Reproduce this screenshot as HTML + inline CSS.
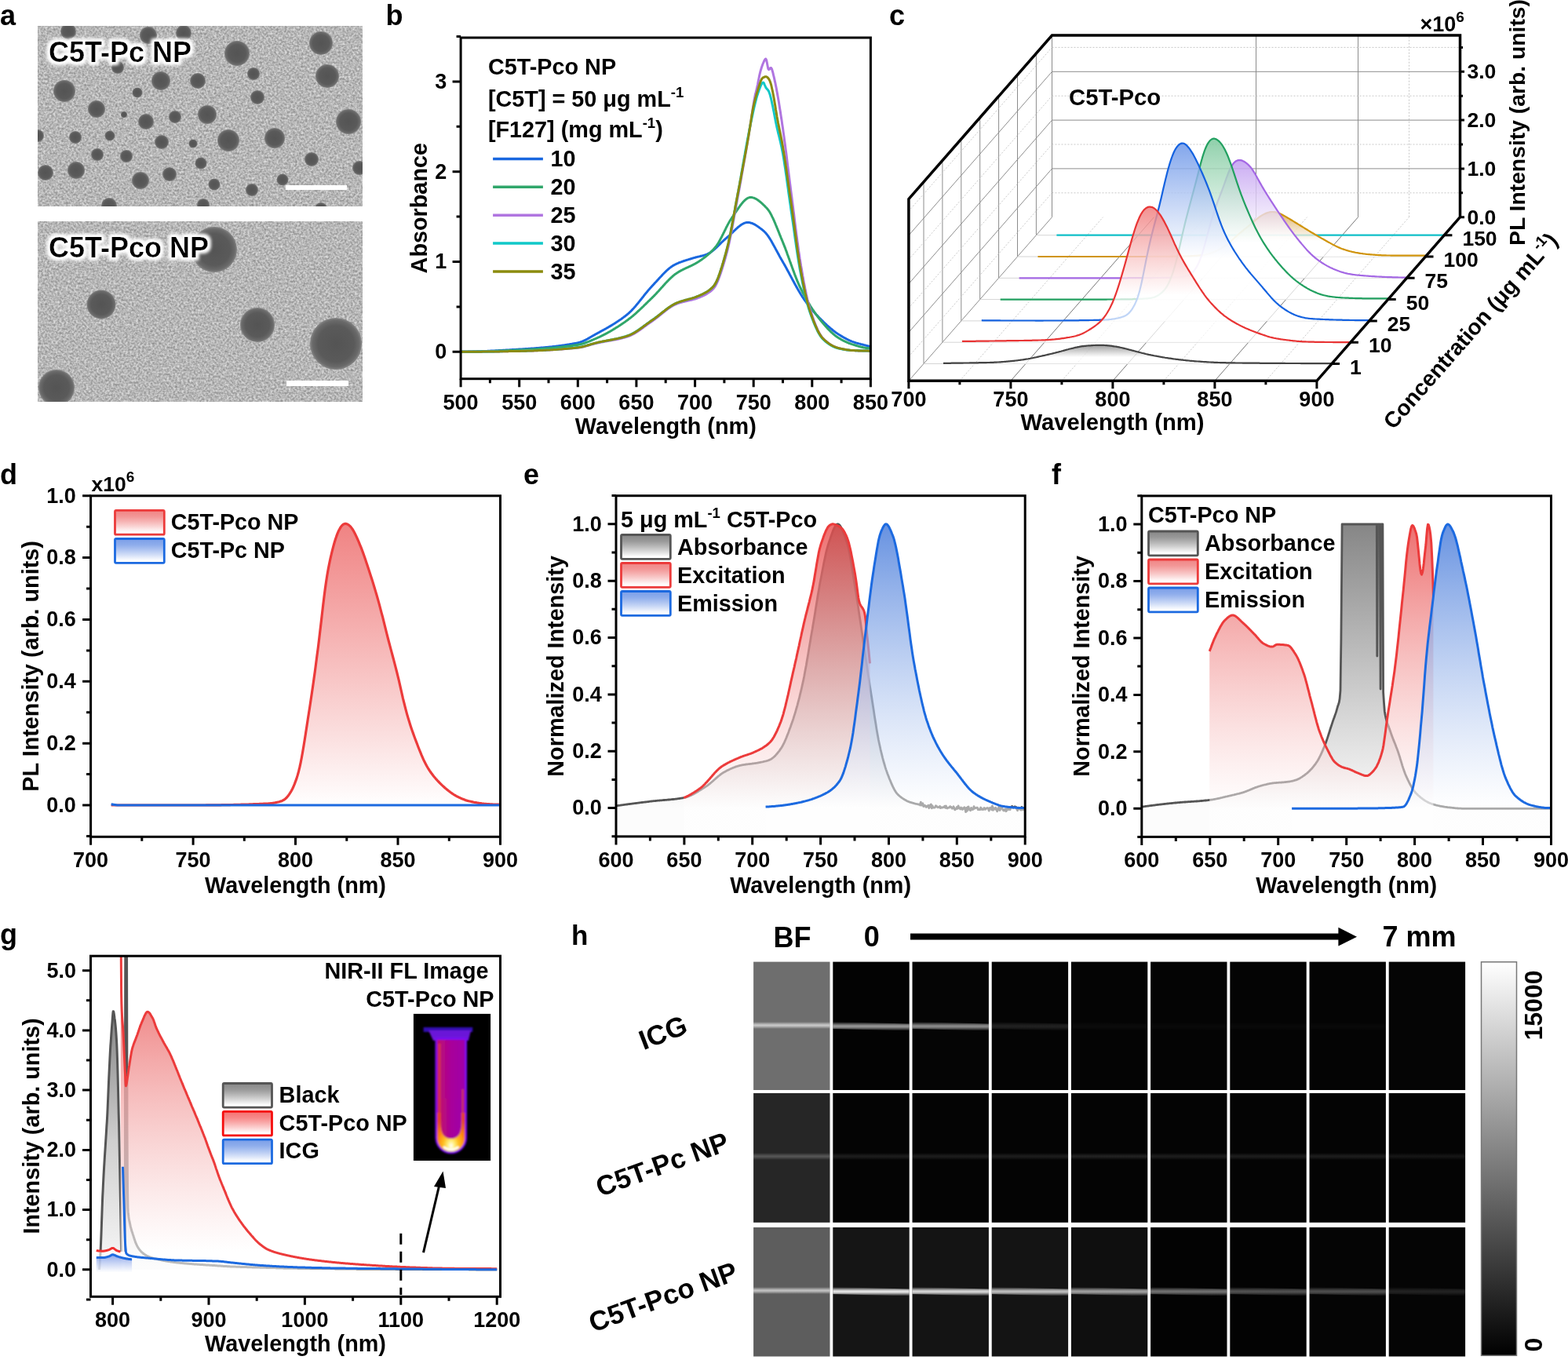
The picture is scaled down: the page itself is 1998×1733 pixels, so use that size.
<!DOCTYPE html>
<html><head><meta charset="utf-8"><title>Figure</title>
<style>
html,body{margin:0;padding:0;background:#fff;}
svg{display:block;}
text{font-family:"Liberation Sans",Arial,sans-serif;font-weight:bold;fill:#000;}
</style></head><body>
<svg width="1998" height="1733" viewBox="0 0 1998 1733">
<defs><filter id="semnoise" x="0" y="0" width="100%" height="100%" color-interpolation-filters="sRGB"><feTurbulence type="fractalNoise" baseFrequency="0.38" numOctaves="2" seed="7"/><feColorMatrix type="matrix" values="0.5 0 0 0 0.465  0.5 0 0 0 0.465  0.5 0 0 0 0.465  0 0 0 0 1"/><feGaussianBlur stdDeviation="0.6"/></filter><filter id="halo" x="-10%" y="-30%" width="120%" height="160%"><feMorphology operator="dilate" radius="2.5" in="SourceAlpha" result="d"/><feGaussianBlur in="d" stdDeviation="2.2" result="b"/><feFlood flood-color="#fff"/><feComposite in2="b" operator="in" result="w"/><feMerge><feMergeNode in="w"/><feMergeNode in="w"/><feMergeNode in="SourceGraphic"/></feMerge></filter><radialGradient id="dot"><stop offset="0" stop-color="#545454"/><stop offset="0.7" stop-color="#5a5a5a"/><stop offset="0.9" stop-color="#6a6a6a"/><stop offset="1" stop-color="#858585"/></radialGradient><clipPath id="clipA1"><rect x="48" y="33" width="414" height="230"/></clipPath><clipPath id="clipA2"><rect x="48" y="282" width="414" height="230"/></clipPath><linearGradient id="gd_red" x1="0" y1="666.4895999999999" x2="0" y2="1026.0" gradientUnits="userSpaceOnUse"><stop offset="0" stop-color="#ef7c7c" stop-opacity="0.95"/><stop offset="1" stop-color="#ffffff" stop-opacity="1"/></linearGradient><linearGradient id="lg_red_146_650" x1="0" y1="0" x2="0" y2="1"><stop offset="0" stop-color="#f08484" stop-opacity="1"/><stop offset="0.25" stop-color="#f08484" stop-opacity="0.85"/><stop offset="0.9" stop-color="#ffffff" stop-opacity="1"/><stop offset="1" stop-color="#ffffff" stop-opacity="1"/></linearGradient><linearGradient id="lg_blue_146_686" x1="0" y1="0" x2="0" y2="1"><stop offset="0" stop-color="#7a9ee8" stop-opacity="1"/><stop offset="0.25" stop-color="#7a9ee8" stop-opacity="0.85"/><stop offset="0.9" stop-color="#ffffff" stop-opacity="1"/><stop offset="1" stop-color="#ffffff" stop-opacity="1"/></linearGradient><linearGradient id="ge_gray" x1="0" y1="667.8" x2="0" y2="1029.6" gradientUnits="userSpaceOnUse"><stop offset="0" stop-color="#747474" stop-opacity="1"/><stop offset="1" stop-color="#fcfcfc" stop-opacity="1"/></linearGradient><linearGradient id="ge_red" x1="0" y1="667.8" x2="0" y2="1029.6" gradientUnits="userSpaceOnUse"><stop offset="0" stop-color="#e84a4a" stop-opacity="0.8"/><stop offset="1" stop-color="#ffffff" stop-opacity="0.5"/></linearGradient><linearGradient id="ge_blue" x1="0" y1="667.8" x2="0" y2="1029.6" gradientUnits="userSpaceOnUse"><stop offset="0" stop-color="#4076d9" stop-opacity="0.8"/><stop offset="1" stop-color="#ffffff" stop-opacity="0.5"/></linearGradient><linearGradient id="lg_gray_791_681" x1="0" y1="0" x2="0" y2="1"><stop offset="0" stop-color="#868686" stop-opacity="1"/><stop offset="0.25" stop-color="#868686" stop-opacity="0.85"/><stop offset="0.9" stop-color="#ffffff" stop-opacity="1"/><stop offset="1" stop-color="#ffffff" stop-opacity="1"/></linearGradient><linearGradient id="lg_red_791_717" x1="0" y1="0" x2="0" y2="1"><stop offset="0" stop-color="#f08484" stop-opacity="1"/><stop offset="0.25" stop-color="#f08484" stop-opacity="0.85"/><stop offset="0.9" stop-color="#ffffff" stop-opacity="1"/><stop offset="1" stop-color="#ffffff" stop-opacity="1"/></linearGradient><linearGradient id="lg_blue_791_753" x1="0" y1="0" x2="0" y2="1"><stop offset="0" stop-color="#7a9ee8" stop-opacity="1"/><stop offset="0.25" stop-color="#7a9ee8" stop-opacity="0.85"/><stop offset="0.9" stop-color="#ffffff" stop-opacity="1"/><stop offset="1" stop-color="#ffffff" stop-opacity="1"/></linearGradient><linearGradient id="gf_gray" x1="0" y1="668.0" x2="0" y2="1030.3" gradientUnits="userSpaceOnUse"><stop offset="0" stop-color="#868686" stop-opacity="1"/><stop offset="0.5" stop-color="#c2c2c2" stop-opacity="1"/><stop offset="1" stop-color="#fcfcfc" stop-opacity="1"/></linearGradient><linearGradient id="gf_red" x1="0" y1="668.0" x2="0" y2="1030.3" gradientUnits="userSpaceOnUse"><stop offset="0" stop-color="#e84a4a" stop-opacity="0.8"/><stop offset="1" stop-color="#ffffff" stop-opacity="0.5"/></linearGradient><linearGradient id="gf_blue" x1="0" y1="668.0" x2="0" y2="1030.3" gradientUnits="userSpaceOnUse"><stop offset="0" stop-color="#4076d9" stop-opacity="0.8"/><stop offset="1" stop-color="#ffffff" stop-opacity="0.5"/></linearGradient><linearGradient id="lg_gray_1463_677" x1="0" y1="0" x2="0" y2="1"><stop offset="0" stop-color="#868686" stop-opacity="1"/><stop offset="0.25" stop-color="#868686" stop-opacity="0.85"/><stop offset="0.9" stop-color="#ffffff" stop-opacity="1"/><stop offset="1" stop-color="#ffffff" stop-opacity="1"/></linearGradient><linearGradient id="lg_red_1463_713" x1="0" y1="0" x2="0" y2="1"><stop offset="0" stop-color="#f08484" stop-opacity="1"/><stop offset="0.25" stop-color="#f08484" stop-opacity="0.85"/><stop offset="0.9" stop-color="#ffffff" stop-opacity="1"/><stop offset="1" stop-color="#ffffff" stop-opacity="1"/></linearGradient><linearGradient id="lg_blue_1463_749" x1="0" y1="0" x2="0" y2="1"><stop offset="0" stop-color="#7a9ee8" stop-opacity="1"/><stop offset="0.25" stop-color="#7a9ee8" stop-opacity="0.85"/><stop offset="0.9" stop-color="#ffffff" stop-opacity="1"/><stop offset="1" stop-color="#ffffff" stop-opacity="1"/></linearGradient><clipPath id="clipG"><rect x="115.5" y="1218.2" width="522" height="434"/></clipPath><linearGradient id="gg_gray" x1="0" y1="1290.054" x2="0" y2="1617.8" gradientUnits="userSpaceOnUse"><stop offset="0" stop-color="#858585" stop-opacity="1"/><stop offset="0.5" stop-color="#cfcfcf" stop-opacity="1"/><stop offset="1" stop-color="#f8f8f8" stop-opacity="1"/></linearGradient><linearGradient id="gg_red" x1="0" y1="1290.054" x2="0" y2="1594.934" gradientUnits="userSpaceOnUse"><stop offset="0" stop-color="#ee8080" stop-opacity="0.9"/><stop offset="1" stop-color="#ffffff" stop-opacity="0.6"/></linearGradient><linearGradient id="gg_blue" x1="0" y1="1598.745" x2="0" y2="1621.6109999999999" gradientUnits="userSpaceOnUse"><stop offset="0" stop-color="#6f90e6" stop-opacity="0.8"/><stop offset="1" stop-color="#ffffff" stop-opacity="0.6"/></linearGradient><linearGradient id="lg_gray_284_1380" x1="0" y1="0" x2="0" y2="1"><stop offset="0" stop-color="#868686" stop-opacity="1"/><stop offset="0.25" stop-color="#868686" stop-opacity="0.85"/><stop offset="0.9" stop-color="#ffffff" stop-opacity="1"/><stop offset="1" stop-color="#ffffff" stop-opacity="1"/></linearGradient><linearGradient id="lg_red2_284_1416" x1="0" y1="0" x2="0" y2="1"><stop offset="0" stop-color="#f57272" stop-opacity="1"/><stop offset="0.25" stop-color="#f57272" stop-opacity="0.85"/><stop offset="0.9" stop-color="#ffffff" stop-opacity="1"/><stop offset="1" stop-color="#ffffff" stop-opacity="1"/></linearGradient><linearGradient id="lg_blue_284_1452" x1="0" y1="0" x2="0" y2="1"><stop offset="0" stop-color="#7a9ee8" stop-opacity="1"/><stop offset="0.25" stop-color="#7a9ee8" stop-opacity="0.85"/><stop offset="0.9" stop-color="#ffffff" stop-opacity="1"/><stop offset="1" stop-color="#ffffff" stop-opacity="1"/></linearGradient><filter id="tblur" x="-20%" y="-10%" width="140%" height="120%"><feGaussianBlur stdDeviation="0.9"/></filter><linearGradient id="tubein" x1="0" y1="0" x2="1" y2="0"><stop offset="0" stop-color="#c0106e"/><stop offset="0.5" stop-color="#a8009a"/><stop offset="1" stop-color="#a000a8"/></linearGradient><radialGradient id="tubebot" cx="0.5" cy="0.85" r="0.8"><stop offset="0" stop-color="#ffffff"/><stop offset="0.15" stop-color="#fff080"/><stop offset="0.35" stop-color="#ffc020"/><stop offset="0.6" stop-color="#ff8a10"/><stop offset="1" stop-color="#e04020"/></radialGradient><linearGradient id="gc_orange" x1="0" y1="270.0002949617215" x2="0" y2="326.96000000000004" gradientUnits="userSpaceOnUse"><stop offset="0" stop-color="#d8a450" stop-opacity="0.85"/><stop offset="0.65" stop-color="#ffffff" stop-opacity="0.75"/><stop offset="1" stop-color="#ffffff" stop-opacity="0.7"/></linearGradient><linearGradient id="gc_purple" x1="0" y1="203.97357174120177" x2="0" y2="354.26" gradientUnits="userSpaceOnUse"><stop offset="0" stop-color="#c09cf0" stop-opacity="0.85"/><stop offset="0.65" stop-color="#ffffff" stop-opacity="0.75"/><stop offset="1" stop-color="#ffffff" stop-opacity="0.7"/></linearGradient><linearGradient id="gc_green" x1="0" y1="176.68315269802804" x2="0" y2="381.56" gradientUnits="userSpaceOnUse"><stop offset="0" stop-color="#7cc89c" stop-opacity="0.85"/><stop offset="0.65" stop-color="#ffffff" stop-opacity="0.75"/><stop offset="1" stop-color="#ffffff" stop-opacity="0.7"/></linearGradient><linearGradient id="gc_blue" x1="0" y1="182.54271924186662" x2="0" y2="408.86" gradientUnits="userSpaceOnUse"><stop offset="0" stop-color="#6c96e8" stop-opacity="0.85"/><stop offset="0.65" stop-color="#ffffff" stop-opacity="0.75"/><stop offset="1" stop-color="#ffffff" stop-opacity="0.7"/></linearGradient><linearGradient id="gc_red" x1="0" y1="263.5877048279341" x2="0" y2="436.16" gradientUnits="userSpaceOnUse"><stop offset="0" stop-color="#f07e7e" stop-opacity="0.85"/><stop offset="0.65" stop-color="#ffffff" stop-opacity="0.75"/><stop offset="1" stop-color="#ffffff" stop-opacity="0.7"/></linearGradient><linearGradient id="gc_black" x1="0" y1="439.7997296055494" x2="0" y2="463.46000000000004" gradientUnits="userSpaceOnUse"><stop offset="0" stop-color="#8a8a8a" stop-opacity="0.85"/><stop offset="0.65" stop-color="#ffffff" stop-opacity="0.75"/><stop offset="1" stop-color="#ffffff" stop-opacity="0.7"/></linearGradient><linearGradient id="hline" x1="0" y1="0" x2="0" y2="1"><stop offset="0" stop-color="#fff" stop-opacity="0"/><stop offset="0.35" stop-color="#fff" stop-opacity="0.8"/><stop offset="0.5" stop-color="#fff" stop-opacity="1"/><stop offset="0.65" stop-color="#fff" stop-opacity="0.8"/><stop offset="1" stop-color="#fff" stop-opacity="0"/></linearGradient><linearGradient id="cbar" x1="0" y1="0" x2="0" y2="1"><stop offset="0" stop-color="#fff"/><stop offset="1" stop-color="#000"/></linearGradient></defs>
<rect width="1998" height="1733" fill="#fff"/>
<text x="0.0" y="31.5" font-size="36" text-anchor="start" >a</text>
<rect x="48" y="33" width="414" height="230" fill="#b6b6b6" filter="url(#semnoise)"/>
<rect x="48" y="282" width="414" height="230" fill="#b6b6b6" filter="url(#semnoise)"/>
<g clip-path="url(#clipA1)"><circle cx="87" cy="40" r="10" fill="url(#dot)"/><circle cx="189" cy="45" r="11" fill="url(#dot)"/><circle cx="234" cy="42" r="10" fill="url(#dot)"/><circle cx="302" cy="68" r="16" fill="url(#dot)"/><circle cx="409" cy="55" r="15" fill="url(#dot)"/><circle cx="150" cy="86" r="8" fill="url(#dot)"/><circle cx="323" cy="94" r="8" fill="url(#dot)"/><circle cx="417" cy="97" r="15" fill="url(#dot)"/><circle cx="82" cy="116" r="14" fill="url(#dot)"/><circle cx="205" cy="103" r="12" fill="url(#dot)"/><circle cx="252" cy="103" r="10" fill="url(#dot)"/><circle cx="175" cy="118" r="6.5" fill="url(#dot)"/><circle cx="328" cy="124" r="9" fill="url(#dot)"/><circle cx="123" cy="139" r="11" fill="url(#dot)"/><circle cx="158" cy="146" r="4" fill="url(#dot)"/><circle cx="186" cy="155" r="10" fill="url(#dot)"/><circle cx="223" cy="149" r="8" fill="url(#dot)"/><circle cx="264" cy="146" r="12" fill="url(#dot)"/><circle cx="444" cy="155" r="16" fill="url(#dot)"/><circle cx="48" cy="173" r="8" fill="url(#dot)"/><circle cx="96" cy="175" r="8" fill="url(#dot)"/><circle cx="140" cy="173" r="6.5" fill="url(#dot)"/><circle cx="206" cy="181" r="9" fill="url(#dot)"/><circle cx="246" cy="183" r="5.5" fill="url(#dot)"/><circle cx="291" cy="179" r="14" fill="url(#dot)"/><circle cx="350" cy="176" r="13" fill="url(#dot)"/><circle cx="397" cy="203" r="9" fill="url(#dot)"/><circle cx="124" cy="197" r="8" fill="url(#dot)"/><circle cx="161" cy="199" r="8" fill="url(#dot)"/><circle cx="256" cy="208" r="7.5" fill="url(#dot)"/><circle cx="458" cy="214" r="9" fill="url(#dot)"/><circle cx="58" cy="220" r="10" fill="url(#dot)"/><circle cx="97" cy="217" r="11" fill="url(#dot)"/><circle cx="216" cy="222" r="9" fill="url(#dot)"/><circle cx="179" cy="230" r="11" fill="url(#dot)"/><circle cx="273" cy="235" r="7.5" fill="url(#dot)"/><circle cx="321" cy="242" r="8" fill="url(#dot)"/><circle cx="360" cy="229" r="7.5" fill="url(#dot)"/><circle cx="139" cy="262" r="10" fill="url(#dot)"/><circle cx="259" cy="261" r="8" fill="url(#dot)"/><circle cx="409" cy="266" r="8" fill="url(#dot)"/></g>
<g clip-path="url(#clipA2)"><circle cx="273" cy="318" r="29" fill="url(#dot)"/><circle cx="129" cy="388" r="18.5" fill="url(#dot)"/><circle cx="328" cy="414" r="22" fill="url(#dot)"/><circle cx="428" cy="438" r="33" fill="url(#dot)"/><circle cx="72" cy="494" r="23" fill="url(#dot)"/></g>
<rect x="364" y="236" width="78" height="6" fill="#fff"/>
<rect x="365" y="485" width="79" height="7" fill="#fff"/>
<text x="62.0" y="79.0" font-size="36" text-anchor="start" filter="url(#halo)">C5T-Pc NP</text>
<text x="62.0" y="328.0" font-size="36" text-anchor="start" filter="url(#halo)">C5T-Pco NP</text>
<text x="491.5" y="31.8" font-size="36" text-anchor="start" >b</text>
<path d="M587.1,448.3 L587.8,448.3 L588.6,448.3 L589.3,448.3 L590.1,448.3 L590.8,448.3 L591.6,448.2 L592.3,448.2 L593.1,448.2 L593.8,448.2 L594.6,448.2 L595.3,448.2 L596.1,448.2 L596.8,448.1 L597.5,448.1 L598.3,448.1 L599.0,448.1 L599.8,448.1 L600.5,448.1 L601.3,448.0 L602.0,448.0 L602.8,448.0 L603.5,448.0 L604.3,448.0 L605.0,447.9 L605.8,447.9 L606.5,447.9 L607.2,447.9 L608.0,447.8 L608.7,447.8 L609.5,447.8 L610.2,447.8 L611.0,447.7 L611.7,447.7 L612.5,447.7 L613.2,447.7 L614.0,447.6 L614.7,447.6 L615.5,447.6 L616.2,447.5 L616.9,447.5 L617.7,447.5 L618.4,447.5 L619.2,447.4 L619.9,447.4 L620.7,447.4 L621.4,447.3 L622.2,447.3 L622.9,447.3 L623.7,447.2 L624.4,447.2 L625.2,447.1 L625.9,447.1 L626.6,447.1 L627.4,447.0 L628.1,447.0 L628.9,447.0 L629.6,446.9 L630.4,446.9 L631.1,446.9 L631.9,446.8 L632.6,446.8 L633.4,446.7 L634.1,446.7 L634.9,446.7 L635.6,446.6 L636.3,446.6 L637.1,446.5 L637.8,446.5 L638.6,446.5 L639.3,446.4 L640.1,446.4 L640.8,446.3 L641.6,446.3 L642.3,446.2 L643.1,446.2 L643.8,446.2 L644.6,446.1 L645.3,446.1 L646.0,446.0 L646.8,446.0 L647.5,445.9 L648.3,445.9 L649.0,445.9 L649.8,445.8 L650.5,445.8 L651.3,445.7 L652.0,445.7 L652.8,445.6 L653.5,445.6 L654.3,445.5 L655.0,445.5 L655.7,445.5 L656.5,445.4 L657.2,445.4 L658.0,445.3 L658.7,445.3 L659.5,445.2 L660.2,445.2 L661.0,445.1 L661.7,445.1 L662.5,445.0 L663.2,445.0 L664.0,444.9 L664.7,444.9 L665.4,444.9 L666.2,444.8 L666.9,444.8 L667.7,444.7 L668.4,444.7 L669.2,444.6 L669.9,444.6 L670.7,444.5 L671.4,444.5 L672.2,444.4 L672.9,444.4 L673.7,444.3 L674.4,444.3 L675.1,444.2 L675.9,444.2 L676.6,444.1 L677.4,444.1 L678.1,444.0 L678.9,444.0 L679.6,443.9 L680.4,443.9 L681.1,443.8 L681.9,443.7 L682.6,443.7 L683.4,443.6 L684.1,443.6 L684.8,443.5 L685.6,443.5 L686.3,443.4 L687.1,443.3 L687.8,443.3 L688.6,443.2 L689.3,443.1 L690.1,443.1 L690.8,443.0 L691.6,443.0 L692.3,442.9 L693.1,442.8 L693.8,442.8 L694.5,442.7 L695.3,442.6 L696.0,442.6 L696.8,442.5 L697.5,442.4 L698.3,442.3 L699.0,442.3 L699.8,442.2 L700.5,442.1 L701.3,442.0 L702.0,442.0 L702.8,441.9 L703.5,441.8 L704.2,441.7 L705.0,441.6 L705.7,441.5 L706.5,441.5 L707.2,441.4 L708.0,441.3 L708.7,441.2 L709.5,441.1 L710.2,441.0 L711.0,440.9 L711.7,440.8 L712.5,440.7 L713.2,440.6 L713.9,440.5 L714.7,440.4 L715.4,440.3 L716.2,440.2 L716.9,440.1 L717.7,440.0 L718.4,439.9 L719.2,439.8 L719.9,439.7 L720.7,439.6 L721.4,439.5 L722.2,439.3 L722.9,439.2 L723.6,439.1 L724.4,439.0 L725.1,438.9 L725.9,438.7 L726.6,438.6 L727.4,438.5 L728.1,438.4 L728.9,438.2 L729.6,438.1 L730.4,438.0 L731.1,437.8 L731.9,437.7 L732.6,437.5 L733.3,437.4 L734.1,437.3 L734.8,437.1 L735.6,436.9 L736.3,436.8 L737.1,436.6 L737.8,436.4 L738.6,436.2 L739.3,436.0 L740.1,435.7 L740.8,435.5 L741.6,435.2 L742.3,434.9 L743.0,434.6 L743.8,434.2 L744.5,433.9 L745.3,433.5 L746.0,433.2 L746.8,432.8 L747.5,432.4 L748.3,432.0 L749.0,431.6 L749.8,431.2 L750.5,430.7 L751.3,430.3 L752.0,429.9 L752.7,429.4 L753.5,429.0 L754.2,428.6 L755.0,428.1 L755.7,427.7 L756.5,427.3 L757.2,426.9 L758.0,426.4 L758.7,426.0 L759.5,425.6 L760.2,425.2 L761.0,424.8 L761.7,424.4 L762.4,424.0 L763.2,423.6 L763.9,423.2 L764.7,422.8 L765.4,422.3 L766.2,421.9 L766.9,421.5 L767.7,421.1 L768.4,420.7 L769.2,420.3 L769.9,419.9 L770.7,419.5 L771.4,419.1 L772.1,418.7 L772.9,418.2 L773.6,417.8 L774.4,417.4 L775.1,417.0 L775.9,416.5 L776.6,416.1 L777.4,415.7 L778.1,415.2 L778.9,414.8 L779.6,414.3 L780.4,413.9 L781.1,413.4 L781.8,413.0 L782.6,412.5 L783.3,412.0 L784.1,411.6 L784.8,411.1 L785.6,410.6 L786.3,410.1 L787.1,409.6 L787.8,409.1 L788.6,408.6 L789.3,408.1 L790.1,407.6 L790.8,407.1 L791.5,406.6 L792.3,406.0 L793.0,405.5 L793.8,404.9 L794.5,404.4 L795.3,403.8 L796.0,403.3 L796.8,402.7 L797.5,402.1 L798.3,401.5 L799.0,400.9 L799.8,400.3 L800.5,399.7 L801.2,399.0 L802.0,398.3 L802.7,397.6 L803.5,396.9 L804.2,396.2 L805.0,395.4 L805.7,394.6 L806.5,393.8 L807.2,393.0 L808.0,392.2 L808.7,391.3 L809.5,390.5 L810.2,389.6 L810.9,388.7 L811.7,387.8 L812.4,386.9 L813.2,386.0 L813.9,385.1 L814.7,384.1 L815.4,383.2 L816.2,382.3 L816.9,381.3 L817.7,380.4 L818.4,379.4 L819.2,378.5 L819.9,377.6 L820.6,376.6 L821.4,375.7 L822.1,374.7 L822.9,373.8 L823.6,372.9 L824.4,372.0 L825.1,371.1 L825.9,370.2 L826.6,369.3 L827.4,368.5 L828.1,367.6 L828.9,366.8 L829.6,366.0 L830.3,365.2 L831.1,364.3 L831.8,363.6 L832.6,362.8 L833.3,361.9 L834.1,361.1 L834.8,360.3 L835.6,359.5 L836.3,358.7 L837.1,357.9 L837.8,357.1 L838.6,356.2 L839.3,355.4 L840.0,354.6 L840.8,353.8 L841.5,353.0 L842.3,352.2 L843.0,351.4 L843.8,350.6 L844.5,349.8 L845.3,349.0 L846.0,348.3 L846.8,347.5 L847.5,346.8 L848.2,346.1 L849.0,345.3 L849.7,344.6 L850.5,344.0 L851.2,343.3 L852.0,342.7 L852.7,342.0 L853.5,341.4 L854.2,340.9 L855.0,340.3 L855.7,339.8 L856.5,339.3 L857.2,338.8 L857.9,338.3 L858.7,337.9 L859.4,337.5 L860.2,337.1 L860.9,336.7 L861.7,336.4 L862.4,336.0 L863.2,335.7 L863.9,335.4 L864.7,335.0 L865.4,334.7 L866.2,334.4 L866.9,334.2 L867.6,333.9 L868.4,333.6 L869.1,333.3 L869.9,333.1 L870.6,332.8 L871.4,332.5 L872.1,332.3 L872.9,332.1 L873.6,331.8 L874.4,331.6 L875.1,331.3 L875.9,331.1 L876.6,330.9 L877.3,330.7 L878.1,330.4 L878.8,330.2 L879.6,330.0 L880.3,329.7 L881.1,329.5 L881.8,329.3 L882.6,329.1 L883.3,328.8 L884.1,328.6 L884.8,328.4 L885.6,328.2 L886.3,328.0 L887.0,327.8 L887.8,327.6 L888.5,327.4 L889.3,327.2 L890.0,327.1 L890.8,326.9 L891.5,326.7 L892.3,326.5 L893.0,326.3 L893.8,326.2 L894.5,326.0 L895.3,325.8 L896.0,325.6 L896.7,325.4 L897.5,325.1 L898.2,324.9 L899.0,324.6 L899.7,324.4 L900.5,324.1 L901.2,323.8 L902.0,323.5 L902.7,323.1 L903.5,322.7 L904.2,322.3 L905.0,321.9 L905.7,321.4 L906.4,320.9 L907.2,320.3 L907.9,319.7 L908.7,319.1 L909.4,318.5 L910.2,317.9 L910.9,317.2 L911.7,316.5 L912.4,315.8 L913.2,315.1 L913.9,314.4 L914.7,313.7 L915.4,312.9 L916.1,312.2 L916.9,311.5 L917.6,310.7 L918.4,310.0 L919.1,309.3 L919.9,308.5 L920.6,307.8 L921.4,307.1 L922.1,306.4 L922.9,305.8 L923.6,305.1 L924.4,304.4 L925.1,303.8 L925.8,303.2 L926.6,302.5 L927.3,301.9 L928.1,301.2 L928.8,300.6 L929.6,299.9 L930.3,299.2 L931.1,298.5 L931.8,297.7 L932.6,297.0 L933.3,296.3 L934.1,295.6 L934.8,294.8 L935.5,294.1 L936.3,293.4 L937.0,292.7 L937.8,292.0 L938.5,291.3 L939.3,290.6 L940.0,289.9 L940.8,289.3 L941.5,288.7 L942.3,288.1 L943.0,287.5 L943.8,287.0 L944.5,286.4 L945.2,286.0 L946.0,285.5 L946.7,285.1 L947.5,284.8 L948.2,284.4 L949.0,284.1 L949.7,283.9 L950.5,283.7 L951.2,283.6 L952.0,283.5 L952.7,283.5 L953.5,283.5 L954.2,283.5 L954.9,283.6 L955.7,283.8 L956.4,284.0 L957.2,284.2 L957.9,284.4 L958.7,284.7 L959.4,285.0 L960.2,285.4 L960.9,285.7 L961.7,286.1 L962.4,286.5 L963.2,287.0 L963.9,287.4 L964.6,287.9 L965.4,288.4 L966.1,288.9 L966.9,289.5 L967.6,290.0 L968.4,290.6 L969.1,291.1 L969.9,291.7 L970.6,292.3 L971.4,292.9 L972.1,293.5 L972.9,294.1 L973.6,294.8 L974.3,295.5 L975.1,296.3 L975.8,297.1 L976.6,298.0 L977.3,298.9 L978.1,299.9 L978.8,300.9 L979.6,302.0 L980.3,303.1 L981.1,304.3 L981.8,305.5 L982.6,306.8 L983.3,308.0 L984.0,309.3 L984.8,310.7 L985.5,312.0 L986.3,313.4 L987.0,314.7 L987.8,316.1 L988.5,317.5 L989.3,318.9 L990.0,320.3 L990.8,321.7 L991.5,323.1 L992.3,324.4 L993.0,325.8 L993.7,327.2 L994.5,328.5 L995.2,329.8 L996.0,331.1 L996.7,332.4 L997.5,333.7 L998.2,335.0 L999.0,336.3 L999.7,337.6 L1000.5,338.9 L1001.2,340.3 L1002.0,341.6 L1002.7,343.0 L1003.4,344.4 L1004.2,345.7 L1004.9,347.1 L1005.7,348.5 L1006.4,349.9 L1007.2,351.3 L1007.9,352.7 L1008.7,354.1 L1009.4,355.5 L1010.2,356.9 L1010.9,358.3 L1011.7,359.6 L1012.4,361.0 L1013.1,362.4 L1013.9,363.7 L1014.6,365.1 L1015.4,366.4 L1016.1,367.7 L1016.9,369.0 L1017.6,370.3 L1018.4,371.6 L1019.1,372.9 L1019.9,374.1 L1020.6,375.3 L1021.4,376.5 L1022.1,377.7 L1022.8,378.8 L1023.6,379.9 L1024.3,381.0 L1025.1,382.1 L1025.8,383.1 L1026.6,384.2 L1027.3,385.2 L1028.1,386.2 L1028.8,387.2 L1029.6,388.2 L1030.3,389.2 L1031.1,390.1 L1031.8,391.1 L1032.5,392.0 L1033.3,392.9 L1034.0,393.8 L1034.8,394.7 L1035.5,395.6 L1036.3,396.5 L1037.0,397.4 L1037.8,398.2 L1038.5,399.1 L1039.3,399.9 L1040.0,400.7 L1040.8,401.5 L1041.5,402.3 L1042.2,403.1 L1043.0,403.9 L1043.7,404.7 L1044.5,405.4 L1045.2,406.2 L1046.0,406.9 L1046.7,407.7 L1047.5,408.4 L1048.2,409.1 L1049.0,409.9 L1049.7,410.6 L1050.5,411.3 L1051.2,412.0 L1051.9,412.7 L1052.7,413.4 L1053.4,414.1 L1054.2,414.8 L1054.9,415.5 L1055.7,416.1 L1056.4,416.8 L1057.2,417.4 L1057.9,418.1 L1058.7,418.7 L1059.4,419.3 L1060.2,419.9 L1060.9,420.5 L1061.6,421.1 L1062.4,421.7 L1063.1,422.3 L1063.9,422.8 L1064.6,423.4 L1065.4,423.9 L1066.1,424.4 L1066.9,424.9 L1067.6,425.4 L1068.4,425.9 L1069.1,426.4 L1069.9,426.9 L1070.6,427.3 L1071.3,427.8 L1072.1,428.2 L1072.8,428.7 L1073.6,429.1 L1074.3,429.6 L1075.1,430.0 L1075.8,430.4 L1076.6,430.8 L1077.3,431.2 L1078.1,431.6 L1078.8,432.0 L1079.6,432.4 L1080.3,432.8 L1081.0,433.1 L1081.8,433.5 L1082.5,433.8 L1083.3,434.1 L1084.0,434.5 L1084.8,434.8 L1085.5,435.1 L1086.3,435.4 L1087.0,435.6 L1087.8,435.9 L1088.5,436.2 L1089.3,436.4 L1090.0,436.6 L1090.7,436.9 L1091.5,437.1 L1092.2,437.3 L1093.0,437.5 L1093.7,437.7 L1094.5,437.9 L1095.2,438.1 L1096.0,438.3 L1096.7,438.5 L1097.5,438.7 L1098.2,438.9 L1099.0,439.0 L1099.7,439.2 L1100.4,439.4 L1101.2,439.6 L1101.9,439.8 L1102.7,440.0 L1103.4,440.2 L1104.2,440.4 L1104.9,440.6 L1105.7,440.8 L1106.4,441.0 L1107.2,441.3 L1107.9,441.5 L1108.7,441.7 L1109.4,442.0" fill="none" stroke="#1967df" stroke-width="3" stroke-linejoin="round" stroke-linecap="butt" />
<path d="M587.1,448.3 L587.8,448.3 L588.6,448.3 L589.3,448.3 L590.1,448.3 L590.8,448.3 L591.6,448.3 L592.3,448.3 L593.1,448.3 L593.8,448.3 L594.6,448.3 L595.3,448.2 L596.1,448.2 L596.8,448.2 L597.5,448.2 L598.3,448.2 L599.0,448.2 L599.8,448.2 L600.5,448.2 L601.3,448.2 L602.0,448.2 L602.8,448.1 L603.5,448.1 L604.3,448.1 L605.0,448.1 L605.8,448.1 L606.5,448.1 L607.2,448.1 L608.0,448.0 L608.7,448.0 L609.5,448.0 L610.2,448.0 L611.0,448.0 L611.7,447.9 L612.5,447.9 L613.2,447.9 L614.0,447.9 L614.7,447.9 L615.5,447.8 L616.2,447.8 L616.9,447.8 L617.7,447.8 L618.4,447.8 L619.2,447.7 L619.9,447.7 L620.7,447.7 L621.4,447.7 L622.2,447.6 L622.9,447.6 L623.7,447.6 L624.4,447.6 L625.2,447.5 L625.9,447.5 L626.6,447.5 L627.4,447.5 L628.1,447.4 L628.9,447.4 L629.6,447.4 L630.4,447.3 L631.1,447.3 L631.9,447.3 L632.6,447.3 L633.4,447.2 L634.1,447.2 L634.9,447.2 L635.6,447.1 L636.3,447.1 L637.1,447.1 L637.8,447.1 L638.6,447.0 L639.3,447.0 L640.1,447.0 L640.8,446.9 L641.6,446.9 L642.3,446.9 L643.1,446.8 L643.8,446.8 L644.6,446.8 L645.3,446.7 L646.0,446.7 L646.8,446.7 L647.5,446.6 L648.3,446.6 L649.0,446.6 L649.8,446.5 L650.5,446.5 L651.3,446.5 L652.0,446.4 L652.8,446.4 L653.5,446.4 L654.3,446.3 L655.0,446.3 L655.7,446.3 L656.5,446.2 L657.2,446.2 L658.0,446.2 L658.7,446.1 L659.5,446.1 L660.2,446.1 L661.0,446.0 L661.7,446.0 L662.5,446.0 L663.2,445.9 L664.0,445.9 L664.7,445.9 L665.4,445.8 L666.2,445.8 L666.9,445.8 L667.7,445.7 L668.4,445.7 L669.2,445.6 L669.9,445.6 L670.7,445.6 L671.4,445.5 L672.2,445.5 L672.9,445.5 L673.7,445.4 L674.4,445.4 L675.1,445.3 L675.9,445.3 L676.6,445.3 L677.4,445.2 L678.1,445.2 L678.9,445.1 L679.6,445.1 L680.4,445.0 L681.1,445.0 L681.9,444.9 L682.6,444.9 L683.4,444.9 L684.1,444.8 L684.8,444.8 L685.6,444.7 L686.3,444.7 L687.1,444.6 L687.8,444.6 L688.6,444.5 L689.3,444.5 L690.1,444.4 L690.8,444.4 L691.6,444.3 L692.3,444.2 L693.1,444.2 L693.8,444.1 L694.5,444.1 L695.3,444.0 L696.0,444.0 L696.8,443.9 L697.5,443.8 L698.3,443.8 L699.0,443.7 L699.8,443.7 L700.5,443.6 L701.3,443.5 L702.0,443.5 L702.8,443.4 L703.5,443.3 L704.2,443.3 L705.0,443.2 L705.7,443.1 L706.5,443.1 L707.2,443.0 L708.0,442.9 L708.7,442.8 L709.5,442.8 L710.2,442.7 L711.0,442.6 L711.7,442.5 L712.5,442.5 L713.2,442.4 L713.9,442.3 L714.7,442.2 L715.4,442.1 L716.2,442.1 L716.9,442.0 L717.7,441.9 L718.4,441.8 L719.2,441.7 L719.9,441.6 L720.7,441.5 L721.4,441.4 L722.2,441.3 L722.9,441.3 L723.6,441.2 L724.4,441.1 L725.1,441.0 L725.9,440.9 L726.6,440.8 L727.4,440.7 L728.1,440.6 L728.9,440.5 L729.6,440.4 L730.4,440.2 L731.1,440.1 L731.9,440.0 L732.6,439.9 L733.3,439.8 L734.1,439.7 L734.8,439.6 L735.6,439.5 L736.3,439.3 L737.1,439.2 L737.8,439.0 L738.6,438.9 L739.3,438.7 L740.1,438.6 L740.8,438.4 L741.6,438.2 L742.3,438.0 L743.0,437.7 L743.8,437.5 L744.5,437.3 L745.3,437.0 L746.0,436.8 L746.8,436.5 L747.5,436.2 L748.3,435.9 L749.0,435.7 L749.8,435.4 L750.5,435.1 L751.3,434.8 L752.0,434.5 L752.7,434.1 L753.5,433.8 L754.2,433.5 L755.0,433.2 L755.7,432.9 L756.5,432.6 L757.2,432.2 L758.0,431.9 L758.7,431.6 L759.5,431.3 L760.2,430.9 L761.0,430.6 L761.7,430.3 L762.4,429.9 L763.2,429.6 L763.9,429.3 L764.7,428.9 L765.4,428.6 L766.2,428.2 L766.9,427.8 L767.7,427.5 L768.4,427.1 L769.2,426.7 L769.9,426.3 L770.7,426.0 L771.4,425.6 L772.1,425.2 L772.9,424.8 L773.6,424.4 L774.4,424.0 L775.1,423.5 L775.9,423.1 L776.6,422.7 L777.4,422.3 L778.1,421.9 L778.9,421.4 L779.6,421.0 L780.4,420.5 L781.1,420.1 L781.8,419.6 L782.6,419.2 L783.3,418.7 L784.1,418.3 L784.8,417.8 L785.6,417.3 L786.3,416.9 L787.1,416.4 L787.8,415.9 L788.6,415.4 L789.3,414.9 L790.1,414.4 L790.8,414.0 L791.5,413.5 L792.3,413.0 L793.0,412.4 L793.8,411.9 L794.5,411.4 L795.3,410.9 L796.0,410.4 L796.8,409.9 L797.5,409.3 L798.3,408.8 L799.0,408.3 L799.8,407.7 L800.5,407.2 L801.2,406.6 L802.0,406.1 L802.7,405.5 L803.5,404.9 L804.2,404.3 L805.0,403.7 L805.7,403.1 L806.5,402.5 L807.2,401.9 L808.0,401.2 L808.7,400.6 L809.5,399.9 L810.2,399.3 L810.9,398.6 L811.7,397.9 L812.4,397.2 L813.2,396.5 L813.9,395.9 L814.7,395.2 L815.4,394.5 L816.2,393.7 L816.9,393.0 L817.7,392.3 L818.4,391.6 L819.2,390.9 L819.9,390.2 L820.6,389.4 L821.4,388.7 L822.1,388.0 L822.9,387.3 L823.6,386.5 L824.4,385.8 L825.1,385.1 L825.9,384.3 L826.6,383.6 L827.4,382.9 L828.1,382.2 L828.9,381.4 L829.6,380.7 L830.3,380.0 L831.1,379.3 L831.8,378.5 L832.6,377.8 L833.3,377.0 L834.1,376.3 L834.8,375.5 L835.6,374.7 L836.3,373.9 L837.1,373.1 L837.8,372.3 L838.6,371.5 L839.3,370.7 L840.0,369.9 L840.8,369.0 L841.5,368.2 L842.3,367.4 L843.0,366.5 L843.8,365.7 L844.5,364.9 L845.3,364.1 L846.0,363.2 L846.8,362.4 L847.5,361.6 L848.2,360.8 L849.0,360.0 L849.7,359.2 L850.5,358.4 L851.2,357.7 L852.0,356.9 L852.7,356.1 L853.5,355.4 L854.2,354.7 L855.0,354.0 L855.7,353.3 L856.5,352.6 L857.2,352.0 L857.9,351.3 L858.7,350.7 L859.4,350.1 L860.2,349.6 L860.9,349.0 L861.7,348.5 L862.4,348.0 L863.2,347.5 L863.9,347.0 L864.7,346.5 L865.4,346.1 L866.2,345.7 L866.9,345.2 L867.6,344.8 L868.4,344.4 L869.1,344.1 L869.9,343.7 L870.6,343.3 L871.4,342.9 L872.1,342.6 L872.9,342.2 L873.6,341.9 L874.4,341.5 L875.1,341.2 L875.9,340.9 L876.6,340.5 L877.3,340.2 L878.1,339.8 L878.8,339.5 L879.6,339.1 L880.3,338.8 L881.1,338.4 L881.8,338.1 L882.6,337.7 L883.3,337.3 L884.1,336.9 L884.8,336.5 L885.6,336.1 L886.3,335.7 L887.0,335.3 L887.8,334.9 L888.5,334.4 L889.3,333.9 L890.0,333.5 L890.8,333.0 L891.5,332.5 L892.3,332.0 L893.0,331.5 L893.8,331.0 L894.5,330.4 L895.3,329.9 L896.0,329.4 L896.7,328.8 L897.5,328.2 L898.2,327.7 L899.0,327.1 L899.7,326.5 L900.5,325.9 L901.2,325.3 L902.0,324.6 L902.7,324.0 L903.5,323.3 L904.2,322.7 L905.0,322.0 L905.7,321.3 L906.4,320.5 L907.2,319.8 L907.9,319.0 L908.7,318.3 L909.4,317.5 L910.2,316.6 L910.9,315.8 L911.7,314.8 L912.4,313.9 L913.2,312.9 L913.9,311.8 L914.7,310.6 L915.4,309.4 L916.1,308.2 L916.9,306.9 L917.6,305.5 L918.4,304.1 L919.1,302.7 L919.9,301.2 L920.6,299.7 L921.4,298.2 L922.1,296.7 L922.9,295.2 L923.6,293.7 L924.4,292.2 L925.1,290.7 L925.8,289.2 L926.6,287.7 L927.3,286.3 L928.1,284.9 L928.8,283.6 L929.6,282.3 L930.3,281.0 L931.1,279.8 L931.8,278.7 L932.6,277.5 L933.3,276.4 L934.1,275.4 L934.8,274.3 L935.5,273.2 L936.3,272.1 L937.0,271.0 L937.8,269.9 L938.5,268.8 L939.3,267.7 L940.0,266.6 L940.8,265.5 L941.5,264.4 L942.3,263.4 L943.0,262.3 L943.8,261.3 L944.5,260.3 L945.2,259.4 L946.0,258.5 L946.7,257.6 L947.5,256.8 L948.2,256.0 L949.0,255.3 L949.7,254.6 L950.5,254.0 L951.2,253.4 L952.0,252.9 L952.7,252.5 L953.5,252.1 L954.2,251.9 L954.9,251.7 L955.7,251.5 L956.4,251.5 L957.2,251.5 L957.9,251.6 L958.7,251.7 L959.4,251.9 L960.2,252.1 L960.9,252.3 L961.7,252.7 L962.4,253.0 L963.2,253.4 L963.9,253.8 L964.6,254.2 L965.4,254.7 L966.1,255.2 L966.9,255.8 L967.6,256.4 L968.4,256.9 L969.1,257.6 L969.9,258.2 L970.6,258.9 L971.4,259.6 L972.1,260.3 L972.9,261.0 L973.6,261.7 L974.3,262.4 L975.1,263.2 L975.8,264.0 L976.6,264.8 L977.3,265.6 L978.1,266.5 L978.8,267.4 L979.6,268.4 L980.3,269.5 L981.1,270.7 L981.8,272.0 L982.6,273.4 L983.3,274.8 L984.0,276.3 L984.8,277.9 L985.5,279.5 L986.3,281.2 L987.0,282.9 L987.8,284.7 L988.5,286.5 L989.3,288.3 L990.0,290.1 L990.8,292.0 L991.5,293.9 L992.3,295.7 L993.0,297.6 L993.7,299.4 L994.5,301.2 L995.2,303.1 L996.0,304.9 L996.7,306.7 L997.5,308.5 L998.2,310.4 L999.0,312.3 L999.7,314.2 L1000.5,316.1 L1001.2,318.1 L1002.0,320.1 L1002.7,322.1 L1003.4,324.2 L1004.2,326.2 L1004.9,328.3 L1005.7,330.4 L1006.4,332.5 L1007.2,334.6 L1007.9,336.6 L1008.7,338.7 L1009.4,340.8 L1010.2,342.9 L1010.9,344.9 L1011.7,346.9 L1012.4,348.9 L1013.1,350.9 L1013.9,352.8 L1014.6,354.7 L1015.4,356.6 L1016.1,358.4 L1016.9,360.2 L1017.6,361.9 L1018.4,363.6 L1019.1,365.2 L1019.9,366.7 L1020.6,368.3 L1021.4,369.8 L1022.1,371.2 L1022.8,372.7 L1023.6,374.1 L1024.3,375.5 L1025.1,376.9 L1025.8,378.3 L1026.6,379.6 L1027.3,380.9 L1028.1,382.3 L1028.8,383.6 L1029.6,384.8 L1030.3,386.1 L1031.1,387.3 L1031.8,388.6 L1032.5,389.8 L1033.3,391.0 L1034.0,392.1 L1034.8,393.3 L1035.5,394.4 L1036.3,395.5 L1037.0,396.7 L1037.8,397.7 L1038.5,398.8 L1039.3,399.9 L1040.0,400.9 L1040.8,401.9 L1041.5,402.9 L1042.2,403.9 L1043.0,404.8 L1043.7,405.8 L1044.5,406.7 L1045.2,407.7 L1046.0,408.6 L1046.7,409.5 L1047.5,410.4 L1048.2,411.3 L1049.0,412.2 L1049.7,413.1 L1050.5,413.9 L1051.2,414.8 L1051.9,415.7 L1052.7,416.5 L1053.4,417.3 L1054.2,418.1 L1054.9,419.0 L1055.7,419.7 L1056.4,420.5 L1057.2,421.3 L1057.9,422.0 L1058.7,422.7 L1059.4,423.5 L1060.2,424.1 L1060.9,424.8 L1061.6,425.5 L1062.4,426.1 L1063.1,426.7 L1063.9,427.3 L1064.6,427.9 L1065.4,428.4 L1066.1,429.0 L1066.9,429.5 L1067.6,430.0 L1068.4,430.5 L1069.1,430.9 L1069.9,431.4 L1070.6,431.8 L1071.3,432.2 L1072.1,432.7 L1072.8,433.1 L1073.6,433.5 L1074.3,433.9 L1075.1,434.3 L1075.8,434.6 L1076.6,435.0 L1077.3,435.3 L1078.1,435.7 L1078.8,436.0 L1079.6,436.4 L1080.3,436.7 L1081.0,437.0 L1081.8,437.3 L1082.5,437.6 L1083.3,437.8 L1084.0,438.1 L1084.8,438.4 L1085.5,438.6 L1086.3,438.9 L1087.0,439.1 L1087.8,439.3 L1088.5,439.6 L1089.3,439.8 L1090.0,440.0 L1090.7,440.3 L1091.5,440.5 L1092.2,440.7 L1093.0,440.9 L1093.7,441.2 L1094.5,441.4 L1095.2,441.6 L1096.0,441.8 L1096.7,442.0 L1097.5,442.2 L1098.2,442.4 L1099.0,442.5 L1099.7,442.7 L1100.4,442.9 L1101.2,443.0 L1101.9,443.1 L1102.7,443.3 L1103.4,443.4 L1104.2,443.5 L1104.9,443.5 L1105.7,443.6 L1106.4,443.6 L1107.2,443.7 L1107.9,443.7 L1108.7,443.7 L1109.4,443.7" fill="none" stroke="#30a66a" stroke-width="3" stroke-linejoin="round" stroke-linecap="butt" />
<path d="M587.1,448.3 L587.8,448.3 L588.6,448.3 L589.3,448.3 L590.1,448.3 L590.8,448.3 L591.6,448.3 L592.3,448.3 L593.1,448.3 L593.8,448.3 L594.6,448.3 L595.3,448.3 L596.1,448.3 L596.8,448.3 L597.5,448.3 L598.3,448.3 L599.0,448.3 L599.8,448.3 L600.5,448.3 L601.3,448.3 L602.0,448.3 L602.8,448.2 L603.5,448.2 L604.3,448.2 L605.0,448.2 L605.8,448.2 L606.5,448.2 L607.2,448.2 L608.0,448.2 L608.7,448.2 L609.5,448.2 L610.2,448.2 L611.0,448.2 L611.7,448.2 L612.5,448.2 L613.2,448.2 L614.0,448.2 L614.7,448.1 L615.5,448.1 L616.2,448.1 L616.9,448.1 L617.7,448.1 L618.4,448.1 L619.2,448.1 L619.9,448.1 L620.7,448.1 L621.4,448.1 L622.2,448.1 L622.9,448.0 L623.7,448.0 L624.4,448.0 L625.2,448.0 L625.9,448.0 L626.6,448.0 L627.4,448.0 L628.1,448.0 L628.9,448.0 L629.6,448.0 L630.4,447.9 L631.1,447.9 L631.9,447.9 L632.6,447.9 L633.4,447.9 L634.1,447.9 L634.9,447.9 L635.6,447.9 L636.3,447.9 L637.1,447.8 L637.8,447.8 L638.6,447.8 L639.3,447.8 L640.1,447.8 L640.8,447.8 L641.6,447.8 L642.3,447.8 L643.1,447.7 L643.8,447.7 L644.6,447.7 L645.3,447.7 L646.0,447.7 L646.8,447.7 L647.5,447.7 L648.3,447.6 L649.0,447.6 L649.8,447.6 L650.5,447.6 L651.3,447.6 L652.0,447.6 L652.8,447.6 L653.5,447.5 L654.3,447.5 L655.0,447.5 L655.7,447.5 L656.5,447.5 L657.2,447.5 L658.0,447.5 L658.7,447.4 L659.5,447.4 L660.2,447.4 L661.0,447.4 L661.7,447.4 L662.5,447.4 L663.2,447.4 L664.0,447.3 L664.7,447.3 L665.4,447.3 L666.2,447.3 L666.9,447.3 L667.7,447.2 L668.4,447.2 L669.2,447.2 L669.9,447.2 L670.7,447.2 L671.4,447.1 L672.2,447.1 L672.9,447.1 L673.7,447.1 L674.4,447.1 L675.1,447.0 L675.9,447.0 L676.6,447.0 L677.4,447.0 L678.1,446.9 L678.9,446.9 L679.6,446.9 L680.4,446.9 L681.1,446.8 L681.9,446.8 L682.6,446.8 L683.4,446.8 L684.1,446.7 L684.8,446.7 L685.6,446.7 L686.3,446.6 L687.1,446.6 L687.8,446.6 L688.6,446.5 L689.3,446.5 L690.1,446.5 L690.8,446.4 L691.6,446.4 L692.3,446.4 L693.1,446.3 L693.8,446.3 L694.5,446.3 L695.3,446.2 L696.0,446.2 L696.8,446.2 L697.5,446.1 L698.3,446.1 L699.0,446.0 L699.8,446.0 L700.5,446.0 L701.3,445.9 L702.0,445.9 L702.8,445.8 L703.5,445.8 L704.2,445.7 L705.0,445.7 L705.7,445.6 L706.5,445.6 L707.2,445.5 L708.0,445.5 L708.7,445.5 L709.5,445.4 L710.2,445.4 L711.0,445.3 L711.7,445.2 L712.5,445.2 L713.2,445.1 L713.9,445.1 L714.7,445.0 L715.4,445.0 L716.2,444.9 L716.9,444.9 L717.7,444.8 L718.4,444.8 L719.2,444.7 L719.9,444.6 L720.7,444.6 L721.4,444.5 L722.2,444.5 L722.9,444.4 L723.6,444.3 L724.4,444.3 L725.1,444.2 L725.9,444.1 L726.6,444.1 L727.4,444.0 L728.1,443.9 L728.9,443.9 L729.6,443.8 L730.4,443.7 L731.1,443.7 L731.9,443.6 L732.6,443.5 L733.3,443.4 L734.1,443.4 L734.8,443.3 L735.6,443.2 L736.3,443.1 L737.1,443.0 L737.8,442.9 L738.6,442.8 L739.3,442.7 L740.1,442.6 L740.8,442.4 L741.6,442.3 L742.3,442.1 L743.0,442.0 L743.8,441.8 L744.5,441.6 L745.3,441.4 L746.0,441.2 L746.8,441.0 L747.5,440.8 L748.3,440.6 L749.0,440.4 L749.8,440.2 L750.5,439.9 L751.3,439.7 L752.0,439.5 L752.7,439.3 L753.5,439.1 L754.2,438.9 L755.0,438.7 L755.7,438.5 L756.5,438.3 L757.2,438.1 L758.0,437.9 L758.7,437.7 L759.5,437.5 L760.2,437.3 L761.0,437.2 L761.7,437.0 L762.4,436.8 L763.2,436.7 L763.9,436.5 L764.7,436.4 L765.4,436.2 L766.2,436.1 L766.9,435.9 L767.7,435.8 L768.4,435.7 L769.2,435.5 L769.9,435.4 L770.7,435.2 L771.4,435.1 L772.1,435.0 L772.9,434.8 L773.6,434.7 L774.4,434.6 L775.1,434.4 L775.9,434.3 L776.6,434.2 L777.4,434.0 L778.1,433.9 L778.9,433.8 L779.6,433.6 L780.4,433.5 L781.1,433.4 L781.8,433.2 L782.6,433.1 L783.3,432.9 L784.1,432.8 L784.8,432.7 L785.6,432.5 L786.3,432.4 L787.1,432.2 L787.8,432.0 L788.6,431.9 L789.3,431.7 L790.1,431.5 L790.8,431.4 L791.5,431.2 L792.3,431.0 L793.0,430.8 L793.8,430.6 L794.5,430.4 L795.3,430.2 L796.0,430.0 L796.8,429.8 L797.5,429.6 L798.3,429.3 L799.0,429.1 L799.8,428.9 L800.5,428.6 L801.2,428.4 L802.0,428.1 L802.7,427.8 L803.5,427.4 L804.2,427.1 L805.0,426.7 L805.7,426.4 L806.5,426.0 L807.2,425.6 L808.0,425.2 L808.7,424.7 L809.5,424.3 L810.2,423.8 L810.9,423.4 L811.7,422.9 L812.4,422.4 L813.2,421.9 L813.9,421.4 L814.7,420.9 L815.4,420.4 L816.2,419.9 L816.9,419.3 L817.7,418.8 L818.4,418.3 L819.2,417.7 L819.9,417.2 L820.6,416.6 L821.4,416.1 L822.1,415.5 L822.9,415.0 L823.6,414.4 L824.4,413.9 L825.1,413.4 L825.9,412.8 L826.6,412.3 L827.4,411.7 L828.1,411.2 L828.9,410.7 L829.6,410.2 L830.3,409.7 L831.1,409.2 L831.8,408.7 L832.6,408.1 L833.3,407.6 L834.1,407.1 L834.8,406.5 L835.6,405.9 L836.3,405.4 L837.1,404.8 L837.8,404.2 L838.6,403.6 L839.3,403.0 L840.0,402.4 L840.8,401.8 L841.5,401.2 L842.3,400.6 L843.0,400.0 L843.8,399.4 L844.5,398.8 L845.3,398.2 L846.0,397.6 L846.8,397.0 L847.5,396.4 L848.2,395.8 L849.0,395.2 L849.7,394.7 L850.5,394.1 L851.2,393.6 L852.0,393.0 L852.7,392.5 L853.5,392.0 L854.2,391.5 L855.0,391.0 L855.7,390.6 L856.5,390.1 L857.2,389.7 L857.9,389.2 L858.7,388.9 L859.4,388.5 L860.2,388.1 L860.9,387.8 L861.7,387.5 L862.4,387.2 L863.2,386.9 L863.9,386.6 L864.7,386.4 L865.4,386.1 L866.2,385.9 L866.9,385.7 L867.6,385.4 L868.4,385.2 L869.1,385.0 L869.9,384.8 L870.6,384.6 L871.4,384.5 L872.1,384.3 L872.9,384.1 L873.6,383.9 L874.4,383.8 L875.1,383.6 L875.9,383.4 L876.6,383.2 L877.3,383.1 L878.1,382.9 L878.8,382.7 L879.6,382.6 L880.3,382.4 L881.1,382.2 L881.8,382.0 L882.6,381.8 L883.3,381.6 L884.1,381.4 L884.8,381.2 L885.6,381.0 L886.3,380.7 L887.0,380.5 L887.8,380.2 L888.5,380.0 L889.3,379.7 L890.0,379.4 L890.8,379.1 L891.5,378.8 L892.3,378.5 L893.0,378.2 L893.8,377.9 L894.5,377.6 L895.3,377.2 L896.0,376.9 L896.7,376.5 L897.5,376.2 L898.2,375.8 L899.0,375.4 L899.7,375.0 L900.5,374.5 L901.2,374.1 L902.0,373.6 L902.7,373.1 L903.5,372.6 L904.2,372.1 L905.0,371.5 L905.7,370.9 L906.4,370.3 L907.2,369.6 L907.9,368.9 L908.7,368.2 L909.4,367.4 L910.2,366.4 L910.9,365.4 L911.7,364.2 L912.4,362.8 L913.2,361.3 L913.9,359.7 L914.7,358.0 L915.4,356.2 L916.1,354.3 L916.9,352.3 L917.6,350.1 L918.4,348.0 L919.1,345.7 L919.9,343.4 L920.6,341.0 L921.4,338.6 L922.1,336.1 L922.9,333.6 L923.6,331.0 L924.4,328.4 L925.1,325.8 L925.8,323.2 L926.6,320.3 L927.3,317.4 L928.1,314.2 L928.8,310.9 L929.6,307.4 L930.3,303.8 L931.1,300.1 L931.8,296.3 L932.6,292.4 L933.3,288.4 L934.1,284.3 L934.8,280.2 L935.5,276.1 L936.3,272.0 L937.0,267.8 L937.8,263.7 L938.5,259.6 L939.3,255.6 L940.0,251.5 L940.8,247.5 L941.5,243.5 L942.3,239.4 L943.0,235.3 L943.8,231.2 L944.5,227.0 L945.2,222.8 L946.0,218.6 L946.7,214.4 L947.5,210.1 L948.2,205.9 L949.0,201.6 L949.7,197.2 L950.5,192.9 L951.2,188.5 L952.0,184.1 L952.7,179.7 L953.5,175.3 L954.2,170.9 L954.9,166.4 L955.7,161.9 L956.4,157.2 L957.2,152.4 L957.9,147.4 L958.7,142.4 L959.4,137.4 L960.2,132.5 L960.9,128.0 L961.7,124.0 L962.4,120.4 L963.2,117.4 L963.9,114.5 L964.6,111.5 L965.4,108.0 L966.1,104.1 L966.9,100.2 L967.6,96.5 L968.4,93.2 L969.1,90.4 L969.9,87.8 L970.6,85.4 L971.4,83.2 L972.1,81.3 L972.9,79.5 L973.6,77.9 L974.3,76.5 L975.1,75.3 L975.8,75.0 L976.6,76.4 L977.3,79.8 L978.1,84.1 L978.8,87.5 L979.6,88.6 L980.3,88.2 L981.1,87.2 L981.8,86.4 L982.6,86.5 L983.3,87.6 L984.0,89.6 L984.8,92.3 L985.5,95.4 L986.3,98.6 L987.0,101.9 L987.8,105.3 L988.5,108.9 L989.3,112.8 L990.0,116.8 L990.8,120.9 L991.5,125.1 L992.3,129.5 L993.0,134.0 L993.7,138.6 L994.5,143.3 L995.2,148.2 L996.0,153.1 L996.7,158.2 L997.5,163.3 L998.2,168.6 L999.0,174.1 L999.7,179.6 L1000.5,185.3 L1001.2,191.0 L1002.0,196.8 L1002.7,202.7 L1003.4,208.7 L1004.2,214.6 L1004.9,220.5 L1005.7,226.4 L1006.4,232.3 L1007.2,238.2 L1007.9,244.0 L1008.7,249.7 L1009.4,255.5 L1010.2,261.4 L1010.9,267.3 L1011.7,273.2 L1012.4,279.2 L1013.1,285.2 L1013.9,291.1 L1014.6,296.9 L1015.4,302.7 L1016.1,308.3 L1016.9,313.8 L1017.6,319.2 L1018.4,324.3 L1019.1,329.2 L1019.9,333.9 L1020.6,338.4 L1021.4,342.7 L1022.1,347.1 L1022.8,351.3 L1023.6,355.4 L1024.3,359.5 L1025.1,363.5 L1025.8,367.3 L1026.6,371.0 L1027.3,374.6 L1028.1,378.1 L1028.8,381.3 L1029.6,384.4 L1030.3,387.3 L1031.1,390.1 L1031.8,392.6 L1032.5,395.0 L1033.3,397.3 L1034.0,399.6 L1034.8,401.8 L1035.5,404.0 L1036.3,406.1 L1037.0,408.2 L1037.8,410.2 L1038.5,412.2 L1039.3,414.0 L1040.0,415.9 L1040.8,417.6 L1041.5,419.3 L1042.2,420.9 L1043.0,422.4 L1043.7,423.8 L1044.5,425.2 L1045.2,426.4 L1046.0,427.6 L1046.7,428.7 L1047.5,429.7 L1048.2,430.5 L1049.0,431.3 L1049.7,432.1 L1050.5,432.8 L1051.2,433.5 L1051.9,434.2 L1052.7,434.8 L1053.4,435.5 L1054.2,436.1 L1054.9,436.7 L1055.7,437.2 L1056.4,437.8 L1057.2,438.3 L1057.9,438.8 L1058.7,439.3 L1059.4,439.7 L1060.2,440.2 L1060.9,440.6 L1061.6,441.0 L1062.4,441.3 L1063.1,441.7 L1063.9,442.0 L1064.6,442.3 L1065.4,442.6 L1066.1,442.8 L1066.9,443.1 L1067.6,443.3 L1068.4,443.5 L1069.1,443.7 L1069.9,443.9 L1070.6,444.1 L1071.3,444.2 L1072.1,444.4 L1072.8,444.6 L1073.6,444.7 L1074.3,444.9 L1075.1,445.0 L1075.8,445.2 L1076.6,445.3 L1077.3,445.5 L1078.1,445.6 L1078.8,445.7 L1079.6,445.8 L1080.3,445.9 L1081.0,446.0 L1081.8,446.1 L1082.5,446.2 L1083.3,446.3 L1084.0,446.4 L1084.8,446.4 L1085.5,446.5 L1086.3,446.5 L1087.0,446.6 L1087.8,446.6 L1088.5,446.6 L1089.3,446.7 L1090.0,446.7 L1090.7,446.7 L1091.5,446.8 L1092.2,446.8 L1093.0,446.8 L1093.7,446.9 L1094.5,446.9 L1095.2,446.9 L1096.0,446.9 L1096.7,447.0 L1097.5,447.0 L1098.2,447.0 L1099.0,447.0 L1099.7,447.1 L1100.4,447.1 L1101.2,447.1 L1101.9,447.1 L1102.7,447.1 L1103.4,447.1 L1104.2,447.1 L1104.9,447.1 L1105.7,447.1 L1106.4,447.1 L1107.2,447.2 L1107.9,447.2 L1108.7,447.2 L1109.4,447.2" fill="none" stroke="#b075e0" stroke-width="3" stroke-linejoin="round" stroke-linecap="butt" />
<path d="M587.1,448.3 L587.8,448.3 L588.6,448.3 L589.3,448.3 L590.1,448.3 L590.8,448.3 L591.6,448.3 L592.3,448.3 L593.1,448.3 L593.8,448.3 L594.6,448.3 L595.3,448.3 L596.1,448.3 L596.8,448.3 L597.5,448.3 L598.3,448.3 L599.0,448.3 L599.8,448.3 L600.5,448.3 L601.3,448.2 L602.0,448.2 L602.8,448.2 L603.5,448.2 L604.3,448.2 L605.0,448.2 L605.8,448.2 L606.5,448.2 L607.2,448.2 L608.0,448.2 L608.7,448.2 L609.5,448.2 L610.2,448.2 L611.0,448.2 L611.7,448.1 L612.5,448.1 L613.2,448.1 L614.0,448.1 L614.7,448.1 L615.5,448.1 L616.2,448.1 L616.9,448.1 L617.7,448.1 L618.4,448.1 L619.2,448.0 L619.9,448.0 L620.7,448.0 L621.4,448.0 L622.2,448.0 L622.9,448.0 L623.7,448.0 L624.4,448.0 L625.2,447.9 L625.9,447.9 L626.6,447.9 L627.4,447.9 L628.1,447.9 L628.9,447.9 L629.6,447.9 L630.4,447.8 L631.1,447.8 L631.9,447.8 L632.6,447.8 L633.4,447.8 L634.1,447.8 L634.9,447.8 L635.6,447.7 L636.3,447.7 L637.1,447.7 L637.8,447.7 L638.6,447.7 L639.3,447.7 L640.1,447.7 L640.8,447.6 L641.6,447.6 L642.3,447.6 L643.1,447.6 L643.8,447.6 L644.6,447.6 L645.3,447.5 L646.0,447.5 L646.8,447.5 L647.5,447.5 L648.3,447.5 L649.0,447.5 L649.8,447.4 L650.5,447.4 L651.3,447.4 L652.0,447.4 L652.8,447.4 L653.5,447.4 L654.3,447.3 L655.0,447.3 L655.7,447.3 L656.5,447.3 L657.2,447.3 L658.0,447.2 L658.7,447.2 L659.5,447.2 L660.2,447.2 L661.0,447.2 L661.7,447.2 L662.5,447.1 L663.2,447.1 L664.0,447.1 L664.7,447.1 L665.4,447.1 L666.2,447.0 L666.9,447.0 L667.7,447.0 L668.4,447.0 L669.2,446.9 L669.9,446.9 L670.7,446.9 L671.4,446.9 L672.2,446.9 L672.9,446.8 L673.7,446.8 L674.4,446.8 L675.1,446.8 L675.9,446.7 L676.6,446.7 L677.4,446.7 L678.1,446.6 L678.9,446.6 L679.6,446.6 L680.4,446.6 L681.1,446.5 L681.9,446.5 L682.6,446.5 L683.4,446.4 L684.1,446.4 L684.8,446.4 L685.6,446.3 L686.3,446.3 L687.1,446.3 L687.8,446.2 L688.6,446.2 L689.3,446.2 L690.1,446.1 L690.8,446.1 L691.6,446.1 L692.3,446.0 L693.1,446.0 L693.8,445.9 L694.5,445.9 L695.3,445.9 L696.0,445.8 L696.8,445.8 L697.5,445.7 L698.3,445.7 L699.0,445.6 L699.8,445.6 L700.5,445.6 L701.3,445.5 L702.0,445.5 L702.8,445.4 L703.5,445.4 L704.2,445.3 L705.0,445.3 L705.7,445.2 L706.5,445.2 L707.2,445.1 L708.0,445.1 L708.7,445.0 L709.5,445.0 L710.2,444.9 L711.0,444.9 L711.7,444.8 L712.5,444.8 L713.2,444.7 L713.9,444.6 L714.7,444.6 L715.4,444.5 L716.2,444.5 L716.9,444.4 L717.7,444.3 L718.4,444.3 L719.2,444.2 L719.9,444.2 L720.7,444.1 L721.4,444.0 L722.2,444.0 L722.9,443.9 L723.6,443.8 L724.4,443.8 L725.1,443.7 L725.9,443.6 L726.6,443.5 L727.4,443.5 L728.1,443.4 L728.9,443.3 L729.6,443.3 L730.4,443.2 L731.1,443.1 L731.9,443.0 L732.6,443.0 L733.3,442.9 L734.1,442.8 L734.8,442.7 L735.6,442.6 L736.3,442.6 L737.1,442.5 L737.8,442.4 L738.6,442.3 L739.3,442.1 L740.1,442.0 L740.8,441.9 L741.6,441.7 L742.3,441.5 L743.0,441.4 L743.8,441.2 L744.5,441.0 L745.3,440.8 L746.0,440.6 L746.8,440.4 L747.5,440.2 L748.3,440.0 L749.0,439.8 L749.8,439.6 L750.5,439.4 L751.3,439.2 L752.0,439.0 L752.7,438.7 L753.5,438.5 L754.2,438.3 L755.0,438.1 L755.7,437.9 L756.5,437.7 L757.2,437.5 L758.0,437.3 L758.7,437.1 L759.5,436.9 L760.2,436.8 L761.0,436.6 L761.7,436.4 L762.4,436.2 L763.2,436.1 L763.9,435.9 L764.7,435.8 L765.4,435.6 L766.2,435.4 L766.9,435.3 L767.7,435.1 L768.4,435.0 L769.2,434.9 L769.9,434.7 L770.7,434.6 L771.4,434.4 L772.1,434.3 L772.9,434.1 L773.6,434.0 L774.4,433.8 L775.1,433.7 L775.9,433.6 L776.6,433.4 L777.4,433.3 L778.1,433.1 L778.9,433.0 L779.6,432.8 L780.4,432.7 L781.1,432.5 L781.8,432.4 L782.6,432.2 L783.3,432.1 L784.1,431.9 L784.8,431.8 L785.6,431.6 L786.3,431.4 L787.1,431.3 L787.8,431.1 L788.6,430.9 L789.3,430.7 L790.1,430.6 L790.8,430.4 L791.5,430.2 L792.3,430.0 L793.0,429.8 L793.8,429.6 L794.5,429.4 L795.3,429.1 L796.0,428.9 L796.8,428.7 L797.5,428.5 L798.3,428.2 L799.0,428.0 L799.8,427.7 L800.5,427.5 L801.2,427.2 L802.0,426.9 L802.7,426.6 L803.5,426.2 L804.2,425.9 L805.0,425.5 L805.7,425.1 L806.5,424.7 L807.2,424.3 L808.0,423.9 L808.7,423.5 L809.5,423.0 L810.2,422.6 L810.9,422.1 L811.7,421.6 L812.4,421.1 L813.2,420.6 L813.9,420.1 L814.7,419.6 L815.4,419.1 L816.2,418.5 L816.9,418.0 L817.7,417.5 L818.4,416.9 L819.2,416.4 L819.9,415.8 L820.6,415.3 L821.4,414.7 L822.1,414.2 L822.9,413.6 L823.6,413.1 L824.4,412.5 L825.1,412.0 L825.9,411.4 L826.6,410.9 L827.4,410.4 L828.1,409.8 L828.9,409.3 L829.6,408.8 L830.3,408.3 L831.1,407.8 L831.8,407.3 L832.6,406.8 L833.3,406.2 L834.1,405.7 L834.8,405.1 L835.6,404.6 L836.3,404.0 L837.1,403.5 L837.8,402.9 L838.6,402.3 L839.3,401.7 L840.0,401.2 L840.8,400.6 L841.5,400.0 L842.3,399.4 L843.0,398.8 L843.8,398.2 L844.5,397.6 L845.3,397.0 L846.0,396.5 L846.8,395.9 L847.5,395.3 L848.2,394.7 L849.0,394.2 L849.7,393.6 L850.5,393.1 L851.2,392.5 L852.0,392.0 L852.7,391.5 L853.5,391.0 L854.2,390.5 L855.0,390.0 L855.7,389.5 L856.5,389.1 L857.2,388.6 L857.9,388.2 L858.7,387.8 L859.4,387.4 L860.2,387.0 L860.9,386.7 L861.7,386.3 L862.4,386.0 L863.2,385.7 L863.9,385.4 L864.7,385.1 L865.4,384.8 L866.2,384.6 L866.9,384.3 L867.6,384.1 L868.4,383.8 L869.1,383.6 L869.9,383.4 L870.6,383.1 L871.4,382.9 L872.1,382.7 L872.9,382.5 L873.6,382.3 L874.4,382.1 L875.1,381.9 L875.9,381.7 L876.6,381.5 L877.3,381.3 L878.1,381.1 L878.8,380.9 L879.6,380.7 L880.3,380.5 L881.1,380.3 L881.8,380.1 L882.6,379.8 L883.3,379.6 L884.1,379.4 L884.8,379.1 L885.6,378.9 L886.3,378.6 L887.0,378.3 L887.8,378.0 L888.5,377.7 L889.3,377.4 L890.0,377.1 L890.8,376.8 L891.5,376.5 L892.3,376.1 L893.0,375.8 L893.8,375.5 L894.5,375.1 L895.3,374.8 L896.0,374.4 L896.7,374.0 L897.5,373.6 L898.2,373.2 L899.0,372.8 L899.7,372.4 L900.5,371.9 L901.2,371.5 L902.0,371.0 L902.7,370.5 L903.5,369.9 L904.2,369.4 L905.0,368.8 L905.7,368.1 L906.4,367.5 L907.2,366.8 L907.9,366.1 L908.7,365.3 L909.4,364.5 L910.2,363.5 L910.9,362.4 L911.7,361.1 L912.4,359.7 L913.2,358.2 L913.9,356.5 L914.7,354.8 L915.4,352.9 L916.1,350.9 L916.9,348.8 L917.6,346.6 L918.4,344.3 L919.1,342.0 L919.9,339.6 L920.6,337.2 L921.4,334.7 L922.1,332.1 L922.9,329.5 L923.6,326.9 L924.4,324.3 L925.1,321.6 L925.8,318.9 L926.6,316.0 L927.3,313.0 L928.1,309.8 L928.8,306.4 L929.6,302.9 L930.3,299.3 L931.1,295.6 L931.8,291.7 L932.6,287.8 L933.3,283.8 L934.1,279.7 L934.8,275.7 L935.5,271.6 L936.3,267.5 L937.0,263.4 L937.8,259.3 L938.5,255.3 L939.3,251.3 L940.0,247.3 L940.8,243.3 L941.5,239.3 L942.3,235.2 L943.0,231.0 L943.8,226.8 L944.5,222.6 L945.2,218.4 L946.0,214.1 L946.7,209.8 L947.5,205.6 L948.2,201.3 L949.0,197.1 L949.7,192.9 L950.5,188.8 L951.2,184.7 L952.0,180.6 L952.7,176.6 L953.5,172.8 L954.2,169.0 L954.9,165.2 L955.7,161.6 L956.4,158.0 L957.2,154.5 L957.9,151.0 L958.7,147.4 L959.4,143.9 L960.2,140.5 L960.9,137.2 L961.7,133.9 L962.4,130.8 L963.2,127.9 L963.9,125.1 L964.6,122.6 L965.4,120.2 L966.1,118.0 L966.9,115.9 L967.6,113.8 L968.4,111.7 L969.1,109.8 L969.9,108.1 L970.6,106.7 L971.4,105.7 L972.1,105.1 L972.9,105.3 L973.6,106.4 L974.3,108.1 L975.1,109.9 L975.8,111.5 L976.6,112.6 L977.3,113.4 L978.1,114.2 L978.8,115.2 L979.6,116.4 L980.3,118.2 L981.1,120.4 L981.8,123.2 L982.6,126.2 L983.3,129.4 L984.0,132.7 L984.8,136.2 L985.5,139.9 L986.3,143.8 L987.0,147.7 L987.8,151.7 L988.5,155.6 L989.3,159.3 L990.0,162.7 L990.8,165.9 L991.5,169.0 L992.3,172.0 L993.0,175.0 L993.7,178.0 L994.5,181.2 L995.2,184.5 L996.0,188.0 L996.7,191.8 L997.5,195.8 L998.2,200.1 L999.0,204.7 L999.7,209.5 L1000.5,214.4 L1001.2,219.5 L1002.0,224.7 L1002.7,230.0 L1003.4,235.4 L1004.2,240.8 L1004.9,246.2 L1005.7,251.6 L1006.4,256.9 L1007.2,262.1 L1007.9,267.3 L1008.7,272.4 L1009.4,277.5 L1010.2,282.7 L1010.9,287.9 L1011.7,293.2 L1012.4,298.5 L1013.1,303.8 L1013.9,309.0 L1014.6,314.2 L1015.4,319.3 L1016.1,324.3 L1016.9,329.2 L1017.6,333.8 L1018.4,338.3 L1019.1,342.6 L1019.9,346.7 L1020.6,350.6 L1021.4,354.4 L1022.1,358.1 L1022.8,361.8 L1023.6,365.3 L1024.3,368.8 L1025.1,372.2 L1025.8,375.5 L1026.6,378.6 L1027.3,381.7 L1028.1,384.6 L1028.8,387.5 L1029.6,390.1 L1030.3,392.7 L1031.1,395.0 L1031.8,397.3 L1032.5,399.4 L1033.3,401.5 L1034.0,403.5 L1034.8,405.5 L1035.5,407.5 L1036.3,409.4 L1037.0,411.3 L1037.8,413.1 L1038.5,414.8 L1039.3,416.6 L1040.0,418.2 L1040.8,419.8 L1041.5,421.3 L1042.2,422.8 L1043.0,424.2 L1043.7,425.5 L1044.5,426.8 L1045.2,427.9 L1046.0,429.0 L1046.7,430.0 L1047.5,430.9 L1048.2,431.7 L1049.0,432.5 L1049.7,433.2 L1050.5,433.9 L1051.2,434.5 L1051.9,435.2 L1052.7,435.8 L1053.4,436.4 L1054.2,437.0 L1054.9,437.5 L1055.7,438.0 L1056.4,438.6 L1057.2,439.1 L1057.9,439.5 L1058.7,440.0 L1059.4,440.4 L1060.2,440.8 L1060.9,441.2 L1061.6,441.6 L1062.4,441.9 L1063.1,442.3 L1063.9,442.6 L1064.6,442.8 L1065.4,443.1 L1066.1,443.3 L1066.9,443.5 L1067.6,443.7 L1068.4,443.9 L1069.1,444.1 L1069.9,444.3 L1070.6,444.4 L1071.3,444.6 L1072.1,444.7 L1072.8,444.9 L1073.6,445.0 L1074.3,445.2 L1075.1,445.3 L1075.8,445.4 L1076.6,445.5 L1077.3,445.7 L1078.1,445.8 L1078.8,445.9 L1079.6,446.0 L1080.3,446.1 L1081.0,446.1 L1081.8,446.2 L1082.5,446.3 L1083.3,446.4 L1084.0,446.4 L1084.8,446.5 L1085.5,446.5 L1086.3,446.5 L1087.0,446.6 L1087.8,446.6 L1088.5,446.6 L1089.3,446.6 L1090.0,446.7 L1090.7,446.7 L1091.5,446.7 L1092.2,446.7 L1093.0,446.7 L1093.7,446.8 L1094.5,446.8 L1095.2,446.8 L1096.0,446.8 L1096.7,446.8 L1097.5,446.8 L1098.2,446.8 L1099.0,446.9 L1099.7,446.9 L1100.4,446.9 L1101.2,446.9 L1101.9,446.9 L1102.7,446.9 L1103.4,446.9 L1104.2,446.9 L1104.9,446.9 L1105.7,446.9 L1106.4,446.9 L1107.2,446.9 L1107.9,446.9 L1108.7,446.9 L1109.4,446.9" fill="none" stroke="#10c8c8" stroke-width="3" stroke-linejoin="round" stroke-linecap="butt" />
<path d="M587.1,448.3 L587.8,448.3 L588.6,448.3 L589.3,448.3 L590.1,448.3 L590.8,448.3 L591.6,448.3 L592.3,448.3 L593.1,448.3 L593.8,448.3 L594.6,448.3 L595.3,448.3 L596.1,448.3 L596.8,448.3 L597.5,448.3 L598.3,448.3 L599.0,448.3 L599.8,448.3 L600.5,448.3 L601.3,448.3 L602.0,448.3 L602.8,448.2 L603.5,448.2 L604.3,448.2 L605.0,448.2 L605.8,448.2 L606.5,448.2 L607.2,448.2 L608.0,448.2 L608.7,448.2 L609.5,448.2 L610.2,448.2 L611.0,448.2 L611.7,448.2 L612.5,448.2 L613.2,448.2 L614.0,448.2 L614.7,448.1 L615.5,448.1 L616.2,448.1 L616.9,448.1 L617.7,448.1 L618.4,448.1 L619.2,448.1 L619.9,448.1 L620.7,448.1 L621.4,448.1 L622.2,448.1 L622.9,448.1 L623.7,448.0 L624.4,448.0 L625.2,448.0 L625.9,448.0 L626.6,448.0 L627.4,448.0 L628.1,448.0 L628.9,448.0 L629.6,448.0 L630.4,447.9 L631.1,447.9 L631.9,447.9 L632.6,447.9 L633.4,447.9 L634.1,447.9 L634.9,447.9 L635.6,447.9 L636.3,447.9 L637.1,447.8 L637.8,447.8 L638.6,447.8 L639.3,447.8 L640.1,447.8 L640.8,447.8 L641.6,447.8 L642.3,447.8 L643.1,447.7 L643.8,447.7 L644.6,447.7 L645.3,447.7 L646.0,447.7 L646.8,447.7 L647.5,447.7 L648.3,447.6 L649.0,447.6 L649.8,447.6 L650.5,447.6 L651.3,447.6 L652.0,447.6 L652.8,447.6 L653.5,447.5 L654.3,447.5 L655.0,447.5 L655.7,447.5 L656.5,447.5 L657.2,447.5 L658.0,447.5 L658.7,447.4 L659.5,447.4 L660.2,447.4 L661.0,447.4 L661.7,447.4 L662.5,447.4 L663.2,447.3 L664.0,447.3 L664.7,447.3 L665.4,447.3 L666.2,447.3 L666.9,447.3 L667.7,447.2 L668.4,447.2 L669.2,447.2 L669.9,447.2 L670.7,447.2 L671.4,447.1 L672.2,447.1 L672.9,447.1 L673.7,447.1 L674.4,447.1 L675.1,447.0 L675.9,447.0 L676.6,447.0 L677.4,447.0 L678.1,446.9 L678.9,446.9 L679.6,446.9 L680.4,446.8 L681.1,446.8 L681.9,446.8 L682.6,446.8 L683.4,446.7 L684.1,446.7 L684.8,446.7 L685.6,446.6 L686.3,446.6 L687.1,446.6 L687.8,446.5 L688.6,446.5 L689.3,446.5 L690.1,446.4 L690.8,446.4 L691.6,446.4 L692.3,446.3 L693.1,446.3 L693.8,446.3 L694.5,446.2 L695.3,446.2 L696.0,446.1 L696.8,446.1 L697.5,446.1 L698.3,446.0 L699.0,446.0 L699.8,445.9 L700.5,445.9 L701.3,445.8 L702.0,445.8 L702.8,445.7 L703.5,445.7 L704.2,445.7 L705.0,445.6 L705.7,445.6 L706.5,445.5 L707.2,445.5 L708.0,445.4 L708.7,445.4 L709.5,445.3 L710.2,445.2 L711.0,445.2 L711.7,445.1 L712.5,445.1 L713.2,445.0 L713.9,445.0 L714.7,444.9 L715.4,444.9 L716.2,444.8 L716.9,444.7 L717.7,444.7 L718.4,444.6 L719.2,444.6 L719.9,444.5 L720.7,444.4 L721.4,444.4 L722.2,444.3 L722.9,444.2 L723.6,444.2 L724.4,444.1 L725.1,444.0 L725.9,444.0 L726.6,443.9 L727.4,443.8 L728.1,443.7 L728.9,443.7 L729.6,443.6 L730.4,443.5 L731.1,443.5 L731.9,443.4 L732.6,443.3 L733.3,443.2 L734.1,443.1 L734.8,443.1 L735.6,443.0 L736.3,442.9 L737.1,442.8 L737.8,442.7 L738.6,442.6 L739.3,442.5 L740.1,442.3 L740.8,442.2 L741.6,442.0 L742.3,441.8 L743.0,441.7 L743.8,441.5 L744.5,441.3 L745.3,441.1 L746.0,440.9 L746.8,440.6 L747.5,440.4 L748.3,440.2 L749.0,440.0 L749.8,439.8 L750.5,439.5 L751.3,439.3 L752.0,439.1 L752.7,438.8 L753.5,438.6 L754.2,438.4 L755.0,438.2 L755.7,437.9 L756.5,437.7 L757.2,437.5 L758.0,437.3 L758.7,437.1 L759.5,436.9 L760.2,436.8 L761.0,436.6 L761.7,436.4 L762.4,436.2 L763.2,436.1 L763.9,435.9 L764.7,435.7 L765.4,435.6 L766.2,435.4 L766.9,435.3 L767.7,435.1 L768.4,435.0 L769.2,434.8 L769.9,434.7 L770.7,434.6 L771.4,434.4 L772.1,434.3 L772.9,434.1 L773.6,434.0 L774.4,433.9 L775.1,433.7 L775.9,433.6 L776.6,433.5 L777.4,433.3 L778.1,433.2 L778.9,433.0 L779.6,432.9 L780.4,432.8 L781.1,432.6 L781.8,432.5 L782.6,432.3 L783.3,432.2 L784.1,432.0 L784.8,431.9 L785.6,431.7 L786.3,431.6 L787.1,431.4 L787.8,431.2 L788.6,431.1 L789.3,430.9 L790.1,430.7 L790.8,430.5 L791.5,430.3 L792.3,430.2 L793.0,430.0 L793.8,429.8 L794.5,429.6 L795.3,429.3 L796.0,429.1 L796.8,428.9 L797.5,428.7 L798.3,428.4 L799.0,428.2 L799.8,428.0 L800.5,427.7 L801.2,427.4 L802.0,427.1 L802.7,426.8 L803.5,426.5 L804.2,426.1 L805.0,425.8 L805.7,425.4 L806.5,425.0 L807.2,424.6 L808.0,424.2 L808.7,423.7 L809.5,423.3 L810.2,422.8 L810.9,422.4 L811.7,421.9 L812.4,421.4 L813.2,420.9 L813.9,420.4 L814.7,419.9 L815.4,419.3 L816.2,418.8 L816.9,418.3 L817.7,417.7 L818.4,417.2 L819.2,416.6 L819.9,416.1 L820.6,415.5 L821.4,415.0 L822.1,414.4 L822.9,413.9 L823.6,413.3 L824.4,412.8 L825.1,412.2 L825.9,411.7 L826.6,411.2 L827.4,410.6 L828.1,410.1 L828.9,409.6 L829.6,409.0 L830.3,408.5 L831.1,408.0 L831.8,407.5 L832.6,407.0 L833.3,406.4 L834.1,405.9 L834.8,405.4 L835.6,404.8 L836.3,404.2 L837.1,403.7 L837.8,403.1 L838.6,402.5 L839.3,401.9 L840.0,401.3 L840.8,400.7 L841.5,400.1 L842.3,399.5 L843.0,398.9 L843.8,398.3 L844.5,397.7 L845.3,397.2 L846.0,396.6 L846.8,396.0 L847.5,395.4 L848.2,394.8 L849.0,394.3 L849.7,393.7 L850.5,393.1 L851.2,392.6 L852.0,392.1 L852.7,391.5 L853.5,391.0 L854.2,390.5 L855.0,390.0 L855.7,389.6 L856.5,389.1 L857.2,388.6 L857.9,388.2 L858.7,387.8 L859.4,387.4 L860.2,387.0 L860.9,386.7 L861.7,386.3 L862.4,386.0 L863.2,385.7 L863.9,385.4 L864.7,385.1 L865.4,384.8 L866.2,384.6 L866.9,384.3 L867.6,384.1 L868.4,383.8 L869.1,383.6 L869.9,383.4 L870.6,383.1 L871.4,382.9 L872.1,382.7 L872.9,382.5 L873.6,382.3 L874.4,382.1 L875.1,381.9 L875.9,381.7 L876.6,381.5 L877.3,381.3 L878.1,381.1 L878.8,380.9 L879.6,380.7 L880.3,380.5 L881.1,380.3 L881.8,380.1 L882.6,379.8 L883.3,379.6 L884.1,379.4 L884.8,379.1 L885.6,378.9 L886.3,378.6 L887.0,378.3 L887.8,378.0 L888.5,377.7 L889.3,377.4 L890.0,377.1 L890.8,376.8 L891.5,376.5 L892.3,376.1 L893.0,375.8 L893.8,375.5 L894.5,375.1 L895.3,374.8 L896.0,374.4 L896.7,374.0 L897.5,373.6 L898.2,373.2 L899.0,372.8 L899.7,372.4 L900.5,371.9 L901.2,371.5 L902.0,371.0 L902.7,370.5 L903.5,369.9 L904.2,369.4 L905.0,368.8 L905.7,368.1 L906.4,367.5 L907.2,366.8 L907.9,366.1 L908.7,365.3 L909.4,364.5 L910.2,363.5 L910.9,362.4 L911.7,361.1 L912.4,359.7 L913.2,358.2 L913.9,356.5 L914.7,354.8 L915.4,352.9 L916.1,350.9 L916.9,348.8 L917.6,346.6 L918.4,344.3 L919.1,342.0 L919.9,339.6 L920.6,337.2 L921.4,334.7 L922.1,332.1 L922.9,329.5 L923.6,326.9 L924.4,324.3 L925.1,321.6 L925.8,318.9 L926.6,316.0 L927.3,313.0 L928.1,309.8 L928.8,306.4 L929.6,302.9 L930.3,299.3 L931.1,295.6 L931.8,291.7 L932.6,287.8 L933.3,283.8 L934.1,279.7 L934.8,275.7 L935.5,271.6 L936.3,267.5 L937.0,263.4 L937.8,259.3 L938.5,255.3 L939.3,251.3 L940.0,247.4 L940.8,243.5 L941.5,239.6 L942.3,235.7 L943.0,231.8 L943.8,227.9 L944.5,224.0 L945.2,220.1 L946.0,216.2 L946.7,212.2 L947.5,208.2 L948.2,204.2 L949.0,200.2 L949.7,196.1 L950.5,192.0 L951.2,187.9 L952.0,183.7 L952.7,179.4 L953.5,175.1 L954.2,170.8 L954.9,166.4 L955.7,161.8 L956.4,157.0 L957.2,152.1 L957.9,147.2 L958.7,142.7 L959.4,138.7 L960.2,135.1 L960.9,131.9 L961.7,128.8 L962.4,125.9 L963.2,123.2 L963.9,120.6 L964.6,118.1 L965.4,115.7 L966.1,113.2 L966.9,110.8 L967.6,108.4 L968.4,106.1 L969.1,103.9 L969.9,102.1 L970.6,100.7 L971.4,99.7 L972.1,99.1 L972.9,98.6 L973.6,98.3 L974.3,98.0 L975.1,97.8 L975.8,97.7 L976.6,97.8 L977.3,98.1 L978.1,98.7 L978.8,99.5 L979.6,100.6 L980.3,101.8 L981.1,103.4 L981.8,105.4 L982.6,108.0 L983.3,111.0 L984.0,114.3 L984.8,117.9 L985.5,121.7 L986.3,125.8 L987.0,130.2 L987.8,134.8 L988.5,139.5 L989.3,144.1 L990.0,148.5 L990.8,152.7 L991.5,156.6 L992.3,160.3 L993.0,163.9 L993.7,167.4 L994.5,171.0 L995.2,174.7 L996.0,178.6 L996.7,182.6 L997.5,187.0 L998.2,191.4 L999.0,196.1 L999.7,200.9 L1000.5,205.8 L1001.2,210.8 L1002.0,215.9 L1002.7,221.0 L1003.4,226.2 L1004.2,231.5 L1004.9,236.8 L1005.7,242.0 L1006.4,247.3 L1007.2,252.5 L1007.9,257.7 L1008.7,263.0 L1009.4,268.3 L1010.2,273.7 L1010.9,279.2 L1011.7,284.7 L1012.4,290.4 L1013.1,296.0 L1013.9,301.6 L1014.6,307.2 L1015.4,312.6 L1016.1,318.0 L1016.9,323.2 L1017.6,328.3 L1018.4,333.1 L1019.1,337.7 L1019.9,342.0 L1020.6,346.2 L1021.4,350.2 L1022.1,354.1 L1022.8,358.0 L1023.6,361.7 L1024.3,365.4 L1025.1,369.0 L1025.8,372.5 L1026.6,375.8 L1027.3,379.1 L1028.1,382.2 L1028.8,385.1 L1029.6,387.9 L1030.3,390.6 L1031.1,393.1 L1031.8,395.4 L1032.5,397.6 L1033.3,399.8 L1034.0,401.9 L1034.8,404.0 L1035.5,406.0 L1036.3,408.0 L1037.0,409.9 L1037.8,411.8 L1038.5,413.6 L1039.3,415.3 L1040.0,417.0 L1040.8,418.7 L1041.5,420.3 L1042.2,421.8 L1043.0,423.2 L1043.7,424.5 L1044.5,425.8 L1045.2,427.0 L1046.0,428.1 L1046.7,429.1 L1047.5,430.1 L1048.2,430.9 L1049.0,431.7 L1049.7,432.4 L1050.5,433.1 L1051.2,433.8 L1051.9,434.4 L1052.7,435.1 L1053.4,435.7 L1054.2,436.3 L1054.9,436.8 L1055.7,437.4 L1056.4,437.9 L1057.2,438.4 L1057.9,438.9 L1058.7,439.4 L1059.4,439.8 L1060.2,440.2 L1060.9,440.6 L1061.6,441.0 L1062.4,441.4 L1063.1,441.7 L1063.9,442.0 L1064.6,442.3 L1065.4,442.6 L1066.1,442.8 L1066.9,443.1 L1067.6,443.3 L1068.4,443.5 L1069.1,443.7 L1069.9,443.9 L1070.6,444.0 L1071.3,444.2 L1072.1,444.4 L1072.8,444.6 L1073.6,444.7 L1074.3,444.9 L1075.1,445.0 L1075.8,445.2 L1076.6,445.3 L1077.3,445.5 L1078.1,445.6 L1078.8,445.7 L1079.6,445.8 L1080.3,445.9 L1081.0,446.0 L1081.8,446.1 L1082.5,446.2 L1083.3,446.3 L1084.0,446.4 L1084.8,446.4 L1085.5,446.5 L1086.3,446.5 L1087.0,446.6 L1087.8,446.6 L1088.5,446.6 L1089.3,446.7 L1090.0,446.7 L1090.7,446.7 L1091.5,446.8 L1092.2,446.8 L1093.0,446.8 L1093.7,446.9 L1094.5,446.9 L1095.2,446.9 L1096.0,446.9 L1096.7,447.0 L1097.5,447.0 L1098.2,447.0 L1099.0,447.0 L1099.7,447.1 L1100.4,447.1 L1101.2,447.1 L1101.9,447.1 L1102.7,447.1 L1103.4,447.1 L1104.2,447.1 L1104.9,447.1 L1105.7,447.1 L1106.4,447.1 L1107.2,447.2 L1107.9,447.2 L1108.7,447.2 L1109.4,447.2" fill="none" stroke="#8b8b0e" stroke-width="3" stroke-linejoin="round" stroke-linecap="butt" />
<rect x="587.1" y="48.0" width="522.3" height="434.7" fill="none" stroke="#000" stroke-width="3"/>
<path d="M587.1,482.7V493.2 M661.7,482.7V493.2 M736.3,482.7V493.2 M810.9,482.7V493.2 M885.6,482.7V493.2 M960.2,482.7V493.2 M1034.8,482.7V493.2 M1109.4,482.7V493.2 M624.4,482.7V488.2 M699.0,482.7V488.2 M773.6,482.7V488.2 M848.2,482.7V488.2 M922.9,482.7V488.2 M997.5,482.7V488.2 M1072.1,482.7V488.2" stroke="#000" stroke-width="3" fill="none"/>
<text x="587.1" y="521.9" font-size="27" text-anchor="middle" >500</text>
<text x="661.7" y="521.9" font-size="27" text-anchor="middle" >550</text>
<text x="736.3" y="521.9" font-size="27" text-anchor="middle" >600</text>
<text x="810.9" y="521.9" font-size="27" text-anchor="middle" >650</text>
<text x="885.6" y="521.9" font-size="27" text-anchor="middle" >700</text>
<text x="960.2" y="521.9" font-size="27" text-anchor="middle" >750</text>
<text x="1034.8" y="521.9" font-size="27" text-anchor="middle" >800</text>
<text x="1109.4" y="521.9" font-size="27" text-anchor="middle" >850</text>
<path d="M587.1,448.3H576.6 M587.1,333.5H576.6 M587.1,218.7H576.6 M587.1,103.9H576.6 M587.1,390.9H581.6 M587.1,276.1H581.6 M587.1,161.3H581.6 M587.1,46.5H581.6" stroke="#000" stroke-width="3" fill="none"/>
<text x="569.3" y="457.1" font-size="27" text-anchor="end" >0</text>
<text x="569.3" y="342.3" font-size="27" text-anchor="end" >1</text>
<text x="569.3" y="227.5" font-size="27" text-anchor="end" >2</text>
<text x="569.3" y="112.7" font-size="27" text-anchor="end" >3</text>
<text x="848.3" y="553.2" font-size="28.8" text-anchor="middle" >Wavelength (nm)</text>
<text transform="translate(544.4,265.2) rotate(-90)" font-size="28.8" text-anchor="middle">Absorbance</text>
<text x="621.9" y="95.0" font-size="28.8" text-anchor="start" >C5T-Pco NP</text>
<text x="621.9" y="136.3" font-size="28.8" text-anchor="start" >[C5T] = 50 &#956;g mL<tspan dy="-12" font-size="18.5">-1</tspan></text>
<text x="621.9" y="174.6" font-size="28.8" text-anchor="start" >[F127] (mg mL<tspan dy="-12" font-size="18.5">-1</tspan><tspan dy="12">)</tspan></text>
<path d="M628.1,202.4H691.9" stroke="#1967df" stroke-width="3.5"/>
<text x="701.6" y="211.8" font-size="28.8" text-anchor="start" >10</text>
<path d="M628.1,238.2H691.9" stroke="#30a66a" stroke-width="3.5"/>
<text x="701.6" y="247.6" font-size="28.8" text-anchor="start" >20</text>
<path d="M628.1,274.2H691.9" stroke="#b075e0" stroke-width="3.5"/>
<text x="701.6" y="283.6" font-size="28.8" text-anchor="start" >25</text>
<path d="M628.1,310H691.9" stroke="#10c8c8" stroke-width="3.5"/>
<text x="701.6" y="319.6" font-size="28.8" text-anchor="start" >30</text>
<path d="M628.1,345.9H691.9" stroke="#8b8b0e" stroke-width="3.5"/>
<text x="701.6" y="355.6" font-size="28.8" text-anchor="start" >35</text>
<text x="0.0" y="617.0" font-size="36" text-anchor="start" >d</text>
<path d="M141.7,1026.0 L143.0,1026.0 L144.3,1026.0 L145.6,1026.0 L146.9,1026.0 L148.2,1026.0 L149.5,1026.0 L150.8,1026.0 L152.1,1026.0 L153.4,1026.0 L154.7,1026.0 L156.0,1026.0 L157.4,1026.0 L158.7,1026.0 L160.0,1026.0 L161.3,1026.0 L162.6,1026.0 L163.9,1026.0 L165.2,1026.0 L166.5,1026.0 L167.8,1026.0 L169.1,1026.0 L170.4,1026.0 L171.7,1026.0 L173.0,1026.0 L174.3,1026.0 L175.6,1026.0 L176.9,1026.0 L178.2,1026.0 L179.5,1026.0 L180.8,1026.0 L182.1,1026.0 L183.4,1026.0 L184.8,1026.0 L186.1,1026.0 L187.4,1026.0 L188.7,1026.0 L190.0,1026.0 L191.3,1026.0 L192.6,1026.0 L193.9,1026.0 L195.2,1026.0 L196.5,1026.0 L197.8,1026.0 L199.1,1026.0 L200.4,1026.0 L201.7,1026.0 L203.0,1026.0 L204.3,1026.0 L205.6,1026.0 L206.9,1026.0 L208.2,1026.0 L209.5,1026.0 L210.8,1026.0 L212.2,1026.0 L213.5,1026.0 L214.8,1026.0 L216.1,1026.0 L217.4,1026.0 L218.7,1026.0 L220.0,1026.0 L221.3,1026.0 L222.6,1026.0 L223.9,1026.0 L225.2,1026.0 L226.5,1026.0 L227.8,1026.0 L229.1,1026.0 L230.4,1026.0 L231.7,1026.0 L233.0,1026.0 L234.3,1026.0 L235.6,1026.0 L236.9,1026.0 L238.2,1026.0 L239.6,1026.0 L240.9,1026.0 L242.2,1026.0 L243.5,1026.0 L244.8,1026.0 L246.1,1026.0 L247.4,1026.0 L248.7,1026.0 L250.0,1026.0 L251.3,1026.0 L252.6,1026.0 L253.9,1026.0 L255.2,1026.0 L256.5,1026.0 L257.8,1026.0 L259.1,1026.0 L260.4,1026.0 L261.7,1026.0 L263.0,1025.9 L264.3,1025.9 L265.6,1025.9 L267.0,1025.9 L268.3,1025.9 L269.6,1025.9 L270.9,1025.9 L272.2,1025.9 L273.5,1025.9 L274.8,1025.8 L276.1,1025.8 L277.4,1025.8 L278.7,1025.8 L280.0,1025.8 L281.3,1025.8 L282.6,1025.7 L283.9,1025.7 L285.2,1025.7 L286.5,1025.7 L287.8,1025.7 L289.1,1025.6 L290.4,1025.6 L291.7,1025.6 L293.0,1025.6 L294.4,1025.5 L295.7,1025.5 L297.0,1025.5 L298.3,1025.4 L299.6,1025.4 L300.9,1025.4 L302.2,1025.4 L303.5,1025.3 L304.8,1025.3 L306.1,1025.3 L307.4,1025.2 L308.7,1025.2 L310.0,1025.1 L311.3,1025.1 L312.6,1025.1 L313.9,1025.0 L315.2,1025.0 L316.5,1025.0 L317.8,1024.9 L319.1,1024.9 L320.4,1024.8 L321.8,1024.8 L323.1,1024.7 L324.4,1024.7 L325.7,1024.6 L327.0,1024.6 L328.3,1024.5 L329.6,1024.5 L330.9,1024.4 L332.2,1024.4 L333.5,1024.3 L334.8,1024.3 L336.1,1024.2 L337.4,1024.2 L338.7,1024.1 L340.0,1024.0 L341.3,1024.0 L342.6,1023.9 L343.9,1023.8 L345.2,1023.6 L346.5,1023.5 L347.8,1023.3 L349.2,1023.1 L350.5,1022.9 L351.8,1022.6 L353.1,1022.3 L354.4,1022.0 L355.7,1021.7 L357.0,1021.3 L358.3,1020.9 L359.6,1020.4 L360.9,1019.7 L362.2,1019.0 L363.5,1018.0 L364.8,1016.8 L366.1,1015.4 L367.4,1013.7 L368.7,1011.9 L370.0,1009.9 L371.3,1007.7 L372.6,1005.2 L373.9,1002.5 L375.2,999.4 L376.5,995.9 L377.9,992.1 L379.2,987.9 L380.5,983.2 L381.8,977.9 L383.1,971.9 L384.4,965.3 L385.7,958.0 L387.0,950.3 L388.3,942.2 L389.6,933.9 L390.9,925.5 L392.2,917.1 L393.5,908.8 L394.8,900.4 L396.1,891.8 L397.4,883.1 L398.7,874.2 L400.0,865.1 L401.3,855.7 L402.6,845.9 L403.9,835.8 L405.3,825.4 L406.6,814.8 L407.9,803.8 L409.2,792.7 L410.5,781.4 L411.8,770.3 L413.1,759.5 L414.4,749.5 L415.7,740.4 L417.0,732.2 L418.3,724.9 L419.6,718.3 L420.9,712.2 L422.2,706.5 L423.5,701.1 L424.8,696.1 L426.1,691.5 L427.4,687.2 L428.7,683.4 L430.0,679.9 L431.3,676.8 L432.7,674.2 L434.0,671.9 L435.3,670.1 L436.6,668.8 L437.9,667.9 L439.2,667.4 L440.5,667.4 L441.8,667.6 L443.1,668.2 L444.4,669.0 L445.7,670.1 L447.0,671.4 L448.3,673.1 L449.6,675.0 L450.9,677.3 L452.2,679.7 L453.5,682.4 L454.8,685.2 L456.1,688.2 L457.4,691.2 L458.7,694.3 L460.1,697.6 L461.4,701.1 L462.7,704.6 L464.0,708.3 L465.3,712.1 L466.6,715.9 L467.9,719.8 L469.2,723.7 L470.5,727.7 L471.8,731.7 L473.1,735.7 L474.4,739.8 L475.7,744.0 L477.0,748.2 L478.3,752.6 L479.6,757.0 L480.9,761.5 L482.2,766.1 L483.5,770.9 L484.8,775.8 L486.1,780.8 L487.5,785.9 L488.8,791.1 L490.1,796.4 L491.4,801.6 L492.7,806.8 L494.0,812.0 L495.3,817.0 L496.6,821.9 L497.9,826.8 L499.2,831.7 L500.5,836.5 L501.8,841.4 L503.1,846.3 L504.4,851.4 L505.7,856.5 L507.0,861.8 L508.3,867.2 L509.6,872.9 L510.9,878.6 L512.2,884.4 L513.5,890.1 L514.9,895.6 L516.2,900.9 L517.5,905.9 L518.8,910.6 L520.1,915.1 L521.4,919.3 L522.7,923.4 L524.0,927.4 L525.3,931.2 L526.6,934.9 L527.9,938.5 L529.2,942.0 L530.5,945.4 L531.8,948.8 L533.1,952.2 L534.4,955.5 L535.7,958.7 L537.0,961.9 L538.3,964.9 L539.6,967.8 L540.9,970.6 L542.3,973.2 L543.6,975.7 L544.9,978.0 L546.2,980.1 L547.5,982.1 L548.8,984.0 L550.1,985.8 L551.4,987.5 L552.7,989.2 L554.0,990.8 L555.3,992.3 L556.6,993.7 L557.9,995.2 L559.2,996.5 L560.5,997.8 L561.8,999.1 L563.1,1000.4 L564.4,1001.6 L565.7,1002.8 L567.0,1004.0 L568.3,1005.1 L569.7,1006.2 L571.0,1007.3 L572.3,1008.3 L573.6,1009.3 L574.9,1010.2 L576.2,1011.1 L577.5,1012.0 L578.8,1012.8 L580.1,1013.5 L581.4,1014.3 L582.7,1015.0 L584.0,1015.6 L585.3,1016.3 L586.6,1016.9 L587.9,1017.5 L589.2,1018.1 L590.5,1018.6 L591.8,1019.1 L593.1,1019.6 L594.4,1020.0 L595.7,1020.4 L597.1,1020.7 L598.4,1021.0 L599.7,1021.3 L601.0,1021.6 L602.3,1021.9 L603.6,1022.2 L604.9,1022.5 L606.2,1022.7 L607.5,1022.9 L608.8,1023.2 L610.1,1023.4 L611.4,1023.6 L612.7,1023.7 L614.0,1023.9 L615.3,1024.0 L616.6,1024.2 L617.9,1024.3 L619.2,1024.4 L620.5,1024.5 L621.8,1024.6 L623.1,1024.7 L624.5,1024.8 L625.8,1024.8 L627.1,1024.9 L628.4,1025.0 L629.7,1025.0 L631.0,1025.1 L632.3,1025.1 L633.6,1025.1 L634.9,1025.2 L636.2,1025.2 L637.5,1025.2 L637.5,1026.0 L141.7,1026.0 Z" fill="url(#gd_red)" stroke="none" />
<path d="M141.7,1026.0 L143.0,1026.0 L144.3,1026.0 L145.6,1026.0 L146.9,1026.0 L148.2,1026.0 L149.5,1026.0 L150.8,1026.0 L152.1,1026.0 L153.4,1026.0 L154.7,1026.0 L156.0,1026.0 L157.4,1026.0 L158.7,1026.0 L160.0,1026.0 L161.3,1026.0 L162.6,1026.0 L163.9,1026.0 L165.2,1026.0 L166.5,1026.0 L167.8,1026.0 L169.1,1026.0 L170.4,1026.0 L171.7,1026.0 L173.0,1026.0 L174.3,1026.0 L175.6,1026.0 L176.9,1026.0 L178.2,1026.0 L179.5,1026.0 L180.8,1026.0 L182.1,1026.0 L183.4,1026.0 L184.8,1026.0 L186.1,1026.0 L187.4,1026.0 L188.7,1026.0 L190.0,1026.0 L191.3,1026.0 L192.6,1026.0 L193.9,1026.0 L195.2,1026.0 L196.5,1026.0 L197.8,1026.0 L199.1,1026.0 L200.4,1026.0 L201.7,1026.0 L203.0,1026.0 L204.3,1026.0 L205.6,1026.0 L206.9,1026.0 L208.2,1026.0 L209.5,1026.0 L210.8,1026.0 L212.2,1026.0 L213.5,1026.0 L214.8,1026.0 L216.1,1026.0 L217.4,1026.0 L218.7,1026.0 L220.0,1026.0 L221.3,1026.0 L222.6,1026.0 L223.9,1026.0 L225.2,1026.0 L226.5,1026.0 L227.8,1026.0 L229.1,1026.0 L230.4,1026.0 L231.7,1026.0 L233.0,1026.0 L234.3,1026.0 L235.6,1026.0 L236.9,1026.0 L238.2,1026.0 L239.6,1026.0 L240.9,1026.0 L242.2,1026.0 L243.5,1026.0 L244.8,1026.0 L246.1,1026.0 L247.4,1026.0 L248.7,1026.0 L250.0,1026.0 L251.3,1026.0 L252.6,1026.0 L253.9,1026.0 L255.2,1026.0 L256.5,1026.0 L257.8,1026.0 L259.1,1026.0 L260.4,1026.0 L261.7,1026.0 L263.0,1025.9 L264.3,1025.9 L265.6,1025.9 L267.0,1025.9 L268.3,1025.9 L269.6,1025.9 L270.9,1025.9 L272.2,1025.9 L273.5,1025.9 L274.8,1025.8 L276.1,1025.8 L277.4,1025.8 L278.7,1025.8 L280.0,1025.8 L281.3,1025.8 L282.6,1025.7 L283.9,1025.7 L285.2,1025.7 L286.5,1025.7 L287.8,1025.7 L289.1,1025.6 L290.4,1025.6 L291.7,1025.6 L293.0,1025.6 L294.4,1025.5 L295.7,1025.5 L297.0,1025.5 L298.3,1025.4 L299.6,1025.4 L300.9,1025.4 L302.2,1025.4 L303.5,1025.3 L304.8,1025.3 L306.1,1025.3 L307.4,1025.2 L308.7,1025.2 L310.0,1025.1 L311.3,1025.1 L312.6,1025.1 L313.9,1025.0 L315.2,1025.0 L316.5,1025.0 L317.8,1024.9 L319.1,1024.9 L320.4,1024.8 L321.8,1024.8 L323.1,1024.7 L324.4,1024.7 L325.7,1024.6 L327.0,1024.6 L328.3,1024.5 L329.6,1024.5 L330.9,1024.4 L332.2,1024.4 L333.5,1024.3 L334.8,1024.3 L336.1,1024.2 L337.4,1024.2 L338.7,1024.1 L340.0,1024.0 L341.3,1024.0 L342.6,1023.9 L343.9,1023.8 L345.2,1023.6 L346.5,1023.5 L347.8,1023.3 L349.2,1023.1 L350.5,1022.9 L351.8,1022.6 L353.1,1022.3 L354.4,1022.0 L355.7,1021.7 L357.0,1021.3 L358.3,1020.9 L359.6,1020.4 L360.9,1019.7 L362.2,1019.0 L363.5,1018.0 L364.8,1016.8 L366.1,1015.4 L367.4,1013.7 L368.7,1011.9 L370.0,1009.9 L371.3,1007.7 L372.6,1005.2 L373.9,1002.5 L375.2,999.4 L376.5,995.9 L377.9,992.1 L379.2,987.9 L380.5,983.2 L381.8,977.9 L383.1,971.9 L384.4,965.3 L385.7,958.0 L387.0,950.3 L388.3,942.2 L389.6,933.9 L390.9,925.5 L392.2,917.1 L393.5,908.8 L394.8,900.4 L396.1,891.8 L397.4,883.1 L398.7,874.2 L400.0,865.1 L401.3,855.7 L402.6,845.9 L403.9,835.8 L405.3,825.4 L406.6,814.8 L407.9,803.8 L409.2,792.7 L410.5,781.4 L411.8,770.3 L413.1,759.5 L414.4,749.5 L415.7,740.4 L417.0,732.2 L418.3,724.9 L419.6,718.3 L420.9,712.2 L422.2,706.5 L423.5,701.1 L424.8,696.1 L426.1,691.5 L427.4,687.2 L428.7,683.4 L430.0,679.9 L431.3,676.8 L432.7,674.2 L434.0,671.9 L435.3,670.1 L436.6,668.8 L437.9,667.9 L439.2,667.4 L440.5,667.4 L441.8,667.6 L443.1,668.2 L444.4,669.0 L445.7,670.1 L447.0,671.4 L448.3,673.1 L449.6,675.0 L450.9,677.3 L452.2,679.7 L453.5,682.4 L454.8,685.2 L456.1,688.2 L457.4,691.2 L458.7,694.3 L460.1,697.6 L461.4,701.1 L462.7,704.6 L464.0,708.3 L465.3,712.1 L466.6,715.9 L467.9,719.8 L469.2,723.7 L470.5,727.7 L471.8,731.7 L473.1,735.7 L474.4,739.8 L475.7,744.0 L477.0,748.2 L478.3,752.6 L479.6,757.0 L480.9,761.5 L482.2,766.1 L483.5,770.9 L484.8,775.8 L486.1,780.8 L487.5,785.9 L488.8,791.1 L490.1,796.4 L491.4,801.6 L492.7,806.8 L494.0,812.0 L495.3,817.0 L496.6,821.9 L497.9,826.8 L499.2,831.7 L500.5,836.5 L501.8,841.4 L503.1,846.3 L504.4,851.4 L505.7,856.5 L507.0,861.8 L508.3,867.2 L509.6,872.9 L510.9,878.6 L512.2,884.4 L513.5,890.1 L514.9,895.6 L516.2,900.9 L517.5,905.9 L518.8,910.6 L520.1,915.1 L521.4,919.3 L522.7,923.4 L524.0,927.4 L525.3,931.2 L526.6,934.9 L527.9,938.5 L529.2,942.0 L530.5,945.4 L531.8,948.8 L533.1,952.2 L534.4,955.5 L535.7,958.7 L537.0,961.9 L538.3,964.9 L539.6,967.8 L540.9,970.6 L542.3,973.2 L543.6,975.7 L544.9,978.0 L546.2,980.1 L547.5,982.1 L548.8,984.0 L550.1,985.8 L551.4,987.5 L552.7,989.2 L554.0,990.8 L555.3,992.3 L556.6,993.7 L557.9,995.2 L559.2,996.5 L560.5,997.8 L561.8,999.1 L563.1,1000.4 L564.4,1001.6 L565.7,1002.8 L567.0,1004.0 L568.3,1005.1 L569.7,1006.2 L571.0,1007.3 L572.3,1008.3 L573.6,1009.3 L574.9,1010.2 L576.2,1011.1 L577.5,1012.0 L578.8,1012.8 L580.1,1013.5 L581.4,1014.3 L582.7,1015.0 L584.0,1015.6 L585.3,1016.3 L586.6,1016.9 L587.9,1017.5 L589.2,1018.1 L590.5,1018.6 L591.8,1019.1 L593.1,1019.6 L594.4,1020.0 L595.7,1020.4 L597.1,1020.7 L598.4,1021.0 L599.7,1021.3 L601.0,1021.6 L602.3,1021.9 L603.6,1022.2 L604.9,1022.5 L606.2,1022.7 L607.5,1022.9 L608.8,1023.2 L610.1,1023.4 L611.4,1023.6 L612.7,1023.7 L614.0,1023.9 L615.3,1024.0 L616.6,1024.2 L617.9,1024.3 L619.2,1024.4 L620.5,1024.5 L621.8,1024.6 L623.1,1024.7 L624.5,1024.8 L625.8,1024.8 L627.1,1024.9 L628.4,1025.0 L629.7,1025.0 L631.0,1025.1 L632.3,1025.1 L633.6,1025.1 L634.9,1025.2 L636.2,1025.2 L637.5,1025.2" fill="none" stroke="#ec3b3b" stroke-width="3.2" stroke-linejoin="round" stroke-linecap="butt" />
<path d="M141.7,1024.8 L149.5,1026.0 L637.5,1026.0" fill="none" stroke="#1c6ae0" stroke-width="3.2" stroke-linejoin="round" stroke-linecap="butt" />
<rect x="115.6" y="631.8" width="521.9" height="434.5" fill="none" stroke="#000" stroke-width="3"/>
<path d="M115.6,1066.3V1076.8 M246.1,1066.3V1076.8 M376.5,1066.3V1076.8 M507.0,1066.3V1076.8 M637.5,1066.3V1076.8 M180.8,1066.3V1071.8 M311.3,1066.3V1071.8 M441.8,1066.3V1071.8 M572.3,1066.3V1071.8" stroke="#000" stroke-width="3" fill="none"/>
<text x="115.6" y="1105.3" font-size="27" text-anchor="middle" >700</text>
<text x="246.1" y="1105.3" font-size="27" text-anchor="middle" >750</text>
<text x="376.5" y="1105.3" font-size="27" text-anchor="middle" >800</text>
<text x="507.0" y="1105.3" font-size="27" text-anchor="middle" >850</text>
<text x="637.5" y="1105.3" font-size="27" text-anchor="middle" >900</text>
<path d="M115.6,1026.0H105.1 M115.6,947.2H105.1 M115.6,868.3H105.1 M115.6,789.5H105.1 M115.6,710.6H105.1 M115.6,631.8H105.1 M115.6,986.6H110.1 M115.6,907.7H110.1 M115.6,828.9H110.1 M115.6,750.1H110.1 M115.6,671.2H110.1 M115.6,1065.4H110.1" stroke="#000" stroke-width="3" fill="none"/>
<text x="96.8" y="1034.8" font-size="27" text-anchor="end" >0.0</text>
<text x="96.8" y="956.0" font-size="27" text-anchor="end" >0.2</text>
<text x="96.8" y="877.1" font-size="27" text-anchor="end" >0.4</text>
<text x="96.8" y="798.3" font-size="27" text-anchor="end" >0.6</text>
<text x="96.8" y="719.4" font-size="27" text-anchor="end" >0.8</text>
<text x="96.8" y="640.6" font-size="27" text-anchor="end" >1.0</text>
<text x="376.5" y="1138.1" font-size="28.8" text-anchor="middle" >Wavelength (nm)</text>
<text transform="translate(49.2,848.9) rotate(-90)" font-size="28.8" text-anchor="middle">PL Intensity (arb. units)</text>
<text x="116.6" y="625.5" font-size="26.5" text-anchor="start" >x10<tspan dy="-12" font-size="19">6</tspan></text>
<rect x="146.5" y="650.4" width="62.8" height="30.8" rx="1.5" fill="url(#lg_red_146_650)" stroke="#ec3b3b" stroke-width="2.8"/>
<text x="217.8" y="675.3" font-size="28.7" text-anchor="start" >C5T-Pco NP</text>
<rect x="146.5" y="686.5" width="62.8" height="30.8" rx="1.5" fill="url(#lg_blue_146_686)" stroke="#1c6ae0" stroke-width="2.8"/>
<text x="217.8" y="711.0" font-size="28.7" text-anchor="start" >C5T-Pc NP</text>
<text x="667.0" y="616.6" font-size="36" text-anchor="start" >e</text>
<path d="M785.0,1026.9 L785.9,1026.8 L786.7,1026.6 L787.6,1026.5 L788.5,1026.4 L789.3,1026.3 L790.2,1026.2 L791.1,1026.0 L791.9,1025.9 L792.8,1025.8 L793.7,1025.7 L794.6,1025.6 L795.4,1025.4 L796.3,1025.3 L797.2,1025.2 L798.0,1025.1 L798.9,1025.0 L799.8,1024.9 L800.6,1024.7 L801.5,1024.6 L802.4,1024.5 L803.2,1024.4 L804.1,1024.3 L805.0,1024.2 L805.8,1024.1 L806.7,1023.9 L807.6,1023.8 L808.5,1023.7 L809.3,1023.6 L810.2,1023.5 L811.1,1023.4 L811.9,1023.3 L812.8,1023.2 L813.7,1023.1 L814.5,1022.9 L815.4,1022.8 L816.3,1022.7 L817.1,1022.6 L818.0,1022.5 L818.9,1022.4 L819.7,1022.3 L820.6,1022.2 L821.5,1022.1 L822.4,1022.0 L823.2,1021.9 L824.1,1021.8 L825.0,1021.7 L825.8,1021.6 L826.7,1021.5 L827.6,1021.3 L828.4,1021.2 L829.3,1021.1 L830.2,1021.0 L831.0,1020.9 L831.9,1020.8 L832.8,1020.7 L833.6,1020.6 L834.5,1020.6 L835.4,1020.5 L836.3,1020.4 L837.1,1020.3 L838.0,1020.2 L838.9,1020.1 L839.7,1020.1 L840.6,1020.0 L841.5,1019.9 L842.3,1019.8 L843.2,1019.8 L844.1,1019.7 L844.9,1019.6 L845.8,1019.5 L846.7,1019.5 L847.5,1019.4 L848.4,1019.3 L849.3,1019.3 L850.1,1019.2 L851.0,1019.1 L851.9,1019.0 L852.8,1019.0 L853.6,1018.9 L854.5,1018.8 L855.4,1018.7 L856.2,1018.6 L857.1,1018.5 L858.0,1018.5 L858.8,1018.4 L859.7,1018.3 L860.6,1018.2 L861.4,1018.1 L862.3,1018.0 L863.2,1017.8 L864.0,1017.7 L864.9,1017.6 L865.8,1017.5 L866.7,1017.4 L867.5,1017.2 L868.4,1017.1 L869.3,1016.9 L870.1,1016.8 L871.0,1016.6 L871.9,1016.5 L872.7,1016.3 L873.6,1016.1 L874.5,1015.8 L875.3,1015.5 L876.2,1015.3 L877.1,1014.9 L877.9,1014.6 L878.8,1014.2 L879.7,1013.9 L880.6,1013.5 L881.4,1013.0 L882.3,1012.6 L883.2,1012.2 L884.0,1011.7 L884.9,1011.2 L885.8,1010.7 L886.6,1010.2 L887.5,1009.7 L888.4,1009.2 L889.2,1008.7 L890.1,1008.2 L891.0,1007.6 L891.8,1007.1 L892.7,1006.5 L893.6,1006.0 L894.5,1005.4 L895.3,1004.9 L896.2,1004.3 L897.1,1003.8 L897.9,1003.2 L898.8,1002.7 L899.7,1002.1 L900.5,1001.6 L901.4,1001.0 L902.3,1000.3 L903.1,999.6 L904.0,999.0 L904.9,998.3 L905.7,997.5 L906.6,996.8 L907.5,996.0 L908.4,995.3 L909.2,994.5 L910.1,993.7 L911.0,993.0 L911.8,992.2 L912.7,991.4 L913.6,990.7 L914.4,989.9 L915.3,989.2 L916.2,988.5 L917.0,987.8 L917.9,987.1 L918.8,986.4 L919.6,985.8 L920.5,985.2 L921.4,984.7 L922.2,984.1 L923.1,983.7 L924.0,983.2 L924.9,982.7 L925.7,982.3 L926.6,981.8 L927.5,981.4 L928.3,981.0 L929.2,980.6 L930.1,980.1 L930.9,979.7 L931.8,979.3 L932.7,979.0 L933.5,978.6 L934.4,978.2 L935.3,977.9 L936.1,977.6 L937.0,977.2 L937.9,976.9 L938.8,976.6 L939.6,976.4 L940.5,976.1 L941.4,975.8 L942.2,975.6 L943.1,975.4 L944.0,975.2 L944.8,975.0 L945.7,974.9 L946.6,974.7 L947.4,974.6 L948.3,974.4 L949.2,974.3 L950.0,974.1 L950.9,974.0 L951.8,973.9 L952.7,973.8 L953.5,973.7 L954.4,973.6 L955.3,973.5 L956.1,973.4 L957.0,973.3 L957.9,973.2 L958.7,973.0 L959.6,972.9 L960.5,972.8 L961.3,972.7 L962.2,972.6 L963.1,972.5 L963.9,972.3 L964.8,972.2 L965.7,972.0 L966.6,971.9 L967.4,971.7 L968.3,971.5 L969.2,971.4 L970.0,971.2 L970.9,971.0 L971.8,970.8 L972.6,970.6 L973.5,970.4 L974.4,970.2 L975.2,970.0 L976.1,969.8 L977.0,969.5 L977.8,969.3 L978.7,969.0 L979.6,968.6 L980.5,968.3 L981.3,967.9 L982.2,967.5 L983.1,967.0 L983.9,966.4 L984.8,965.7 L985.7,965.0 L986.5,964.2 L987.4,963.4 L988.3,962.5 L989.1,961.5 L990.0,960.5 L990.9,959.5 L991.7,958.4 L992.6,957.3 L993.5,956.1 L994.3,954.9 L995.2,953.7 L996.1,952.3 L997.0,950.8 L997.8,949.2 L998.7,947.5 L999.6,945.6 L1000.4,943.7 L1001.3,941.7 L1002.2,939.6 L1003.0,937.4 L1003.9,935.2 L1004.8,932.9 L1005.6,930.6 L1006.5,928.2 L1007.4,925.9 L1008.2,923.5 L1009.1,921.0 L1010.0,918.5 L1010.9,915.9 L1011.7,913.1 L1012.6,910.4 L1013.5,907.5 L1014.3,904.5 L1015.2,901.5 L1016.1,898.3 L1016.9,895.1 L1017.8,891.8 L1018.7,888.4 L1019.5,884.9 L1020.4,881.3 L1021.3,877.7 L1022.1,873.9 L1023.0,869.9 L1023.9,865.7 L1024.8,861.3 L1025.6,856.7 L1026.5,852.0 L1027.4,847.2 L1028.2,842.2 L1029.1,837.2 L1030.0,832.1 L1030.8,826.9 L1031.7,821.7 L1032.6,816.6 L1033.4,811.4 L1034.3,806.3 L1035.2,801.3 L1036.0,796.2 L1036.9,791.0 L1037.8,785.7 L1038.7,780.3 L1039.5,774.9 L1040.4,769.5 L1041.3,764.1 L1042.1,758.8 L1043.0,753.7 L1043.9,748.7 L1044.7,743.8 L1045.6,739.3 L1046.5,734.7 L1047.3,730.2 L1048.2,725.6 L1049.1,721.1 L1049.9,716.7 L1050.8,712.5 L1051.7,708.4 L1052.5,704.5 L1053.4,700.9 L1054.3,697.6 L1055.2,694.5 L1056.0,691.9 L1056.9,689.3 L1057.8,686.7 L1058.6,684.2 L1059.5,681.7 L1060.4,679.2 L1061.2,676.9 L1062.1,674.8 L1063.0,672.9 L1063.8,671.2 L1064.7,669.9 L1065.6,668.8 L1066.4,668.1 L1067.3,667.8 L1068.2,667.9 L1069.1,668.4 L1069.9,669.2 L1070.8,670.4 L1071.7,671.8 L1072.5,673.5 L1073.4,675.4 L1074.3,677.4 L1075.1,679.7 L1076.0,682.1 L1076.9,684.6 L1077.7,687.2 L1078.6,689.8 L1079.5,692.4 L1080.3,695.4 L1081.2,698.9 L1082.1,702.9 L1083.0,707.4 L1083.8,712.3 L1084.7,717.4 L1085.6,722.8 L1086.4,728.3 L1087.3,733.9 L1088.2,739.4 L1089.0,744.9 L1089.9,750.3 L1090.8,755.6 L1091.6,761.1 L1092.5,766.7 L1093.4,772.4 L1094.2,778.2 L1095.1,784.1 L1096.0,790.0 L1096.9,796.0 L1097.7,801.9 L1098.6,807.8 L1099.5,813.7 L1100.3,819.5 L1101.2,825.3 L1102.1,831.1 L1102.9,837.0 L1103.8,842.9 L1104.7,848.8 L1105.5,854.6 L1106.4,860.5 L1107.3,866.3 L1108.1,872.1 L1109.0,877.7 L1109.9,883.4 L1110.8,888.9 L1111.6,894.5 L1112.5,900.2 L1113.4,905.9 L1114.2,911.6 L1115.1,917.3 L1116.0,922.8 L1116.8,928.1 L1117.7,933.3 L1118.6,938.2 L1119.4,942.8 L1120.3,947.0 L1121.2,951.0 L1122.0,954.8 L1122.9,958.5 L1123.8,962.1 L1124.6,965.5 L1125.5,968.8 L1126.4,972.0 L1127.3,975.0 L1128.1,977.9 L1129.0,980.6 L1129.9,983.1 L1130.7,985.5 L1131.6,987.7 L1132.5,990.0 L1133.3,992.2 L1134.2,994.3 L1135.1,996.4 L1135.9,998.4 L1136.8,1000.4 L1137.7,1002.3 L1138.5,1004.0 L1139.4,1005.7 L1140.3,1007.2 L1141.2,1008.7 L1142.0,1009.9 L1142.9,1011.1 L1143.8,1012.1 L1144.6,1012.9 L1145.5,1013.7 L1146.4,1014.5 L1147.2,1015.2 L1148.1,1015.9 L1149.0,1016.5 L1149.8,1017.1 L1150.7,1017.7 L1151.6,1018.3 L1152.4,1018.8 L1153.3,1019.3 L1154.2,1019.8 L1155.1,1020.3 L1155.9,1020.7 L1156.8,1021.1 L1157.7,1021.4 L1158.5,1021.8 L1159.4,1022.1 L1160.3,1022.4 L1161.1,1022.7 L1162.0,1022.9 L1162.9,1023.2 L1163.7,1023.4 L1164.6,1023.7 L1165.5,1023.9 L1166.3,1024.1 L1167.2,1024.3 L1168.1,1024.5 L1169.0,1024.7 L1169.8,1024.9 L1170.7,1025.1 L1171.6,1024.7 L1172.4,1025.9 L1173.3,1022.1 L1174.2,1026.2 L1175.0,1025.8 L1175.9,1023.8 L1176.8,1027.6 L1177.6,1027.3 L1178.5,1026.3 L1179.4,1027.2 L1180.2,1028.5 L1181.1,1027.2 L1182.0,1027.6 L1182.8,1026.3 L1183.7,1029.7 L1184.6,1028.4 L1185.5,1025.8 L1186.3,1024.9 L1187.2,1029.8 L1188.1,1026.8 L1188.9,1029.2 L1189.8,1029.1 L1190.7,1029.2 L1191.5,1028.7 L1192.4,1026.7 L1193.3,1027.2 L1194.1,1028.2 L1195.0,1028.9 L1195.9,1028.4 L1196.7,1028.7 L1197.6,1027.4 L1198.5,1029.6 L1199.4,1028.7 L1200.2,1029.0 L1201.1,1029.0 L1202.0,1028.6 L1202.8,1028.7 L1203.7,1027.2 L1204.6,1029.3 L1205.4,1027.0 L1206.3,1029.7 L1207.2,1030.0 L1208.0,1029.3 L1208.9,1029.0 L1209.8,1029.1 L1210.6,1027.7 L1211.5,1028.0 L1212.4,1029.0 L1213.3,1030.3 L1214.1,1030.0 L1215.0,1027.8 L1215.9,1029.6 L1216.7,1031.9 L1217.6,1031.0 L1218.5,1030.9 L1219.3,1028.5 L1220.2,1030.3 L1221.1,1026.9 L1221.9,1029.3 L1222.8,1030.1 L1223.7,1031.0 L1224.5,1029.0 L1225.4,1030.7 L1226.3,1031.6 L1227.2,1029.6 L1228.0,1030.5 L1228.9,1028.8 L1229.8,1030.6 L1230.6,1034.7 L1231.5,1029.4 L1232.4,1033.3 L1233.2,1028.4 L1234.1,1028.0 L1235.0,1031.3 L1235.8,1032.3 L1236.7,1032.7 L1237.6,1029.4 L1238.4,1031.0 L1239.3,1031.6 L1240.2,1031.0 L1241.0,1027.7 L1241.9,1030.2 L1242.8,1029.6 L1243.7,1029.6 L1244.5,1029.2 L1245.4,1029.1 L1246.3,1031.7 L1247.1,1031.0 L1248.0,1031.8 L1248.9,1031.7 L1249.7,1029.0 L1250.6,1031.4 L1251.5,1030.8 L1252.3,1031.7 L1253.2,1031.5 L1254.1,1029.5 L1254.9,1031.3 L1255.8,1031.3 L1256.7,1029.9 L1257.6,1029.9 L1258.4,1029.5 L1259.3,1030.4 L1260.2,1033.1 L1261.0,1029.7 L1261.9,1029.9 L1262.8,1029.1 L1263.6,1031.8 L1264.5,1026.9 L1265.4,1032.3 L1266.2,1029.5 L1267.1,1030.5 L1268.0,1031.2 L1268.8,1029.3 L1269.7,1030.9 L1270.6,1033.9 L1271.5,1032.2 L1272.3,1029.8 L1273.2,1027.3 L1274.1,1032.6 L1274.9,1030.5 L1275.8,1028.4 L1276.7,1029.6 L1277.5,1031.0 L1278.4,1032.5 L1279.3,1033.0 L1280.1,1031.5 L1281.0,1031.0 L1281.9,1033.7 L1282.7,1032.9 L1283.6,1030.0 L1284.5,1031.0 L1285.4,1031.5 L1286.2,1031.0 L1287.1,1031.6 L1288.0,1029.0 L1288.8,1028.0 L1289.7,1027.4 L1290.6,1029.3 L1291.4,1029.3 L1292.3,1028.2 L1293.2,1027.8 L1294.0,1028.2 L1294.9,1028.6 L1295.8,1031.3 L1296.6,1032.7 L1297.5,1029.1 L1298.4,1030.5 L1299.3,1030.4 L1300.1,1031.6 L1301.0,1032.2 L1301.9,1028.3 L1302.7,1029.7 L1303.6,1031.9 L1304.5,1029.8 L1305.3,1029.9 L1306.2,1029.6 L1306.2,1066.0 L785.0,1066.0 Z" fill="url(#ge_gray)" stroke="none" />
<path d="M785.0,1026.9 L785.9,1026.8 L786.7,1026.6 L787.6,1026.5 L788.5,1026.4 L789.3,1026.3 L790.2,1026.2 L791.1,1026.0 L791.9,1025.9 L792.8,1025.8 L793.7,1025.7 L794.6,1025.6 L795.4,1025.4 L796.3,1025.3 L797.2,1025.2 L798.0,1025.1 L798.9,1025.0 L799.8,1024.9 L800.6,1024.7 L801.5,1024.6 L802.4,1024.5 L803.2,1024.4 L804.1,1024.3 L805.0,1024.2 L805.8,1024.1 L806.7,1023.9 L807.6,1023.8 L808.5,1023.7 L809.3,1023.6 L810.2,1023.5 L811.1,1023.4 L811.9,1023.3 L812.8,1023.2 L813.7,1023.1 L814.5,1022.9 L815.4,1022.8 L816.3,1022.7 L817.1,1022.6 L818.0,1022.5 L818.9,1022.4 L819.7,1022.3 L820.6,1022.2 L821.5,1022.1 L822.4,1022.0 L823.2,1021.9 L824.1,1021.8 L825.0,1021.7 L825.8,1021.6 L826.7,1021.5 L827.6,1021.3 L828.4,1021.2 L829.3,1021.1 L830.2,1021.0 L831.0,1020.9 L831.9,1020.8 L832.8,1020.7 L833.6,1020.6 L834.5,1020.6 L835.4,1020.5 L836.3,1020.4 L837.1,1020.3 L838.0,1020.2 L838.9,1020.1 L839.7,1020.1 L840.6,1020.0 L841.5,1019.9 L842.3,1019.8 L843.2,1019.8 L844.1,1019.7 L844.9,1019.6 L845.8,1019.5 L846.7,1019.5 L847.5,1019.4 L848.4,1019.3 L849.3,1019.3 L850.1,1019.2 L851.0,1019.1 L851.9,1019.0 L852.8,1019.0 L853.6,1018.9 L854.5,1018.8 L855.4,1018.7 L856.2,1018.6 L857.1,1018.5 L858.0,1018.5 L858.8,1018.4 L859.7,1018.3 L860.6,1018.2 L861.4,1018.1 L862.3,1018.0 L863.2,1017.8 L864.0,1017.7 L864.9,1017.6 L865.8,1017.5 L866.7,1017.4 L867.5,1017.2 L868.4,1017.1 L869.3,1016.9 L870.1,1016.8 L871.0,1016.6 L871.9,1016.5 L872.7,1016.3 L873.6,1016.1 L874.5,1015.8 L875.3,1015.5 L876.2,1015.3 L877.1,1014.9 L877.9,1014.6 L878.8,1014.2 L879.7,1013.9 L880.6,1013.5 L881.4,1013.0 L882.3,1012.6 L883.2,1012.2 L884.0,1011.7 L884.9,1011.2 L885.8,1010.7 L886.6,1010.2 L887.5,1009.7 L888.4,1009.2 L889.2,1008.7 L890.1,1008.2 L891.0,1007.6 L891.8,1007.1 L892.7,1006.5 L893.6,1006.0 L894.5,1005.4 L895.3,1004.9 L896.2,1004.3 L897.1,1003.8 L897.9,1003.2 L898.8,1002.7 L899.7,1002.1 L900.5,1001.6 L901.4,1001.0 L902.3,1000.3 L903.1,999.6 L904.0,999.0 L904.9,998.3 L905.7,997.5 L906.6,996.8 L907.5,996.0 L908.4,995.3 L909.2,994.5 L910.1,993.7 L911.0,993.0 L911.8,992.2 L912.7,991.4 L913.6,990.7 L914.4,989.9 L915.3,989.2 L916.2,988.5 L917.0,987.8 L917.9,987.1 L918.8,986.4 L919.6,985.8 L920.5,985.2 L921.4,984.7 L922.2,984.1 L923.1,983.7 L924.0,983.2 L924.9,982.7 L925.7,982.3 L926.6,981.8 L927.5,981.4 L928.3,981.0 L929.2,980.6 L930.1,980.1 L930.9,979.7 L931.8,979.3 L932.7,979.0 L933.5,978.6 L934.4,978.2 L935.3,977.9 L936.1,977.6 L937.0,977.2 L937.9,976.9 L938.8,976.6 L939.6,976.4 L940.5,976.1 L941.4,975.8 L942.2,975.6 L943.1,975.4 L944.0,975.2 L944.8,975.0 L945.7,974.9 L946.6,974.7 L947.4,974.6 L948.3,974.4 L949.2,974.3 L950.0,974.1 L950.9,974.0 L951.8,973.9 L952.7,973.8 L953.5,973.7 L954.4,973.6 L955.3,973.5 L956.1,973.4 L957.0,973.3 L957.9,973.2 L958.7,973.0 L959.6,972.9 L960.5,972.8 L961.3,972.7 L962.2,972.6 L963.1,972.5 L963.9,972.3 L964.8,972.2 L965.7,972.0 L966.6,971.9 L967.4,971.7 L968.3,971.5 L969.2,971.4 L970.0,971.2 L970.9,971.0 L971.8,970.8 L972.6,970.6 L973.5,970.4 L974.4,970.2 L975.2,970.0 L976.1,969.8 L977.0,969.5 L977.8,969.3 L978.7,969.0 L979.6,968.6 L980.5,968.3 L981.3,967.9 L982.2,967.5 L983.1,967.0 L983.9,966.4 L984.8,965.7 L985.7,965.0 L986.5,964.2 L987.4,963.4 L988.3,962.5 L989.1,961.5 L990.0,960.5 L990.9,959.5 L991.7,958.4 L992.6,957.3 L993.5,956.1 L994.3,954.9 L995.2,953.7 L996.1,952.3 L997.0,950.8 L997.8,949.2 L998.7,947.5 L999.6,945.6 L1000.4,943.7 L1001.3,941.7 L1002.2,939.6 L1003.0,937.4 L1003.9,935.2 L1004.8,932.9 L1005.6,930.6 L1006.5,928.2 L1007.4,925.9 L1008.2,923.5 L1009.1,921.0 L1010.0,918.5 L1010.9,915.9 L1011.7,913.1 L1012.6,910.4 L1013.5,907.5 L1014.3,904.5 L1015.2,901.5 L1016.1,898.3 L1016.9,895.1 L1017.8,891.8 L1018.7,888.4 L1019.5,884.9 L1020.4,881.3 L1021.3,877.7 L1022.1,873.9 L1023.0,869.9 L1023.9,865.7 L1024.8,861.3 L1025.6,856.7 L1026.5,852.0 L1027.4,847.2 L1028.2,842.2 L1029.1,837.2 L1030.0,832.1 L1030.8,826.9 L1031.7,821.7 L1032.6,816.6 L1033.4,811.4 L1034.3,806.3 L1035.2,801.3 L1036.0,796.2 L1036.9,791.0 L1037.8,785.7 L1038.7,780.3 L1039.5,774.9 L1040.4,769.5 L1041.3,764.1 L1042.1,758.8 L1043.0,753.7 L1043.9,748.7 L1044.7,743.8 L1045.6,739.3 L1046.5,734.7 L1047.3,730.2 L1048.2,725.6 L1049.1,721.1 L1049.9,716.7 L1050.8,712.5 L1051.7,708.4 L1052.5,704.5 L1053.4,700.9 L1054.3,697.6 L1055.2,694.5 L1056.0,691.9 L1056.9,689.3 L1057.8,686.7 L1058.6,684.2 L1059.5,681.7 L1060.4,679.2 L1061.2,676.9 L1062.1,674.8 L1063.0,672.9 L1063.8,671.2 L1064.7,669.9 L1065.6,668.8 L1066.4,668.1 L1067.3,667.8 L1068.2,667.9 L1069.1,668.4 L1069.9,669.2 L1070.8,670.4 L1071.7,671.8 L1072.5,673.5 L1073.4,675.4 L1074.3,677.4 L1075.1,679.7 L1076.0,682.1 L1076.9,684.6 L1077.7,687.2 L1078.6,689.8 L1079.5,692.4 L1080.3,695.4 L1081.2,698.9 L1082.1,702.9 L1083.0,707.4 L1083.8,712.3 L1084.7,717.4 L1085.6,722.8 L1086.4,728.3 L1087.3,733.9 L1088.2,739.4 L1089.0,744.9 L1089.9,750.3 L1090.8,755.6 L1091.6,761.1 L1092.5,766.7 L1093.4,772.4 L1094.2,778.2 L1095.1,784.1 L1096.0,790.0 L1096.9,796.0 L1097.7,801.9 L1098.6,807.8 L1099.5,813.7 L1100.3,819.5 L1101.2,825.3 L1102.1,831.1 L1102.9,837.0 L1103.8,842.9 L1104.7,848.8 L1105.5,854.6 L1106.4,860.5 L1107.3,866.3 L1108.1,872.1 L1109.0,877.7 L1109.9,883.4 L1110.8,888.9 L1111.6,894.5 L1112.5,900.2 L1113.4,905.9 L1114.2,911.6 L1115.1,917.3 L1116.0,922.8 L1116.8,928.1 L1117.7,933.3 L1118.6,938.2 L1119.4,942.8 L1120.3,947.0 L1121.2,951.0 L1122.0,954.8 L1122.9,958.5 L1123.8,962.1 L1124.6,965.5 L1125.5,968.8 L1126.4,972.0 L1127.3,975.0 L1128.1,977.9 L1129.0,980.6 L1129.9,983.1 L1130.7,985.5 L1131.6,987.7 L1132.5,990.0 L1133.3,992.2 L1134.2,994.3 L1135.1,996.4 L1135.9,998.4 L1136.8,1000.4 L1137.7,1002.3 L1138.5,1004.0 L1139.4,1005.7 L1140.3,1007.2 L1141.2,1008.7 L1142.0,1009.9 L1142.9,1011.1 L1143.8,1012.1 L1144.6,1012.9 L1145.5,1013.7 L1146.4,1014.5 L1147.2,1015.2 L1148.1,1015.9 L1149.0,1016.5 L1149.8,1017.1 L1150.7,1017.7 L1151.6,1018.3 L1152.4,1018.8 L1153.3,1019.3 L1154.2,1019.8 L1155.1,1020.3 L1155.9,1020.7 L1156.8,1021.1 L1157.7,1021.4 L1158.5,1021.8 L1159.4,1022.1 L1160.3,1022.4 L1161.1,1022.7 L1162.0,1022.9 L1162.9,1023.2 L1163.7,1023.4 L1164.6,1023.7 L1165.5,1023.9 L1166.3,1024.1 L1167.2,1024.3 L1168.1,1024.5 L1169.0,1024.7 L1169.8,1024.9 L1170.7,1025.1 L1171.6,1024.7 L1172.4,1025.9 L1173.3,1022.1 L1174.2,1026.2 L1175.0,1025.8 L1175.9,1023.8 L1176.8,1027.6 L1177.6,1027.3 L1178.5,1026.3 L1179.4,1027.2 L1180.2,1028.5 L1181.1,1027.2 L1182.0,1027.6 L1182.8,1026.3 L1183.7,1029.7 L1184.6,1028.4 L1185.5,1025.8 L1186.3,1024.9 L1187.2,1029.8 L1188.1,1026.8 L1188.9,1029.2 L1189.8,1029.1 L1190.7,1029.2 L1191.5,1028.7 L1192.4,1026.7 L1193.3,1027.2 L1194.1,1028.2 L1195.0,1028.9 L1195.9,1028.4 L1196.7,1028.7 L1197.6,1027.4 L1198.5,1029.6 L1199.4,1028.7 L1200.2,1029.0 L1201.1,1029.0 L1202.0,1028.6 L1202.8,1028.7 L1203.7,1027.2 L1204.6,1029.3 L1205.4,1027.0 L1206.3,1029.7 L1207.2,1030.0 L1208.0,1029.3 L1208.9,1029.0 L1209.8,1029.1 L1210.6,1027.7 L1211.5,1028.0 L1212.4,1029.0 L1213.3,1030.3 L1214.1,1030.0 L1215.0,1027.8 L1215.9,1029.6 L1216.7,1031.9 L1217.6,1031.0 L1218.5,1030.9 L1219.3,1028.5 L1220.2,1030.3 L1221.1,1026.9 L1221.9,1029.3 L1222.8,1030.1 L1223.7,1031.0 L1224.5,1029.0 L1225.4,1030.7 L1226.3,1031.6 L1227.2,1029.6 L1228.0,1030.5 L1228.9,1028.8 L1229.8,1030.6 L1230.6,1034.7 L1231.5,1029.4 L1232.4,1033.3 L1233.2,1028.4 L1234.1,1028.0 L1235.0,1031.3 L1235.8,1032.3 L1236.7,1032.7 L1237.6,1029.4 L1238.4,1031.0 L1239.3,1031.6 L1240.2,1031.0 L1241.0,1027.7 L1241.9,1030.2 L1242.8,1029.6 L1243.7,1029.6 L1244.5,1029.2 L1245.4,1029.1 L1246.3,1031.7 L1247.1,1031.0 L1248.0,1031.8 L1248.9,1031.7 L1249.7,1029.0 L1250.6,1031.4 L1251.5,1030.8 L1252.3,1031.7 L1253.2,1031.5 L1254.1,1029.5 L1254.9,1031.3 L1255.8,1031.3 L1256.7,1029.9 L1257.6,1029.9 L1258.4,1029.5 L1259.3,1030.4 L1260.2,1033.1 L1261.0,1029.7 L1261.9,1029.9 L1262.8,1029.1 L1263.6,1031.8 L1264.5,1026.9 L1265.4,1032.3 L1266.2,1029.5 L1267.1,1030.5 L1268.0,1031.2 L1268.8,1029.3 L1269.7,1030.9 L1270.6,1033.9 L1271.5,1032.2 L1272.3,1029.8 L1273.2,1027.3 L1274.1,1032.6 L1274.9,1030.5 L1275.8,1028.4 L1276.7,1029.6 L1277.5,1031.0 L1278.4,1032.5 L1279.3,1033.0 L1280.1,1031.5 L1281.0,1031.0 L1281.9,1033.7 L1282.7,1032.9 L1283.6,1030.0 L1284.5,1031.0 L1285.4,1031.5 L1286.2,1031.0 L1287.1,1031.6 L1288.0,1029.0 L1288.8,1028.0 L1289.7,1027.4 L1290.6,1029.3 L1291.4,1029.3 L1292.3,1028.2 L1293.2,1027.8 L1294.0,1028.2 L1294.9,1028.6 L1295.8,1031.3 L1296.6,1032.7 L1297.5,1029.1 L1298.4,1030.5 L1299.3,1030.4 L1300.1,1031.6 L1301.0,1032.2 L1301.9,1028.3 L1302.7,1029.7 L1303.6,1031.9 L1304.5,1029.8 L1305.3,1029.9 L1306.2,1029.6" fill="none" stroke="#555" stroke-width="2.8" stroke-linejoin="round" stroke-linecap="butt" />
<path d="M871.3,1016.6 L872.2,1016.2 L873.1,1015.8 L874.0,1015.5 L874.8,1015.1 L875.7,1014.6 L876.6,1014.2 L877.4,1013.8 L878.3,1013.3 L879.2,1012.8 L880.0,1012.4 L880.9,1011.9 L881.8,1011.3 L882.6,1010.8 L883.5,1010.3 L884.4,1009.7 L885.2,1009.2 L886.1,1008.6 L887.0,1008.1 L887.9,1007.5 L888.7,1006.9 L889.6,1006.3 L890.5,1005.7 L891.3,1005.0 L892.2,1004.4 L893.1,1003.7 L893.9,1003.1 L894.8,1002.3 L895.7,1001.5 L896.5,1000.7 L897.4,999.9 L898.3,999.0 L899.1,998.1 L900.0,997.1 L900.9,996.2 L901.7,995.2 L902.6,994.2 L903.5,993.2 L904.4,992.2 L905.2,991.2 L906.1,990.2 L907.0,989.2 L907.8,988.2 L908.7,987.2 L909.6,986.2 L910.4,985.2 L911.3,984.3 L912.2,983.4 L913.0,982.5 L913.9,981.6 L914.8,980.8 L915.6,979.9 L916.5,979.2 L917.4,978.4 L918.3,977.8 L919.1,977.1 L920.0,976.5 L920.9,976.0 L921.7,975.4 L922.6,974.9 L923.5,974.4 L924.3,973.9 L925.2,973.4 L926.1,972.9 L926.9,972.4 L927.8,971.9 L928.7,971.5 L929.5,971.1 L930.4,970.6 L931.3,970.2 L932.2,969.8 L933.0,969.4 L933.9,969.0 L934.8,968.6 L935.6,968.2 L936.5,967.8 L937.4,967.4 L938.2,967.0 L939.1,966.7 L940.0,966.3 L940.8,965.9 L941.7,965.6 L942.6,965.2 L943.4,964.8 L944.3,964.5 L945.2,964.1 L946.1,963.8 L946.9,963.5 L947.8,963.2 L948.7,962.9 L949.5,962.6 L950.4,962.3 L951.3,962.1 L952.1,961.8 L953.0,961.5 L953.9,961.2 L954.7,960.9 L955.6,960.6 L956.5,960.3 L957.3,960.0 L958.2,959.6 L959.1,959.3 L959.9,958.9 L960.8,958.5 L961.7,958.1 L962.6,957.7 L963.4,957.3 L964.3,956.9 L965.2,956.5 L966.0,956.1 L966.9,955.7 L967.8,955.3 L968.6,954.8 L969.5,954.3 L970.4,953.9 L971.2,953.4 L972.1,952.8 L973.0,952.3 L973.8,951.7 L974.7,951.1 L975.6,950.5 L976.5,949.9 L977.3,949.2 L978.2,948.5 L979.1,947.8 L979.9,947.0 L980.8,946.2 L981.7,945.3 L982.5,944.3 L983.4,943.2 L984.3,942.0 L985.1,940.6 L986.0,939.2 L986.9,937.6 L987.7,936.0 L988.6,934.3 L989.5,932.5 L990.4,930.6 L991.2,928.6 L992.1,926.6 L993.0,924.6 L993.8,922.4 L994.7,920.3 L995.6,917.9 L996.4,915.3 L997.3,912.5 L998.2,909.6 L999.0,906.4 L999.9,903.1 L1000.8,899.7 L1001.6,896.1 L1002.5,892.5 L1003.4,888.7 L1004.3,884.9 L1005.1,881.0 L1006.0,877.1 L1006.9,873.2 L1007.7,869.2 L1008.6,865.3 L1009.5,861.4 L1010.3,857.6 L1011.2,853.8 L1012.1,850.1 L1012.9,846.3 L1013.8,842.4 L1014.7,838.5 L1015.5,834.6 L1016.4,830.6 L1017.3,826.6 L1018.2,822.6 L1019.0,818.5 L1019.9,814.5 L1020.8,810.5 L1021.6,806.5 L1022.5,802.6 L1023.4,798.7 L1024.2,794.9 L1025.1,791.2 L1026.0,787.5 L1026.8,784.0 L1027.7,780.6 L1028.6,777.2 L1029.4,773.8 L1030.3,770.5 L1031.2,767.1 L1032.0,763.7 L1032.9,760.1 L1033.8,756.5 L1034.7,752.7 L1035.5,748.6 L1036.4,744.2 L1037.3,739.4 L1038.1,734.3 L1039.0,729.1 L1039.9,723.8 L1040.7,718.5 L1041.6,713.4 L1042.5,708.6 L1043.3,704.1 L1044.2,700.2 L1045.1,696.8 L1045.9,694.0 L1046.8,691.3 L1047.7,688.7 L1048.6,686.2 L1049.4,683.7 L1050.3,681.4 L1051.2,679.2 L1052.0,677.2 L1052.9,675.3 L1053.8,673.7 L1054.6,672.2 L1055.5,671.0 L1056.4,670.1 L1057.2,669.4 L1058.1,668.9 L1059.0,668.4 L1059.8,668.0 L1060.7,667.8 L1061.6,667.8 L1062.5,667.9 L1063.3,668.2 L1064.2,668.5 L1065.1,668.8 L1065.9,669.2 L1066.8,669.5 L1067.7,669.9 L1068.5,670.4 L1069.4,670.9 L1070.3,671.4 L1071.1,672.1 L1072.0,672.8 L1072.9,673.6 L1073.7,674.5 L1074.6,675.7 L1075.5,677.1 L1076.4,678.7 L1077.2,680.4 L1078.1,682.2 L1079.0,684.3 L1079.8,686.4 L1080.7,689.0 L1081.6,691.9 L1082.4,695.3 L1083.3,698.9 L1084.2,702.9 L1085.0,707.1 L1085.9,711.5 L1086.8,716.0 L1087.6,720.7 L1088.5,725.5 L1089.4,730.4 L1090.2,735.4 L1091.1,741.5 L1092.0,748.3 L1092.9,755.2 L1093.7,761.3 L1094.6,766.0 L1095.5,768.8 L1096.3,770.8 L1097.2,772.3 L1098.1,773.5 L1098.9,774.7 L1099.8,776.1 L1100.7,777.9 L1101.5,780.4 L1102.4,785.0 L1103.3,792.9 L1104.1,802.4 L1105.0,811.4 L1105.9,819.7 L1106.8,828.2 L1107.6,836.7 L1108.5,845.4 L1108.5,1066.0 L871.3,1066.0 Z" fill="url(#ge_red)" stroke="none" />
<path d="M871.3,1016.6 L872.2,1016.2 L873.1,1015.8 L874.0,1015.5 L874.8,1015.1 L875.7,1014.6 L876.6,1014.2 L877.4,1013.8 L878.3,1013.3 L879.2,1012.8 L880.0,1012.4 L880.9,1011.9 L881.8,1011.3 L882.6,1010.8 L883.5,1010.3 L884.4,1009.7 L885.2,1009.2 L886.1,1008.6 L887.0,1008.1 L887.9,1007.5 L888.7,1006.9 L889.6,1006.3 L890.5,1005.7 L891.3,1005.0 L892.2,1004.4 L893.1,1003.7 L893.9,1003.1 L894.8,1002.3 L895.7,1001.5 L896.5,1000.7 L897.4,999.9 L898.3,999.0 L899.1,998.1 L900.0,997.1 L900.9,996.2 L901.7,995.2 L902.6,994.2 L903.5,993.2 L904.4,992.2 L905.2,991.2 L906.1,990.2 L907.0,989.2 L907.8,988.2 L908.7,987.2 L909.6,986.2 L910.4,985.2 L911.3,984.3 L912.2,983.4 L913.0,982.5 L913.9,981.6 L914.8,980.8 L915.6,979.9 L916.5,979.2 L917.4,978.4 L918.3,977.8 L919.1,977.1 L920.0,976.5 L920.9,976.0 L921.7,975.4 L922.6,974.9 L923.5,974.4 L924.3,973.9 L925.2,973.4 L926.1,972.9 L926.9,972.4 L927.8,971.9 L928.7,971.5 L929.5,971.1 L930.4,970.6 L931.3,970.2 L932.2,969.8 L933.0,969.4 L933.9,969.0 L934.8,968.6 L935.6,968.2 L936.5,967.8 L937.4,967.4 L938.2,967.0 L939.1,966.7 L940.0,966.3 L940.8,965.9 L941.7,965.6 L942.6,965.2 L943.4,964.8 L944.3,964.5 L945.2,964.1 L946.1,963.8 L946.9,963.5 L947.8,963.2 L948.7,962.9 L949.5,962.6 L950.4,962.3 L951.3,962.1 L952.1,961.8 L953.0,961.5 L953.9,961.2 L954.7,960.9 L955.6,960.6 L956.5,960.3 L957.3,960.0 L958.2,959.6 L959.1,959.3 L959.9,958.9 L960.8,958.5 L961.7,958.1 L962.6,957.7 L963.4,957.3 L964.3,956.9 L965.2,956.5 L966.0,956.1 L966.9,955.7 L967.8,955.3 L968.6,954.8 L969.5,954.3 L970.4,953.9 L971.2,953.4 L972.1,952.8 L973.0,952.3 L973.8,951.7 L974.7,951.1 L975.6,950.5 L976.5,949.9 L977.3,949.2 L978.2,948.5 L979.1,947.8 L979.9,947.0 L980.8,946.2 L981.7,945.3 L982.5,944.3 L983.4,943.2 L984.3,942.0 L985.1,940.6 L986.0,939.2 L986.9,937.6 L987.7,936.0 L988.6,934.3 L989.5,932.5 L990.4,930.6 L991.2,928.6 L992.1,926.6 L993.0,924.6 L993.8,922.4 L994.7,920.3 L995.6,917.9 L996.4,915.3 L997.3,912.5 L998.2,909.6 L999.0,906.4 L999.9,903.1 L1000.8,899.7 L1001.6,896.1 L1002.5,892.5 L1003.4,888.7 L1004.3,884.9 L1005.1,881.0 L1006.0,877.1 L1006.9,873.2 L1007.7,869.2 L1008.6,865.3 L1009.5,861.4 L1010.3,857.6 L1011.2,853.8 L1012.1,850.1 L1012.9,846.3 L1013.8,842.4 L1014.7,838.5 L1015.5,834.6 L1016.4,830.6 L1017.3,826.6 L1018.2,822.6 L1019.0,818.5 L1019.9,814.5 L1020.8,810.5 L1021.6,806.5 L1022.5,802.6 L1023.4,798.7 L1024.2,794.9 L1025.1,791.2 L1026.0,787.5 L1026.8,784.0 L1027.7,780.6 L1028.6,777.2 L1029.4,773.8 L1030.3,770.5 L1031.2,767.1 L1032.0,763.7 L1032.9,760.1 L1033.8,756.5 L1034.7,752.7 L1035.5,748.6 L1036.4,744.2 L1037.3,739.4 L1038.1,734.3 L1039.0,729.1 L1039.9,723.8 L1040.7,718.5 L1041.6,713.4 L1042.5,708.6 L1043.3,704.1 L1044.2,700.2 L1045.1,696.8 L1045.9,694.0 L1046.8,691.3 L1047.7,688.7 L1048.6,686.2 L1049.4,683.7 L1050.3,681.4 L1051.2,679.2 L1052.0,677.2 L1052.9,675.3 L1053.8,673.7 L1054.6,672.2 L1055.5,671.0 L1056.4,670.1 L1057.2,669.4 L1058.1,668.9 L1059.0,668.4 L1059.8,668.0 L1060.7,667.8 L1061.6,667.8 L1062.5,667.9 L1063.3,668.2 L1064.2,668.5 L1065.1,668.8 L1065.9,669.2 L1066.8,669.5 L1067.7,669.9 L1068.5,670.4 L1069.4,670.9 L1070.3,671.4 L1071.1,672.1 L1072.0,672.8 L1072.9,673.6 L1073.7,674.5 L1074.6,675.7 L1075.5,677.1 L1076.4,678.7 L1077.2,680.4 L1078.1,682.2 L1079.0,684.3 L1079.8,686.4 L1080.7,689.0 L1081.6,691.9 L1082.4,695.3 L1083.3,698.9 L1084.2,702.9 L1085.0,707.1 L1085.9,711.5 L1086.8,716.0 L1087.6,720.7 L1088.5,725.5 L1089.4,730.4 L1090.2,735.4 L1091.1,741.5 L1092.0,748.3 L1092.9,755.2 L1093.7,761.3 L1094.6,766.0 L1095.5,768.8 L1096.3,770.8 L1097.2,772.3 L1098.1,773.5 L1098.9,774.7 L1099.8,776.1 L1100.7,777.9 L1101.5,780.4 L1102.4,785.0 L1103.3,792.9 L1104.1,802.4 L1105.0,811.4 L1105.9,819.7 L1106.8,828.2 L1107.6,836.7 L1108.5,845.4" fill="none" stroke="#ec3b3b" stroke-width="3" stroke-linejoin="round" stroke-linecap="butt" />
<path d="M975.6,1028.2 L976.5,1028.1 L977.3,1028.1 L978.2,1028.0 L979.1,1028.0 L979.9,1027.9 L980.8,1027.8 L981.7,1027.8 L982.5,1027.7 L983.4,1027.6 L984.3,1027.6 L985.2,1027.5 L986.0,1027.4 L986.9,1027.4 L987.8,1027.3 L988.6,1027.2 L989.5,1027.1 L990.4,1027.0 L991.2,1026.9 L992.1,1026.8 L993.0,1026.8 L993.9,1026.7 L994.7,1026.6 L995.6,1026.5 L996.5,1026.4 L997.3,1026.3 L998.2,1026.2 L999.1,1026.0 L999.9,1025.9 L1000.8,1025.8 L1001.7,1025.7 L1002.6,1025.6 L1003.4,1025.4 L1004.3,1025.3 L1005.2,1025.2 L1006.0,1025.0 L1006.9,1024.9 L1007.8,1024.7 L1008.6,1024.6 L1009.5,1024.5 L1010.4,1024.3 L1011.3,1024.1 L1012.1,1024.0 L1013.0,1023.8 L1013.9,1023.6 L1014.7,1023.5 L1015.6,1023.3 L1016.5,1023.1 L1017.3,1022.9 L1018.2,1022.7 L1019.1,1022.6 L1020.0,1022.4 L1020.8,1022.2 L1021.7,1022.0 L1022.6,1021.8 L1023.4,1021.5 L1024.3,1021.3 L1025.2,1021.1 L1026.0,1020.9 L1026.9,1020.6 L1027.8,1020.4 L1028.7,1020.2 L1029.5,1019.9 L1030.4,1019.7 L1031.3,1019.4 L1032.1,1019.1 L1033.0,1018.9 L1033.9,1018.6 L1034.7,1018.3 L1035.6,1018.0 L1036.5,1017.7 L1037.4,1017.4 L1038.2,1017.1 L1039.1,1016.7 L1040.0,1016.4 L1040.8,1016.1 L1041.7,1015.7 L1042.6,1015.4 L1043.4,1015.0 L1044.3,1014.6 L1045.2,1014.3 L1046.1,1013.9 L1046.9,1013.5 L1047.8,1013.1 L1048.7,1012.7 L1049.5,1012.2 L1050.4,1011.8 L1051.3,1011.4 L1052.1,1010.9 L1053.0,1010.4 L1053.9,1010.0 L1054.8,1009.5 L1055.6,1008.9 L1056.5,1008.4 L1057.4,1007.8 L1058.2,1007.2 L1059.1,1006.6 L1060.0,1005.9 L1060.8,1005.2 L1061.7,1004.4 L1062.6,1003.6 L1063.5,1002.8 L1064.3,1001.9 L1065.2,1001.0 L1066.1,1000.0 L1066.9,999.0 L1067.8,997.9 L1068.7,996.8 L1069.5,995.6 L1070.4,994.3 L1071.3,992.8 L1072.2,991.0 L1073.0,989.1 L1073.9,986.9 L1074.8,984.6 L1075.6,982.1 L1076.5,979.4 L1077.4,976.6 L1078.2,973.6 L1079.1,970.5 L1080.0,967.3 L1080.9,963.9 L1081.7,960.5 L1082.6,956.9 L1083.5,953.2 L1084.3,949.0 L1085.2,944.3 L1086.1,939.2 L1087.0,933.7 L1087.8,927.8 L1088.7,921.7 L1089.6,915.4 L1090.4,908.9 L1091.3,902.3 L1092.2,895.8 L1093.0,889.2 L1093.9,882.6 L1094.8,875.8 L1095.7,868.7 L1096.5,861.3 L1097.4,853.8 L1098.3,846.1 L1099.1,838.4 L1100.0,830.7 L1100.9,823.1 L1101.7,815.6 L1102.6,808.2 L1103.5,801.1 L1104.4,794.0 L1105.2,786.9 L1106.1,779.8 L1107.0,772.7 L1107.8,765.6 L1108.7,758.6 L1109.6,751.8 L1110.4,745.2 L1111.3,738.8 L1112.2,732.7 L1113.1,726.9 L1113.9,721.4 L1114.8,716.0 L1115.7,710.6 L1116.5,705.2 L1117.4,699.9 L1118.3,695.0 L1119.1,690.4 L1120.0,686.3 L1120.9,682.8 L1121.8,679.9 L1122.6,677.7 L1123.5,675.6 L1124.4,673.7 L1125.2,671.9 L1126.1,670.3 L1127.0,669.1 L1127.8,668.2 L1128.7,667.8 L1129.6,667.9 L1130.5,668.4 L1131.3,669.3 L1132.2,670.6 L1133.1,672.1 L1133.9,673.8 L1134.8,675.7 L1135.7,677.8 L1136.5,679.9 L1137.4,682.0 L1138.3,684.4 L1139.2,687.1 L1140.0,690.3 L1140.9,693.9 L1141.8,697.8 L1142.6,701.9 L1143.5,706.4 L1144.4,711.1 L1145.2,715.9 L1146.1,720.9 L1147.0,726.0 L1147.9,731.2 L1148.7,736.4 L1149.6,741.7 L1150.5,746.8 L1151.3,751.9 L1152.2,757.3 L1153.1,763.0 L1153.9,769.0 L1154.8,775.2 L1155.7,781.7 L1156.6,788.2 L1157.4,794.8 L1158.3,801.4 L1159.2,807.9 L1160.0,814.4 L1160.9,820.7 L1161.8,826.8 L1162.6,832.6 L1163.5,838.1 L1164.4,843.2 L1165.3,848.0 L1166.1,852.7 L1167.0,857.3 L1167.9,861.9 L1168.7,866.3 L1169.6,870.8 L1170.5,875.1 L1171.3,879.3 L1172.2,883.4 L1173.1,887.5 L1174.0,891.4 L1174.8,895.2 L1175.7,898.9 L1176.6,902.4 L1177.4,905.8 L1178.3,909.1 L1179.2,912.2 L1180.0,915.2 L1180.9,918.0 L1181.8,920.6 L1182.7,923.1 L1183.5,925.6 L1184.4,927.9 L1185.3,930.2 L1186.1,932.4 L1187.0,934.5 L1187.9,936.6 L1188.7,938.6 L1189.6,940.5 L1190.5,942.4 L1191.4,944.2 L1192.2,945.9 L1193.1,947.7 L1194.0,949.3 L1194.8,951.0 L1195.7,952.5 L1196.6,954.1 L1197.4,955.6 L1198.3,957.1 L1199.2,958.5 L1200.1,960.0 L1200.9,961.3 L1201.8,962.7 L1202.7,964.0 L1203.5,965.2 L1204.4,966.5 L1205.3,967.7 L1206.1,968.9 L1207.0,970.0 L1207.9,971.2 L1208.8,972.3 L1209.6,973.4 L1210.5,974.5 L1211.4,975.6 L1212.2,976.6 L1213.1,977.7 L1214.0,978.7 L1214.8,979.8 L1215.7,980.9 L1216.6,981.9 L1217.5,983.0 L1218.3,984.1 L1219.2,985.1 L1220.1,986.2 L1220.9,987.4 L1221.8,988.5 L1222.7,989.6 L1223.5,990.8 L1224.4,991.9 L1225.3,993.1 L1226.2,994.2 L1227.0,995.4 L1227.9,996.5 L1228.8,997.6 L1229.6,998.8 L1230.5,999.8 L1231.4,1000.9 L1232.2,1001.9 L1233.1,1003.0 L1234.0,1003.9 L1234.9,1004.9 L1235.7,1005.8 L1236.6,1006.7 L1237.5,1007.5 L1238.3,1008.3 L1239.2,1009.0 L1240.1,1009.7 L1240.9,1010.3 L1241.8,1010.9 L1242.7,1011.6 L1243.6,1012.2 L1244.4,1012.7 L1245.3,1013.3 L1246.2,1013.9 L1247.0,1014.4 L1247.9,1014.9 L1248.8,1015.4 L1249.6,1015.9 L1250.5,1016.4 L1251.4,1016.9 L1252.3,1017.3 L1253.1,1017.8 L1254.0,1018.2 L1254.9,1018.6 L1255.7,1019.0 L1256.6,1019.4 L1257.5,1019.8 L1258.3,1020.2 L1259.2,1020.6 L1260.1,1021.0 L1261.0,1021.3 L1261.8,1021.7 L1262.7,1022.1 L1263.6,1022.4 L1264.4,1022.8 L1265.3,1023.2 L1266.2,1023.5 L1267.0,1023.9 L1267.9,1024.2 L1268.8,1024.6 L1269.7,1024.9 L1270.5,1025.2 L1271.4,1025.5 L1272.3,1025.8 L1273.1,1026.1 L1274.0,1026.4 L1274.9,1026.6 L1275.7,1026.9 L1276.6,1027.1 L1277.5,1027.3 L1278.4,1027.5 L1279.2,1027.6 L1280.1,1027.7 L1281.0,1027.9 L1281.8,1028.0 L1282.7,1028.1 L1283.6,1028.2 L1284.4,1028.3 L1285.3,1028.4 L1286.2,1028.5 L1287.1,1028.6 L1287.9,1028.7 L1288.8,1028.7 L1289.7,1028.8 L1290.5,1028.9 L1291.4,1029.0 L1292.3,1029.1 L1293.1,1029.1 L1294.0,1029.2 L1294.9,1029.3 L1295.8,1029.3 L1296.6,1029.4 L1297.5,1029.4 L1298.4,1029.5 L1299.2,1029.5 L1300.1,1029.5 L1301.0,1029.6 L1301.8,1029.6 L1302.7,1029.6 L1303.6,1029.6 L1304.5,1029.6 L1305.3,1029.6 L1306.2,1029.6 L1306.2,1066.0 L975.6,1066.0 Z" fill="url(#ge_blue)" stroke="none" />
<path d="M975.6,1028.2 L976.5,1028.1 L977.3,1028.1 L978.2,1028.0 L979.1,1028.0 L979.9,1027.9 L980.8,1027.8 L981.7,1027.8 L982.5,1027.7 L983.4,1027.6 L984.3,1027.6 L985.2,1027.5 L986.0,1027.4 L986.9,1027.4 L987.8,1027.3 L988.6,1027.2 L989.5,1027.1 L990.4,1027.0 L991.2,1026.9 L992.1,1026.8 L993.0,1026.8 L993.9,1026.7 L994.7,1026.6 L995.6,1026.5 L996.5,1026.4 L997.3,1026.3 L998.2,1026.2 L999.1,1026.0 L999.9,1025.9 L1000.8,1025.8 L1001.7,1025.7 L1002.6,1025.6 L1003.4,1025.4 L1004.3,1025.3 L1005.2,1025.2 L1006.0,1025.0 L1006.9,1024.9 L1007.8,1024.7 L1008.6,1024.6 L1009.5,1024.5 L1010.4,1024.3 L1011.3,1024.1 L1012.1,1024.0 L1013.0,1023.8 L1013.9,1023.6 L1014.7,1023.5 L1015.6,1023.3 L1016.5,1023.1 L1017.3,1022.9 L1018.2,1022.7 L1019.1,1022.6 L1020.0,1022.4 L1020.8,1022.2 L1021.7,1022.0 L1022.6,1021.8 L1023.4,1021.5 L1024.3,1021.3 L1025.2,1021.1 L1026.0,1020.9 L1026.9,1020.6 L1027.8,1020.4 L1028.7,1020.2 L1029.5,1019.9 L1030.4,1019.7 L1031.3,1019.4 L1032.1,1019.1 L1033.0,1018.9 L1033.9,1018.6 L1034.7,1018.3 L1035.6,1018.0 L1036.5,1017.7 L1037.4,1017.4 L1038.2,1017.1 L1039.1,1016.7 L1040.0,1016.4 L1040.8,1016.1 L1041.7,1015.7 L1042.6,1015.4 L1043.4,1015.0 L1044.3,1014.6 L1045.2,1014.3 L1046.1,1013.9 L1046.9,1013.5 L1047.8,1013.1 L1048.7,1012.7 L1049.5,1012.2 L1050.4,1011.8 L1051.3,1011.4 L1052.1,1010.9 L1053.0,1010.4 L1053.9,1010.0 L1054.8,1009.5 L1055.6,1008.9 L1056.5,1008.4 L1057.4,1007.8 L1058.2,1007.2 L1059.1,1006.6 L1060.0,1005.9 L1060.8,1005.2 L1061.7,1004.4 L1062.6,1003.6 L1063.5,1002.8 L1064.3,1001.9 L1065.2,1001.0 L1066.1,1000.0 L1066.9,999.0 L1067.8,997.9 L1068.7,996.8 L1069.5,995.6 L1070.4,994.3 L1071.3,992.8 L1072.2,991.0 L1073.0,989.1 L1073.9,986.9 L1074.8,984.6 L1075.6,982.1 L1076.5,979.4 L1077.4,976.6 L1078.2,973.6 L1079.1,970.5 L1080.0,967.3 L1080.9,963.9 L1081.7,960.5 L1082.6,956.9 L1083.5,953.2 L1084.3,949.0 L1085.2,944.3 L1086.1,939.2 L1087.0,933.7 L1087.8,927.8 L1088.7,921.7 L1089.6,915.4 L1090.4,908.9 L1091.3,902.3 L1092.2,895.8 L1093.0,889.2 L1093.9,882.6 L1094.8,875.8 L1095.7,868.7 L1096.5,861.3 L1097.4,853.8 L1098.3,846.1 L1099.1,838.4 L1100.0,830.7 L1100.9,823.1 L1101.7,815.6 L1102.6,808.2 L1103.5,801.1 L1104.4,794.0 L1105.2,786.9 L1106.1,779.8 L1107.0,772.7 L1107.8,765.6 L1108.7,758.6 L1109.6,751.8 L1110.4,745.2 L1111.3,738.8 L1112.2,732.7 L1113.1,726.9 L1113.9,721.4 L1114.8,716.0 L1115.7,710.6 L1116.5,705.2 L1117.4,699.9 L1118.3,695.0 L1119.1,690.4 L1120.0,686.3 L1120.9,682.8 L1121.8,679.9 L1122.6,677.7 L1123.5,675.6 L1124.4,673.7 L1125.2,671.9 L1126.1,670.3 L1127.0,669.1 L1127.8,668.2 L1128.7,667.8 L1129.6,667.9 L1130.5,668.4 L1131.3,669.3 L1132.2,670.6 L1133.1,672.1 L1133.9,673.8 L1134.8,675.7 L1135.7,677.8 L1136.5,679.9 L1137.4,682.0 L1138.3,684.4 L1139.2,687.1 L1140.0,690.3 L1140.9,693.9 L1141.8,697.8 L1142.6,701.9 L1143.5,706.4 L1144.4,711.1 L1145.2,715.9 L1146.1,720.9 L1147.0,726.0 L1147.9,731.2 L1148.7,736.4 L1149.6,741.7 L1150.5,746.8 L1151.3,751.9 L1152.2,757.3 L1153.1,763.0 L1153.9,769.0 L1154.8,775.2 L1155.7,781.7 L1156.6,788.2 L1157.4,794.8 L1158.3,801.4 L1159.2,807.9 L1160.0,814.4 L1160.9,820.7 L1161.8,826.8 L1162.6,832.6 L1163.5,838.1 L1164.4,843.2 L1165.3,848.0 L1166.1,852.7 L1167.0,857.3 L1167.9,861.9 L1168.7,866.3 L1169.6,870.8 L1170.5,875.1 L1171.3,879.3 L1172.2,883.4 L1173.1,887.5 L1174.0,891.4 L1174.8,895.2 L1175.7,898.9 L1176.6,902.4 L1177.4,905.8 L1178.3,909.1 L1179.2,912.2 L1180.0,915.2 L1180.9,918.0 L1181.8,920.6 L1182.7,923.1 L1183.5,925.6 L1184.4,927.9 L1185.3,930.2 L1186.1,932.4 L1187.0,934.5 L1187.9,936.6 L1188.7,938.6 L1189.6,940.5 L1190.5,942.4 L1191.4,944.2 L1192.2,945.9 L1193.1,947.7 L1194.0,949.3 L1194.8,951.0 L1195.7,952.5 L1196.6,954.1 L1197.4,955.6 L1198.3,957.1 L1199.2,958.5 L1200.1,960.0 L1200.9,961.3 L1201.8,962.7 L1202.7,964.0 L1203.5,965.2 L1204.4,966.5 L1205.3,967.7 L1206.1,968.9 L1207.0,970.0 L1207.9,971.2 L1208.8,972.3 L1209.6,973.4 L1210.5,974.5 L1211.4,975.6 L1212.2,976.6 L1213.1,977.7 L1214.0,978.7 L1214.8,979.8 L1215.7,980.9 L1216.6,981.9 L1217.5,983.0 L1218.3,984.1 L1219.2,985.1 L1220.1,986.2 L1220.9,987.4 L1221.8,988.5 L1222.7,989.6 L1223.5,990.8 L1224.4,991.9 L1225.3,993.1 L1226.2,994.2 L1227.0,995.4 L1227.9,996.5 L1228.8,997.6 L1229.6,998.8 L1230.5,999.8 L1231.4,1000.9 L1232.2,1001.9 L1233.1,1003.0 L1234.0,1003.9 L1234.9,1004.9 L1235.7,1005.8 L1236.6,1006.7 L1237.5,1007.5 L1238.3,1008.3 L1239.2,1009.0 L1240.1,1009.7 L1240.9,1010.3 L1241.8,1010.9 L1242.7,1011.6 L1243.6,1012.2 L1244.4,1012.7 L1245.3,1013.3 L1246.2,1013.9 L1247.0,1014.4 L1247.9,1014.9 L1248.8,1015.4 L1249.6,1015.9 L1250.5,1016.4 L1251.4,1016.9 L1252.3,1017.3 L1253.1,1017.8 L1254.0,1018.2 L1254.9,1018.6 L1255.7,1019.0 L1256.6,1019.4 L1257.5,1019.8 L1258.3,1020.2 L1259.2,1020.6 L1260.1,1021.0 L1261.0,1021.3 L1261.8,1021.7 L1262.7,1022.1 L1263.6,1022.4 L1264.4,1022.8 L1265.3,1023.2 L1266.2,1023.5 L1267.0,1023.9 L1267.9,1024.2 L1268.8,1024.6 L1269.7,1024.9 L1270.5,1025.2 L1271.4,1025.5 L1272.3,1025.8 L1273.1,1026.1 L1274.0,1026.4 L1274.9,1026.6 L1275.7,1026.9 L1276.6,1027.1 L1277.5,1027.3 L1278.4,1027.5 L1279.2,1027.6 L1280.1,1027.7 L1281.0,1027.9 L1281.8,1028.0 L1282.7,1028.1 L1283.6,1028.2 L1284.4,1028.3 L1285.3,1028.4 L1286.2,1028.5 L1287.1,1028.6 L1287.9,1028.7 L1288.8,1028.7 L1289.7,1028.8 L1290.5,1028.9 L1291.4,1029.0 L1292.3,1029.1 L1293.1,1029.1 L1294.0,1029.2 L1294.9,1029.3 L1295.8,1029.3 L1296.6,1029.4 L1297.5,1029.4 L1298.4,1029.5 L1299.2,1029.5 L1300.1,1029.5 L1301.0,1029.6 L1301.8,1029.6 L1302.7,1029.6 L1303.6,1029.6 L1304.5,1029.6 L1305.3,1029.6 L1306.2,1029.6" fill="none" stroke="#1c6ae0" stroke-width="3" stroke-linejoin="round" stroke-linecap="butt" />
<rect x="785.0" y="631.7" width="521.2" height="434.2" fill="none" stroke="#000" stroke-width="3"/>
<path d="M785.0,1065.9V1076.4 M871.9,1065.9V1076.4 M958.7,1065.9V1076.4 M1045.6,1065.9V1076.4 M1132.5,1065.9V1076.4 M1219.3,1065.9V1076.4 M1306.2,1065.9V1076.4 M828.4,1065.9V1071.4 M915.3,1065.9V1071.4 M1002.2,1065.9V1071.4 M1089.0,1065.9V1071.4 M1175.9,1065.9V1071.4 M1262.8,1065.9V1071.4" stroke="#000" stroke-width="3" fill="none"/>
<text x="785.0" y="1104.9" font-size="27" text-anchor="middle" >600</text>
<text x="871.9" y="1104.9" font-size="27" text-anchor="middle" >650</text>
<text x="958.7" y="1104.9" font-size="27" text-anchor="middle" >700</text>
<text x="1045.6" y="1104.9" font-size="27" text-anchor="middle" >750</text>
<text x="1132.5" y="1104.9" font-size="27" text-anchor="middle" >800</text>
<text x="1219.3" y="1104.9" font-size="27" text-anchor="middle" >850</text>
<text x="1306.2" y="1104.9" font-size="27" text-anchor="middle" >900</text>
<path d="M785.0,1029.6H774.5 M785.0,957.2H774.5 M785.0,884.9H774.5 M785.0,812.5H774.5 M785.0,740.2H774.5 M785.0,667.8H774.5 M785.0,1065.8H779.5 M785.0,993.4H779.5 M785.0,921.1H779.5 M785.0,848.7H779.5 M785.0,776.3H779.5 M785.0,704.0H779.5 M785.0,631.6H779.5" stroke="#000" stroke-width="3" fill="none"/>
<text x="766.7" y="1038.4" font-size="27" text-anchor="end" >0.0</text>
<text x="766.7" y="966.0" font-size="27" text-anchor="end" >0.2</text>
<text x="766.7" y="893.7" font-size="27" text-anchor="end" >0.4</text>
<text x="766.7" y="821.3" font-size="27" text-anchor="end" >0.6</text>
<text x="766.7" y="749.0" font-size="27" text-anchor="end" >0.8</text>
<text x="766.7" y="676.6" font-size="27" text-anchor="end" >1.0</text>
<text x="1045.6" y="1138.1" font-size="28.8" text-anchor="middle" >Wavelength (nm)</text>
<text transform="translate(717.5,848.9) rotate(-90)" font-size="28.8" text-anchor="middle">Normalized Intensity</text>
<text x="791.0" y="671.5" font-size="28.8" text-anchor="start" >5 &#956;g mL<tspan dy="-12" font-size="18.5">-1</tspan><tspan dy="12"> C5T-Pco</tspan></text>
<rect x="791.5" y="681.5" width="62.8" height="30.8" rx="1.5" fill="url(#lg_gray_791_681)" stroke="#555555" stroke-width="2.8"/>
<text x="863.0" y="706.5" font-size="28.8" text-anchor="start" >Absorbance</text>
<rect x="791.5" y="717.5" width="62.8" height="30.8" rx="1.5" fill="url(#lg_red_791_717)" stroke="#ec3b3b" stroke-width="2.8"/>
<text x="863.0" y="742.5" font-size="28.8" text-anchor="start" >Excitation</text>
<rect x="791.5" y="753.5" width="62.8" height="30.8" rx="1.5" fill="url(#lg_blue_791_753)" stroke="#1c6ae0" stroke-width="2.8"/>
<text x="863.0" y="778.5" font-size="28.8" text-anchor="start" >Emission</text>
<text x="1340.0" y="617.0" font-size="36" text-anchor="start" >f</text>
<path d="M1454.8,1028.1 L1455.7,1028.0 L1456.5,1027.9 L1457.4,1027.8 L1458.3,1027.7 L1459.2,1027.5 L1460.0,1027.4 L1460.9,1027.3 L1461.8,1027.2 L1462.6,1027.1 L1463.5,1027.0 L1464.4,1026.8 L1465.2,1026.7 L1466.1,1026.6 L1467.0,1026.5 L1467.9,1026.4 L1468.7,1026.3 L1469.6,1026.2 L1470.5,1026.1 L1471.3,1026.0 L1472.2,1025.8 L1473.1,1025.7 L1473.9,1025.6 L1474.8,1025.5 L1475.7,1025.4 L1476.6,1025.3 L1477.4,1025.2 L1478.3,1025.1 L1479.2,1025.0 L1480.0,1024.9 L1480.9,1024.8 L1481.8,1024.7 L1482.6,1024.6 L1483.5,1024.5 L1484.4,1024.4 L1485.3,1024.3 L1486.1,1024.2 L1487.0,1024.1 L1487.9,1024.0 L1488.7,1023.9 L1489.6,1023.8 L1490.5,1023.7 L1491.3,1023.6 L1492.2,1023.6 L1493.1,1023.5 L1494.0,1023.4 L1494.8,1023.3 L1495.7,1023.2 L1496.6,1023.1 L1497.4,1023.0 L1498.3,1023.0 L1499.2,1022.9 L1500.0,1022.8 L1500.9,1022.7 L1501.8,1022.6 L1502.7,1022.6 L1503.5,1022.5 L1504.4,1022.4 L1505.3,1022.4 L1506.1,1022.3 L1507.0,1022.2 L1507.9,1022.2 L1508.7,1022.1 L1509.6,1022.0 L1510.5,1022.0 L1511.4,1021.9 L1512.2,1021.9 L1513.1,1021.8 L1514.0,1021.7 L1514.8,1021.7 L1515.7,1021.6 L1516.6,1021.6 L1517.4,1021.5 L1518.3,1021.4 L1519.2,1021.4 L1520.1,1021.3 L1520.9,1021.3 L1521.8,1021.2 L1522.7,1021.1 L1523.5,1021.1 L1524.4,1021.0 L1525.3,1021.0 L1526.1,1020.9 L1527.0,1020.8 L1527.9,1020.8 L1528.8,1020.7 L1529.6,1020.6 L1530.5,1020.5 L1531.4,1020.5 L1532.2,1020.4 L1533.1,1020.3 L1534.0,1020.2 L1534.8,1020.1 L1535.7,1020.0 L1536.6,1020.0 L1537.5,1019.9 L1538.3,1019.8 L1539.2,1019.7 L1540.1,1019.6 L1540.9,1019.5 L1541.8,1019.4 L1542.7,1019.2 L1543.5,1019.1 L1544.4,1019.0 L1545.3,1018.8 L1546.2,1018.7 L1547.0,1018.5 L1547.9,1018.4 L1548.8,1018.2 L1549.6,1018.0 L1550.5,1017.8 L1551.4,1017.6 L1552.3,1017.5 L1553.1,1017.3 L1554.0,1017.1 L1554.9,1016.9 L1555.7,1016.7 L1556.6,1016.5 L1557.5,1016.3 L1558.3,1016.0 L1559.2,1015.8 L1560.1,1015.6 L1561.0,1015.4 L1561.8,1015.2 L1562.7,1015.0 L1563.6,1014.8 L1564.4,1014.6 L1565.3,1014.4 L1566.2,1014.2 L1567.0,1014.0 L1567.9,1013.8 L1568.8,1013.6 L1569.7,1013.4 L1570.5,1013.2 L1571.4,1013.0 L1572.3,1012.8 L1573.1,1012.6 L1574.0,1012.4 L1574.9,1012.2 L1575.7,1012.0 L1576.6,1011.7 L1577.5,1011.5 L1578.4,1011.3 L1579.2,1011.1 L1580.1,1010.8 L1581.0,1010.6 L1581.8,1010.3 L1582.7,1010.1 L1583.6,1009.8 L1584.4,1009.6 L1585.3,1009.3 L1586.2,1009.0 L1587.1,1008.7 L1587.9,1008.4 L1588.8,1008.0 L1589.7,1007.7 L1590.5,1007.3 L1591.4,1007.0 L1592.3,1006.6 L1593.1,1006.3 L1594.0,1005.9 L1594.9,1005.5 L1595.8,1005.2 L1596.6,1004.8 L1597.5,1004.4 L1598.4,1004.1 L1599.2,1003.7 L1600.1,1003.4 L1601.0,1003.1 L1601.8,1002.8 L1602.7,1002.5 L1603.6,1002.2 L1604.5,1002.0 L1605.3,1001.7 L1606.2,1001.5 L1607.1,1001.2 L1607.9,1001.0 L1608.8,1000.7 L1609.7,1000.5 L1610.5,1000.2 L1611.4,1000.0 L1612.3,999.8 L1613.2,999.6 L1614.0,999.4 L1614.9,999.1 L1615.8,999.0 L1616.6,998.8 L1617.5,998.6 L1618.4,998.4 L1619.2,998.3 L1620.1,998.2 L1621.0,998.0 L1621.9,997.9 L1622.7,997.8 L1623.6,997.7 L1624.5,997.6 L1625.3,997.6 L1626.2,997.5 L1627.1,997.4 L1627.9,997.4 L1628.8,997.3 L1629.7,997.2 L1630.6,997.2 L1631.4,997.1 L1632.3,997.1 L1633.2,997.0 L1634.0,996.9 L1634.9,996.9 L1635.8,996.8 L1636.6,996.7 L1637.5,996.6 L1638.4,996.5 L1639.3,996.4 L1640.1,996.3 L1641.0,996.2 L1641.9,996.1 L1642.7,996.0 L1643.6,995.8 L1644.5,995.7 L1645.4,995.5 L1646.2,995.3 L1647.1,995.1 L1648.0,994.9 L1648.8,994.7 L1649.7,994.4 L1650.6,994.2 L1651.4,993.9 L1652.3,993.6 L1653.2,993.2 L1654.1,992.9 L1654.9,992.4 L1655.8,992.0 L1656.7,991.5 L1657.5,990.9 L1658.4,990.4 L1659.3,989.8 L1660.1,989.2 L1661.0,988.6 L1661.9,988.0 L1662.8,987.3 L1663.6,986.7 L1664.5,986.0 L1665.4,985.3 L1666.2,984.6 L1667.1,983.8 L1668.0,983.0 L1668.8,982.1 L1669.7,981.2 L1670.6,980.3 L1671.5,979.4 L1672.3,978.4 L1673.2,977.3 L1674.1,976.2 L1674.9,975.1 L1675.8,974.0 L1676.7,972.8 L1677.5,971.5 L1678.4,970.2 L1679.3,968.8 L1680.2,967.3 L1681.0,965.7 L1681.9,963.9 L1682.8,962.2 L1683.6,960.3 L1684.5,958.4 L1685.4,956.4 L1686.2,954.3 L1687.1,952.3 L1688.0,950.1 L1688.9,947.9 L1689.7,945.5 L1690.6,943.0 L1691.5,940.4 L1692.3,937.8 L1693.2,935.0 L1694.1,932.3 L1694.9,929.5 L1695.8,926.8 L1696.7,924.1 L1697.6,921.4 L1698.4,918.9 L1699.3,916.4 L1700.2,914.0 L1701.0,911.6 L1701.9,909.1 L1702.8,906.4 L1703.6,903.5 L1704.5,900.3 L1705.4,897.7 L1706.3,894.9 L1707.1,890.3 L1708.0,879.8 L1708.9,814.0 L1710.1,668.0 L1754.3,668.0 L1754.8,836.1 L1755.5,668.0 L1758.4,668.0 L1759.1,878.1 L1759.8,668.0 L1761.9,668.0 L1762.6,881.8 L1763.5,895.6 L1764.3,906.2 L1765.2,911.5 L1766.1,915.6 L1767.0,918.9 L1767.8,921.7 L1768.7,924.1 L1769.6,926.3 L1770.4,928.6 L1771.3,931.0 L1772.2,933.6 L1773.0,936.1 L1773.9,938.4 L1774.8,940.7 L1775.6,942.9 L1776.5,945.1 L1777.4,947.3 L1778.3,949.5 L1779.1,951.7 L1780.0,954.0 L1780.9,956.4 L1781.7,958.8 L1782.6,961.5 L1783.5,964.2 L1784.3,967.0 L1785.2,969.9 L1786.1,972.8 L1786.9,975.6 L1787.8,978.4 L1788.7,981.0 L1789.6,983.5 L1790.4,985.8 L1791.3,987.9 L1792.2,989.8 L1793.0,991.7 L1793.9,993.6 L1794.8,995.4 L1795.6,997.1 L1796.5,998.8 L1797.4,1000.5 L1798.3,1002.1 L1799.1,1003.6 L1800.0,1005.0 L1800.9,1006.3 L1801.7,1007.6 L1802.6,1008.7 L1803.5,1009.8 L1804.3,1010.7 L1805.2,1011.6 L1806.1,1012.4 L1806.9,1013.3 L1807.8,1014.0 L1808.7,1014.8 L1809.6,1015.6 L1810.4,1016.3 L1811.3,1017.0 L1812.2,1017.6 L1813.0,1018.3 L1813.9,1018.9 L1814.8,1019.5 L1815.6,1020.1 L1816.5,1020.6 L1817.4,1021.1 L1818.3,1021.6 L1819.1,1022.1 L1820.0,1022.5 L1820.9,1023.0 L1821.7,1023.3 L1822.6,1023.7 L1823.5,1024.0 L1824.3,1024.3 L1825.2,1024.6 L1826.1,1024.9 L1826.9,1025.1 L1827.8,1025.4 L1828.7,1025.6 L1829.6,1025.9 L1830.4,1026.1 L1831.3,1026.3 L1832.2,1026.5 L1833.0,1026.7 L1833.9,1026.9 L1834.8,1027.1 L1835.6,1027.3 L1836.5,1027.4 L1837.4,1027.6 L1838.2,1027.7 L1839.1,1027.9 L1840.0,1028.0 L1840.9,1028.2 L1841.7,1028.3 L1842.6,1028.4 L1843.5,1028.5 L1844.3,1028.6 L1845.2,1028.8 L1846.1,1028.9 L1846.9,1028.9 L1847.8,1029.0 L1848.7,1029.1 L1849.6,1029.2 L1850.4,1029.3 L1851.3,1029.4 L1852.2,1029.5 L1853.0,1029.6 L1853.9,1029.7 L1854.8,1029.8 L1855.6,1029.9 L1856.5,1029.9 L1857.4,1030.0 L1858.2,1030.1 L1859.1,1030.1 L1860.0,1030.2 L1860.9,1030.2 L1861.7,1030.2 L1862.6,1030.3 L1863.5,1030.3 L1864.3,1030.3 L1865.2,1030.3 L1866.1,1030.3 L1866.9,1030.3 L1867.8,1030.3 L1868.7,1030.3 L1869.6,1030.3 L1870.4,1030.3 L1871.3,1030.3 L1872.2,1030.3 L1873.0,1030.3 L1873.9,1030.3 L1874.8,1030.3 L1875.6,1030.3 L1876.5,1030.3 L1877.4,1030.3 L1878.2,1030.3 L1879.1,1030.3 L1880.0,1030.3 L1880.9,1030.3 L1881.7,1030.3 L1882.6,1030.3 L1883.5,1030.3 L1884.3,1030.3 L1885.2,1030.3 L1886.1,1030.3 L1886.9,1030.3 L1887.8,1030.3 L1888.7,1030.3 L1889.5,1030.3 L1890.4,1030.3 L1891.3,1030.3 L1892.2,1030.3 L1893.0,1030.3 L1893.9,1030.3 L1894.8,1030.3 L1895.6,1030.3 L1896.5,1030.3 L1897.4,1030.3 L1898.2,1030.3 L1899.1,1030.3 L1900.0,1030.3 L1900.9,1030.3 L1901.7,1030.3 L1902.6,1030.3 L1903.5,1030.3 L1904.3,1030.3 L1905.2,1030.3 L1906.1,1030.3 L1906.9,1030.3 L1907.8,1030.3 L1908.7,1030.3 L1909.5,1030.3 L1910.4,1030.3 L1911.3,1030.3 L1912.2,1030.3 L1913.0,1030.3 L1913.9,1030.3 L1914.8,1030.3 L1915.6,1030.3 L1916.5,1030.3 L1917.4,1030.3 L1918.2,1030.3 L1919.1,1030.3 L1920.0,1030.3 L1920.9,1030.3 L1921.7,1030.3 L1922.6,1030.3 L1923.5,1030.3 L1924.3,1030.3 L1925.2,1030.3 L1926.1,1030.3 L1926.9,1030.3 L1927.8,1030.3 L1928.7,1030.3 L1929.5,1030.3 L1930.4,1030.3 L1931.3,1030.3 L1932.2,1030.3 L1933.0,1030.3 L1933.9,1030.3 L1934.8,1030.3 L1935.6,1030.3 L1936.5,1030.3 L1937.4,1030.3 L1938.2,1030.3 L1939.1,1030.3 L1940.0,1030.3 L1940.9,1030.3 L1941.7,1030.3 L1942.6,1030.3 L1943.5,1030.3 L1944.3,1030.3 L1945.2,1030.3 L1946.1,1030.3 L1946.9,1030.3 L1947.8,1030.3 L1948.7,1030.3 L1949.5,1030.3 L1950.4,1030.3 L1951.3,1030.3 L1952.2,1030.3 L1953.0,1030.3 L1953.9,1030.3 L1954.8,1030.3 L1955.6,1030.3 L1956.5,1030.3 L1957.4,1030.3 L1958.2,1030.3 L1959.1,1030.3 L1960.0,1030.3 L1960.8,1030.3 L1961.7,1030.3 L1962.6,1030.3 L1963.5,1030.3 L1964.3,1030.3 L1965.2,1030.3 L1966.1,1030.3 L1966.9,1030.3 L1967.8,1030.3 L1968.7,1030.3 L1969.5,1030.3 L1970.4,1030.3 L1971.3,1030.3 L1972.2,1030.3 L1973.0,1030.3 L1973.9,1030.3 L1974.8,1030.3 L1975.6,1030.3 L1976.5,1030.3 L1976.5,1066.4 L1454.8,1066.4 Z" fill="url(#gf_gray)" stroke="none" />
<path d="M1454.8,1028.1 L1455.7,1028.0 L1456.5,1027.9 L1457.4,1027.8 L1458.3,1027.7 L1459.2,1027.5 L1460.0,1027.4 L1460.9,1027.3 L1461.8,1027.2 L1462.6,1027.1 L1463.5,1027.0 L1464.4,1026.8 L1465.2,1026.7 L1466.1,1026.6 L1467.0,1026.5 L1467.9,1026.4 L1468.7,1026.3 L1469.6,1026.2 L1470.5,1026.1 L1471.3,1026.0 L1472.2,1025.8 L1473.1,1025.7 L1473.9,1025.6 L1474.8,1025.5 L1475.7,1025.4 L1476.6,1025.3 L1477.4,1025.2 L1478.3,1025.1 L1479.2,1025.0 L1480.0,1024.9 L1480.9,1024.8 L1481.8,1024.7 L1482.6,1024.6 L1483.5,1024.5 L1484.4,1024.4 L1485.3,1024.3 L1486.1,1024.2 L1487.0,1024.1 L1487.9,1024.0 L1488.7,1023.9 L1489.6,1023.8 L1490.5,1023.7 L1491.3,1023.6 L1492.2,1023.6 L1493.1,1023.5 L1494.0,1023.4 L1494.8,1023.3 L1495.7,1023.2 L1496.6,1023.1 L1497.4,1023.0 L1498.3,1023.0 L1499.2,1022.9 L1500.0,1022.8 L1500.9,1022.7 L1501.8,1022.6 L1502.7,1022.6 L1503.5,1022.5 L1504.4,1022.4 L1505.3,1022.4 L1506.1,1022.3 L1507.0,1022.2 L1507.9,1022.2 L1508.7,1022.1 L1509.6,1022.0 L1510.5,1022.0 L1511.4,1021.9 L1512.2,1021.9 L1513.1,1021.8 L1514.0,1021.7 L1514.8,1021.7 L1515.7,1021.6 L1516.6,1021.6 L1517.4,1021.5 L1518.3,1021.4 L1519.2,1021.4 L1520.1,1021.3 L1520.9,1021.3 L1521.8,1021.2 L1522.7,1021.1 L1523.5,1021.1 L1524.4,1021.0 L1525.3,1021.0 L1526.1,1020.9 L1527.0,1020.8 L1527.9,1020.8 L1528.8,1020.7 L1529.6,1020.6 L1530.5,1020.5 L1531.4,1020.5 L1532.2,1020.4 L1533.1,1020.3 L1534.0,1020.2 L1534.8,1020.1 L1535.7,1020.0 L1536.6,1020.0 L1537.5,1019.9 L1538.3,1019.8 L1539.2,1019.7 L1540.1,1019.6 L1540.9,1019.5 L1541.8,1019.4 L1542.7,1019.2 L1543.5,1019.1 L1544.4,1019.0 L1545.3,1018.8 L1546.2,1018.7 L1547.0,1018.5 L1547.9,1018.4 L1548.8,1018.2 L1549.6,1018.0 L1550.5,1017.8 L1551.4,1017.6 L1552.3,1017.5 L1553.1,1017.3 L1554.0,1017.1 L1554.9,1016.9 L1555.7,1016.7 L1556.6,1016.5 L1557.5,1016.3 L1558.3,1016.0 L1559.2,1015.8 L1560.1,1015.6 L1561.0,1015.4 L1561.8,1015.2 L1562.7,1015.0 L1563.6,1014.8 L1564.4,1014.6 L1565.3,1014.4 L1566.2,1014.2 L1567.0,1014.0 L1567.9,1013.8 L1568.8,1013.6 L1569.7,1013.4 L1570.5,1013.2 L1571.4,1013.0 L1572.3,1012.8 L1573.1,1012.6 L1574.0,1012.4 L1574.9,1012.2 L1575.7,1012.0 L1576.6,1011.7 L1577.5,1011.5 L1578.4,1011.3 L1579.2,1011.1 L1580.1,1010.8 L1581.0,1010.6 L1581.8,1010.3 L1582.7,1010.1 L1583.6,1009.8 L1584.4,1009.6 L1585.3,1009.3 L1586.2,1009.0 L1587.1,1008.7 L1587.9,1008.4 L1588.8,1008.0 L1589.7,1007.7 L1590.5,1007.3 L1591.4,1007.0 L1592.3,1006.6 L1593.1,1006.3 L1594.0,1005.9 L1594.9,1005.5 L1595.8,1005.2 L1596.6,1004.8 L1597.5,1004.4 L1598.4,1004.1 L1599.2,1003.7 L1600.1,1003.4 L1601.0,1003.1 L1601.8,1002.8 L1602.7,1002.5 L1603.6,1002.2 L1604.5,1002.0 L1605.3,1001.7 L1606.2,1001.5 L1607.1,1001.2 L1607.9,1001.0 L1608.8,1000.7 L1609.7,1000.5 L1610.5,1000.2 L1611.4,1000.0 L1612.3,999.8 L1613.2,999.6 L1614.0,999.4 L1614.9,999.1 L1615.8,999.0 L1616.6,998.8 L1617.5,998.6 L1618.4,998.4 L1619.2,998.3 L1620.1,998.2 L1621.0,998.0 L1621.9,997.9 L1622.7,997.8 L1623.6,997.7 L1624.5,997.6 L1625.3,997.6 L1626.2,997.5 L1627.1,997.4 L1627.9,997.4 L1628.8,997.3 L1629.7,997.2 L1630.6,997.2 L1631.4,997.1 L1632.3,997.1 L1633.2,997.0 L1634.0,996.9 L1634.9,996.9 L1635.8,996.8 L1636.6,996.7 L1637.5,996.6 L1638.4,996.5 L1639.3,996.4 L1640.1,996.3 L1641.0,996.2 L1641.9,996.1 L1642.7,996.0 L1643.6,995.8 L1644.5,995.7 L1645.4,995.5 L1646.2,995.3 L1647.1,995.1 L1648.0,994.9 L1648.8,994.7 L1649.7,994.4 L1650.6,994.2 L1651.4,993.9 L1652.3,993.6 L1653.2,993.2 L1654.1,992.9 L1654.9,992.4 L1655.8,992.0 L1656.7,991.5 L1657.5,990.9 L1658.4,990.4 L1659.3,989.8 L1660.1,989.2 L1661.0,988.6 L1661.9,988.0 L1662.8,987.3 L1663.6,986.7 L1664.5,986.0 L1665.4,985.3 L1666.2,984.6 L1667.1,983.8 L1668.0,983.0 L1668.8,982.1 L1669.7,981.2 L1670.6,980.3 L1671.5,979.4 L1672.3,978.4 L1673.2,977.3 L1674.1,976.2 L1674.9,975.1 L1675.8,974.0 L1676.7,972.8 L1677.5,971.5 L1678.4,970.2 L1679.3,968.8 L1680.2,967.3 L1681.0,965.7 L1681.9,963.9 L1682.8,962.2 L1683.6,960.3 L1684.5,958.4 L1685.4,956.4 L1686.2,954.3 L1687.1,952.3 L1688.0,950.1 L1688.9,947.9 L1689.7,945.5 L1690.6,943.0 L1691.5,940.4 L1692.3,937.8 L1693.2,935.0 L1694.1,932.3 L1694.9,929.5 L1695.8,926.8 L1696.7,924.1 L1697.6,921.4 L1698.4,918.9 L1699.3,916.4 L1700.2,914.0 L1701.0,911.6 L1701.9,909.1 L1702.8,906.4 L1703.6,903.5 L1704.5,900.3 L1705.4,897.7 L1706.3,894.9 L1707.1,890.3 L1708.0,879.8 L1708.9,814.0 L1710.1,668.0 L1754.3,668.0 L1754.8,836.1 L1755.5,668.0 L1758.4,668.0 L1759.1,878.1 L1759.8,668.0 L1761.9,668.0 L1762.6,881.8 L1763.5,895.6 L1764.3,906.2 L1765.2,911.5 L1766.1,915.6 L1767.0,918.9 L1767.8,921.7 L1768.7,924.1 L1769.6,926.3 L1770.4,928.6 L1771.3,931.0 L1772.2,933.6 L1773.0,936.1 L1773.9,938.4 L1774.8,940.7 L1775.6,942.9 L1776.5,945.1 L1777.4,947.3 L1778.3,949.5 L1779.1,951.7 L1780.0,954.0 L1780.9,956.4 L1781.7,958.8 L1782.6,961.5 L1783.5,964.2 L1784.3,967.0 L1785.2,969.9 L1786.1,972.8 L1786.9,975.6 L1787.8,978.4 L1788.7,981.0 L1789.6,983.5 L1790.4,985.8 L1791.3,987.9 L1792.2,989.8 L1793.0,991.7 L1793.9,993.6 L1794.8,995.4 L1795.6,997.1 L1796.5,998.8 L1797.4,1000.5 L1798.3,1002.1 L1799.1,1003.6 L1800.0,1005.0 L1800.9,1006.3 L1801.7,1007.6 L1802.6,1008.7 L1803.5,1009.8 L1804.3,1010.7 L1805.2,1011.6 L1806.1,1012.4 L1806.9,1013.3 L1807.8,1014.0 L1808.7,1014.8 L1809.6,1015.6 L1810.4,1016.3 L1811.3,1017.0 L1812.2,1017.6 L1813.0,1018.3 L1813.9,1018.9 L1814.8,1019.5 L1815.6,1020.1 L1816.5,1020.6 L1817.4,1021.1 L1818.3,1021.6 L1819.1,1022.1 L1820.0,1022.5 L1820.9,1023.0 L1821.7,1023.3 L1822.6,1023.7 L1823.5,1024.0 L1824.3,1024.3 L1825.2,1024.6 L1826.1,1024.9 L1826.9,1025.1 L1827.8,1025.4 L1828.7,1025.6 L1829.6,1025.9 L1830.4,1026.1 L1831.3,1026.3 L1832.2,1026.5 L1833.0,1026.7 L1833.9,1026.9 L1834.8,1027.1 L1835.6,1027.3 L1836.5,1027.4 L1837.4,1027.6 L1838.2,1027.7 L1839.1,1027.9 L1840.0,1028.0 L1840.9,1028.2 L1841.7,1028.3 L1842.6,1028.4 L1843.5,1028.5 L1844.3,1028.6 L1845.2,1028.8 L1846.1,1028.9 L1846.9,1028.9 L1847.8,1029.0 L1848.7,1029.1 L1849.6,1029.2 L1850.4,1029.3 L1851.3,1029.4 L1852.2,1029.5 L1853.0,1029.6 L1853.9,1029.7 L1854.8,1029.8 L1855.6,1029.9 L1856.5,1029.9 L1857.4,1030.0 L1858.2,1030.1 L1859.1,1030.1 L1860.0,1030.2 L1860.9,1030.2 L1861.7,1030.2 L1862.6,1030.3 L1863.5,1030.3 L1864.3,1030.3 L1865.2,1030.3 L1866.1,1030.3 L1866.9,1030.3 L1867.8,1030.3 L1868.7,1030.3 L1869.6,1030.3 L1870.4,1030.3 L1871.3,1030.3 L1872.2,1030.3 L1873.0,1030.3 L1873.9,1030.3 L1874.8,1030.3 L1875.6,1030.3 L1876.5,1030.3 L1877.4,1030.3 L1878.2,1030.3 L1879.1,1030.3 L1880.0,1030.3 L1880.9,1030.3 L1881.7,1030.3 L1882.6,1030.3 L1883.5,1030.3 L1884.3,1030.3 L1885.2,1030.3 L1886.1,1030.3 L1886.9,1030.3 L1887.8,1030.3 L1888.7,1030.3 L1889.5,1030.3 L1890.4,1030.3 L1891.3,1030.3 L1892.2,1030.3 L1893.0,1030.3 L1893.9,1030.3 L1894.8,1030.3 L1895.6,1030.3 L1896.5,1030.3 L1897.4,1030.3 L1898.2,1030.3 L1899.1,1030.3 L1900.0,1030.3 L1900.9,1030.3 L1901.7,1030.3 L1902.6,1030.3 L1903.5,1030.3 L1904.3,1030.3 L1905.2,1030.3 L1906.1,1030.3 L1906.9,1030.3 L1907.8,1030.3 L1908.7,1030.3 L1909.5,1030.3 L1910.4,1030.3 L1911.3,1030.3 L1912.2,1030.3 L1913.0,1030.3 L1913.9,1030.3 L1914.8,1030.3 L1915.6,1030.3 L1916.5,1030.3 L1917.4,1030.3 L1918.2,1030.3 L1919.1,1030.3 L1920.0,1030.3 L1920.9,1030.3 L1921.7,1030.3 L1922.6,1030.3 L1923.5,1030.3 L1924.3,1030.3 L1925.2,1030.3 L1926.1,1030.3 L1926.9,1030.3 L1927.8,1030.3 L1928.7,1030.3 L1929.5,1030.3 L1930.4,1030.3 L1931.3,1030.3 L1932.2,1030.3 L1933.0,1030.3 L1933.9,1030.3 L1934.8,1030.3 L1935.6,1030.3 L1936.5,1030.3 L1937.4,1030.3 L1938.2,1030.3 L1939.1,1030.3 L1940.0,1030.3 L1940.9,1030.3 L1941.7,1030.3 L1942.6,1030.3 L1943.5,1030.3 L1944.3,1030.3 L1945.2,1030.3 L1946.1,1030.3 L1946.9,1030.3 L1947.8,1030.3 L1948.7,1030.3 L1949.5,1030.3 L1950.4,1030.3 L1951.3,1030.3 L1952.2,1030.3 L1953.0,1030.3 L1953.9,1030.3 L1954.8,1030.3 L1955.6,1030.3 L1956.5,1030.3 L1957.4,1030.3 L1958.2,1030.3 L1959.1,1030.3 L1960.0,1030.3 L1960.8,1030.3 L1961.7,1030.3 L1962.6,1030.3 L1963.5,1030.3 L1964.3,1030.3 L1965.2,1030.3 L1966.1,1030.3 L1966.9,1030.3 L1967.8,1030.3 L1968.7,1030.3 L1969.5,1030.3 L1970.4,1030.3 L1971.3,1030.3 L1972.2,1030.3 L1973.0,1030.3 L1973.9,1030.3 L1974.8,1030.3 L1975.6,1030.3 L1976.5,1030.3" fill="none" stroke="#555" stroke-width="2.8" stroke-linejoin="round" stroke-linecap="butt" />
<path d="M1541.2,829.9 L1542.1,827.5 L1543.0,825.2 L1543.8,822.9 L1544.7,820.6 L1545.6,818.4 L1546.4,816.3 L1547.3,814.2 L1548.2,812.3 L1549.1,810.3 L1549.9,808.5 L1550.8,806.8 L1551.7,805.1 L1552.5,803.4 L1553.4,801.7 L1554.3,800.0 L1555.1,798.4 L1556.0,796.9 L1556.9,795.4 L1557.7,794.1 L1558.6,792.9 L1559.5,791.8 L1560.4,790.8 L1561.2,790.0 L1562.1,789.1 L1563.0,788.3 L1563.8,787.5 L1564.7,786.8 L1565.6,786.1 L1566.4,785.5 L1567.3,784.9 L1568.2,784.5 L1569.1,784.2 L1569.9,784.0 L1570.8,783.9 L1571.7,784.0 L1572.5,784.3 L1573.4,784.7 L1574.3,785.1 L1575.1,785.7 L1576.0,786.4 L1576.9,787.1 L1577.7,787.9 L1578.6,788.7 L1579.5,789.6 L1580.4,790.4 L1581.2,791.3 L1582.1,792.2 L1583.0,793.0 L1583.8,793.8 L1584.7,794.5 L1585.6,795.3 L1586.4,796.1 L1587.3,796.9 L1588.2,797.8 L1589.1,798.6 L1589.9,799.5 L1590.8,800.4 L1591.7,801.3 L1592.5,802.2 L1593.4,803.0 L1594.3,803.9 L1595.1,804.8 L1596.0,805.7 L1596.9,806.6 L1597.7,807.5 L1598.6,808.4 L1599.5,809.3 L1600.4,810.3 L1601.2,811.3 L1602.1,812.3 L1603.0,813.3 L1603.8,814.3 L1604.7,815.3 L1605.6,816.2 L1606.4,817.1 L1607.3,818.0 L1608.2,818.7 L1609.0,819.4 L1609.9,820.0 L1610.8,820.5 L1611.7,821.0 L1612.5,821.4 L1613.4,821.9 L1614.3,822.3 L1615.1,822.7 L1616.0,823.1 L1616.9,823.4 L1617.7,823.7 L1618.6,823.9 L1619.5,824.0 L1620.4,824.1 L1621.2,824.1 L1622.1,823.9 L1623.0,823.5 L1623.8,822.9 L1624.7,822.4 L1625.6,821.8 L1626.4,821.4 L1627.3,821.3 L1628.2,821.3 L1629.0,821.3 L1629.9,821.3 L1630.8,821.3 L1631.7,821.4 L1632.5,821.4 L1633.4,821.5 L1634.3,821.5 L1635.1,821.6 L1636.0,821.7 L1636.9,821.8 L1637.7,821.9 L1638.6,822.0 L1639.5,822.1 L1640.4,822.3 L1641.2,822.4 L1642.1,822.8 L1643.0,823.3 L1643.8,824.0 L1644.7,824.9 L1645.6,826.0 L1646.4,827.1 L1647.3,828.3 L1648.2,829.6 L1649.0,831.0 L1649.9,832.3 L1650.8,833.7 L1651.7,835.1 L1652.5,836.6 L1653.4,838.3 L1654.3,840.1 L1655.1,842.0 L1656.0,844.0 L1656.9,846.2 L1657.7,848.4 L1658.6,850.7 L1659.5,853.1 L1660.3,855.5 L1661.2,858.0 L1662.1,860.6 L1663.0,863.5 L1663.8,866.6 L1664.7,869.8 L1665.6,873.1 L1666.4,876.5 L1667.3,879.9 L1668.2,883.4 L1669.0,886.8 L1669.9,890.2 L1670.8,893.4 L1671.7,896.7 L1672.5,900.0 L1673.4,903.4 L1674.3,906.8 L1675.1,910.2 L1676.0,913.6 L1676.9,916.9 L1677.7,920.1 L1678.6,923.3 L1679.5,926.2 L1680.3,929.0 L1681.2,931.5 L1682.1,933.9 L1683.0,936.3 L1683.8,938.5 L1684.7,940.6 L1685.6,942.7 L1686.4,944.7 L1687.3,946.7 L1688.2,948.5 L1689.0,950.4 L1689.9,952.1 L1690.8,953.9 L1691.7,955.6 L1692.5,957.3 L1693.4,959.0 L1694.3,960.8 L1695.1,962.4 L1696.0,964.0 L1696.9,965.6 L1697.7,967.0 L1698.6,968.3 L1699.5,969.5 L1700.3,970.5 L1701.2,971.4 L1702.1,972.2 L1703.0,972.9 L1703.8,973.6 L1704.7,974.3 L1705.6,974.9 L1706.4,975.4 L1707.3,976.0 L1708.2,976.4 L1709.0,976.9 L1709.9,977.3 L1710.8,977.6 L1711.7,978.0 L1712.5,978.2 L1713.4,978.5 L1714.3,978.7 L1715.1,978.9 L1716.0,979.1 L1716.9,979.3 L1717.7,979.6 L1718.6,979.9 L1719.5,980.2 L1720.3,980.6 L1721.2,980.9 L1722.1,981.3 L1723.0,981.7 L1723.8,982.1 L1724.7,982.5 L1725.6,982.9 L1726.4,983.4 L1727.3,983.8 L1728.2,984.2 L1729.0,984.5 L1729.9,984.9 L1730.8,985.2 L1731.6,985.6 L1732.5,985.9 L1733.4,986.3 L1734.3,986.7 L1735.1,987.0 L1736.0,987.4 L1736.9,987.7 L1737.7,988.0 L1738.6,988.3 L1739.5,988.5 L1740.3,988.6 L1741.2,988.6 L1742.1,988.6 L1743.0,988.3 L1743.8,987.9 L1744.7,987.4 L1745.6,986.8 L1746.4,986.0 L1747.3,985.2 L1748.2,984.3 L1749.0,983.4 L1749.9,982.4 L1750.8,981.4 L1751.6,980.4 L1752.5,979.2 L1753.4,977.9 L1754.3,976.4 L1755.1,974.7 L1756.0,972.8 L1756.9,970.8 L1757.7,968.6 L1758.6,966.2 L1759.5,963.6 L1760.3,960.8 L1761.2,957.8 L1762.1,954.1 L1763.0,949.3 L1763.8,943.6 L1764.7,937.4 L1765.6,930.8 L1766.4,924.2 L1767.3,917.9 L1768.2,912.1 L1769.0,906.4 L1769.9,900.9 L1770.8,895.4 L1771.6,890.0 L1772.5,884.5 L1773.4,878.9 L1774.3,873.3 L1775.1,867.4 L1776.0,861.4 L1776.9,855.2 L1777.7,848.7 L1778.6,841.8 L1779.5,834.5 L1780.3,826.9 L1781.2,819.0 L1782.1,810.9 L1782.9,802.6 L1783.8,794.2 L1784.7,785.7 L1785.6,777.2 L1786.4,768.7 L1787.3,760.4 L1788.2,752.2 L1789.0,743.7 L1789.9,734.6 L1790.8,725.5 L1791.6,716.5 L1792.5,708.0 L1793.4,700.3 L1794.3,693.8 L1795.1,688.4 L1796.0,683.2 L1796.9,678.2 L1797.7,674.0 L1798.6,670.9 L1799.5,669.5 L1800.3,669.7 L1801.2,670.8 L1802.1,672.6 L1802.9,674.9 L1803.8,677.5 L1804.7,680.3 L1805.6,684.8 L1806.4,691.9 L1807.3,700.6 L1808.2,709.9 L1809.0,718.7 L1809.9,726.0 L1810.8,730.8 L1811.6,732.1 L1812.5,729.6 L1813.4,724.4 L1814.3,717.4 L1815.1,709.4 L1816.0,701.4 L1816.9,693.8 L1817.7,683.6 L1818.6,673.6 L1819.5,668.2 L1820.3,668.8 L1821.2,671.7 L1822.1,676.4 L1822.9,682.3 L1823.8,691.9 L1824.7,709.6 L1825.6,733.2 L1826.4,760.4 L1826.4,1066.4 L1541.2,1066.4 Z" fill="url(#gf_red)" stroke="none" />
<path d="M1541.2,829.9 L1542.1,827.5 L1543.0,825.2 L1543.8,822.9 L1544.7,820.6 L1545.6,818.4 L1546.4,816.3 L1547.3,814.2 L1548.2,812.3 L1549.1,810.3 L1549.9,808.5 L1550.8,806.8 L1551.7,805.1 L1552.5,803.4 L1553.4,801.7 L1554.3,800.0 L1555.1,798.4 L1556.0,796.9 L1556.9,795.4 L1557.7,794.1 L1558.6,792.9 L1559.5,791.8 L1560.4,790.8 L1561.2,790.0 L1562.1,789.1 L1563.0,788.3 L1563.8,787.5 L1564.7,786.8 L1565.6,786.1 L1566.4,785.5 L1567.3,784.9 L1568.2,784.5 L1569.1,784.2 L1569.9,784.0 L1570.8,783.9 L1571.7,784.0 L1572.5,784.3 L1573.4,784.7 L1574.3,785.1 L1575.1,785.7 L1576.0,786.4 L1576.9,787.1 L1577.7,787.9 L1578.6,788.7 L1579.5,789.6 L1580.4,790.4 L1581.2,791.3 L1582.1,792.2 L1583.0,793.0 L1583.8,793.8 L1584.7,794.5 L1585.6,795.3 L1586.4,796.1 L1587.3,796.9 L1588.2,797.8 L1589.1,798.6 L1589.9,799.5 L1590.8,800.4 L1591.7,801.3 L1592.5,802.2 L1593.4,803.0 L1594.3,803.9 L1595.1,804.8 L1596.0,805.7 L1596.9,806.6 L1597.7,807.5 L1598.6,808.4 L1599.5,809.3 L1600.4,810.3 L1601.2,811.3 L1602.1,812.3 L1603.0,813.3 L1603.8,814.3 L1604.7,815.3 L1605.6,816.2 L1606.4,817.1 L1607.3,818.0 L1608.2,818.7 L1609.0,819.4 L1609.9,820.0 L1610.8,820.5 L1611.7,821.0 L1612.5,821.4 L1613.4,821.9 L1614.3,822.3 L1615.1,822.7 L1616.0,823.1 L1616.9,823.4 L1617.7,823.7 L1618.6,823.9 L1619.5,824.0 L1620.4,824.1 L1621.2,824.1 L1622.1,823.9 L1623.0,823.5 L1623.8,822.9 L1624.7,822.4 L1625.6,821.8 L1626.4,821.4 L1627.3,821.3 L1628.2,821.3 L1629.0,821.3 L1629.9,821.3 L1630.8,821.3 L1631.7,821.4 L1632.5,821.4 L1633.4,821.5 L1634.3,821.5 L1635.1,821.6 L1636.0,821.7 L1636.9,821.8 L1637.7,821.9 L1638.6,822.0 L1639.5,822.1 L1640.4,822.3 L1641.2,822.4 L1642.1,822.8 L1643.0,823.3 L1643.8,824.0 L1644.7,824.9 L1645.6,826.0 L1646.4,827.1 L1647.3,828.3 L1648.2,829.6 L1649.0,831.0 L1649.9,832.3 L1650.8,833.7 L1651.7,835.1 L1652.5,836.6 L1653.4,838.3 L1654.3,840.1 L1655.1,842.0 L1656.0,844.0 L1656.9,846.2 L1657.7,848.4 L1658.6,850.7 L1659.5,853.1 L1660.3,855.5 L1661.2,858.0 L1662.1,860.6 L1663.0,863.5 L1663.8,866.6 L1664.7,869.8 L1665.6,873.1 L1666.4,876.5 L1667.3,879.9 L1668.2,883.4 L1669.0,886.8 L1669.9,890.2 L1670.8,893.4 L1671.7,896.7 L1672.5,900.0 L1673.4,903.4 L1674.3,906.8 L1675.1,910.2 L1676.0,913.6 L1676.9,916.9 L1677.7,920.1 L1678.6,923.3 L1679.5,926.2 L1680.3,929.0 L1681.2,931.5 L1682.1,933.9 L1683.0,936.3 L1683.8,938.5 L1684.7,940.6 L1685.6,942.7 L1686.4,944.7 L1687.3,946.7 L1688.2,948.5 L1689.0,950.4 L1689.9,952.1 L1690.8,953.9 L1691.7,955.6 L1692.5,957.3 L1693.4,959.0 L1694.3,960.8 L1695.1,962.4 L1696.0,964.0 L1696.9,965.6 L1697.7,967.0 L1698.6,968.3 L1699.5,969.5 L1700.3,970.5 L1701.2,971.4 L1702.1,972.2 L1703.0,972.9 L1703.8,973.6 L1704.7,974.3 L1705.6,974.9 L1706.4,975.4 L1707.3,976.0 L1708.2,976.4 L1709.0,976.9 L1709.9,977.3 L1710.8,977.6 L1711.7,978.0 L1712.5,978.2 L1713.4,978.5 L1714.3,978.7 L1715.1,978.9 L1716.0,979.1 L1716.9,979.3 L1717.7,979.6 L1718.6,979.9 L1719.5,980.2 L1720.3,980.6 L1721.2,980.9 L1722.1,981.3 L1723.0,981.7 L1723.8,982.1 L1724.7,982.5 L1725.6,982.9 L1726.4,983.4 L1727.3,983.8 L1728.2,984.2 L1729.0,984.5 L1729.9,984.9 L1730.8,985.2 L1731.6,985.6 L1732.5,985.9 L1733.4,986.3 L1734.3,986.7 L1735.1,987.0 L1736.0,987.4 L1736.9,987.7 L1737.7,988.0 L1738.6,988.3 L1739.5,988.5 L1740.3,988.6 L1741.2,988.6 L1742.1,988.6 L1743.0,988.3 L1743.8,987.9 L1744.7,987.4 L1745.6,986.8 L1746.4,986.0 L1747.3,985.2 L1748.2,984.3 L1749.0,983.4 L1749.9,982.4 L1750.8,981.4 L1751.6,980.4 L1752.5,979.2 L1753.4,977.9 L1754.3,976.4 L1755.1,974.7 L1756.0,972.8 L1756.9,970.8 L1757.7,968.6 L1758.6,966.2 L1759.5,963.6 L1760.3,960.8 L1761.2,957.8 L1762.1,954.1 L1763.0,949.3 L1763.8,943.6 L1764.7,937.4 L1765.6,930.8 L1766.4,924.2 L1767.3,917.9 L1768.2,912.1 L1769.0,906.4 L1769.9,900.9 L1770.8,895.4 L1771.6,890.0 L1772.5,884.5 L1773.4,878.9 L1774.3,873.3 L1775.1,867.4 L1776.0,861.4 L1776.9,855.2 L1777.7,848.7 L1778.6,841.8 L1779.5,834.5 L1780.3,826.9 L1781.2,819.0 L1782.1,810.9 L1782.9,802.6 L1783.8,794.2 L1784.7,785.7 L1785.6,777.2 L1786.4,768.7 L1787.3,760.4 L1788.2,752.2 L1789.0,743.7 L1789.9,734.6 L1790.8,725.5 L1791.6,716.5 L1792.5,708.0 L1793.4,700.3 L1794.3,693.8 L1795.1,688.4 L1796.0,683.2 L1796.9,678.2 L1797.7,674.0 L1798.6,670.9 L1799.5,669.5 L1800.3,669.7 L1801.2,670.8 L1802.1,672.6 L1802.9,674.9 L1803.8,677.5 L1804.7,680.3 L1805.6,684.8 L1806.4,691.9 L1807.3,700.6 L1808.2,709.9 L1809.0,718.7 L1809.9,726.0 L1810.8,730.8 L1811.6,732.1 L1812.5,729.6 L1813.4,724.4 L1814.3,717.4 L1815.1,709.4 L1816.0,701.4 L1816.9,693.8 L1817.7,683.6 L1818.6,673.6 L1819.5,668.2 L1820.3,668.8 L1821.2,671.7 L1822.1,676.4 L1822.9,682.3 L1823.8,691.9 L1824.7,709.6 L1825.6,733.2 L1826.4,760.4" fill="none" stroke="#ec3b3b" stroke-width="3" stroke-linejoin="round" stroke-linecap="butt" />
<path d="M1646.1,1030.3 L1647.0,1030.3 L1647.8,1030.3 L1648.7,1030.3 L1649.6,1030.3 L1650.4,1030.3 L1651.3,1030.3 L1652.2,1030.3 L1653.0,1030.3 L1653.9,1030.3 L1654.8,1030.3 L1655.7,1030.3 L1656.5,1030.3 L1657.4,1030.3 L1658.3,1030.3 L1659.1,1030.3 L1660.0,1030.3 L1660.9,1030.3 L1661.7,1030.3 L1662.6,1030.3 L1663.5,1030.3 L1664.3,1030.3 L1665.2,1030.3 L1666.1,1030.3 L1667.0,1030.3 L1667.8,1030.3 L1668.7,1030.3 L1669.6,1030.3 L1670.4,1030.3 L1671.3,1030.3 L1672.2,1030.3 L1673.0,1030.3 L1673.9,1030.3 L1674.8,1030.3 L1675.7,1030.3 L1676.5,1030.3 L1677.4,1030.3 L1678.3,1030.3 L1679.1,1030.3 L1680.0,1030.3 L1680.9,1030.3 L1681.7,1030.3 L1682.6,1030.3 L1683.5,1030.3 L1684.3,1030.3 L1685.2,1030.3 L1686.1,1030.3 L1687.0,1030.3 L1687.8,1030.3 L1688.7,1030.3 L1689.6,1030.3 L1690.4,1030.3 L1691.3,1030.3 L1692.2,1030.3 L1693.0,1030.3 L1693.9,1030.3 L1694.8,1030.3 L1695.7,1030.3 L1696.5,1030.3 L1697.4,1030.3 L1698.3,1030.3 L1699.1,1030.3 L1700.0,1030.3 L1700.9,1030.3 L1701.7,1030.3 L1702.6,1030.3 L1703.5,1030.3 L1704.3,1030.3 L1705.2,1030.3 L1706.1,1030.3 L1707.0,1030.3 L1707.8,1030.3 L1708.7,1030.3 L1709.6,1030.3 L1710.4,1030.3 L1711.3,1030.3 L1712.2,1030.3 L1713.0,1030.3 L1713.9,1030.3 L1714.8,1030.3 L1715.7,1030.3 L1716.5,1030.2 L1717.4,1030.2 L1718.3,1030.2 L1719.1,1030.2 L1720.0,1030.2 L1720.9,1030.2 L1721.7,1030.2 L1722.6,1030.2 L1723.5,1030.2 L1724.3,1030.2 L1725.2,1030.2 L1726.1,1030.2 L1727.0,1030.2 L1727.8,1030.2 L1728.7,1030.2 L1729.6,1030.2 L1730.4,1030.1 L1731.3,1030.1 L1732.2,1030.1 L1733.0,1030.1 L1733.9,1030.1 L1734.8,1030.1 L1735.6,1030.1 L1736.5,1030.1 L1737.4,1030.1 L1738.3,1030.1 L1739.1,1030.1 L1740.0,1030.1 L1740.9,1030.0 L1741.7,1030.0 L1742.6,1030.0 L1743.5,1030.0 L1744.3,1030.0 L1745.2,1030.0 L1746.1,1030.0 L1747.0,1030.0 L1747.8,1030.0 L1748.7,1030.0 L1749.6,1029.9 L1750.4,1029.9 L1751.3,1029.9 L1752.2,1029.9 L1753.0,1029.9 L1753.9,1029.9 L1754.8,1029.9 L1755.6,1029.9 L1756.5,1029.8 L1757.4,1029.8 L1758.3,1029.8 L1759.1,1029.8 L1760.0,1029.8 L1760.9,1029.8 L1761.7,1029.7 L1762.6,1029.7 L1763.5,1029.7 L1764.3,1029.7 L1765.2,1029.6 L1766.1,1029.6 L1767.0,1029.6 L1767.8,1029.6 L1768.7,1029.5 L1769.6,1029.5 L1770.4,1029.5 L1771.3,1029.4 L1772.2,1029.4 L1773.0,1029.4 L1773.9,1029.3 L1774.8,1029.3 L1775.6,1029.3 L1776.5,1029.2 L1777.4,1029.2 L1778.3,1029.1 L1779.1,1029.1 L1780.0,1029.0 L1780.9,1029.0 L1781.7,1028.9 L1782.6,1028.8 L1783.5,1028.8 L1784.3,1028.7 L1785.2,1028.6 L1786.1,1028.4 L1786.9,1028.3 L1787.8,1028.2 L1788.7,1027.9 L1789.6,1027.3 L1790.4,1026.5 L1791.3,1025.4 L1792.2,1024.1 L1793.0,1022.6 L1793.9,1020.9 L1794.8,1019.1 L1795.6,1017.1 L1796.5,1015.0 L1797.4,1012.9 L1798.3,1010.6 L1799.1,1008.1 L1800.0,1005.0 L1800.9,1001.4 L1801.7,997.4 L1802.6,993.1 L1803.5,988.3 L1804.3,983.2 L1805.2,977.6 L1806.1,970.8 L1806.9,963.1 L1807.8,954.5 L1808.7,945.3 L1809.6,935.8 L1810.4,926.0 L1811.3,916.3 L1812.2,906.3 L1813.0,895.4 L1813.9,883.8 L1814.8,872.0 L1815.6,860.3 L1816.5,849.0 L1817.4,838.6 L1818.3,829.3 L1819.1,820.8 L1820.0,812.9 L1820.9,805.4 L1821.7,798.3 L1822.6,791.2 L1823.5,784.3 L1824.3,777.3 L1825.2,770.2 L1826.1,763.0 L1826.9,755.7 L1827.8,748.5 L1828.7,741.5 L1829.6,734.6 L1830.4,728.0 L1831.3,721.7 L1832.2,715.6 L1833.0,709.3 L1833.9,703.1 L1834.8,697.0 L1835.6,691.5 L1836.5,686.6 L1837.4,682.7 L1838.2,679.8 L1839.1,677.4 L1840.0,675.2 L1840.9,673.1 L1841.7,671.3 L1842.6,669.8 L1843.5,668.7 L1844.3,668.1 L1845.2,668.0 L1846.1,668.5 L1846.9,669.3 L1847.8,670.4 L1848.7,671.8 L1849.6,673.4 L1850.4,675.0 L1851.3,676.7 L1852.2,678.5 L1853.0,680.7 L1853.9,683.2 L1854.8,686.0 L1855.6,689.0 L1856.5,692.3 L1857.4,695.8 L1858.2,699.5 L1859.1,703.3 L1860.0,707.3 L1860.9,711.2 L1861.7,715.3 L1862.6,719.3 L1863.5,723.3 L1864.3,727.3 L1865.2,731.1 L1866.1,735.1 L1866.9,739.1 L1867.8,743.2 L1868.7,747.4 L1869.6,751.7 L1870.4,756.1 L1871.3,760.5 L1872.2,765.0 L1873.0,769.5 L1873.9,774.1 L1874.8,778.7 L1875.6,783.3 L1876.5,788.0 L1877.4,792.7 L1878.2,797.3 L1879.1,802.1 L1880.0,807.0 L1880.9,811.9 L1881.7,817.0 L1882.6,822.1 L1883.5,827.2 L1884.3,832.4 L1885.2,837.6 L1886.1,842.7 L1886.9,847.9 L1887.8,853.0 L1888.7,858.0 L1889.5,863.0 L1890.4,867.9 L1891.3,872.6 L1892.2,877.3 L1893.0,881.9 L1893.9,886.6 L1894.8,891.2 L1895.6,895.7 L1896.5,900.3 L1897.4,904.8 L1898.2,909.2 L1899.1,913.6 L1900.0,917.9 L1900.9,922.1 L1901.7,926.3 L1902.6,930.3 L1903.5,934.3 L1904.3,938.2 L1905.2,941.9 L1906.1,945.6 L1906.9,949.4 L1907.8,953.1 L1908.7,956.8 L1909.5,960.5 L1910.4,964.0 L1911.3,967.6 L1912.2,971.0 L1913.0,974.3 L1913.9,977.5 L1914.8,980.5 L1915.6,983.3 L1916.5,986.0 L1917.4,988.5 L1918.2,990.7 L1919.1,992.8 L1920.0,994.9 L1920.9,996.9 L1921.7,998.8 L1922.6,1000.6 L1923.5,1002.4 L1924.3,1004.1 L1925.2,1005.8 L1926.1,1007.3 L1926.9,1008.7 L1927.8,1010.1 L1928.7,1011.3 L1929.5,1012.5 L1930.4,1013.5 L1931.3,1014.4 L1932.2,1015.2 L1933.0,1015.9 L1933.9,1016.7 L1934.8,1017.4 L1935.6,1018.1 L1936.5,1018.7 L1937.4,1019.4 L1938.2,1020.0 L1939.1,1020.6 L1940.0,1021.1 L1940.9,1021.7 L1941.7,1022.2 L1942.6,1022.7 L1943.5,1023.1 L1944.3,1023.6 L1945.2,1024.0 L1946.1,1024.4 L1946.9,1024.7 L1947.8,1025.1 L1948.7,1025.4 L1949.5,1025.7 L1950.4,1025.9 L1951.3,1026.2 L1952.2,1026.4 L1953.0,1026.6 L1953.9,1026.8 L1954.8,1027.0 L1955.6,1027.2 L1956.5,1027.4 L1957.4,1027.6 L1958.2,1027.8 L1959.1,1027.9 L1960.0,1028.1 L1960.8,1028.3 L1961.7,1028.4 L1962.6,1028.6 L1963.5,1028.7 L1964.3,1028.9 L1965.2,1029.0 L1966.1,1029.1 L1966.9,1029.2 L1967.8,1029.3 L1968.7,1029.4 L1969.5,1029.4 L1970.4,1029.5 L1971.3,1029.5 L1972.2,1029.6 L1973.0,1029.6 L1973.9,1029.6 L1974.8,1029.6 L1975.6,1029.6 L1976.5,1029.6 L1976.5,1066.4 L1646.1,1066.4 Z" fill="url(#gf_blue)" stroke="none" />
<path d="M1646.1,1030.3 L1647.0,1030.3 L1647.8,1030.3 L1648.7,1030.3 L1649.6,1030.3 L1650.4,1030.3 L1651.3,1030.3 L1652.2,1030.3 L1653.0,1030.3 L1653.9,1030.3 L1654.8,1030.3 L1655.7,1030.3 L1656.5,1030.3 L1657.4,1030.3 L1658.3,1030.3 L1659.1,1030.3 L1660.0,1030.3 L1660.9,1030.3 L1661.7,1030.3 L1662.6,1030.3 L1663.5,1030.3 L1664.3,1030.3 L1665.2,1030.3 L1666.1,1030.3 L1667.0,1030.3 L1667.8,1030.3 L1668.7,1030.3 L1669.6,1030.3 L1670.4,1030.3 L1671.3,1030.3 L1672.2,1030.3 L1673.0,1030.3 L1673.9,1030.3 L1674.8,1030.3 L1675.7,1030.3 L1676.5,1030.3 L1677.4,1030.3 L1678.3,1030.3 L1679.1,1030.3 L1680.0,1030.3 L1680.9,1030.3 L1681.7,1030.3 L1682.6,1030.3 L1683.5,1030.3 L1684.3,1030.3 L1685.2,1030.3 L1686.1,1030.3 L1687.0,1030.3 L1687.8,1030.3 L1688.7,1030.3 L1689.6,1030.3 L1690.4,1030.3 L1691.3,1030.3 L1692.2,1030.3 L1693.0,1030.3 L1693.9,1030.3 L1694.8,1030.3 L1695.7,1030.3 L1696.5,1030.3 L1697.4,1030.3 L1698.3,1030.3 L1699.1,1030.3 L1700.0,1030.3 L1700.9,1030.3 L1701.7,1030.3 L1702.6,1030.3 L1703.5,1030.3 L1704.3,1030.3 L1705.2,1030.3 L1706.1,1030.3 L1707.0,1030.3 L1707.8,1030.3 L1708.7,1030.3 L1709.6,1030.3 L1710.4,1030.3 L1711.3,1030.3 L1712.2,1030.3 L1713.0,1030.3 L1713.9,1030.3 L1714.8,1030.3 L1715.7,1030.3 L1716.5,1030.2 L1717.4,1030.2 L1718.3,1030.2 L1719.1,1030.2 L1720.0,1030.2 L1720.9,1030.2 L1721.7,1030.2 L1722.6,1030.2 L1723.5,1030.2 L1724.3,1030.2 L1725.2,1030.2 L1726.1,1030.2 L1727.0,1030.2 L1727.8,1030.2 L1728.7,1030.2 L1729.6,1030.2 L1730.4,1030.1 L1731.3,1030.1 L1732.2,1030.1 L1733.0,1030.1 L1733.9,1030.1 L1734.8,1030.1 L1735.6,1030.1 L1736.5,1030.1 L1737.4,1030.1 L1738.3,1030.1 L1739.1,1030.1 L1740.0,1030.1 L1740.9,1030.0 L1741.7,1030.0 L1742.6,1030.0 L1743.5,1030.0 L1744.3,1030.0 L1745.2,1030.0 L1746.1,1030.0 L1747.0,1030.0 L1747.8,1030.0 L1748.7,1030.0 L1749.6,1029.9 L1750.4,1029.9 L1751.3,1029.9 L1752.2,1029.9 L1753.0,1029.9 L1753.9,1029.9 L1754.8,1029.9 L1755.6,1029.9 L1756.5,1029.8 L1757.4,1029.8 L1758.3,1029.8 L1759.1,1029.8 L1760.0,1029.8 L1760.9,1029.8 L1761.7,1029.7 L1762.6,1029.7 L1763.5,1029.7 L1764.3,1029.7 L1765.2,1029.6 L1766.1,1029.6 L1767.0,1029.6 L1767.8,1029.6 L1768.7,1029.5 L1769.6,1029.5 L1770.4,1029.5 L1771.3,1029.4 L1772.2,1029.4 L1773.0,1029.4 L1773.9,1029.3 L1774.8,1029.3 L1775.6,1029.3 L1776.5,1029.2 L1777.4,1029.2 L1778.3,1029.1 L1779.1,1029.1 L1780.0,1029.0 L1780.9,1029.0 L1781.7,1028.9 L1782.6,1028.8 L1783.5,1028.8 L1784.3,1028.7 L1785.2,1028.6 L1786.1,1028.4 L1786.9,1028.3 L1787.8,1028.2 L1788.7,1027.9 L1789.6,1027.3 L1790.4,1026.5 L1791.3,1025.4 L1792.2,1024.1 L1793.0,1022.6 L1793.9,1020.9 L1794.8,1019.1 L1795.6,1017.1 L1796.5,1015.0 L1797.4,1012.9 L1798.3,1010.6 L1799.1,1008.1 L1800.0,1005.0 L1800.9,1001.4 L1801.7,997.4 L1802.6,993.1 L1803.5,988.3 L1804.3,983.2 L1805.2,977.6 L1806.1,970.8 L1806.9,963.1 L1807.8,954.5 L1808.7,945.3 L1809.6,935.8 L1810.4,926.0 L1811.3,916.3 L1812.2,906.3 L1813.0,895.4 L1813.9,883.8 L1814.8,872.0 L1815.6,860.3 L1816.5,849.0 L1817.4,838.6 L1818.3,829.3 L1819.1,820.8 L1820.0,812.9 L1820.9,805.4 L1821.7,798.3 L1822.6,791.2 L1823.5,784.3 L1824.3,777.3 L1825.2,770.2 L1826.1,763.0 L1826.9,755.7 L1827.8,748.5 L1828.7,741.5 L1829.6,734.6 L1830.4,728.0 L1831.3,721.7 L1832.2,715.6 L1833.0,709.3 L1833.9,703.1 L1834.8,697.0 L1835.6,691.5 L1836.5,686.6 L1837.4,682.7 L1838.2,679.8 L1839.1,677.4 L1840.0,675.2 L1840.9,673.1 L1841.7,671.3 L1842.6,669.8 L1843.5,668.7 L1844.3,668.1 L1845.2,668.0 L1846.1,668.5 L1846.9,669.3 L1847.8,670.4 L1848.7,671.8 L1849.6,673.4 L1850.4,675.0 L1851.3,676.7 L1852.2,678.5 L1853.0,680.7 L1853.9,683.2 L1854.8,686.0 L1855.6,689.0 L1856.5,692.3 L1857.4,695.8 L1858.2,699.5 L1859.1,703.3 L1860.0,707.3 L1860.9,711.2 L1861.7,715.3 L1862.6,719.3 L1863.5,723.3 L1864.3,727.3 L1865.2,731.1 L1866.1,735.1 L1866.9,739.1 L1867.8,743.2 L1868.7,747.4 L1869.6,751.7 L1870.4,756.1 L1871.3,760.5 L1872.2,765.0 L1873.0,769.5 L1873.9,774.1 L1874.8,778.7 L1875.6,783.3 L1876.5,788.0 L1877.4,792.7 L1878.2,797.3 L1879.1,802.1 L1880.0,807.0 L1880.9,811.9 L1881.7,817.0 L1882.6,822.1 L1883.5,827.2 L1884.3,832.4 L1885.2,837.6 L1886.1,842.7 L1886.9,847.9 L1887.8,853.0 L1888.7,858.0 L1889.5,863.0 L1890.4,867.9 L1891.3,872.6 L1892.2,877.3 L1893.0,881.9 L1893.9,886.6 L1894.8,891.2 L1895.6,895.7 L1896.5,900.3 L1897.4,904.8 L1898.2,909.2 L1899.1,913.6 L1900.0,917.9 L1900.9,922.1 L1901.7,926.3 L1902.6,930.3 L1903.5,934.3 L1904.3,938.2 L1905.2,941.9 L1906.1,945.6 L1906.9,949.4 L1907.8,953.1 L1908.7,956.8 L1909.5,960.5 L1910.4,964.0 L1911.3,967.6 L1912.2,971.0 L1913.0,974.3 L1913.9,977.5 L1914.8,980.5 L1915.6,983.3 L1916.5,986.0 L1917.4,988.5 L1918.2,990.7 L1919.1,992.8 L1920.0,994.9 L1920.9,996.9 L1921.7,998.8 L1922.6,1000.6 L1923.5,1002.4 L1924.3,1004.1 L1925.2,1005.8 L1926.1,1007.3 L1926.9,1008.7 L1927.8,1010.1 L1928.7,1011.3 L1929.5,1012.5 L1930.4,1013.5 L1931.3,1014.4 L1932.2,1015.2 L1933.0,1015.9 L1933.9,1016.7 L1934.8,1017.4 L1935.6,1018.1 L1936.5,1018.7 L1937.4,1019.4 L1938.2,1020.0 L1939.1,1020.6 L1940.0,1021.1 L1940.9,1021.7 L1941.7,1022.2 L1942.6,1022.7 L1943.5,1023.1 L1944.3,1023.6 L1945.2,1024.0 L1946.1,1024.4 L1946.9,1024.7 L1947.8,1025.1 L1948.7,1025.4 L1949.5,1025.7 L1950.4,1025.9 L1951.3,1026.2 L1952.2,1026.4 L1953.0,1026.6 L1953.9,1026.8 L1954.8,1027.0 L1955.6,1027.2 L1956.5,1027.4 L1957.4,1027.6 L1958.2,1027.8 L1959.1,1027.9 L1960.0,1028.1 L1960.8,1028.3 L1961.7,1028.4 L1962.6,1028.6 L1963.5,1028.7 L1964.3,1028.9 L1965.2,1029.0 L1966.1,1029.1 L1966.9,1029.2 L1967.8,1029.3 L1968.7,1029.4 L1969.5,1029.4 L1970.4,1029.5 L1971.3,1029.5 L1972.2,1029.6 L1973.0,1029.6 L1973.9,1029.6 L1974.8,1029.6 L1975.6,1029.6 L1976.5,1029.6" fill="none" stroke="#1c6ae0" stroke-width="3" stroke-linejoin="round" stroke-linecap="butt" />
<rect x="1454.8" y="631.9" width="521.7" height="434.5" fill="none" stroke="#000" stroke-width="3"/>
<path d="M1454.8,1066.4V1076.9 M1541.8,1066.4V1076.9 M1628.7,1066.4V1076.9 M1715.7,1066.4V1076.9 M1802.6,1066.4V1076.9 M1889.5,1066.4V1076.9 M1976.5,1066.4V1076.9 M1498.3,1066.4V1071.9 M1585.2,1066.4V1071.9 M1672.2,1066.4V1071.9 M1759.1,1066.4V1071.9 M1846.1,1066.4V1071.9 M1933.0,1066.4V1071.9" stroke="#000" stroke-width="3" fill="none"/>
<text x="1454.8" y="1105.4" font-size="27" text-anchor="middle" >600</text>
<text x="1541.8" y="1105.4" font-size="27" text-anchor="middle" >650</text>
<text x="1628.7" y="1105.4" font-size="27" text-anchor="middle" >700</text>
<text x="1715.7" y="1105.4" font-size="27" text-anchor="middle" >750</text>
<text x="1802.6" y="1105.4" font-size="27" text-anchor="middle" >800</text>
<text x="1889.5" y="1105.4" font-size="27" text-anchor="middle" >850</text>
<text x="1976.5" y="1105.4" font-size="27" text-anchor="middle" >900</text>
<path d="M1454.8,1030.3H1444.3 M1454.8,957.8H1444.3 M1454.8,885.4H1444.3 M1454.8,812.9H1444.3 M1454.8,740.5H1444.3 M1454.8,668.0H1444.3 M1454.8,1066.5H1449.3 M1454.8,994.1H1449.3 M1454.8,921.6H1449.3 M1454.8,849.1H1449.3 M1454.8,776.7H1449.3 M1454.8,704.2H1449.3 M1454.8,631.8H1449.3" stroke="#000" stroke-width="3" fill="none"/>
<text x="1436.6" y="1039.1" font-size="27" text-anchor="end" >0.0</text>
<text x="1436.6" y="966.6" font-size="27" text-anchor="end" >0.2</text>
<text x="1436.6" y="894.2" font-size="27" text-anchor="end" >0.4</text>
<text x="1436.6" y="821.7" font-size="27" text-anchor="end" >0.6</text>
<text x="1436.6" y="749.3" font-size="27" text-anchor="end" >0.8</text>
<text x="1436.6" y="676.8" font-size="27" text-anchor="end" >1.0</text>
<text x="1715.7" y="1138.1" font-size="28.8" text-anchor="middle" >Wavelength (nm)</text>
<text transform="translate(1388,848.9) rotate(-90)" font-size="28.8" text-anchor="middle">Normalized Intensity</text>
<text x="1463.0" y="666.0" font-size="28.8" text-anchor="start" >C5T-Pco NP</text>
<rect x="1463.5" y="677.0" width="62.8" height="30.8" rx="1.5" fill="url(#lg_gray_1463_677)" stroke="#555555" stroke-width="2.8"/>
<text x="1535.0" y="702.0" font-size="28.8" text-anchor="start" >Absorbance</text>
<rect x="1463.5" y="713.0" width="62.8" height="30.8" rx="1.5" fill="url(#lg_red_1463_713)" stroke="#ec3b3b" stroke-width="2.8"/>
<text x="1535.0" y="738.0" font-size="28.8" text-anchor="start" >Excitation</text>
<rect x="1463.5" y="749.0" width="62.8" height="30.8" rx="1.5" fill="url(#lg_blue_1463_749)" stroke="#1c6ae0" stroke-width="2.8"/>
<text x="1535.0" y="774.0" font-size="28.8" text-anchor="start" >Emission</text>
<text x="0.0" y="1203.0" font-size="36" text-anchor="start" >g</text>
<g clip-path="url(#clipG)">
<path d="M126.5,1617.8 L126.8,1614.3 L127.1,1610.4 L127.4,1606.1 L127.7,1601.3 L128.0,1596.1 L128.3,1590.1 L128.6,1583.1 L128.9,1575.4 L129.2,1567.2 L129.5,1558.6 L129.8,1549.9 L130.1,1541.2 L130.4,1532.7 L130.7,1524.6 L131.1,1517.1 L131.4,1510.3 L131.7,1504.2 L132.0,1498.4 L132.3,1492.9 L132.6,1487.6 L132.9,1482.6 L133.2,1477.7 L133.5,1472.9 L133.8,1468.2 L134.1,1463.6 L134.4,1458.9 L134.7,1454.2 L135.0,1449.5 L135.3,1444.6 L135.6,1439.6 L135.9,1434.4 L136.3,1428.9 L136.6,1423.2 L136.9,1417.2 L137.2,1410.5 L137.5,1403.5 L137.8,1396.2 L138.1,1388.8 L138.4,1381.6 L138.7,1374.6 L139.0,1368.1 L139.3,1361.8 L139.6,1355.6 L139.9,1349.5 L140.2,1343.6 L140.5,1338.0 L140.8,1332.7 L141.2,1327.7 L141.5,1323.0 L141.8,1318.4 L142.1,1314.0 L142.4,1309.9 L142.7,1306.0 L143.0,1302.3 L143.3,1298.1 L143.6,1294.0 L143.9,1290.6 L144.2,1288.7 L144.5,1288.7 L144.8,1289.4 L145.1,1290.8 L145.4,1292.7 L145.7,1294.9 L146.0,1297.4 L146.4,1300.0 L146.7,1302.7 L147.0,1305.4 L147.3,1308.5 L147.6,1312.0 L147.9,1315.9 L148.2,1320.3 L148.5,1325.3 L148.8,1330.9 L149.1,1338.0 L149.4,1346.7 L149.7,1356.5 L150.0,1366.9 L150.3,1378.3 L150.6,1390.9 L150.9,1404.5 L151.2,1418.8 L151.6,1433.6 L151.9,1448.7 L152.2,1463.9 L152.5,1479.1 L152.8,1495.1 L153.1,1511.6 L153.4,1528.3 L153.7,1544.9 L154.0,1561.5 L154.3,1578.1 L154.6,1594.9 L154.6,1617.8 L126.5,1617.8 Z" fill="url(#gg_gray)" stroke="none" />
<path d="M159.3,1594.9 L159.6,1308.2 L159.9,1160.5 L160.2,1160.5 L160.5,1160.5 L160.8,1160.5 L161.1,1160.5 L161.4,1160.5 L161.7,1283.1 L162.0,1438.9 L162.3,1487.0 L162.6,1520.3 L162.9,1538.6 L163.2,1544.2 L163.6,1547.7 L163.9,1550.4 L164.2,1552.5 L164.5,1554.2 L164.8,1555.6 L165.1,1556.9 L165.4,1558.4 L165.7,1559.8 L166.0,1561.2 L166.3,1562.6 L166.6,1563.8 L166.9,1565.0 L167.2,1566.1 L167.5,1567.2 L167.8,1568.3 L168.1,1569.3 L168.5,1570.3 L168.8,1571.2 L169.1,1572.1 L169.4,1573.1 L169.7,1574.0 L170.0,1574.9 L170.3,1575.9 L170.6,1576.8 L170.9,1577.8 L171.2,1578.7 L171.5,1579.6 L171.8,1580.5 L172.1,1581.4 L172.4,1582.3 L172.7,1583.1 L173.0,1583.9 L173.4,1584.7 L173.7,1585.4 L174.0,1586.1 L174.3,1586.7 L174.6,1587.3 L174.9,1587.9 L175.2,1588.4 L175.5,1588.9 L175.8,1589.4 L176.1,1589.9 L176.4,1590.4 L176.7,1590.9 L177.0,1591.3 L177.3,1591.8 L177.6,1592.2 L177.9,1592.6 L178.2,1593.0 L178.6,1593.4 L178.9,1593.8 L179.2,1594.1 L179.5,1594.5 L179.8,1594.8 L180.1,1595.1 L180.4,1595.4 L180.7,1595.7 L181.0,1596.0 L181.3,1596.3 L181.6,1596.5 L181.9,1596.8 L182.2,1597.0 L182.5,1597.2 L182.8,1597.5 L183.1,1597.7 L183.5,1597.9 L183.8,1598.2 L184.1,1598.4 L184.4,1598.6 L184.7,1598.8 L185.0,1599.0 L185.3,1599.2 L185.6,1599.4 L185.9,1599.5 L186.2,1599.7 L186.5,1599.9 L186.8,1600.1 L187.1,1600.2 L187.4,1600.4 L187.7,1600.6 L188.0,1600.7 L188.4,1600.8 L188.7,1601.0 L189.0,1601.1 L189.3,1601.3 L189.6,1601.4 L189.9,1601.5 L190.2,1601.6 L190.5,1601.7 L190.8,1601.8 L191.1,1601.9 L191.4,1602.0 L191.7,1602.1 L192.0,1602.2 L192.3,1602.3 L192.6,1602.4 L192.9,1602.5 L193.3,1602.6 L193.6,1602.7 L193.9,1602.8 L194.2,1602.9 L194.5,1603.0 L194.8,1603.1 L195.1,1603.2 L195.4,1603.2 L195.7,1603.3 L196.0,1603.4 L196.3,1603.5 L196.6,1603.6 L196.9,1603.7 L197.2,1603.8 L197.5,1603.9 L197.8,1603.9 L198.1,1604.0 L198.5,1604.1 L198.8,1604.2 L199.1,1604.3 L199.4,1604.3 L199.7,1604.4 L200.0,1604.5 L200.3,1604.6 L200.6,1604.6 L200.9,1604.7 L201.2,1604.8 L201.5,1604.9 L201.8,1604.9 L202.1,1605.0 L202.4,1605.1 L202.7,1605.2 L203.0,1605.2 L203.4,1605.3 L203.7,1605.4 L204.0,1605.4 L204.3,1605.5 L204.6,1605.6 L204.9,1605.6 L205.2,1605.7 L205.5,1605.8 L205.8,1605.8 L206.1,1605.9 L206.4,1606.0 L206.7,1606.0 L207.0,1606.1 L207.3,1606.1 L207.6,1606.2 L207.9,1606.3 L208.3,1606.3 L208.6,1606.4 L208.9,1606.4 L209.2,1606.5 L209.5,1606.6 L209.8,1606.6 L210.1,1606.7 L210.4,1606.7 L210.7,1606.8 L211.0,1606.8 L211.3,1606.9 L211.6,1606.9 L211.9,1607.0 L212.2,1607.0 L212.5,1607.1 L212.8,1607.2 L213.2,1607.2 L213.5,1607.3 L213.8,1607.3 L214.1,1607.4 L214.4,1607.4 L214.7,1607.4 L215.0,1607.5 L215.3,1607.5 L215.6,1607.6 L215.9,1607.6 L216.2,1607.7 L216.5,1607.7 L216.8,1607.8 L217.1,1607.8 L217.4,1607.9 L217.7,1607.9 L218.0,1608.0 L218.4,1608.0 L218.7,1608.0 L219.0,1608.1 L219.3,1608.1 L219.6,1608.2 L219.9,1608.2 L220.2,1608.2 L220.5,1608.3 L220.8,1608.3 L221.1,1608.4 L221.4,1608.4 L221.7,1608.4 L222.0,1608.5 L222.3,1608.5 L222.6,1608.6 L222.9,1608.6 L223.3,1608.6 L223.6,1608.7 L223.9,1608.7 L224.2,1608.7 L224.5,1608.8 L224.8,1608.8 L225.1,1608.9 L225.4,1608.9 L225.7,1608.9 L226.0,1609.0 L226.3,1609.0 L226.6,1609.0 L226.9,1609.1 L227.2,1609.1 L227.5,1609.1 L227.8,1609.2 L228.2,1609.2 L228.5,1609.2 L228.8,1609.3 L229.1,1609.3 L229.4,1609.3 L229.7,1609.4 L230.0,1609.4 L230.3,1609.4 L230.6,1609.4 L230.9,1609.5 L231.2,1609.5 L231.5,1609.5 L231.8,1609.6 L232.1,1609.6 L232.4,1609.6 L232.7,1609.7 L233.1,1609.7 L233.4,1609.7 L233.7,1609.7 L234.0,1609.8 L234.3,1609.8 L234.6,1609.8 L234.9,1609.9 L235.2,1609.9 L235.5,1609.9 L235.8,1609.9 L236.1,1610.0 L236.4,1610.0 L236.7,1610.0 L237.0,1610.1 L237.3,1610.1 L237.6,1610.1 L237.9,1610.1 L238.3,1610.2 L238.6,1610.2 L238.9,1610.2 L239.2,1610.2 L239.5,1610.3 L239.8,1610.3 L240.1,1610.3 L240.4,1610.3 L240.7,1610.4 L241.0,1610.4 L241.3,1610.4 L241.6,1610.4 L241.9,1610.5 L242.2,1610.5 L242.5,1610.5 L242.8,1610.5 L243.2,1610.6 L243.5,1610.6 L243.8,1610.6 L244.1,1610.6 L244.4,1610.6 L244.7,1610.7 L245.0,1610.7 L245.3,1610.7 L245.6,1610.7 L245.9,1610.8 L246.2,1610.8 L246.5,1610.8 L246.8,1610.8 L247.1,1610.9 L247.4,1610.9 L247.7,1610.9 L248.1,1610.9 L248.4,1610.9 L248.7,1611.0 L249.0,1611.0 L249.3,1611.0 L249.6,1611.0 L249.9,1611.0 L250.2,1611.1 L250.5,1611.1 L250.8,1611.1 L251.1,1611.1 L251.4,1611.2 L251.7,1611.2 L252.0,1611.2 L252.3,1611.2 L252.6,1611.2 L253.0,1611.3 L253.3,1611.3 L253.6,1611.3 L253.9,1611.3 L254.2,1611.3 L254.5,1611.4 L254.8,1611.4 L255.1,1611.4 L255.4,1611.4 L255.7,1611.4 L256.0,1611.5 L256.3,1611.5 L256.6,1611.5 L256.9,1611.5 L257.2,1611.5 L257.5,1611.6 L257.9,1611.6 L258.2,1611.6 L258.5,1611.6 L258.8,1611.6 L259.1,1611.7 L259.4,1611.7 L259.7,1611.7 L260.0,1611.7 L260.3,1611.7 L260.6,1611.8 L260.9,1611.8 L261.2,1611.8 L261.5,1611.8 L261.8,1611.8 L262.1,1611.9 L262.4,1611.9 L262.7,1611.9 L263.1,1611.9 L263.4,1611.9 L263.7,1611.9 L264.0,1612.0 L264.3,1612.0 L264.6,1612.0 L264.9,1612.0 L265.2,1612.0 L265.5,1612.1 L265.8,1612.1 L266.1,1612.1 L266.4,1612.1 L266.7,1612.1 L267.0,1612.2 L267.3,1612.2 L267.6,1612.2 L268.0,1612.2 L268.3,1612.2 L268.6,1612.3 L268.9,1612.3 L269.2,1612.3 L269.5,1612.3 L269.8,1612.3 L270.1,1612.4 L270.4,1612.4 L270.7,1612.4 L271.0,1612.4 L271.3,1612.5 L271.6,1612.5 L271.9,1612.5 L272.2,1612.5 L272.5,1612.5 L272.9,1612.6 L273.2,1612.6 L273.5,1612.6 L273.8,1612.6 L274.1,1612.6 L274.4,1612.7 L274.7,1612.7 L275.0,1612.7 L275.3,1612.7 L275.6,1612.7 L275.9,1612.8 L276.2,1612.8 L276.5,1612.8 L276.8,1612.8 L277.1,1612.9 L277.4,1612.9 L277.8,1612.9 L278.1,1612.9 L278.4,1612.9 L278.7,1613.0 L279.0,1613.0 L279.3,1613.0 L279.6,1613.0 L279.9,1613.0 L280.2,1613.1 L280.5,1613.1 L280.8,1613.1 L281.1,1613.1 L281.4,1613.2 L281.7,1613.2 L282.0,1613.2 L282.3,1613.2 L282.6,1613.2 L283.0,1613.3 L283.3,1613.3 L283.6,1613.3 L283.9,1613.3 L284.2,1613.3 L284.5,1613.4 L284.8,1613.4 L285.1,1613.4 L285.4,1613.4 L285.7,1613.4 L286.0,1613.5 L286.3,1613.5 L286.6,1613.5 L286.9,1613.5 L287.2,1613.5 L287.5,1613.6 L287.9,1613.6 L288.2,1613.6 L288.5,1613.6 L288.8,1613.6 L289.1,1613.6 L289.4,1613.7 L289.7,1613.7 L290.0,1613.7 L290.3,1613.7 L290.6,1613.7 L290.9,1613.7 L291.2,1613.8 L291.5,1613.8 L291.8,1613.8 L292.1,1613.8 L292.4,1613.8 L292.8,1613.8 L293.1,1613.9 L293.4,1613.9 L293.7,1613.9 L294.0,1613.9 L294.3,1613.9 L294.6,1613.9 L294.9,1613.9 L295.2,1613.9 L295.5,1614.0 L295.8,1614.0 L296.1,1614.0 L296.4,1614.0 L296.7,1614.0 L297.0,1614.0 L297.3,1614.0 L297.7,1614.0 L298.0,1614.1 L298.3,1614.1 L298.6,1614.1 L298.9,1614.1 L299.2,1614.1 L299.5,1614.1 L299.8,1614.1 L300.1,1614.1 L300.4,1614.1 L300.7,1614.2 L301.0,1614.2 L301.3,1614.2 L301.6,1614.2 L301.9,1614.2 L302.2,1614.2 L302.5,1614.2 L302.9,1614.2 L303.2,1614.2 L303.5,1614.3 L303.8,1614.3 L304.1,1614.3 L304.4,1614.3 L304.7,1614.3 L305.0,1614.3 L305.3,1614.3 L305.6,1614.3 L305.9,1614.3 L306.2,1614.4 L306.5,1614.4 L306.8,1614.4 L307.1,1614.4 L307.4,1614.4 L307.8,1614.4 L308.1,1614.4 L308.4,1614.4 L308.7,1614.4 L309.0,1614.5 L309.3,1614.5 L309.6,1614.5 L309.9,1614.5 L310.2,1614.5 L310.5,1614.5 L310.8,1614.5 L311.1,1614.5 L311.4,1614.5 L311.7,1614.5 L312.0,1614.6 L312.3,1614.6 L312.7,1614.6 L313.0,1614.6 L313.3,1614.6 L313.6,1614.6 L313.9,1614.6 L314.2,1614.6 L314.5,1614.6 L314.8,1614.7 L315.1,1614.7 L315.4,1614.7 L315.7,1614.7 L316.0,1614.7 L316.3,1614.7 L316.6,1614.7 L316.9,1614.7 L317.2,1614.7 L317.6,1614.7 L317.9,1614.8 L318.2,1614.8 L318.5,1614.8 L318.8,1614.8 L319.1,1614.8 L319.4,1614.8 L319.7,1614.8 L320.0,1614.8 L320.3,1614.8 L320.6,1614.8 L320.9,1614.8 L321.2,1614.9 L321.5,1614.9 L321.8,1614.9 L322.1,1614.9 L322.4,1614.9 L322.8,1614.9 L323.1,1614.9 L323.4,1614.9 L323.7,1614.9 L324.0,1614.9 L324.3,1614.9 L324.6,1615.0 L324.9,1615.0 L325.2,1615.0 L325.5,1615.0 L325.8,1615.0 L326.1,1615.0 L326.4,1615.0 L326.7,1615.0 L327.0,1615.0 L327.3,1615.0 L327.7,1615.0 L328.0,1615.1 L328.3,1615.1 L328.6,1615.1 L328.9,1615.1 L329.2,1615.1 L329.5,1615.1 L329.8,1615.1 L330.1,1615.1 L330.4,1615.1 L330.7,1615.1 L331.0,1615.1 L331.3,1615.2 L331.6,1615.2 L331.9,1615.2 L332.2,1615.2 L332.6,1615.2 L332.9,1615.2 L333.2,1615.2 L333.5,1615.2 L333.8,1615.2 L334.1,1615.2 L334.4,1615.2 L334.7,1615.2 L335.0,1615.3 L335.3,1615.3 L335.6,1615.3 L335.9,1615.3 L336.2,1615.3 L336.5,1615.3 L336.8,1615.3 L337.1,1615.3 L337.5,1615.3 L337.8,1615.3 L338.1,1615.3 L338.4,1615.3 L338.7,1615.3 L339.0,1615.4 L339.3,1615.4 L339.6,1615.4 L339.9,1615.4 L340.2,1615.4 L340.5,1615.4 L340.8,1615.4 L341.1,1615.4 L341.4,1615.4 L341.7,1615.4 L342.0,1615.4 L342.3,1615.4 L342.7,1615.4 L343.0,1615.5 L343.3,1615.5 L343.6,1615.5 L343.9,1615.5 L344.2,1615.5 L344.5,1615.5 L344.8,1615.5 L345.1,1615.5 L345.4,1615.5 L345.7,1615.5 L346.0,1615.5 L346.3,1615.5 L346.6,1615.5 L346.9,1615.6 L347.2,1615.6 L347.6,1615.6 L347.9,1615.6 L348.2,1615.6 L348.5,1615.6 L348.8,1615.6 L349.1,1615.6 L349.4,1615.6 L349.7,1615.6 L350.0,1615.6 L350.3,1615.6 L350.6,1615.6 L350.9,1615.6 L351.2,1615.6 L351.5,1615.7 L351.8,1615.7 L352.1,1615.7 L352.5,1615.7 L352.8,1615.7 L353.1,1615.7 L353.4,1615.7 L353.7,1615.7 L354.0,1615.7 L354.3,1615.7 L354.6,1615.7 L354.9,1615.7 L355.2,1615.7 L355.5,1615.7 L355.8,1615.7 L356.1,1615.8 L356.4,1615.8 L356.7,1615.8 L357.0,1615.8 L357.4,1615.8 L357.7,1615.8 L358.0,1615.8 L358.3,1615.8 L358.6,1615.8 L358.9,1615.8 L359.2,1615.8 L359.5,1615.8 L359.8,1615.8 L360.1,1615.8 L360.4,1615.8 L360.7,1615.8 L361.0,1615.9 L361.3,1615.9 L361.6,1615.9 L361.9,1615.9 L362.3,1615.9 L362.6,1615.9 L362.9,1615.9 L363.2,1615.9 L363.5,1615.9 L363.8,1615.9 L364.1,1615.9 L364.4,1615.9 L364.7,1615.9 L365.0,1615.9 L365.3,1615.9 L365.6,1615.9 L365.9,1615.9 L366.2,1615.9 L366.5,1616.0 L366.8,1616.0 L367.1,1616.0 L367.5,1616.0 L367.8,1616.0 L368.1,1616.0 L368.4,1616.0 L368.7,1616.0 L369.0,1616.0 L369.3,1616.0 L369.6,1616.0 L369.9,1616.0 L370.2,1616.0 L370.5,1616.0 L370.8,1616.0 L371.1,1616.0 L371.4,1616.0 L371.7,1616.0 L372.0,1616.0 L372.4,1616.1 L372.7,1616.1 L373.0,1616.1 L373.3,1616.1 L373.6,1616.1 L373.9,1616.1 L374.2,1616.1 L374.5,1616.1 L374.8,1616.1 L375.1,1616.1 L375.4,1616.1 L375.7,1616.1 L376.0,1616.1 L376.3,1616.1 L376.6,1616.1 L376.9,1616.1 L377.3,1616.1 L377.6,1616.1 L377.9,1616.1 L378.2,1616.1 L378.5,1616.1 L378.8,1616.1 L379.1,1616.2 L379.4,1616.2 L379.7,1616.2 L380.0,1616.2 L380.3,1616.2 L380.6,1616.2 L380.9,1616.2 L381.2,1616.2 L381.5,1616.2 L381.8,1616.2 L382.2,1616.2 L382.5,1616.2 L382.8,1616.2 L383.1,1616.2 L383.4,1616.2 L383.7,1616.2 L384.0,1616.2 L384.3,1616.2 L384.6,1616.2 L384.9,1616.2 L385.2,1616.2 L385.5,1616.2 L385.8,1616.2 L386.1,1616.2 L386.4,1616.3 L386.7,1616.3 L387.0,1616.3 L387.4,1616.3 L387.7,1616.3 L388.0,1616.3 L388.3,1616.3 L388.6,1616.3 L388.9,1616.3 L389.2,1616.3 L389.5,1616.3 L389.8,1616.3 L390.1,1616.3 L390.4,1616.3 L390.7,1616.3 L391.0,1616.3 L391.3,1616.3 L391.6,1616.3 L391.9,1616.3 L392.3,1616.3 L392.6,1616.3 L392.9,1616.3 L393.2,1616.3 L393.5,1616.3 L393.8,1616.3 L394.1,1616.3 L394.4,1616.3 L394.7,1616.3 L395.0,1616.4 L395.3,1616.4 L395.6,1616.4 L395.9,1616.4 L396.2,1616.4 L396.5,1616.4 L396.8,1616.4 L397.2,1616.4 L397.5,1616.4 L397.8,1616.4 L398.1,1616.4 L398.4,1616.4 L398.7,1616.4 L399.0,1616.4 L399.3,1616.4 L399.6,1616.4 L399.9,1616.4 L400.2,1616.4 L400.5,1616.4 L400.8,1616.4 L401.1,1616.4 L401.4,1616.4 L401.7,1616.4 L402.1,1616.4 L402.4,1616.4 L402.7,1616.4 L403.0,1616.4 L403.3,1616.4 L403.6,1616.4 L403.9,1616.4 L404.2,1616.4 L404.5,1616.5 L404.8,1616.5 L405.1,1616.5 L405.4,1616.5 L405.7,1616.5 L406.0,1616.5 L406.3,1616.5 L406.6,1616.5 L406.9,1616.5 L407.3,1616.5 L407.6,1616.5 L407.9,1616.5 L408.2,1616.5 L408.5,1616.5 L408.8,1616.5 L409.1,1616.5 L409.4,1616.5 L409.7,1616.5 L410.0,1616.5 L410.3,1616.5 L410.6,1616.5 L410.9,1616.5 L411.2,1616.5 L411.5,1616.5 L411.8,1616.5 L412.2,1616.5 L412.5,1616.5 L412.8,1616.5 L413.1,1616.5 L413.4,1616.5 L413.7,1616.5 L414.0,1616.5 L414.3,1616.5 L414.6,1616.5 L414.9,1616.6 L415.2,1616.6 L415.5,1616.6 L415.8,1616.6 L416.1,1616.6 L416.4,1616.6 L416.7,1616.6 L417.1,1616.6 L417.4,1616.6 L417.7,1616.6 L418.0,1616.6 L418.3,1616.6 L418.6,1616.6 L418.9,1616.6 L419.2,1616.6 L419.5,1616.6 L419.8,1616.6 L420.1,1616.6 L420.4,1616.6 L420.7,1616.6 L421.0,1616.6 L421.3,1616.6 L421.6,1616.6 L422.0,1616.6 L422.3,1616.6 L422.6,1616.6 L422.9,1616.6 L423.2,1616.6 L423.5,1616.6 L423.8,1616.6 L424.1,1616.6 L424.4,1616.6 L424.7,1616.6 L425.0,1616.6 L425.3,1616.6 L425.6,1616.6 L425.9,1616.6 L426.2,1616.6 L426.5,1616.7 L426.8,1616.7 L427.2,1616.7 L427.5,1616.7 L427.8,1616.7 L428.1,1616.7 L428.4,1616.7 L428.7,1616.7 L429.0,1616.7 L429.3,1616.7 L429.6,1616.7 L429.9,1616.7 L430.2,1616.7 L430.5,1616.7 L430.8,1616.7 L431.1,1616.7 L431.4,1616.7 L431.7,1616.7 L432.1,1616.7 L432.4,1616.7 L432.7,1616.7 L433.0,1616.7 L433.3,1616.7 L433.6,1616.7 L433.9,1616.7 L434.2,1616.7 L434.5,1616.7 L434.8,1616.7 L435.1,1616.7 L435.4,1616.7 L435.7,1616.7 L436.0,1616.7 L436.3,1616.7 L436.6,1616.7 L437.0,1616.7 L437.3,1616.7 L437.6,1616.7 L437.9,1616.7 L438.2,1616.7 L438.5,1616.7 L438.8,1616.7 L439.1,1616.7 L439.4,1616.8 L439.7,1616.8 L440.0,1616.8 L440.3,1616.8 L440.6,1616.8 L440.9,1616.8 L441.2,1616.8 L441.5,1616.8 L441.9,1616.8 L442.2,1616.8 L442.5,1616.8 L442.8,1616.8 L443.1,1616.8 L443.4,1616.8 L443.7,1616.8 L444.0,1616.8 L444.3,1616.8 L444.6,1616.8 L444.9,1616.8 L445.2,1616.8 L445.5,1616.8 L445.8,1616.8 L446.1,1616.8 L446.4,1616.8 L446.7,1616.8 L447.1,1616.8 L447.4,1616.8 L447.7,1616.8 L448.0,1616.8 L448.3,1616.8 L448.6,1616.8 L448.9,1616.8 L449.2,1616.8 L449.5,1616.8 L449.8,1616.8 L450.1,1616.8 L450.4,1616.8 L450.7,1616.8 L451.0,1616.8 L451.3,1616.8 L451.6,1616.8 L452.0,1616.8 L452.3,1616.8 L452.6,1616.8 L452.9,1616.8 L453.2,1616.8 L453.5,1616.8 L453.8,1616.8 L454.1,1616.9 L454.4,1616.9 L454.7,1616.9 L455.0,1616.9 L455.3,1616.9 L455.6,1616.9 L455.9,1616.9 L456.2,1616.9 L456.5,1616.9 L456.9,1616.9 L457.2,1616.9 L457.5,1616.9 L457.8,1616.9 L458.1,1616.9 L458.4,1616.9 L458.7,1616.9 L459.0,1616.9 L459.3,1616.9 L459.6,1616.9 L459.9,1616.9 L460.2,1616.9 L460.5,1616.9 L460.8,1616.9 L461.1,1616.9 L461.4,1616.9 L461.8,1616.9 L462.1,1616.9 L462.4,1616.9 L462.7,1616.9 L463.0,1616.9 L463.3,1616.9 L463.6,1616.9 L463.9,1616.9 L464.2,1616.9 L464.5,1616.9 L464.8,1616.9 L465.1,1616.9 L465.4,1616.9 L465.7,1616.9 L466.0,1616.9 L466.3,1616.9 L466.6,1616.9 L467.0,1616.9 L467.3,1616.9 L467.6,1616.9 L467.9,1616.9 L468.2,1616.9 L468.5,1616.9 L468.8,1616.9 L469.1,1616.9 L469.4,1616.9 L469.7,1616.9 L470.0,1617.0 L470.3,1617.0 L470.6,1617.0 L470.9,1617.0 L471.2,1617.0 L471.5,1617.0 L471.9,1617.0 L472.2,1617.0 L472.5,1617.0 L472.8,1617.0 L473.1,1617.0 L473.4,1617.0 L473.7,1617.0 L474.0,1617.0 L474.3,1617.0 L474.6,1617.0 L474.9,1617.0 L475.2,1617.0 L475.5,1617.0 L475.8,1617.0 L476.1,1617.0 L476.4,1617.0 L476.8,1617.0 L477.1,1617.0 L477.4,1617.0 L477.7,1617.0 L478.0,1617.0 L478.3,1617.0 L478.6,1617.0 L478.9,1617.0 L479.2,1617.0 L479.5,1617.0 L479.8,1617.0 L480.1,1617.0 L480.4,1617.0 L480.7,1617.0 L481.0,1617.0 L481.3,1617.0 L481.7,1617.0 L482.0,1617.0 L482.3,1617.0 L482.6,1617.0 L482.9,1617.0 L483.2,1617.0 L483.5,1617.0 L483.8,1617.0 L484.1,1617.0 L484.4,1617.0 L484.7,1617.0 L485.0,1617.0 L485.3,1617.0 L485.6,1617.0 L485.9,1617.0 L486.2,1617.0 L486.6,1617.0 L486.9,1617.1 L487.2,1617.1 L487.5,1617.1 L487.8,1617.1 L488.1,1617.1 L488.4,1617.1 L488.7,1617.1 L489.0,1617.1 L489.3,1617.1 L489.6,1617.1 L489.9,1617.1 L490.2,1617.1 L490.5,1617.1 L490.8,1617.1 L491.1,1617.1 L491.4,1617.1 L491.8,1617.1 L492.1,1617.1 L492.4,1617.1 L492.7,1617.1 L493.0,1617.1 L493.3,1617.1 L493.6,1617.1 L493.9,1617.1 L494.2,1617.1 L494.5,1617.1 L494.8,1617.1 L495.1,1617.1 L495.4,1617.1 L495.7,1617.1 L496.0,1617.1 L496.3,1617.1 L496.7,1617.1 L497.0,1617.1 L497.3,1617.1 L497.6,1617.1 L497.9,1617.1 L498.2,1617.1 L498.5,1617.1 L498.8,1617.1 L499.1,1617.1 L499.4,1617.1 L499.7,1617.1 L500.0,1617.1 L500.3,1617.1 L500.6,1617.1 L500.9,1617.1 L501.2,1617.1 L501.6,1617.1 L501.9,1617.1 L502.2,1617.1 L502.5,1617.1 L502.8,1617.1 L503.1,1617.1 L503.4,1617.1 L503.7,1617.1 L504.0,1617.2 L504.3,1617.2 L504.6,1617.2 L504.9,1617.2 L505.2,1617.2 L505.5,1617.2 L505.8,1617.2 L506.1,1617.2 L506.5,1617.2 L506.8,1617.2 L507.1,1617.2 L507.4,1617.2 L507.7,1617.2 L508.0,1617.2 L508.3,1617.2 L508.6,1617.2 L508.9,1617.2 L509.2,1617.2 L509.5,1617.2 L509.8,1617.2 L510.1,1617.2 L510.4,1617.2 L510.7,1617.2 L511.0,1617.2 L511.3,1617.2 L511.7,1617.2 L512.0,1617.2 L512.3,1617.2 L512.6,1617.2 L512.9,1617.2 L513.2,1617.2 L513.5,1617.2 L513.8,1617.2 L514.1,1617.2 L514.4,1617.2 L514.7,1617.2 L515.0,1617.2 L515.3,1617.2 L515.6,1617.2 L515.9,1617.2 L516.2,1617.2 L516.6,1617.2 L516.9,1617.2 L517.2,1617.2 L517.5,1617.2 L517.8,1617.2 L518.1,1617.2 L518.4,1617.2 L518.7,1617.2 L519.0,1617.2 L519.3,1617.2 L519.6,1617.2 L519.9,1617.2 L520.2,1617.2 L520.5,1617.2 L520.8,1617.2 L521.1,1617.3 L521.5,1617.3 L521.8,1617.3 L522.1,1617.3 L522.4,1617.3 L522.7,1617.3 L523.0,1617.3 L523.3,1617.3 L523.6,1617.3 L523.9,1617.3 L524.2,1617.3 L524.5,1617.3 L524.8,1617.3 L525.1,1617.3 L525.4,1617.3 L525.7,1617.3 L526.0,1617.3 L526.4,1617.3 L526.7,1617.3 L527.0,1617.3 L527.3,1617.3 L527.6,1617.3 L527.9,1617.3 L528.2,1617.3 L528.5,1617.3 L528.8,1617.3 L529.1,1617.3 L529.4,1617.3 L529.7,1617.3 L530.0,1617.3 L530.3,1617.3 L530.6,1617.3 L530.9,1617.3 L531.2,1617.3 L531.6,1617.3 L531.9,1617.3 L532.2,1617.3 L532.5,1617.3 L532.8,1617.3 L533.1,1617.3 L533.4,1617.3 L533.7,1617.3 L534.0,1617.3 L534.3,1617.3 L534.6,1617.3 L534.9,1617.3 L535.2,1617.3 L535.5,1617.3 L535.8,1617.3 L536.1,1617.3 L536.5,1617.3 L536.8,1617.3 L537.1,1617.3 L537.4,1617.3 L537.7,1617.3 L538.0,1617.3 L538.3,1617.3 L538.6,1617.4 L538.9,1617.4 L539.2,1617.4 L539.5,1617.4 L539.8,1617.4 L540.1,1617.4 L540.4,1617.4 L540.7,1617.4 L541.0,1617.4 L541.4,1617.4 L541.7,1617.4 L542.0,1617.4 L542.3,1617.4 L542.6,1617.4 L542.9,1617.4 L543.2,1617.4 L543.5,1617.4 L543.8,1617.4 L544.1,1617.4 L544.4,1617.4 L544.7,1617.4 L545.0,1617.4 L545.3,1617.4 L545.6,1617.4 L545.9,1617.4 L546.3,1617.4 L546.6,1617.4 L546.9,1617.4 L547.2,1617.4 L547.5,1617.4 L547.8,1617.4 L548.1,1617.4 L548.4,1617.4 L548.7,1617.4 L549.0,1617.4 L549.3,1617.4 L549.6,1617.4 L549.9,1617.4 L550.2,1617.4 L550.5,1617.4 L550.8,1617.4 L551.1,1617.4 L551.5,1617.4 L551.8,1617.4 L552.1,1617.4 L552.4,1617.4 L552.7,1617.4 L553.0,1617.4 L553.3,1617.4 L553.6,1617.4 L553.9,1617.4 L554.2,1617.4 L554.5,1617.4 L554.8,1617.4 L555.1,1617.4 L555.4,1617.4 L555.7,1617.4 L556.0,1617.4 L556.4,1617.4 L556.7,1617.4 L557.0,1617.5 L557.3,1617.5 L557.6,1617.5 L557.9,1617.5 L558.2,1617.5 L558.5,1617.5 L558.8,1617.5 L559.1,1617.5 L559.4,1617.5 L559.7,1617.5 L560.0,1617.5 L560.3,1617.5 L560.6,1617.5 L560.9,1617.5 L561.3,1617.5 L561.6,1617.5 L561.9,1617.5 L562.2,1617.5 L562.5,1617.5 L562.8,1617.5 L563.1,1617.5 L563.4,1617.5 L563.7,1617.5 L564.0,1617.5 L564.3,1617.5 L564.6,1617.5 L564.9,1617.5 L565.2,1617.5 L565.5,1617.5 L565.8,1617.5 L566.2,1617.5 L566.5,1617.5 L566.8,1617.5 L567.1,1617.5 L567.4,1617.5 L567.7,1617.5 L568.0,1617.5 L568.3,1617.5 L568.6,1617.5 L568.9,1617.5 L569.2,1617.5 L569.5,1617.5 L569.8,1617.5 L570.1,1617.5 L570.4,1617.5 L570.7,1617.5 L571.0,1617.5 L571.4,1617.5 L571.7,1617.5 L572.0,1617.5 L572.3,1617.5 L572.6,1617.5 L572.9,1617.5 L573.2,1617.5 L573.5,1617.5 L573.8,1617.5 L574.1,1617.5 L574.4,1617.5 L574.7,1617.5 L575.0,1617.5 L575.3,1617.5 L575.6,1617.5 L575.9,1617.5 L576.3,1617.6 L576.6,1617.6 L576.9,1617.6 L577.2,1617.6 L577.5,1617.6 L577.8,1617.6 L578.1,1617.6 L578.4,1617.6 L578.7,1617.6 L579.0,1617.6 L579.3,1617.6 L579.6,1617.6 L579.9,1617.6 L580.2,1617.6 L580.5,1617.6 L580.8,1617.6 L581.2,1617.6 L581.5,1617.6 L581.8,1617.6 L582.1,1617.6 L582.4,1617.6 L582.7,1617.6 L583.0,1617.6 L583.3,1617.6 L583.6,1617.6 L583.9,1617.6 L584.2,1617.6 L584.5,1617.6 L584.8,1617.6 L585.1,1617.6 L585.4,1617.6 L585.7,1617.6 L586.1,1617.6 L586.4,1617.6 L586.7,1617.6 L587.0,1617.6 L587.3,1617.6 L587.6,1617.6 L587.9,1617.6 L588.2,1617.6 L588.5,1617.6 L588.8,1617.6 L589.1,1617.6 L589.4,1617.6 L589.7,1617.6 L590.0,1617.6 L590.3,1617.6 L590.6,1617.6 L591.0,1617.6 L591.3,1617.6 L591.6,1617.6 L591.9,1617.6 L592.2,1617.6 L592.5,1617.6 L592.8,1617.6 L593.1,1617.6 L593.4,1617.6 L593.7,1617.6 L594.0,1617.6 L594.3,1617.6 L594.6,1617.6 L594.9,1617.6 L595.2,1617.6 L595.5,1617.6 L595.8,1617.6 L596.2,1617.6 L596.5,1617.6 L596.8,1617.6 L597.1,1617.6 L597.4,1617.7 L597.7,1617.7 L598.0,1617.7 L598.3,1617.7 L598.6,1617.7 L598.9,1617.7 L599.2,1617.7 L599.5,1617.7 L599.8,1617.7 L600.1,1617.7 L600.4,1617.7 L600.7,1617.7 L601.1,1617.7 L601.4,1617.7 L601.7,1617.7 L602.0,1617.7 L602.3,1617.7 L602.6,1617.7 L602.9,1617.7 L603.2,1617.7 L603.5,1617.7 L603.8,1617.7 L604.1,1617.7 L604.4,1617.7 L604.7,1617.7 L605.0,1617.7 L605.3,1617.7 L605.6,1617.7 L606.0,1617.7 L606.3,1617.7 L606.6,1617.7 L606.9,1617.7 L607.2,1617.7 L607.5,1617.7 L607.8,1617.7 L608.1,1617.7 L608.4,1617.7 L608.7,1617.7 L609.0,1617.7 L609.3,1617.7 L609.6,1617.7 L609.9,1617.7 L610.2,1617.7 L610.5,1617.7 L610.9,1617.7 L611.2,1617.7 L611.5,1617.7 L611.8,1617.7 L612.1,1617.7 L612.4,1617.7 L612.7,1617.7 L613.0,1617.7 L613.3,1617.7 L613.6,1617.7 L613.9,1617.7 L614.2,1617.7 L614.5,1617.7 L614.8,1617.7 L615.1,1617.7 L615.4,1617.7 L615.7,1617.7 L616.1,1617.7 L616.4,1617.7 L616.7,1617.7 L617.0,1617.7 L617.3,1617.7 L617.6,1617.7 L617.9,1617.7 L618.2,1617.7 L618.5,1617.7 L618.8,1617.7 L619.1,1617.7 L619.4,1617.7 L619.7,1617.7 L620.0,1617.7 L620.3,1617.7 L620.6,1617.8 L621.0,1617.8 L621.3,1617.8 L621.6,1617.8 L621.9,1617.8 L622.2,1617.8 L622.5,1617.8 L622.8,1617.8 L623.1,1617.8 L623.4,1617.8 L623.7,1617.8 L624.0,1617.8 L624.3,1617.8 L624.6,1617.8 L624.9,1617.8 L625.2,1617.8 L625.5,1617.8 L625.9,1617.8 L626.2,1617.8 L626.5,1617.8 L626.8,1617.8 L627.1,1617.8 L627.4,1617.8 L627.7,1617.8 L628.0,1617.8 L628.3,1617.8 L628.6,1617.8 L628.9,1617.8 L629.2,1617.8 L629.5,1617.8 L629.8,1617.8 L630.1,1617.8 L630.4,1617.8 L630.8,1617.8 L631.1,1617.8 L631.4,1617.8 L631.7,1617.8 L632.0,1617.8 L632.3,1617.8 L632.6,1617.8 L632.9,1617.8 L633.2,1617.8 L633.2,1617.8 L159.3,1617.8 Z" fill="url(#gg_gray)" stroke="none" />
<path d="M126.5,1617.8 L126.8,1614.3 L127.1,1610.4 L127.4,1606.1 L127.7,1601.3 L128.0,1596.1 L128.3,1590.1 L128.6,1583.1 L128.9,1575.4 L129.2,1567.2 L129.5,1558.6 L129.8,1549.9 L130.1,1541.2 L130.4,1532.7 L130.7,1524.6 L131.1,1517.1 L131.4,1510.3 L131.7,1504.2 L132.0,1498.4 L132.3,1492.9 L132.6,1487.6 L132.9,1482.6 L133.2,1477.7 L133.5,1472.9 L133.8,1468.2 L134.1,1463.6 L134.4,1458.9 L134.7,1454.2 L135.0,1449.5 L135.3,1444.6 L135.6,1439.6 L135.9,1434.4 L136.3,1428.9 L136.6,1423.2 L136.9,1417.2 L137.2,1410.5 L137.5,1403.5 L137.8,1396.2 L138.1,1388.8 L138.4,1381.6 L138.7,1374.6 L139.0,1368.1 L139.3,1361.8 L139.6,1355.6 L139.9,1349.5 L140.2,1343.6 L140.5,1338.0 L140.8,1332.7 L141.2,1327.7 L141.5,1323.0 L141.8,1318.4 L142.1,1314.0 L142.4,1309.9 L142.7,1306.0 L143.0,1302.3 L143.3,1298.1 L143.6,1294.0 L143.9,1290.6 L144.2,1288.7 L144.5,1288.7 L144.8,1289.4 L145.1,1290.8 L145.4,1292.7 L145.7,1294.9 L146.0,1297.4 L146.4,1300.0 L146.7,1302.7 L147.0,1305.4 L147.3,1308.5 L147.6,1312.0 L147.9,1315.9 L148.2,1320.3 L148.5,1325.3 L148.8,1330.9 L149.1,1338.0 L149.4,1346.7 L149.7,1356.5 L150.0,1366.9 L150.3,1378.3 L150.6,1390.9 L150.9,1404.5 L151.2,1418.8 L151.6,1433.6 L151.9,1448.7 L152.2,1463.9 L152.5,1479.1 L152.8,1495.1 L153.1,1511.6 L153.4,1528.3 L153.7,1544.9 L154.0,1561.5 L154.3,1578.1 L154.6,1594.9" fill="none" stroke="#555" stroke-width="3" stroke-linejoin="round" stroke-linecap="butt" />
<path d="M159.3,1594.9 L159.6,1308.2 L159.9,1160.5 L160.2,1160.5 L160.5,1160.5 L160.8,1160.5 L161.1,1160.5 L161.4,1160.5 L161.7,1283.1 L162.0,1438.9 L162.3,1487.0 L162.6,1520.3 L162.9,1538.6 L163.2,1544.2 L163.6,1547.7 L163.9,1550.4 L164.2,1552.5 L164.5,1554.2 L164.8,1555.6 L165.1,1556.9 L165.4,1558.4 L165.7,1559.8 L166.0,1561.2 L166.3,1562.6 L166.6,1563.8 L166.9,1565.0 L167.2,1566.1 L167.5,1567.2 L167.8,1568.3 L168.1,1569.3 L168.5,1570.3 L168.8,1571.2 L169.1,1572.1 L169.4,1573.1 L169.7,1574.0 L170.0,1574.9 L170.3,1575.9 L170.6,1576.8 L170.9,1577.8 L171.2,1578.7 L171.5,1579.6 L171.8,1580.5 L172.1,1581.4 L172.4,1582.3 L172.7,1583.1 L173.0,1583.9 L173.4,1584.7 L173.7,1585.4 L174.0,1586.1 L174.3,1586.7 L174.6,1587.3 L174.9,1587.9 L175.2,1588.4 L175.5,1588.9 L175.8,1589.4 L176.1,1589.9 L176.4,1590.4 L176.7,1590.9 L177.0,1591.3 L177.3,1591.8 L177.6,1592.2 L177.9,1592.6 L178.2,1593.0 L178.6,1593.4 L178.9,1593.8 L179.2,1594.1 L179.5,1594.5 L179.8,1594.8 L180.1,1595.1 L180.4,1595.4 L180.7,1595.7 L181.0,1596.0 L181.3,1596.3 L181.6,1596.5 L181.9,1596.8 L182.2,1597.0 L182.5,1597.2 L182.8,1597.5 L183.1,1597.7 L183.5,1597.9 L183.8,1598.2 L184.1,1598.4 L184.4,1598.6 L184.7,1598.8 L185.0,1599.0 L185.3,1599.2 L185.6,1599.4 L185.9,1599.5 L186.2,1599.7 L186.5,1599.9 L186.8,1600.1 L187.1,1600.2 L187.4,1600.4 L187.7,1600.6 L188.0,1600.7 L188.4,1600.8 L188.7,1601.0 L189.0,1601.1 L189.3,1601.3 L189.6,1601.4 L189.9,1601.5 L190.2,1601.6 L190.5,1601.7 L190.8,1601.8 L191.1,1601.9 L191.4,1602.0 L191.7,1602.1 L192.0,1602.2 L192.3,1602.3 L192.6,1602.4 L192.9,1602.5 L193.3,1602.6 L193.6,1602.7 L193.9,1602.8 L194.2,1602.9 L194.5,1603.0 L194.8,1603.1 L195.1,1603.2 L195.4,1603.2 L195.7,1603.3 L196.0,1603.4 L196.3,1603.5 L196.6,1603.6 L196.9,1603.7 L197.2,1603.8 L197.5,1603.9 L197.8,1603.9 L198.1,1604.0 L198.5,1604.1 L198.8,1604.2 L199.1,1604.3 L199.4,1604.3 L199.7,1604.4 L200.0,1604.5 L200.3,1604.6 L200.6,1604.6 L200.9,1604.7 L201.2,1604.8 L201.5,1604.9 L201.8,1604.9 L202.1,1605.0 L202.4,1605.1 L202.7,1605.2 L203.0,1605.2 L203.4,1605.3 L203.7,1605.4 L204.0,1605.4 L204.3,1605.5 L204.6,1605.6 L204.9,1605.6 L205.2,1605.7 L205.5,1605.8 L205.8,1605.8 L206.1,1605.9 L206.4,1606.0 L206.7,1606.0 L207.0,1606.1 L207.3,1606.1 L207.6,1606.2 L207.9,1606.3 L208.3,1606.3 L208.6,1606.4 L208.9,1606.4 L209.2,1606.5 L209.5,1606.6 L209.8,1606.6 L210.1,1606.7 L210.4,1606.7 L210.7,1606.8 L211.0,1606.8 L211.3,1606.9 L211.6,1606.9 L211.9,1607.0 L212.2,1607.0 L212.5,1607.1 L212.8,1607.2 L213.2,1607.2 L213.5,1607.3 L213.8,1607.3 L214.1,1607.4 L214.4,1607.4 L214.7,1607.4 L215.0,1607.5 L215.3,1607.5 L215.6,1607.6 L215.9,1607.6 L216.2,1607.7 L216.5,1607.7 L216.8,1607.8 L217.1,1607.8 L217.4,1607.9 L217.7,1607.9 L218.0,1608.0 L218.4,1608.0 L218.7,1608.0 L219.0,1608.1 L219.3,1608.1 L219.6,1608.2 L219.9,1608.2 L220.2,1608.2 L220.5,1608.3 L220.8,1608.3 L221.1,1608.4 L221.4,1608.4 L221.7,1608.4 L222.0,1608.5 L222.3,1608.5 L222.6,1608.6 L222.9,1608.6 L223.3,1608.6 L223.6,1608.7 L223.9,1608.7 L224.2,1608.7 L224.5,1608.8 L224.8,1608.8 L225.1,1608.9 L225.4,1608.9 L225.7,1608.9 L226.0,1609.0 L226.3,1609.0 L226.6,1609.0 L226.9,1609.1 L227.2,1609.1 L227.5,1609.1 L227.8,1609.2 L228.2,1609.2 L228.5,1609.2 L228.8,1609.3 L229.1,1609.3 L229.4,1609.3 L229.7,1609.4 L230.0,1609.4 L230.3,1609.4 L230.6,1609.4 L230.9,1609.5 L231.2,1609.5 L231.5,1609.5 L231.8,1609.6 L232.1,1609.6 L232.4,1609.6 L232.7,1609.7 L233.1,1609.7 L233.4,1609.7 L233.7,1609.7 L234.0,1609.8 L234.3,1609.8 L234.6,1609.8 L234.9,1609.9 L235.2,1609.9 L235.5,1609.9 L235.8,1609.9 L236.1,1610.0 L236.4,1610.0 L236.7,1610.0 L237.0,1610.1 L237.3,1610.1 L237.6,1610.1 L237.9,1610.1 L238.3,1610.2 L238.6,1610.2 L238.9,1610.2 L239.2,1610.2 L239.5,1610.3 L239.8,1610.3 L240.1,1610.3 L240.4,1610.3 L240.7,1610.4 L241.0,1610.4 L241.3,1610.4 L241.6,1610.4 L241.9,1610.5 L242.2,1610.5 L242.5,1610.5 L242.8,1610.5 L243.2,1610.6 L243.5,1610.6 L243.8,1610.6 L244.1,1610.6 L244.4,1610.6 L244.7,1610.7 L245.0,1610.7 L245.3,1610.7 L245.6,1610.7 L245.9,1610.8 L246.2,1610.8 L246.5,1610.8 L246.8,1610.8 L247.1,1610.9 L247.4,1610.9 L247.7,1610.9 L248.1,1610.9 L248.4,1610.9 L248.7,1611.0 L249.0,1611.0 L249.3,1611.0 L249.6,1611.0 L249.9,1611.0 L250.2,1611.1 L250.5,1611.1 L250.8,1611.1 L251.1,1611.1 L251.4,1611.2 L251.7,1611.2 L252.0,1611.2 L252.3,1611.2 L252.6,1611.2 L253.0,1611.3 L253.3,1611.3 L253.6,1611.3 L253.9,1611.3 L254.2,1611.3 L254.5,1611.4 L254.8,1611.4 L255.1,1611.4 L255.4,1611.4 L255.7,1611.4 L256.0,1611.5 L256.3,1611.5 L256.6,1611.5 L256.9,1611.5 L257.2,1611.5 L257.5,1611.6 L257.9,1611.6 L258.2,1611.6 L258.5,1611.6 L258.8,1611.6 L259.1,1611.7 L259.4,1611.7 L259.7,1611.7 L260.0,1611.7 L260.3,1611.7 L260.6,1611.8 L260.9,1611.8 L261.2,1611.8 L261.5,1611.8 L261.8,1611.8 L262.1,1611.9 L262.4,1611.9 L262.7,1611.9 L263.1,1611.9 L263.4,1611.9 L263.7,1611.9 L264.0,1612.0 L264.3,1612.0 L264.6,1612.0 L264.9,1612.0 L265.2,1612.0 L265.5,1612.1 L265.8,1612.1 L266.1,1612.1 L266.4,1612.1 L266.7,1612.1 L267.0,1612.2 L267.3,1612.2 L267.6,1612.2 L268.0,1612.2 L268.3,1612.2 L268.6,1612.3 L268.9,1612.3 L269.2,1612.3 L269.5,1612.3 L269.8,1612.3 L270.1,1612.4 L270.4,1612.4 L270.7,1612.4 L271.0,1612.4 L271.3,1612.5 L271.6,1612.5 L271.9,1612.5 L272.2,1612.5 L272.5,1612.5 L272.9,1612.6 L273.2,1612.6 L273.5,1612.6 L273.8,1612.6 L274.1,1612.6 L274.4,1612.7 L274.7,1612.7 L275.0,1612.7 L275.3,1612.7 L275.6,1612.7 L275.9,1612.8 L276.2,1612.8 L276.5,1612.8 L276.8,1612.8 L277.1,1612.9 L277.4,1612.9 L277.8,1612.9 L278.1,1612.9 L278.4,1612.9 L278.7,1613.0 L279.0,1613.0 L279.3,1613.0 L279.6,1613.0 L279.9,1613.0 L280.2,1613.1 L280.5,1613.1 L280.8,1613.1 L281.1,1613.1 L281.4,1613.2 L281.7,1613.2 L282.0,1613.2 L282.3,1613.2 L282.6,1613.2 L283.0,1613.3 L283.3,1613.3 L283.6,1613.3 L283.9,1613.3 L284.2,1613.3 L284.5,1613.4 L284.8,1613.4 L285.1,1613.4 L285.4,1613.4 L285.7,1613.4 L286.0,1613.5 L286.3,1613.5 L286.6,1613.5 L286.9,1613.5 L287.2,1613.5 L287.5,1613.6 L287.9,1613.6 L288.2,1613.6 L288.5,1613.6 L288.8,1613.6 L289.1,1613.6 L289.4,1613.7 L289.7,1613.7 L290.0,1613.7 L290.3,1613.7 L290.6,1613.7 L290.9,1613.7 L291.2,1613.8 L291.5,1613.8 L291.8,1613.8 L292.1,1613.8 L292.4,1613.8 L292.8,1613.8 L293.1,1613.9 L293.4,1613.9 L293.7,1613.9 L294.0,1613.9 L294.3,1613.9 L294.6,1613.9 L294.9,1613.9 L295.2,1613.9 L295.5,1614.0 L295.8,1614.0 L296.1,1614.0 L296.4,1614.0 L296.7,1614.0 L297.0,1614.0 L297.3,1614.0 L297.7,1614.0 L298.0,1614.1 L298.3,1614.1 L298.6,1614.1 L298.9,1614.1 L299.2,1614.1 L299.5,1614.1 L299.8,1614.1 L300.1,1614.1 L300.4,1614.1 L300.7,1614.2 L301.0,1614.2 L301.3,1614.2 L301.6,1614.2 L301.9,1614.2 L302.2,1614.2 L302.5,1614.2 L302.9,1614.2 L303.2,1614.2 L303.5,1614.3 L303.8,1614.3 L304.1,1614.3 L304.4,1614.3 L304.7,1614.3 L305.0,1614.3 L305.3,1614.3 L305.6,1614.3 L305.9,1614.3 L306.2,1614.4 L306.5,1614.4 L306.8,1614.4 L307.1,1614.4 L307.4,1614.4 L307.8,1614.4 L308.1,1614.4 L308.4,1614.4 L308.7,1614.4 L309.0,1614.5 L309.3,1614.5 L309.6,1614.5 L309.9,1614.5 L310.2,1614.5 L310.5,1614.5 L310.8,1614.5 L311.1,1614.5 L311.4,1614.5 L311.7,1614.5 L312.0,1614.6 L312.3,1614.6 L312.7,1614.6 L313.0,1614.6 L313.3,1614.6 L313.6,1614.6 L313.9,1614.6 L314.2,1614.6 L314.5,1614.6 L314.8,1614.7 L315.1,1614.7 L315.4,1614.7 L315.7,1614.7 L316.0,1614.7 L316.3,1614.7 L316.6,1614.7 L316.9,1614.7 L317.2,1614.7 L317.6,1614.7 L317.9,1614.8 L318.2,1614.8 L318.5,1614.8 L318.8,1614.8 L319.1,1614.8 L319.4,1614.8 L319.7,1614.8 L320.0,1614.8 L320.3,1614.8 L320.6,1614.8 L320.9,1614.8 L321.2,1614.9 L321.5,1614.9 L321.8,1614.9 L322.1,1614.9 L322.4,1614.9 L322.8,1614.9 L323.1,1614.9 L323.4,1614.9 L323.7,1614.9 L324.0,1614.9 L324.3,1614.9 L324.6,1615.0 L324.9,1615.0 L325.2,1615.0 L325.5,1615.0 L325.8,1615.0 L326.1,1615.0 L326.4,1615.0 L326.7,1615.0 L327.0,1615.0 L327.3,1615.0 L327.7,1615.0 L328.0,1615.1 L328.3,1615.1 L328.6,1615.1 L328.9,1615.1 L329.2,1615.1 L329.5,1615.1 L329.8,1615.1 L330.1,1615.1 L330.4,1615.1 L330.7,1615.1 L331.0,1615.1 L331.3,1615.2 L331.6,1615.2 L331.9,1615.2 L332.2,1615.2 L332.6,1615.2 L332.9,1615.2 L333.2,1615.2 L333.5,1615.2 L333.8,1615.2 L334.1,1615.2 L334.4,1615.2 L334.7,1615.2 L335.0,1615.3 L335.3,1615.3 L335.6,1615.3 L335.9,1615.3 L336.2,1615.3 L336.5,1615.3 L336.8,1615.3 L337.1,1615.3 L337.5,1615.3 L337.8,1615.3 L338.1,1615.3 L338.4,1615.3 L338.7,1615.3 L339.0,1615.4 L339.3,1615.4 L339.6,1615.4 L339.9,1615.4 L340.2,1615.4 L340.5,1615.4 L340.8,1615.4 L341.1,1615.4 L341.4,1615.4 L341.7,1615.4 L342.0,1615.4 L342.3,1615.4 L342.7,1615.4 L343.0,1615.5 L343.3,1615.5 L343.6,1615.5 L343.9,1615.5 L344.2,1615.5 L344.5,1615.5 L344.8,1615.5 L345.1,1615.5 L345.4,1615.5 L345.7,1615.5 L346.0,1615.5 L346.3,1615.5 L346.6,1615.5 L346.9,1615.6 L347.2,1615.6 L347.6,1615.6 L347.9,1615.6 L348.2,1615.6 L348.5,1615.6 L348.8,1615.6 L349.1,1615.6 L349.4,1615.6 L349.7,1615.6 L350.0,1615.6 L350.3,1615.6 L350.6,1615.6 L350.9,1615.6 L351.2,1615.6 L351.5,1615.7 L351.8,1615.7 L352.1,1615.7 L352.5,1615.7 L352.8,1615.7 L353.1,1615.7 L353.4,1615.7 L353.7,1615.7 L354.0,1615.7 L354.3,1615.7 L354.6,1615.7 L354.9,1615.7 L355.2,1615.7 L355.5,1615.7 L355.8,1615.7 L356.1,1615.8 L356.4,1615.8 L356.7,1615.8 L357.0,1615.8 L357.4,1615.8 L357.7,1615.8 L358.0,1615.8 L358.3,1615.8 L358.6,1615.8 L358.9,1615.8 L359.2,1615.8 L359.5,1615.8 L359.8,1615.8 L360.1,1615.8 L360.4,1615.8 L360.7,1615.8 L361.0,1615.9 L361.3,1615.9 L361.6,1615.9 L361.9,1615.9 L362.3,1615.9 L362.6,1615.9 L362.9,1615.9 L363.2,1615.9 L363.5,1615.9 L363.8,1615.9 L364.1,1615.9 L364.4,1615.9 L364.7,1615.9 L365.0,1615.9 L365.3,1615.9 L365.6,1615.9 L365.9,1615.9 L366.2,1615.9 L366.5,1616.0 L366.8,1616.0 L367.1,1616.0 L367.5,1616.0 L367.8,1616.0 L368.1,1616.0 L368.4,1616.0 L368.7,1616.0 L369.0,1616.0 L369.3,1616.0 L369.6,1616.0 L369.9,1616.0 L370.2,1616.0 L370.5,1616.0 L370.8,1616.0 L371.1,1616.0 L371.4,1616.0 L371.7,1616.0 L372.0,1616.0 L372.4,1616.1 L372.7,1616.1 L373.0,1616.1 L373.3,1616.1 L373.6,1616.1 L373.9,1616.1 L374.2,1616.1 L374.5,1616.1 L374.8,1616.1 L375.1,1616.1 L375.4,1616.1 L375.7,1616.1 L376.0,1616.1 L376.3,1616.1 L376.6,1616.1 L376.9,1616.1 L377.3,1616.1 L377.6,1616.1 L377.9,1616.1 L378.2,1616.1 L378.5,1616.1 L378.8,1616.1 L379.1,1616.2 L379.4,1616.2 L379.7,1616.2 L380.0,1616.2 L380.3,1616.2 L380.6,1616.2 L380.9,1616.2 L381.2,1616.2 L381.5,1616.2 L381.8,1616.2 L382.2,1616.2 L382.5,1616.2 L382.8,1616.2 L383.1,1616.2 L383.4,1616.2 L383.7,1616.2 L384.0,1616.2 L384.3,1616.2 L384.6,1616.2 L384.9,1616.2 L385.2,1616.2 L385.5,1616.2 L385.8,1616.2 L386.1,1616.2 L386.4,1616.3 L386.7,1616.3 L387.0,1616.3 L387.4,1616.3 L387.7,1616.3 L388.0,1616.3 L388.3,1616.3 L388.6,1616.3 L388.9,1616.3 L389.2,1616.3 L389.5,1616.3 L389.8,1616.3 L390.1,1616.3 L390.4,1616.3 L390.7,1616.3 L391.0,1616.3 L391.3,1616.3 L391.6,1616.3 L391.9,1616.3 L392.3,1616.3 L392.6,1616.3 L392.9,1616.3 L393.2,1616.3 L393.5,1616.3 L393.8,1616.3 L394.1,1616.3 L394.4,1616.3 L394.7,1616.3 L395.0,1616.4 L395.3,1616.4 L395.6,1616.4 L395.9,1616.4 L396.2,1616.4 L396.5,1616.4 L396.8,1616.4 L397.2,1616.4 L397.5,1616.4 L397.8,1616.4 L398.1,1616.4 L398.4,1616.4 L398.7,1616.4 L399.0,1616.4 L399.3,1616.4 L399.6,1616.4 L399.9,1616.4 L400.2,1616.4 L400.5,1616.4 L400.8,1616.4 L401.1,1616.4 L401.4,1616.4 L401.7,1616.4 L402.1,1616.4 L402.4,1616.4 L402.7,1616.4 L403.0,1616.4 L403.3,1616.4 L403.6,1616.4 L403.9,1616.4 L404.2,1616.4 L404.5,1616.5 L404.8,1616.5 L405.1,1616.5 L405.4,1616.5 L405.7,1616.5 L406.0,1616.5 L406.3,1616.5 L406.6,1616.5 L406.9,1616.5 L407.3,1616.5 L407.6,1616.5 L407.9,1616.5 L408.2,1616.5 L408.5,1616.5 L408.8,1616.5 L409.1,1616.5 L409.4,1616.5 L409.7,1616.5 L410.0,1616.5 L410.3,1616.5 L410.6,1616.5 L410.9,1616.5 L411.2,1616.5 L411.5,1616.5 L411.8,1616.5 L412.2,1616.5 L412.5,1616.5 L412.8,1616.5 L413.1,1616.5 L413.4,1616.5 L413.7,1616.5 L414.0,1616.5 L414.3,1616.5 L414.6,1616.5 L414.9,1616.6 L415.2,1616.6 L415.5,1616.6 L415.8,1616.6 L416.1,1616.6 L416.4,1616.6 L416.7,1616.6 L417.1,1616.6 L417.4,1616.6 L417.7,1616.6 L418.0,1616.6 L418.3,1616.6 L418.6,1616.6 L418.9,1616.6 L419.2,1616.6 L419.5,1616.6 L419.8,1616.6 L420.1,1616.6 L420.4,1616.6 L420.7,1616.6 L421.0,1616.6 L421.3,1616.6 L421.6,1616.6 L422.0,1616.6 L422.3,1616.6 L422.6,1616.6 L422.9,1616.6 L423.2,1616.6 L423.5,1616.6 L423.8,1616.6 L424.1,1616.6 L424.4,1616.6 L424.7,1616.6 L425.0,1616.6 L425.3,1616.6 L425.6,1616.6 L425.9,1616.6 L426.2,1616.6 L426.5,1616.7 L426.8,1616.7 L427.2,1616.7 L427.5,1616.7 L427.8,1616.7 L428.1,1616.7 L428.4,1616.7 L428.7,1616.7 L429.0,1616.7 L429.3,1616.7 L429.6,1616.7 L429.9,1616.7 L430.2,1616.7 L430.5,1616.7 L430.8,1616.7 L431.1,1616.7 L431.4,1616.7 L431.7,1616.7 L432.1,1616.7 L432.4,1616.7 L432.7,1616.7 L433.0,1616.7 L433.3,1616.7 L433.6,1616.7 L433.9,1616.7 L434.2,1616.7 L434.5,1616.7 L434.8,1616.7 L435.1,1616.7 L435.4,1616.7 L435.7,1616.7 L436.0,1616.7 L436.3,1616.7 L436.6,1616.7 L437.0,1616.7 L437.3,1616.7 L437.6,1616.7 L437.9,1616.7 L438.2,1616.7 L438.5,1616.7 L438.8,1616.7 L439.1,1616.7 L439.4,1616.8 L439.7,1616.8 L440.0,1616.8 L440.3,1616.8 L440.6,1616.8 L440.9,1616.8 L441.2,1616.8 L441.5,1616.8 L441.9,1616.8 L442.2,1616.8 L442.5,1616.8 L442.8,1616.8 L443.1,1616.8 L443.4,1616.8 L443.7,1616.8 L444.0,1616.8 L444.3,1616.8 L444.6,1616.8 L444.9,1616.8 L445.2,1616.8 L445.5,1616.8 L445.8,1616.8 L446.1,1616.8 L446.4,1616.8 L446.7,1616.8 L447.1,1616.8 L447.4,1616.8 L447.7,1616.8 L448.0,1616.8 L448.3,1616.8 L448.6,1616.8 L448.9,1616.8 L449.2,1616.8 L449.5,1616.8 L449.8,1616.8 L450.1,1616.8 L450.4,1616.8 L450.7,1616.8 L451.0,1616.8 L451.3,1616.8 L451.6,1616.8 L452.0,1616.8 L452.3,1616.8 L452.6,1616.8 L452.9,1616.8 L453.2,1616.8 L453.5,1616.8 L453.8,1616.8 L454.1,1616.9 L454.4,1616.9 L454.7,1616.9 L455.0,1616.9 L455.3,1616.9 L455.6,1616.9 L455.9,1616.9 L456.2,1616.9 L456.5,1616.9 L456.9,1616.9 L457.2,1616.9 L457.5,1616.9 L457.8,1616.9 L458.1,1616.9 L458.4,1616.9 L458.7,1616.9 L459.0,1616.9 L459.3,1616.9 L459.6,1616.9 L459.9,1616.9 L460.2,1616.9 L460.5,1616.9 L460.8,1616.9 L461.1,1616.9 L461.4,1616.9 L461.8,1616.9 L462.1,1616.9 L462.4,1616.9 L462.7,1616.9 L463.0,1616.9 L463.3,1616.9 L463.6,1616.9 L463.9,1616.9 L464.2,1616.9 L464.5,1616.9 L464.8,1616.9 L465.1,1616.9 L465.4,1616.9 L465.7,1616.9 L466.0,1616.9 L466.3,1616.9 L466.6,1616.9 L467.0,1616.9 L467.3,1616.9 L467.6,1616.9 L467.9,1616.9 L468.2,1616.9 L468.5,1616.9 L468.8,1616.9 L469.1,1616.9 L469.4,1616.9 L469.7,1616.9 L470.0,1617.0 L470.3,1617.0 L470.6,1617.0 L470.9,1617.0 L471.2,1617.0 L471.5,1617.0 L471.9,1617.0 L472.2,1617.0 L472.5,1617.0 L472.8,1617.0 L473.1,1617.0 L473.4,1617.0 L473.7,1617.0 L474.0,1617.0 L474.3,1617.0 L474.6,1617.0 L474.9,1617.0 L475.2,1617.0 L475.5,1617.0 L475.8,1617.0 L476.1,1617.0 L476.4,1617.0 L476.8,1617.0 L477.1,1617.0 L477.4,1617.0 L477.7,1617.0 L478.0,1617.0 L478.3,1617.0 L478.6,1617.0 L478.9,1617.0 L479.2,1617.0 L479.5,1617.0 L479.8,1617.0 L480.1,1617.0 L480.4,1617.0 L480.7,1617.0 L481.0,1617.0 L481.3,1617.0 L481.7,1617.0 L482.0,1617.0 L482.3,1617.0 L482.6,1617.0 L482.9,1617.0 L483.2,1617.0 L483.5,1617.0 L483.8,1617.0 L484.1,1617.0 L484.4,1617.0 L484.7,1617.0 L485.0,1617.0 L485.3,1617.0 L485.6,1617.0 L485.9,1617.0 L486.2,1617.0 L486.6,1617.0 L486.9,1617.1 L487.2,1617.1 L487.5,1617.1 L487.8,1617.1 L488.1,1617.1 L488.4,1617.1 L488.7,1617.1 L489.0,1617.1 L489.3,1617.1 L489.6,1617.1 L489.9,1617.1 L490.2,1617.1 L490.5,1617.1 L490.8,1617.1 L491.1,1617.1 L491.4,1617.1 L491.8,1617.1 L492.1,1617.1 L492.4,1617.1 L492.7,1617.1 L493.0,1617.1 L493.3,1617.1 L493.6,1617.1 L493.9,1617.1 L494.2,1617.1 L494.5,1617.1 L494.8,1617.1 L495.1,1617.1 L495.4,1617.1 L495.7,1617.1 L496.0,1617.1 L496.3,1617.1 L496.7,1617.1 L497.0,1617.1 L497.3,1617.1 L497.6,1617.1 L497.9,1617.1 L498.2,1617.1 L498.5,1617.1 L498.8,1617.1 L499.1,1617.1 L499.4,1617.1 L499.7,1617.1 L500.0,1617.1 L500.3,1617.1 L500.6,1617.1 L500.9,1617.1 L501.2,1617.1 L501.6,1617.1 L501.9,1617.1 L502.2,1617.1 L502.5,1617.1 L502.8,1617.1 L503.1,1617.1 L503.4,1617.1 L503.7,1617.1 L504.0,1617.2 L504.3,1617.2 L504.6,1617.2 L504.9,1617.2 L505.2,1617.2 L505.5,1617.2 L505.8,1617.2 L506.1,1617.2 L506.5,1617.2 L506.8,1617.2 L507.1,1617.2 L507.4,1617.2 L507.7,1617.2 L508.0,1617.2 L508.3,1617.2 L508.6,1617.2 L508.9,1617.2 L509.2,1617.2 L509.5,1617.2 L509.8,1617.2 L510.1,1617.2 L510.4,1617.2 L510.7,1617.2 L511.0,1617.2 L511.3,1617.2 L511.7,1617.2 L512.0,1617.2 L512.3,1617.2 L512.6,1617.2 L512.9,1617.2 L513.2,1617.2 L513.5,1617.2 L513.8,1617.2 L514.1,1617.2 L514.4,1617.2 L514.7,1617.2 L515.0,1617.2 L515.3,1617.2 L515.6,1617.2 L515.9,1617.2 L516.2,1617.2 L516.6,1617.2 L516.9,1617.2 L517.2,1617.2 L517.5,1617.2 L517.8,1617.2 L518.1,1617.2 L518.4,1617.2 L518.7,1617.2 L519.0,1617.2 L519.3,1617.2 L519.6,1617.2 L519.9,1617.2 L520.2,1617.2 L520.5,1617.2 L520.8,1617.2 L521.1,1617.3 L521.5,1617.3 L521.8,1617.3 L522.1,1617.3 L522.4,1617.3 L522.7,1617.3 L523.0,1617.3 L523.3,1617.3 L523.6,1617.3 L523.9,1617.3 L524.2,1617.3 L524.5,1617.3 L524.8,1617.3 L525.1,1617.3 L525.4,1617.3 L525.7,1617.3 L526.0,1617.3 L526.4,1617.3 L526.7,1617.3 L527.0,1617.3 L527.3,1617.3 L527.6,1617.3 L527.9,1617.3 L528.2,1617.3 L528.5,1617.3 L528.8,1617.3 L529.1,1617.3 L529.4,1617.3 L529.7,1617.3 L530.0,1617.3 L530.3,1617.3 L530.6,1617.3 L530.9,1617.3 L531.2,1617.3 L531.6,1617.3 L531.9,1617.3 L532.2,1617.3 L532.5,1617.3 L532.8,1617.3 L533.1,1617.3 L533.4,1617.3 L533.7,1617.3 L534.0,1617.3 L534.3,1617.3 L534.6,1617.3 L534.9,1617.3 L535.2,1617.3 L535.5,1617.3 L535.8,1617.3 L536.1,1617.3 L536.5,1617.3 L536.8,1617.3 L537.1,1617.3 L537.4,1617.3 L537.7,1617.3 L538.0,1617.3 L538.3,1617.3 L538.6,1617.4 L538.9,1617.4 L539.2,1617.4 L539.5,1617.4 L539.8,1617.4 L540.1,1617.4 L540.4,1617.4 L540.7,1617.4 L541.0,1617.4 L541.4,1617.4 L541.7,1617.4 L542.0,1617.4 L542.3,1617.4 L542.6,1617.4 L542.9,1617.4 L543.2,1617.4 L543.5,1617.4 L543.8,1617.4 L544.1,1617.4 L544.4,1617.4 L544.7,1617.4 L545.0,1617.4 L545.3,1617.4 L545.6,1617.4 L545.9,1617.4 L546.3,1617.4 L546.6,1617.4 L546.9,1617.4 L547.2,1617.4 L547.5,1617.4 L547.8,1617.4 L548.1,1617.4 L548.4,1617.4 L548.7,1617.4 L549.0,1617.4 L549.3,1617.4 L549.6,1617.4 L549.9,1617.4 L550.2,1617.4 L550.5,1617.4 L550.8,1617.4 L551.1,1617.4 L551.5,1617.4 L551.8,1617.4 L552.1,1617.4 L552.4,1617.4 L552.7,1617.4 L553.0,1617.4 L553.3,1617.4 L553.6,1617.4 L553.9,1617.4 L554.2,1617.4 L554.5,1617.4 L554.8,1617.4 L555.1,1617.4 L555.4,1617.4 L555.7,1617.4 L556.0,1617.4 L556.4,1617.4 L556.7,1617.4 L557.0,1617.5 L557.3,1617.5 L557.6,1617.5 L557.9,1617.5 L558.2,1617.5 L558.5,1617.5 L558.8,1617.5 L559.1,1617.5 L559.4,1617.5 L559.7,1617.5 L560.0,1617.5 L560.3,1617.5 L560.6,1617.5 L560.9,1617.5 L561.3,1617.5 L561.6,1617.5 L561.9,1617.5 L562.2,1617.5 L562.5,1617.5 L562.8,1617.5 L563.1,1617.5 L563.4,1617.5 L563.7,1617.5 L564.0,1617.5 L564.3,1617.5 L564.6,1617.5 L564.9,1617.5 L565.2,1617.5 L565.5,1617.5 L565.8,1617.5 L566.2,1617.5 L566.5,1617.5 L566.8,1617.5 L567.1,1617.5 L567.4,1617.5 L567.7,1617.5 L568.0,1617.5 L568.3,1617.5 L568.6,1617.5 L568.9,1617.5 L569.2,1617.5 L569.5,1617.5 L569.8,1617.5 L570.1,1617.5 L570.4,1617.5 L570.7,1617.5 L571.0,1617.5 L571.4,1617.5 L571.7,1617.5 L572.0,1617.5 L572.3,1617.5 L572.6,1617.5 L572.9,1617.5 L573.2,1617.5 L573.5,1617.5 L573.8,1617.5 L574.1,1617.5 L574.4,1617.5 L574.7,1617.5 L575.0,1617.5 L575.3,1617.5 L575.6,1617.5 L575.9,1617.5 L576.3,1617.6 L576.6,1617.6 L576.9,1617.6 L577.2,1617.6 L577.5,1617.6 L577.8,1617.6 L578.1,1617.6 L578.4,1617.6 L578.7,1617.6 L579.0,1617.6 L579.3,1617.6 L579.6,1617.6 L579.9,1617.6 L580.2,1617.6 L580.5,1617.6 L580.8,1617.6 L581.2,1617.6 L581.5,1617.6 L581.8,1617.6 L582.1,1617.6 L582.4,1617.6 L582.7,1617.6 L583.0,1617.6 L583.3,1617.6 L583.6,1617.6 L583.9,1617.6 L584.2,1617.6 L584.5,1617.6 L584.8,1617.6 L585.1,1617.6 L585.4,1617.6 L585.7,1617.6 L586.1,1617.6 L586.4,1617.6 L586.7,1617.6 L587.0,1617.6 L587.3,1617.6 L587.6,1617.6 L587.9,1617.6 L588.2,1617.6 L588.5,1617.6 L588.8,1617.6 L589.1,1617.6 L589.4,1617.6 L589.7,1617.6 L590.0,1617.6 L590.3,1617.6 L590.6,1617.6 L591.0,1617.6 L591.3,1617.6 L591.6,1617.6 L591.9,1617.6 L592.2,1617.6 L592.5,1617.6 L592.8,1617.6 L593.1,1617.6 L593.4,1617.6 L593.7,1617.6 L594.0,1617.6 L594.3,1617.6 L594.6,1617.6 L594.9,1617.6 L595.2,1617.6 L595.5,1617.6 L595.8,1617.6 L596.2,1617.6 L596.5,1617.6 L596.8,1617.6 L597.1,1617.6 L597.4,1617.7 L597.7,1617.7 L598.0,1617.7 L598.3,1617.7 L598.6,1617.7 L598.9,1617.7 L599.2,1617.7 L599.5,1617.7 L599.8,1617.7 L600.1,1617.7 L600.4,1617.7 L600.7,1617.7 L601.1,1617.7 L601.4,1617.7 L601.7,1617.7 L602.0,1617.7 L602.3,1617.7 L602.6,1617.7 L602.9,1617.7 L603.2,1617.7 L603.5,1617.7 L603.8,1617.7 L604.1,1617.7 L604.4,1617.7 L604.7,1617.7 L605.0,1617.7 L605.3,1617.7 L605.6,1617.7 L606.0,1617.7 L606.3,1617.7 L606.6,1617.7 L606.9,1617.7 L607.2,1617.7 L607.5,1617.7 L607.8,1617.7 L608.1,1617.7 L608.4,1617.7 L608.7,1617.7 L609.0,1617.7 L609.3,1617.7 L609.6,1617.7 L609.9,1617.7 L610.2,1617.7 L610.5,1617.7 L610.9,1617.7 L611.2,1617.7 L611.5,1617.7 L611.8,1617.7 L612.1,1617.7 L612.4,1617.7 L612.7,1617.7 L613.0,1617.7 L613.3,1617.7 L613.6,1617.7 L613.9,1617.7 L614.2,1617.7 L614.5,1617.7 L614.8,1617.7 L615.1,1617.7 L615.4,1617.7 L615.7,1617.7 L616.1,1617.7 L616.4,1617.7 L616.7,1617.7 L617.0,1617.7 L617.3,1617.7 L617.6,1617.7 L617.9,1617.7 L618.2,1617.7 L618.5,1617.7 L618.8,1617.7 L619.1,1617.7 L619.4,1617.7 L619.7,1617.7 L620.0,1617.7 L620.3,1617.7 L620.6,1617.8 L621.0,1617.8 L621.3,1617.8 L621.6,1617.8 L621.9,1617.8 L622.2,1617.8 L622.5,1617.8 L622.8,1617.8 L623.1,1617.8 L623.4,1617.8 L623.7,1617.8 L624.0,1617.8 L624.3,1617.8 L624.6,1617.8 L624.9,1617.8 L625.2,1617.8 L625.5,1617.8 L625.9,1617.8 L626.2,1617.8 L626.5,1617.8 L626.8,1617.8 L627.1,1617.8 L627.4,1617.8 L627.7,1617.8 L628.0,1617.8 L628.3,1617.8 L628.6,1617.8 L628.9,1617.8 L629.2,1617.8 L629.5,1617.8 L629.8,1617.8 L630.1,1617.8 L630.4,1617.8 L630.8,1617.8 L631.1,1617.8 L631.4,1617.8 L631.7,1617.8 L632.0,1617.8 L632.3,1617.8 L632.6,1617.8 L632.9,1617.8 L633.2,1617.8" fill="none" stroke="#555" stroke-width="3" stroke-linejoin="round" stroke-linecap="butt" />
<path d="M122.8,1593.4 L123.4,1593.6 L124.0,1593.7 L124.6,1593.8 L125.2,1593.9 L125.9,1593.9 L126.5,1594.0 L127.1,1594.1 L127.7,1594.1 L128.3,1594.1 L128.9,1594.1 L129.5,1594.2 L130.1,1594.2 L130.7,1594.2 L131.4,1594.2 L132.0,1594.2 L132.6,1594.1 L133.2,1594.0 L133.8,1593.9 L134.4,1593.8 L135.0,1593.7 L135.6,1593.5 L136.3,1593.4 L136.9,1593.2 L137.5,1593.0 L138.1,1592.8 L138.7,1592.6 L139.3,1592.4 L139.9,1592.1 L140.5,1591.7 L141.2,1591.3 L141.8,1591.0 L142.4,1590.7 L143.0,1590.4 L143.6,1590.4 L144.2,1590.5 L144.8,1590.7 L145.4,1591.1 L146.0,1591.6 L146.7,1592.1 L147.3,1592.6 L147.9,1593.1 L148.5,1593.4 L149.1,1593.7 L149.7,1593.9 L150.3,1594.1 L150.9,1594.3 L151.6,1594.5 L152.2,1594.7 L152.8,1594.8 L153.4,1594.9 L153.4,1621.6 L122.8,1621.6 Z" fill="url(#gg_red)" stroke="none" />
<path d="M153.6,1594.9 L153.9,1198.6 L154.2,1208.9 L154.6,1265.3 L154.9,1279.1 L155.2,1287.8 L155.5,1294.2 L155.8,1299.0 L156.1,1302.9 L156.4,1306.5 L156.7,1310.5 L157.0,1315.6 L157.3,1321.7 L157.6,1328.0 L157.9,1334.4 L158.2,1340.9 L158.5,1347.3 L158.8,1353.6 L159.1,1360.4 L159.5,1368.4 L159.8,1375.9 L160.1,1381.6 L160.4,1383.8 L160.7,1383.4 L161.0,1382.4 L161.3,1380.8 L161.6,1378.9 L161.9,1376.8 L162.2,1374.7 L162.5,1372.7 L162.8,1370.9 L163.1,1368.8 L163.4,1366.7 L163.7,1364.5 L164.0,1362.3 L164.3,1360.1 L164.7,1358.0 L165.0,1356.0 L165.3,1354.1 L165.6,1352.2 L165.9,1350.3 L166.2,1348.4 L166.5,1346.5 L166.8,1344.7 L167.1,1343.0 L167.4,1341.3 L167.7,1339.8 L168.0,1338.3 L168.3,1337.0 L168.6,1335.9 L168.9,1334.8 L169.2,1333.7 L169.6,1332.7 L169.9,1331.8 L170.2,1330.9 L170.5,1330.0 L170.8,1329.2 L171.1,1328.4 L171.4,1327.6 L171.7,1326.9 L172.0,1326.1 L172.3,1325.4 L172.6,1324.6 L172.9,1323.9 L173.2,1323.1 L173.5,1322.3 L173.8,1321.5 L174.1,1320.7 L174.4,1319.9 L174.8,1319.0 L175.1,1318.1 L175.4,1317.2 L175.7,1316.4 L176.0,1315.5 L176.3,1314.6 L176.6,1313.7 L176.9,1312.8 L177.2,1311.9 L177.5,1311.0 L177.8,1310.1 L178.1,1309.3 L178.4,1308.4 L178.7,1307.6 L179.0,1306.7 L179.3,1305.9 L179.7,1305.1 L180.0,1304.3 L180.3,1303.6 L180.6,1302.9 L180.9,1302.2 L181.2,1301.5 L181.5,1300.8 L181.8,1300.1 L182.1,1299.4 L182.4,1298.7 L182.7,1297.9 L183.0,1297.2 L183.3,1296.5 L183.6,1295.7 L183.9,1295.0 L184.2,1294.3 L184.5,1293.7 L184.9,1293.0 L185.2,1292.4 L185.5,1291.8 L185.8,1291.3 L186.1,1290.8 L186.4,1290.4 L186.7,1290.1 L187.0,1289.8 L187.3,1289.5 L187.6,1289.4 L187.9,1289.3 L188.2,1289.3 L188.5,1289.4 L188.8,1289.5 L189.1,1289.7 L189.4,1289.9 L189.7,1290.1 L190.1,1290.4 L190.4,1290.8 L190.7,1291.1 L191.0,1291.5 L191.3,1292.0 L191.6,1292.4 L191.9,1292.9 L192.2,1293.4 L192.5,1293.9 L192.8,1294.4 L193.1,1294.9 L193.4,1295.4 L193.7,1295.9 L194.0,1296.4 L194.3,1296.9 L194.6,1297.5 L195.0,1298.2 L195.3,1299.0 L195.6,1299.7 L195.9,1300.5 L196.2,1301.4 L196.5,1302.3 L196.8,1303.1 L197.1,1304.0 L197.4,1304.9 L197.7,1305.8 L198.0,1306.7 L198.3,1307.5 L198.6,1308.4 L198.9,1309.2 L199.2,1309.9 L199.5,1310.6 L199.8,1311.3 L200.2,1312.0 L200.5,1312.7 L200.8,1313.3 L201.1,1314.0 L201.4,1314.6 L201.7,1315.2 L202.0,1315.9 L202.3,1316.5 L202.6,1317.1 L202.9,1317.7 L203.2,1318.3 L203.5,1318.9 L203.8,1319.5 L204.1,1320.1 L204.4,1320.7 L204.7,1321.2 L205.1,1321.8 L205.4,1322.4 L205.7,1323.0 L206.0,1323.5 L206.3,1324.1 L206.6,1324.7 L206.9,1325.3 L207.2,1325.8 L207.5,1326.4 L207.8,1327.0 L208.1,1327.6 L208.4,1328.1 L208.7,1328.7 L209.0,1329.2 L209.3,1329.8 L209.6,1330.3 L209.9,1330.9 L210.3,1331.4 L210.6,1331.9 L210.9,1332.4 L211.2,1333.0 L211.5,1333.5 L211.8,1334.0 L212.1,1334.5 L212.4,1335.1 L212.7,1335.6 L213.0,1336.1 L213.3,1336.7 L213.6,1337.2 L213.9,1337.7 L214.2,1338.3 L214.5,1338.8 L214.8,1339.4 L215.2,1340.0 L215.5,1340.5 L215.8,1341.1 L216.1,1341.7 L216.4,1342.3 L216.7,1342.9 L217.0,1343.6 L217.3,1344.2 L217.6,1344.8 L217.9,1345.5 L218.2,1346.2 L218.5,1346.9 L218.8,1347.6 L219.1,1348.3 L219.4,1349.0 L219.7,1349.7 L220.0,1350.4 L220.4,1351.2 L220.7,1351.9 L221.0,1352.6 L221.3,1353.4 L221.6,1354.1 L221.9,1354.8 L222.2,1355.6 L222.5,1356.3 L222.8,1357.1 L223.1,1357.8 L223.4,1358.6 L223.7,1359.3 L224.0,1360.1 L224.3,1360.8 L224.6,1361.6 L224.9,1362.4 L225.2,1363.1 L225.6,1363.9 L225.9,1364.7 L226.2,1365.5 L226.5,1366.2 L226.8,1367.0 L227.1,1367.8 L227.4,1368.6 L227.7,1369.3 L228.0,1370.1 L228.3,1370.9 L228.6,1371.7 L228.9,1372.4 L229.2,1373.2 L229.5,1374.0 L229.8,1374.7 L230.1,1375.5 L230.5,1376.2 L230.8,1377.0 L231.1,1377.7 L231.4,1378.5 L231.7,1379.2 L232.0,1379.9 L232.3,1380.7 L232.6,1381.4 L232.9,1382.2 L233.2,1382.9 L233.5,1383.6 L233.8,1384.4 L234.1,1385.1 L234.4,1385.8 L234.7,1386.6 L235.0,1387.3 L235.3,1388.0 L235.7,1388.7 L236.0,1389.5 L236.3,1390.2 L236.6,1390.9 L236.9,1391.7 L237.2,1392.4 L237.5,1393.1 L237.8,1393.8 L238.1,1394.6 L238.4,1395.3 L238.7,1396.0 L239.0,1396.7 L239.3,1397.5 L239.6,1398.2 L239.9,1398.9 L240.2,1399.6 L240.6,1400.3 L240.9,1401.1 L241.2,1401.8 L241.5,1402.5 L241.8,1403.2 L242.1,1404.0 L242.4,1404.7 L242.7,1405.4 L243.0,1406.2 L243.3,1406.9 L243.6,1407.6 L243.9,1408.3 L244.2,1409.0 L244.5,1409.8 L244.8,1410.5 L245.1,1411.2 L245.4,1411.9 L245.8,1412.6 L246.1,1413.3 L246.4,1414.1 L246.7,1414.8 L247.0,1415.5 L247.3,1416.2 L247.6,1416.9 L247.9,1417.7 L248.2,1418.4 L248.5,1419.1 L248.8,1419.8 L249.1,1420.5 L249.4,1421.3 L249.7,1422.0 L250.0,1422.7 L250.3,1423.5 L250.7,1424.2 L251.0,1424.9 L251.3,1425.7 L251.6,1426.4 L251.9,1427.1 L252.2,1427.9 L252.5,1428.6 L252.8,1429.4 L253.1,1430.1 L253.4,1430.8 L253.7,1431.6 L254.0,1432.3 L254.3,1433.1 L254.6,1433.8 L254.9,1434.6 L255.2,1435.3 L255.5,1436.1 L255.9,1436.8 L256.2,1437.6 L256.5,1438.3 L256.8,1439.1 L257.1,1439.8 L257.4,1440.6 L257.7,1441.4 L258.0,1442.1 L258.3,1442.9 L258.6,1443.7 L258.9,1444.5 L259.2,1445.2 L259.5,1446.0 L259.8,1446.8 L260.1,1447.6 L260.4,1448.4 L260.8,1449.2 L261.1,1450.0 L261.4,1450.8 L261.7,1451.6 L262.0,1452.5 L262.3,1453.3 L262.6,1454.1 L262.9,1455.0 L263.2,1455.9 L263.5,1456.7 L263.8,1457.6 L264.1,1458.4 L264.4,1459.3 L264.7,1460.2 L265.0,1461.0 L265.3,1461.9 L265.6,1462.7 L266.0,1463.6 L266.3,1464.4 L266.6,1465.2 L266.9,1466.0 L267.2,1466.9 L267.5,1467.7 L267.8,1468.4 L268.1,1469.2 L268.4,1470.0 L268.7,1470.8 L269.0,1471.6 L269.3,1472.3 L269.6,1473.1 L269.9,1473.9 L270.2,1474.6 L270.5,1475.4 L270.8,1476.2 L271.2,1477.0 L271.5,1477.8 L271.8,1478.6 L272.1,1479.4 L272.4,1480.2 L272.7,1481.0 L273.0,1481.8 L273.3,1482.7 L273.6,1483.6 L273.9,1484.4 L274.2,1485.4 L274.5,1486.3 L274.8,1487.2 L275.1,1488.1 L275.4,1489.1 L275.7,1490.0 L276.1,1491.0 L276.4,1491.9 L276.7,1492.8 L277.0,1493.7 L277.3,1494.6 L277.6,1495.5 L277.9,1496.4 L278.2,1497.2 L278.5,1498.1 L278.8,1498.9 L279.1,1499.7 L279.4,1500.5 L279.7,1501.3 L280.0,1502.1 L280.3,1502.9 L280.6,1503.7 L280.9,1504.4 L281.3,1505.2 L281.6,1506.0 L281.9,1506.7 L282.2,1507.5 L282.5,1508.2 L282.8,1509.0 L283.1,1509.7 L283.4,1510.5 L283.7,1511.2 L284.0,1511.9 L284.3,1512.7 L284.6,1513.4 L284.9,1514.2 L285.2,1514.9 L285.5,1515.7 L285.8,1516.4 L286.2,1517.2 L286.5,1517.9 L286.8,1518.7 L287.1,1519.4 L287.4,1520.2 L287.7,1520.9 L288.0,1521.7 L288.3,1522.5 L288.6,1523.2 L288.9,1524.0 L289.2,1524.7 L289.5,1525.5 L289.8,1526.2 L290.1,1526.9 L290.4,1527.7 L290.7,1528.4 L291.0,1529.1 L291.4,1529.9 L291.7,1530.6 L292.0,1531.3 L292.3,1532.0 L292.6,1532.7 L292.9,1533.4 L293.2,1534.0 L293.5,1534.7 L293.8,1535.4 L294.1,1536.0 L294.4,1536.7 L294.7,1537.3 L295.0,1537.9 L295.3,1538.6 L295.6,1539.2 L295.9,1539.7 L296.3,1540.3 L296.6,1540.9 L296.9,1541.5 L297.2,1542.0 L297.5,1542.6 L297.8,1543.1 L298.1,1543.7 L298.4,1544.2 L298.7,1544.7 L299.0,1545.2 L299.3,1545.8 L299.6,1546.3 L299.9,1546.8 L300.2,1547.3 L300.5,1547.8 L300.8,1548.3 L301.1,1548.8 L301.5,1549.3 L301.8,1549.7 L302.1,1550.2 L302.4,1550.7 L302.7,1551.2 L303.0,1551.6 L303.3,1552.1 L303.6,1552.5 L303.9,1553.0 L304.2,1553.5 L304.5,1553.9 L304.8,1554.4 L305.1,1554.8 L305.4,1555.2 L305.7,1555.7 L306.0,1556.1 L306.4,1556.6 L306.7,1557.0 L307.0,1557.4 L307.3,1557.9 L307.6,1558.3 L307.9,1558.7 L308.2,1559.1 L308.5,1559.6 L308.8,1560.0 L309.1,1560.4 L309.4,1560.8 L309.7,1561.2 L310.0,1561.6 L310.3,1562.1 L310.6,1562.5 L310.9,1562.9 L311.2,1563.3 L311.6,1563.7 L311.9,1564.0 L312.2,1564.4 L312.5,1564.8 L312.8,1565.2 L313.1,1565.6 L313.4,1566.0 L313.7,1566.4 L314.0,1566.8 L314.3,1567.1 L314.6,1567.5 L314.9,1567.9 L315.2,1568.2 L315.5,1568.6 L315.8,1569.0 L316.1,1569.4 L316.4,1569.7 L316.8,1570.1 L317.1,1570.4 L317.4,1570.8 L317.7,1571.2 L318.0,1571.5 L318.3,1571.9 L318.6,1572.2 L318.9,1572.6 L319.2,1572.9 L319.5,1573.3 L319.8,1573.6 L320.1,1574.0 L320.4,1574.3 L320.7,1574.7 L321.0,1575.0 L321.3,1575.4 L321.7,1575.7 L322.0,1576.1 L322.3,1576.4 L322.6,1576.8 L322.9,1577.1 L323.2,1577.5 L323.5,1577.8 L323.8,1578.2 L324.1,1578.5 L324.4,1578.8 L324.7,1579.2 L325.0,1579.5 L325.3,1579.8 L325.6,1580.2 L325.9,1580.5 L326.2,1580.8 L326.5,1581.1 L326.9,1581.4 L327.2,1581.7 L327.5,1582.0 L327.8,1582.3 L328.1,1582.6 L328.4,1582.9 L328.7,1583.2 L329.0,1583.5 L329.3,1583.8 L329.6,1584.1 L329.9,1584.3 L330.2,1584.6 L330.5,1584.8 L330.8,1585.1 L331.1,1585.3 L331.4,1585.6 L331.8,1585.8 L332.1,1586.1 L332.4,1586.3 L332.7,1586.6 L333.0,1586.8 L333.3,1587.0 L333.6,1587.3 L333.9,1587.5 L334.2,1587.7 L334.5,1588.0 L334.8,1588.2 L335.1,1588.4 L335.4,1588.6 L335.7,1588.8 L336.0,1589.1 L336.3,1589.3 L336.6,1589.5 L337.0,1589.7 L337.3,1589.9 L337.6,1590.1 L337.9,1590.3 L338.2,1590.5 L338.5,1590.7 L338.8,1590.9 L339.1,1591.0 L339.4,1591.2 L339.7,1591.4 L340.0,1591.6 L340.3,1591.7 L340.6,1591.9 L340.9,1592.0 L341.2,1592.2 L341.5,1592.3 L341.9,1592.5 L342.2,1592.6 L342.5,1592.7 L342.8,1592.9 L343.1,1593.0 L343.4,1593.1 L343.7,1593.2 L344.0,1593.4 L344.3,1593.5 L344.6,1593.6 L344.9,1593.7 L345.2,1593.8 L345.5,1594.0 L345.8,1594.1 L346.1,1594.2 L346.4,1594.3 L346.7,1594.4 L347.1,1594.5 L347.4,1594.6 L347.7,1594.7 L348.0,1594.9 L348.3,1595.0 L348.6,1595.1 L348.9,1595.2 L349.2,1595.3 L349.5,1595.4 L349.8,1595.5 L350.1,1595.6 L350.4,1595.7 L350.7,1595.8 L351.0,1595.9 L351.3,1595.9 L351.6,1596.0 L352.0,1596.1 L352.3,1596.2 L352.6,1596.3 L352.9,1596.4 L353.2,1596.5 L353.5,1596.6 L353.8,1596.7 L354.1,1596.8 L354.4,1596.8 L354.7,1596.9 L355.0,1597.0 L355.3,1597.1 L355.6,1597.2 L355.9,1597.3 L356.2,1597.3 L356.5,1597.4 L356.8,1597.5 L357.2,1597.6 L357.5,1597.7 L357.8,1597.7 L358.1,1597.8 L358.4,1597.9 L358.7,1598.0 L359.0,1598.0 L359.3,1598.1 L359.6,1598.2 L359.9,1598.3 L360.2,1598.3 L360.5,1598.4 L360.8,1598.5 L361.1,1598.6 L361.4,1598.6 L361.7,1598.7 L362.0,1598.8 L362.4,1598.8 L362.7,1598.9 L363.0,1599.0 L363.3,1599.1 L363.6,1599.1 L363.9,1599.2 L364.2,1599.3 L364.5,1599.3 L364.8,1599.4 L365.1,1599.5 L365.4,1599.5 L365.7,1599.6 L366.0,1599.7 L366.3,1599.7 L366.6,1599.8 L366.9,1599.9 L367.3,1599.9 L367.6,1600.0 L367.9,1600.1 L368.2,1600.1 L368.5,1600.2 L368.8,1600.3 L369.1,1600.3 L369.4,1600.4 L369.7,1600.5 L370.0,1600.5 L370.3,1600.6 L370.6,1600.7 L370.9,1600.7 L371.2,1600.8 L371.5,1600.9 L371.8,1600.9 L372.1,1601.0 L372.5,1601.0 L372.8,1601.1 L373.1,1601.2 L373.4,1601.2 L373.7,1601.3 L374.0,1601.4 L374.3,1601.4 L374.6,1601.5 L374.9,1601.5 L375.2,1601.6 L375.5,1601.7 L375.8,1601.7 L376.1,1601.8 L376.4,1601.8 L376.7,1601.9 L377.0,1602.0 L377.4,1602.0 L377.7,1602.1 L378.0,1602.1 L378.3,1602.2 L378.6,1602.2 L378.9,1602.3 L379.2,1602.4 L379.5,1602.4 L379.8,1602.5 L380.1,1602.5 L380.4,1602.6 L380.7,1602.6 L381.0,1602.7 L381.3,1602.7 L381.6,1602.8 L381.9,1602.9 L382.2,1602.9 L382.6,1603.0 L382.9,1603.0 L383.2,1603.1 L383.5,1603.1 L383.8,1603.2 L384.1,1603.2 L384.4,1603.3 L384.7,1603.3 L385.0,1603.4 L385.3,1603.4 L385.6,1603.5 L385.9,1603.5 L386.2,1603.6 L386.5,1603.6 L386.8,1603.7 L387.1,1603.7 L387.5,1603.8 L387.8,1603.8 L388.1,1603.9 L388.4,1603.9 L388.7,1604.0 L389.0,1604.0 L389.3,1604.1 L389.6,1604.1 L389.9,1604.2 L390.2,1604.2 L390.5,1604.3 L390.8,1604.3 L391.1,1604.4 L391.4,1604.4 L391.7,1604.5 L392.0,1604.5 L392.3,1604.5 L392.7,1604.6 L393.0,1604.6 L393.3,1604.7 L393.6,1604.7 L393.9,1604.8 L394.2,1604.8 L394.5,1604.9 L394.8,1604.9 L395.1,1605.0 L395.4,1605.0 L395.7,1605.0 L396.0,1605.1 L396.3,1605.1 L396.6,1605.2 L396.9,1605.2 L397.2,1605.2 L397.5,1605.3 L397.9,1605.3 L398.2,1605.4 L398.5,1605.4 L398.8,1605.5 L399.1,1605.5 L399.4,1605.5 L399.7,1605.6 L400.0,1605.6 L400.3,1605.7 L400.6,1605.7 L400.9,1605.7 L401.2,1605.8 L401.5,1605.8 L401.8,1605.9 L402.1,1605.9 L402.4,1605.9 L402.8,1606.0 L403.1,1606.0 L403.4,1606.0 L403.7,1606.1 L404.0,1606.1 L404.3,1606.2 L404.6,1606.2 L404.9,1606.2 L405.2,1606.3 L405.5,1606.3 L405.8,1606.4 L406.1,1606.4 L406.4,1606.4 L406.7,1606.5 L407.0,1606.5 L407.3,1606.5 L407.6,1606.6 L408.0,1606.6 L408.3,1606.6 L408.6,1606.7 L408.9,1606.7 L409.2,1606.8 L409.5,1606.8 L409.8,1606.8 L410.1,1606.9 L410.4,1606.9 L410.7,1606.9 L411.0,1607.0 L411.3,1607.0 L411.6,1607.0 L411.9,1607.1 L412.2,1607.1 L412.5,1607.1 L412.9,1607.2 L413.2,1607.2 L413.5,1607.3 L413.8,1607.3 L414.1,1607.3 L414.4,1607.4 L414.7,1607.4 L415.0,1607.4 L415.3,1607.5 L415.6,1607.5 L415.9,1607.5 L416.2,1607.6 L416.5,1607.6 L416.8,1607.6 L417.1,1607.7 L417.4,1607.7 L417.7,1607.7 L418.1,1607.8 L418.4,1607.8 L418.7,1607.8 L419.0,1607.9 L419.3,1607.9 L419.6,1607.9 L419.9,1608.0 L420.2,1608.0 L420.5,1608.0 L420.8,1608.1 L421.1,1608.1 L421.4,1608.1 L421.7,1608.1 L422.0,1608.2 L422.3,1608.2 L422.6,1608.2 L423.0,1608.3 L423.3,1608.3 L423.6,1608.3 L423.9,1608.4 L424.2,1608.4 L424.5,1608.4 L424.8,1608.5 L425.1,1608.5 L425.4,1608.5 L425.7,1608.6 L426.0,1608.6 L426.3,1608.6 L426.6,1608.6 L426.9,1608.7 L427.2,1608.7 L427.5,1608.7 L427.8,1608.8 L428.2,1608.8 L428.5,1608.8 L428.8,1608.8 L429.1,1608.9 L429.4,1608.9 L429.7,1608.9 L430.0,1609.0 L430.3,1609.0 L430.6,1609.0 L430.9,1609.1 L431.2,1609.1 L431.5,1609.1 L431.8,1609.1 L432.1,1609.2 L432.4,1609.2 L432.7,1609.2 L433.1,1609.2 L433.4,1609.3 L433.7,1609.3 L434.0,1609.3 L434.3,1609.4 L434.6,1609.4 L434.9,1609.4 L435.2,1609.4 L435.5,1609.5 L435.8,1609.5 L436.1,1609.5 L436.4,1609.5 L436.7,1609.6 L437.0,1609.6 L437.3,1609.6 L437.6,1609.7 L437.9,1609.7 L438.3,1609.7 L438.6,1609.7 L438.9,1609.8 L439.2,1609.8 L439.5,1609.8 L439.8,1609.8 L440.1,1609.9 L440.4,1609.9 L440.7,1609.9 L441.0,1609.9 L441.3,1610.0 L441.6,1610.0 L441.9,1610.0 L442.2,1610.0 L442.5,1610.1 L442.8,1610.1 L443.1,1610.1 L443.5,1610.1 L443.8,1610.2 L444.1,1610.2 L444.4,1610.2 L444.7,1610.2 L445.0,1610.3 L445.3,1610.3 L445.6,1610.3 L445.9,1610.3 L446.2,1610.4 L446.5,1610.4 L446.8,1610.4 L447.1,1610.4 L447.4,1610.5 L447.7,1610.5 L448.0,1610.5 L448.4,1610.5 L448.7,1610.5 L449.0,1610.6 L449.3,1610.6 L449.6,1610.6 L449.9,1610.6 L450.2,1610.7 L450.5,1610.7 L450.8,1610.7 L451.1,1610.7 L451.4,1610.8 L451.7,1610.8 L452.0,1610.8 L452.3,1610.8 L452.6,1610.8 L452.9,1610.9 L453.2,1610.9 L453.6,1610.9 L453.9,1610.9 L454.2,1611.0 L454.5,1611.0 L454.8,1611.0 L455.1,1611.0 L455.4,1611.0 L455.7,1611.1 L456.0,1611.1 L456.3,1611.1 L456.6,1611.1 L456.9,1611.2 L457.2,1611.2 L457.5,1611.2 L457.8,1611.2 L458.1,1611.2 L458.5,1611.3 L458.8,1611.3 L459.1,1611.3 L459.4,1611.3 L459.7,1611.4 L460.0,1611.4 L460.3,1611.4 L460.6,1611.4 L460.9,1611.4 L461.2,1611.5 L461.5,1611.5 L461.8,1611.5 L462.1,1611.5 L462.4,1611.5 L462.7,1611.6 L463.0,1611.6 L463.3,1611.6 L463.7,1611.6 L464.0,1611.7 L464.3,1611.7 L464.6,1611.7 L464.9,1611.7 L465.2,1611.7 L465.5,1611.8 L465.8,1611.8 L466.1,1611.8 L466.4,1611.8 L466.7,1611.8 L467.0,1611.9 L467.3,1611.9 L467.6,1611.9 L467.9,1611.9 L468.2,1611.9 L468.6,1612.0 L468.9,1612.0 L469.2,1612.0 L469.5,1612.0 L469.8,1612.0 L470.1,1612.1 L470.4,1612.1 L470.7,1612.1 L471.0,1612.1 L471.3,1612.1 L471.6,1612.2 L471.9,1612.2 L472.2,1612.2 L472.5,1612.2 L472.8,1612.3 L473.1,1612.3 L473.4,1612.3 L473.8,1612.3 L474.1,1612.3 L474.4,1612.4 L474.7,1612.4 L475.0,1612.4 L475.3,1612.4 L475.6,1612.4 L475.9,1612.4 L476.2,1612.5 L476.5,1612.5 L476.8,1612.5 L477.1,1612.5 L477.4,1612.5 L477.7,1612.6 L478.0,1612.6 L478.3,1612.6 L478.7,1612.6 L479.0,1612.6 L479.3,1612.7 L479.6,1612.7 L479.9,1612.7 L480.2,1612.7 L480.5,1612.7 L480.8,1612.8 L481.1,1612.8 L481.4,1612.8 L481.7,1612.8 L482.0,1612.8 L482.3,1612.9 L482.6,1612.9 L482.9,1612.9 L483.2,1612.9 L483.5,1612.9 L483.9,1612.9 L484.2,1613.0 L484.5,1613.0 L484.8,1613.0 L485.1,1613.0 L485.4,1613.0 L485.7,1613.1 L486.0,1613.1 L486.3,1613.1 L486.6,1613.1 L486.9,1613.1 L487.2,1613.1 L487.5,1613.2 L487.8,1613.2 L488.1,1613.2 L488.4,1613.2 L488.7,1613.2 L489.1,1613.3 L489.4,1613.3 L489.7,1613.3 L490.0,1613.3 L490.3,1613.3 L490.6,1613.3 L490.9,1613.4 L491.2,1613.4 L491.5,1613.4 L491.8,1613.4 L492.1,1613.4 L492.4,1613.4 L492.7,1613.5 L493.0,1613.5 L493.3,1613.5 L493.6,1613.5 L494.0,1613.5 L494.3,1613.5 L494.6,1613.6 L494.9,1613.6 L495.2,1613.6 L495.5,1613.6 L495.8,1613.6 L496.1,1613.6 L496.4,1613.7 L496.7,1613.7 L497.0,1613.7 L497.3,1613.7 L497.6,1613.7 L497.9,1613.7 L498.2,1613.8 L498.5,1613.8 L498.8,1613.8 L499.2,1613.8 L499.5,1613.8 L499.8,1613.8 L500.1,1613.9 L500.4,1613.9 L500.7,1613.9 L501.0,1613.9 L501.3,1613.9 L501.6,1613.9 L501.9,1614.0 L502.2,1614.0 L502.5,1614.0 L502.8,1614.0 L503.1,1614.0 L503.4,1614.0 L503.7,1614.0 L504.1,1614.1 L504.4,1614.1 L504.7,1614.1 L505.0,1614.1 L505.3,1614.1 L505.6,1614.1 L505.9,1614.1 L506.2,1614.2 L506.5,1614.2 L506.8,1614.2 L507.1,1614.2 L507.4,1614.2 L507.7,1614.2 L508.0,1614.3 L508.3,1614.3 L508.6,1614.3 L508.9,1614.3 L509.3,1614.3 L509.6,1614.3 L509.9,1614.3 L510.2,1614.4 L510.5,1614.4 L510.8,1614.4 L511.1,1614.4 L511.4,1614.4 L511.7,1614.4 L512.0,1614.4 L512.3,1614.4 L512.6,1614.5 L512.9,1614.5 L513.2,1614.5 L513.5,1614.5 L513.8,1614.5 L514.2,1614.5 L514.5,1614.5 L514.8,1614.6 L515.1,1614.6 L515.4,1614.6 L515.7,1614.6 L516.0,1614.6 L516.3,1614.6 L516.6,1614.6 L516.9,1614.6 L517.2,1614.7 L517.5,1614.7 L517.8,1614.7 L518.1,1614.7 L518.4,1614.7 L518.7,1614.7 L519.0,1614.7 L519.4,1614.7 L519.7,1614.8 L520.0,1614.8 L520.3,1614.8 L520.6,1614.8 L520.9,1614.8 L521.2,1614.8 L521.5,1614.8 L521.8,1614.8 L522.1,1614.9 L522.4,1614.9 L522.7,1614.9 L523.0,1614.9 L523.3,1614.9 L523.6,1614.9 L523.9,1614.9 L524.3,1614.9 L524.6,1615.0 L524.9,1615.0 L525.2,1615.0 L525.5,1615.0 L525.8,1615.0 L526.1,1615.0 L526.4,1615.0 L526.7,1615.0 L527.0,1615.0 L527.3,1615.1 L527.6,1615.1 L527.9,1615.1 L528.2,1615.1 L528.5,1615.1 L528.8,1615.1 L529.1,1615.1 L529.5,1615.1 L529.8,1615.1 L530.1,1615.2 L530.4,1615.2 L530.7,1615.2 L531.0,1615.2 L531.3,1615.2 L531.6,1615.2 L531.9,1615.2 L532.2,1615.2 L532.5,1615.2 L532.8,1615.2 L533.1,1615.3 L533.4,1615.3 L533.7,1615.3 L534.0,1615.3 L534.3,1615.3 L534.7,1615.3 L535.0,1615.3 L535.3,1615.3 L535.6,1615.3 L535.9,1615.4 L536.2,1615.4 L536.5,1615.4 L536.8,1615.4 L537.1,1615.4 L537.4,1615.4 L537.7,1615.4 L538.0,1615.4 L538.3,1615.4 L538.6,1615.5 L538.9,1615.5 L539.2,1615.5 L539.6,1615.5 L539.9,1615.5 L540.2,1615.5 L540.5,1615.5 L540.8,1615.5 L541.1,1615.5 L541.4,1615.5 L541.7,1615.6 L542.0,1615.6 L542.3,1615.6 L542.6,1615.6 L542.9,1615.6 L543.2,1615.6 L543.5,1615.6 L543.8,1615.6 L544.1,1615.6 L544.4,1615.6 L544.8,1615.7 L545.1,1615.7 L545.4,1615.7 L545.7,1615.7 L546.0,1615.7 L546.3,1615.7 L546.6,1615.7 L546.9,1615.7 L547.2,1615.7 L547.5,1615.7 L547.8,1615.8 L548.1,1615.8 L548.4,1615.8 L548.7,1615.8 L549.0,1615.8 L549.3,1615.8 L549.7,1615.8 L550.0,1615.8 L550.3,1615.8 L550.6,1615.8 L550.9,1615.8 L551.2,1615.9 L551.5,1615.9 L551.8,1615.9 L552.1,1615.9 L552.4,1615.9 L552.7,1615.9 L553.0,1615.9 L553.3,1615.9 L553.6,1615.9 L553.9,1615.9 L554.2,1615.9 L554.5,1615.9 L554.9,1616.0 L555.2,1616.0 L555.5,1616.0 L555.8,1616.0 L556.1,1616.0 L556.4,1616.0 L556.7,1616.0 L557.0,1616.0 L557.3,1616.0 L557.6,1616.0 L557.9,1616.0 L558.2,1616.0 L558.5,1616.0 L558.8,1616.1 L559.1,1616.1 L559.4,1616.1 L559.8,1616.1 L560.1,1616.1 L560.4,1616.1 L560.7,1616.1 L561.0,1616.1 L561.3,1616.1 L561.6,1616.1 L561.9,1616.1 L562.2,1616.1 L562.5,1616.1 L562.8,1616.1 L563.1,1616.1 L563.4,1616.1 L563.7,1616.2 L564.0,1616.2 L564.3,1616.2 L564.6,1616.2 L565.0,1616.2 L565.3,1616.2 L565.6,1616.2 L565.9,1616.2 L566.2,1616.2 L566.5,1616.2 L566.8,1616.2 L567.1,1616.2 L567.4,1616.2 L567.7,1616.2 L568.0,1616.2 L568.3,1616.2 L568.6,1616.2 L568.9,1616.2 L569.2,1616.2 L569.5,1616.2 L569.8,1616.3 L570.2,1616.3 L570.5,1616.3 L570.8,1616.3 L571.1,1616.3 L571.4,1616.3 L571.7,1616.3 L572.0,1616.3 L572.3,1616.3 L572.6,1616.3 L572.9,1616.3 L573.2,1616.3 L573.5,1616.3 L573.8,1616.3 L574.1,1616.3 L574.4,1616.3 L574.7,1616.3 L575.1,1616.3 L575.4,1616.3 L575.7,1616.3 L576.0,1616.3 L576.3,1616.3 L576.6,1616.3 L576.9,1616.3 L577.2,1616.3 L577.5,1616.3 L577.8,1616.3 L578.1,1616.3 L578.4,1616.3 L578.7,1616.3 L579.0,1616.3 L579.3,1616.4 L579.6,1616.4 L579.9,1616.4 L580.3,1616.4 L580.6,1616.4 L580.9,1616.4 L581.2,1616.4 L581.5,1616.4 L581.8,1616.4 L582.1,1616.4 L582.4,1616.4 L582.7,1616.4 L583.0,1616.4 L583.3,1616.4 L583.6,1616.4 L583.9,1616.4 L584.2,1616.4 L584.5,1616.4 L584.8,1616.4 L585.2,1616.4 L585.5,1616.4 L585.8,1616.4 L586.1,1616.4 L586.4,1616.4 L586.7,1616.4 L587.0,1616.4 L587.3,1616.4 L587.6,1616.4 L587.9,1616.4 L588.2,1616.4 L588.5,1616.4 L588.8,1616.4 L589.1,1616.4 L589.4,1616.4 L589.7,1616.4 L590.0,1616.4 L590.4,1616.5 L590.7,1616.5 L591.0,1616.5 L591.3,1616.5 L591.6,1616.5 L591.9,1616.5 L592.2,1616.5 L592.5,1616.5 L592.8,1616.5 L593.1,1616.5 L593.4,1616.5 L593.7,1616.5 L594.0,1616.5 L594.3,1616.5 L594.6,1616.5 L594.9,1616.5 L595.3,1616.5 L595.6,1616.5 L595.9,1616.5 L596.2,1616.5 L596.5,1616.5 L596.8,1616.5 L597.1,1616.5 L597.4,1616.5 L597.7,1616.5 L598.0,1616.5 L598.3,1616.5 L598.6,1616.5 L598.9,1616.5 L599.2,1616.5 L599.5,1616.5 L599.8,1616.5 L600.1,1616.5 L600.5,1616.5 L600.8,1616.5 L601.1,1616.5 L601.4,1616.5 L601.7,1616.5 L602.0,1616.5 L602.3,1616.5 L602.6,1616.5 L602.9,1616.5 L603.2,1616.6 L603.5,1616.6 L603.8,1616.6 L604.1,1616.6 L604.4,1616.6 L604.7,1616.6 L605.0,1616.6 L605.4,1616.6 L605.7,1616.6 L606.0,1616.6 L606.3,1616.6 L606.6,1616.6 L606.9,1616.6 L607.2,1616.6 L607.5,1616.6 L607.8,1616.6 L608.1,1616.6 L608.4,1616.6 L608.7,1616.6 L609.0,1616.6 L609.3,1616.6 L609.6,1616.6 L609.9,1616.6 L610.2,1616.6 L610.6,1616.6 L610.9,1616.6 L611.2,1616.6 L611.5,1616.6 L611.8,1616.6 L612.1,1616.6 L612.4,1616.6 L612.7,1616.6 L613.0,1616.6 L613.3,1616.6 L613.6,1616.6 L613.9,1616.6 L614.2,1616.6 L614.5,1616.6 L614.8,1616.6 L615.1,1616.6 L615.4,1616.6 L615.8,1616.6 L616.1,1616.6 L616.4,1616.6 L616.7,1616.6 L617.0,1616.6 L617.3,1616.6 L617.6,1616.6 L617.9,1616.6 L618.2,1616.6 L618.5,1616.6 L618.8,1616.6 L619.1,1616.6 L619.4,1616.6 L619.7,1616.6 L620.0,1616.6 L620.3,1616.6 L620.7,1616.6 L621.0,1616.6 L621.3,1616.6 L621.6,1616.6 L621.9,1616.6 L622.2,1616.6 L622.5,1616.6 L622.8,1616.6 L623.1,1616.6 L623.4,1616.6 L623.7,1616.6 L624.0,1616.6 L624.3,1616.6 L624.6,1616.6 L624.9,1616.6 L625.2,1616.6 L625.5,1616.6 L625.9,1616.6 L626.2,1616.7 L626.5,1616.7 L626.8,1616.7 L627.1,1616.7 L627.4,1616.7 L627.7,1616.7 L628.0,1616.7 L628.3,1616.7 L628.6,1616.7 L628.9,1616.7 L629.2,1616.7 L629.5,1616.7 L629.8,1616.7 L630.1,1616.7 L630.4,1616.7 L630.8,1616.7 L631.1,1616.7 L631.4,1616.7 L631.7,1616.7 L632.0,1616.7 L632.3,1616.7 L632.6,1616.7 L632.9,1616.7 L633.2,1616.7 L633.2,1617.8 L153.6,1617.8 Z" fill="url(#gg_red)" stroke="none" />
<path d="M122.8,1593.4 L123.4,1593.6 L124.0,1593.7 L124.6,1593.8 L125.2,1593.9 L125.9,1593.9 L126.5,1594.0 L127.1,1594.1 L127.7,1594.1 L128.3,1594.1 L128.9,1594.1 L129.5,1594.2 L130.1,1594.2 L130.7,1594.2 L131.4,1594.2 L132.0,1594.2 L132.6,1594.1 L133.2,1594.0 L133.8,1593.9 L134.4,1593.8 L135.0,1593.7 L135.6,1593.5 L136.3,1593.4 L136.9,1593.2 L137.5,1593.0 L138.1,1592.8 L138.7,1592.6 L139.3,1592.4 L139.9,1592.1 L140.5,1591.7 L141.2,1591.3 L141.8,1591.0 L142.4,1590.7 L143.0,1590.4 L143.6,1590.4 L144.2,1590.5 L144.8,1590.7 L145.4,1591.1 L146.0,1591.6 L146.7,1592.1 L147.3,1592.6 L147.9,1593.1 L148.5,1593.4 L149.1,1593.7 L149.7,1593.9 L150.3,1594.1 L150.9,1594.3 L151.6,1594.5 L152.2,1594.7 L152.8,1594.8 L153.4,1594.9" fill="none" stroke="#f03030" stroke-width="3" stroke-linejoin="round" stroke-linecap="butt" />
<path d="M153.9,1198.6 L154.2,1208.9 L154.6,1265.3 L154.9,1279.1 L155.2,1287.8 L155.5,1294.2 L155.8,1299.0 L156.1,1302.9 L156.4,1306.5 L156.7,1310.5 L157.0,1315.6 L157.3,1321.7 L157.6,1328.0 L157.9,1334.4 L158.2,1340.9 L158.5,1347.3 L158.8,1353.6 L159.1,1360.4 L159.5,1368.4 L159.8,1375.9 L160.1,1381.6 L160.4,1383.8 L160.7,1383.4 L161.0,1382.4 L161.3,1380.8 L161.6,1378.9 L161.9,1376.8 L162.2,1374.7 L162.5,1372.7 L162.8,1370.9 L163.1,1368.8 L163.4,1366.7 L163.7,1364.5 L164.0,1362.3 L164.3,1360.1 L164.7,1358.0 L165.0,1356.0 L165.3,1354.1 L165.6,1352.2 L165.9,1350.3 L166.2,1348.4 L166.5,1346.5 L166.8,1344.7 L167.1,1343.0 L167.4,1341.3 L167.7,1339.8 L168.0,1338.3 L168.3,1337.0 L168.6,1335.9 L168.9,1334.8 L169.2,1333.7 L169.6,1332.7 L169.9,1331.8 L170.2,1330.9 L170.5,1330.0 L170.8,1329.2 L171.1,1328.4 L171.4,1327.6 L171.7,1326.9 L172.0,1326.1 L172.3,1325.4 L172.6,1324.6 L172.9,1323.9 L173.2,1323.1 L173.5,1322.3 L173.8,1321.5 L174.1,1320.7 L174.4,1319.9 L174.8,1319.0 L175.1,1318.1 L175.4,1317.2 L175.7,1316.4 L176.0,1315.5 L176.3,1314.6 L176.6,1313.7 L176.9,1312.8 L177.2,1311.9 L177.5,1311.0 L177.8,1310.1 L178.1,1309.3 L178.4,1308.4 L178.7,1307.6 L179.0,1306.7 L179.3,1305.9 L179.7,1305.1 L180.0,1304.3 L180.3,1303.6 L180.6,1302.9 L180.9,1302.2 L181.2,1301.5 L181.5,1300.8 L181.8,1300.1 L182.1,1299.4 L182.4,1298.7 L182.7,1297.9 L183.0,1297.2 L183.3,1296.5 L183.6,1295.7 L183.9,1295.0 L184.2,1294.3 L184.5,1293.7 L184.9,1293.0 L185.2,1292.4 L185.5,1291.8 L185.8,1291.3 L186.1,1290.8 L186.4,1290.4 L186.7,1290.1 L187.0,1289.8 L187.3,1289.5 L187.6,1289.4 L187.9,1289.3 L188.2,1289.3 L188.5,1289.4 L188.8,1289.5 L189.1,1289.7 L189.4,1289.9 L189.7,1290.1 L190.1,1290.4 L190.4,1290.8 L190.7,1291.1 L191.0,1291.5 L191.3,1292.0 L191.6,1292.4 L191.9,1292.9 L192.2,1293.4 L192.5,1293.9 L192.8,1294.4 L193.1,1294.9 L193.4,1295.4 L193.7,1295.9 L194.0,1296.4 L194.3,1296.9 L194.6,1297.5 L195.0,1298.2 L195.3,1299.0 L195.6,1299.7 L195.9,1300.5 L196.2,1301.4 L196.5,1302.3 L196.8,1303.1 L197.1,1304.0 L197.4,1304.9 L197.7,1305.8 L198.0,1306.7 L198.3,1307.5 L198.6,1308.4 L198.9,1309.2 L199.2,1309.9 L199.5,1310.6 L199.8,1311.3 L200.2,1312.0 L200.5,1312.7 L200.8,1313.3 L201.1,1314.0 L201.4,1314.6 L201.7,1315.2 L202.0,1315.9 L202.3,1316.5 L202.6,1317.1 L202.9,1317.7 L203.2,1318.3 L203.5,1318.9 L203.8,1319.5 L204.1,1320.1 L204.4,1320.7 L204.7,1321.2 L205.1,1321.8 L205.4,1322.4 L205.7,1323.0 L206.0,1323.5 L206.3,1324.1 L206.6,1324.7 L206.9,1325.3 L207.2,1325.8 L207.5,1326.4 L207.8,1327.0 L208.1,1327.6 L208.4,1328.1 L208.7,1328.7 L209.0,1329.2 L209.3,1329.8 L209.6,1330.3 L209.9,1330.9 L210.3,1331.4 L210.6,1331.9 L210.9,1332.4 L211.2,1333.0 L211.5,1333.5 L211.8,1334.0 L212.1,1334.5 L212.4,1335.1 L212.7,1335.6 L213.0,1336.1 L213.3,1336.7 L213.6,1337.2 L213.9,1337.7 L214.2,1338.3 L214.5,1338.8 L214.8,1339.4 L215.2,1340.0 L215.5,1340.5 L215.8,1341.1 L216.1,1341.7 L216.4,1342.3 L216.7,1342.9 L217.0,1343.6 L217.3,1344.2 L217.6,1344.8 L217.9,1345.5 L218.2,1346.2 L218.5,1346.9 L218.8,1347.6 L219.1,1348.3 L219.4,1349.0 L219.7,1349.7 L220.0,1350.4 L220.4,1351.2 L220.7,1351.9 L221.0,1352.6 L221.3,1353.4 L221.6,1354.1 L221.9,1354.8 L222.2,1355.6 L222.5,1356.3 L222.8,1357.1 L223.1,1357.8 L223.4,1358.6 L223.7,1359.3 L224.0,1360.1 L224.3,1360.8 L224.6,1361.6 L224.9,1362.4 L225.2,1363.1 L225.6,1363.9 L225.9,1364.7 L226.2,1365.5 L226.5,1366.2 L226.8,1367.0 L227.1,1367.8 L227.4,1368.6 L227.7,1369.3 L228.0,1370.1 L228.3,1370.9 L228.6,1371.7 L228.9,1372.4 L229.2,1373.2 L229.5,1374.0 L229.8,1374.7 L230.1,1375.5 L230.5,1376.2 L230.8,1377.0 L231.1,1377.7 L231.4,1378.5 L231.7,1379.2 L232.0,1379.9 L232.3,1380.7 L232.6,1381.4 L232.9,1382.2 L233.2,1382.9 L233.5,1383.6 L233.8,1384.4 L234.1,1385.1 L234.4,1385.8 L234.7,1386.6 L235.0,1387.3 L235.3,1388.0 L235.7,1388.7 L236.0,1389.5 L236.3,1390.2 L236.6,1390.9 L236.9,1391.7 L237.2,1392.4 L237.5,1393.1 L237.8,1393.8 L238.1,1394.6 L238.4,1395.3 L238.7,1396.0 L239.0,1396.7 L239.3,1397.5 L239.6,1398.2 L239.9,1398.9 L240.2,1399.6 L240.6,1400.3 L240.9,1401.1 L241.2,1401.8 L241.5,1402.5 L241.8,1403.2 L242.1,1404.0 L242.4,1404.7 L242.7,1405.4 L243.0,1406.2 L243.3,1406.9 L243.6,1407.6 L243.9,1408.3 L244.2,1409.0 L244.5,1409.8 L244.8,1410.5 L245.1,1411.2 L245.4,1411.9 L245.8,1412.6 L246.1,1413.3 L246.4,1414.1 L246.7,1414.8 L247.0,1415.5 L247.3,1416.2 L247.6,1416.9 L247.9,1417.7 L248.2,1418.4 L248.5,1419.1 L248.8,1419.8 L249.1,1420.5 L249.4,1421.3 L249.7,1422.0 L250.0,1422.7 L250.3,1423.5 L250.7,1424.2 L251.0,1424.9 L251.3,1425.7 L251.6,1426.4 L251.9,1427.1 L252.2,1427.9 L252.5,1428.6 L252.8,1429.4 L253.1,1430.1 L253.4,1430.8 L253.7,1431.6 L254.0,1432.3 L254.3,1433.1 L254.6,1433.8 L254.9,1434.6 L255.2,1435.3 L255.5,1436.1 L255.9,1436.8 L256.2,1437.6 L256.5,1438.3 L256.8,1439.1 L257.1,1439.8 L257.4,1440.6 L257.7,1441.4 L258.0,1442.1 L258.3,1442.9 L258.6,1443.7 L258.9,1444.5 L259.2,1445.2 L259.5,1446.0 L259.8,1446.8 L260.1,1447.6 L260.4,1448.4 L260.8,1449.2 L261.1,1450.0 L261.4,1450.8 L261.7,1451.6 L262.0,1452.5 L262.3,1453.3 L262.6,1454.1 L262.9,1455.0 L263.2,1455.9 L263.5,1456.7 L263.8,1457.6 L264.1,1458.4 L264.4,1459.3 L264.7,1460.2 L265.0,1461.0 L265.3,1461.9 L265.6,1462.7 L266.0,1463.6 L266.3,1464.4 L266.6,1465.2 L266.9,1466.0 L267.2,1466.9 L267.5,1467.7 L267.8,1468.4 L268.1,1469.2 L268.4,1470.0 L268.7,1470.8 L269.0,1471.6 L269.3,1472.3 L269.6,1473.1 L269.9,1473.9 L270.2,1474.6 L270.5,1475.4 L270.8,1476.2 L271.2,1477.0 L271.5,1477.8 L271.8,1478.6 L272.1,1479.4 L272.4,1480.2 L272.7,1481.0 L273.0,1481.8 L273.3,1482.7 L273.6,1483.6 L273.9,1484.4 L274.2,1485.4 L274.5,1486.3 L274.8,1487.2 L275.1,1488.1 L275.4,1489.1 L275.7,1490.0 L276.1,1491.0 L276.4,1491.9 L276.7,1492.8 L277.0,1493.7 L277.3,1494.6 L277.6,1495.5 L277.9,1496.4 L278.2,1497.2 L278.5,1498.1 L278.8,1498.9 L279.1,1499.7 L279.4,1500.5 L279.7,1501.3 L280.0,1502.1 L280.3,1502.9 L280.6,1503.7 L280.9,1504.4 L281.3,1505.2 L281.6,1506.0 L281.9,1506.7 L282.2,1507.5 L282.5,1508.2 L282.8,1509.0 L283.1,1509.7 L283.4,1510.5 L283.7,1511.2 L284.0,1511.9 L284.3,1512.7 L284.6,1513.4 L284.9,1514.2 L285.2,1514.9 L285.5,1515.7 L285.8,1516.4 L286.2,1517.2 L286.5,1517.9 L286.8,1518.7 L287.1,1519.4 L287.4,1520.2 L287.7,1520.9 L288.0,1521.7 L288.3,1522.5 L288.6,1523.2 L288.9,1524.0 L289.2,1524.7 L289.5,1525.5 L289.8,1526.2 L290.1,1526.9 L290.4,1527.7 L290.7,1528.4 L291.0,1529.1 L291.4,1529.9 L291.7,1530.6 L292.0,1531.3 L292.3,1532.0 L292.6,1532.7 L292.9,1533.4 L293.2,1534.0 L293.5,1534.7 L293.8,1535.4 L294.1,1536.0 L294.4,1536.7 L294.7,1537.3 L295.0,1537.9 L295.3,1538.6 L295.6,1539.2 L295.9,1539.7 L296.3,1540.3 L296.6,1540.9 L296.9,1541.5 L297.2,1542.0 L297.5,1542.6 L297.8,1543.1 L298.1,1543.7 L298.4,1544.2 L298.7,1544.7 L299.0,1545.2 L299.3,1545.8 L299.6,1546.3 L299.9,1546.8 L300.2,1547.3 L300.5,1547.8 L300.8,1548.3 L301.1,1548.8 L301.5,1549.3 L301.8,1549.7 L302.1,1550.2 L302.4,1550.7 L302.7,1551.2 L303.0,1551.6 L303.3,1552.1 L303.6,1552.5 L303.9,1553.0 L304.2,1553.5 L304.5,1553.9 L304.8,1554.4 L305.1,1554.8 L305.4,1555.2 L305.7,1555.7 L306.0,1556.1 L306.4,1556.6 L306.7,1557.0 L307.0,1557.4 L307.3,1557.9 L307.6,1558.3 L307.9,1558.7 L308.2,1559.1 L308.5,1559.6 L308.8,1560.0 L309.1,1560.4 L309.4,1560.8 L309.7,1561.2 L310.0,1561.6 L310.3,1562.1 L310.6,1562.5 L310.9,1562.9 L311.2,1563.3 L311.6,1563.7 L311.9,1564.0 L312.2,1564.4 L312.5,1564.8 L312.8,1565.2 L313.1,1565.6 L313.4,1566.0 L313.7,1566.4 L314.0,1566.8 L314.3,1567.1 L314.6,1567.5 L314.9,1567.9 L315.2,1568.2 L315.5,1568.6 L315.8,1569.0 L316.1,1569.4 L316.4,1569.7 L316.8,1570.1 L317.1,1570.4 L317.4,1570.8 L317.7,1571.2 L318.0,1571.5 L318.3,1571.9 L318.6,1572.2 L318.9,1572.6 L319.2,1572.9 L319.5,1573.3 L319.8,1573.6 L320.1,1574.0 L320.4,1574.3 L320.7,1574.7 L321.0,1575.0 L321.3,1575.4 L321.7,1575.7 L322.0,1576.1 L322.3,1576.4 L322.6,1576.8 L322.9,1577.1 L323.2,1577.5 L323.5,1577.8 L323.8,1578.2 L324.1,1578.5 L324.4,1578.8 L324.7,1579.2 L325.0,1579.5 L325.3,1579.8 L325.6,1580.2 L325.9,1580.5 L326.2,1580.8 L326.5,1581.1 L326.9,1581.4 L327.2,1581.7 L327.5,1582.0 L327.8,1582.3 L328.1,1582.6 L328.4,1582.9 L328.7,1583.2 L329.0,1583.5 L329.3,1583.8 L329.6,1584.1 L329.9,1584.3 L330.2,1584.6 L330.5,1584.8 L330.8,1585.1 L331.1,1585.3 L331.4,1585.6 L331.8,1585.8 L332.1,1586.1 L332.4,1586.3 L332.7,1586.6 L333.0,1586.8 L333.3,1587.0 L333.6,1587.3 L333.9,1587.5 L334.2,1587.7 L334.5,1588.0 L334.8,1588.2 L335.1,1588.4 L335.4,1588.6 L335.7,1588.8 L336.0,1589.1 L336.3,1589.3 L336.6,1589.5 L337.0,1589.7 L337.3,1589.9 L337.6,1590.1 L337.9,1590.3 L338.2,1590.5 L338.5,1590.7 L338.8,1590.9 L339.1,1591.0 L339.4,1591.2 L339.7,1591.4 L340.0,1591.6 L340.3,1591.7 L340.6,1591.9 L340.9,1592.0 L341.2,1592.2 L341.5,1592.3 L341.9,1592.5 L342.2,1592.6 L342.5,1592.7 L342.8,1592.9 L343.1,1593.0 L343.4,1593.1 L343.7,1593.2 L344.0,1593.4 L344.3,1593.5 L344.6,1593.6 L344.9,1593.7 L345.2,1593.8 L345.5,1594.0 L345.8,1594.1 L346.1,1594.2 L346.4,1594.3 L346.7,1594.4 L347.1,1594.5 L347.4,1594.6 L347.7,1594.7 L348.0,1594.9 L348.3,1595.0 L348.6,1595.1 L348.9,1595.2 L349.2,1595.3 L349.5,1595.4 L349.8,1595.5 L350.1,1595.6 L350.4,1595.7 L350.7,1595.8 L351.0,1595.9 L351.3,1595.9 L351.6,1596.0 L352.0,1596.1 L352.3,1596.2 L352.6,1596.3 L352.9,1596.4 L353.2,1596.5 L353.5,1596.6 L353.8,1596.7 L354.1,1596.8 L354.4,1596.8 L354.7,1596.9 L355.0,1597.0 L355.3,1597.1 L355.6,1597.2 L355.9,1597.3 L356.2,1597.3 L356.5,1597.4 L356.8,1597.5 L357.2,1597.6 L357.5,1597.7 L357.8,1597.7 L358.1,1597.8 L358.4,1597.9 L358.7,1598.0 L359.0,1598.0 L359.3,1598.1 L359.6,1598.2 L359.9,1598.3 L360.2,1598.3 L360.5,1598.4 L360.8,1598.5 L361.1,1598.6 L361.4,1598.6 L361.7,1598.7 L362.0,1598.8 L362.4,1598.8 L362.7,1598.9 L363.0,1599.0 L363.3,1599.1 L363.6,1599.1 L363.9,1599.2 L364.2,1599.3 L364.5,1599.3 L364.8,1599.4 L365.1,1599.5 L365.4,1599.5 L365.7,1599.6 L366.0,1599.7 L366.3,1599.7 L366.6,1599.8 L366.9,1599.9 L367.3,1599.9 L367.6,1600.0 L367.9,1600.1 L368.2,1600.1 L368.5,1600.2 L368.8,1600.3 L369.1,1600.3 L369.4,1600.4 L369.7,1600.5 L370.0,1600.5 L370.3,1600.6 L370.6,1600.7 L370.9,1600.7 L371.2,1600.8 L371.5,1600.9 L371.8,1600.9 L372.1,1601.0 L372.5,1601.0 L372.8,1601.1 L373.1,1601.2 L373.4,1601.2 L373.7,1601.3 L374.0,1601.4 L374.3,1601.4 L374.6,1601.5 L374.9,1601.5 L375.2,1601.6 L375.5,1601.7 L375.8,1601.7 L376.1,1601.8 L376.4,1601.8 L376.7,1601.9 L377.0,1602.0 L377.4,1602.0 L377.7,1602.1 L378.0,1602.1 L378.3,1602.2 L378.6,1602.2 L378.9,1602.3 L379.2,1602.4 L379.5,1602.4 L379.8,1602.5 L380.1,1602.5 L380.4,1602.6 L380.7,1602.6 L381.0,1602.7 L381.3,1602.7 L381.6,1602.8 L381.9,1602.9 L382.2,1602.9 L382.6,1603.0 L382.9,1603.0 L383.2,1603.1 L383.5,1603.1 L383.8,1603.2 L384.1,1603.2 L384.4,1603.3 L384.7,1603.3 L385.0,1603.4 L385.3,1603.4 L385.6,1603.5 L385.9,1603.5 L386.2,1603.6 L386.5,1603.6 L386.8,1603.7 L387.1,1603.7 L387.5,1603.8 L387.8,1603.8 L388.1,1603.9 L388.4,1603.9 L388.7,1604.0 L389.0,1604.0 L389.3,1604.1 L389.6,1604.1 L389.9,1604.2 L390.2,1604.2 L390.5,1604.3 L390.8,1604.3 L391.1,1604.4 L391.4,1604.4 L391.7,1604.5 L392.0,1604.5 L392.3,1604.5 L392.7,1604.6 L393.0,1604.6 L393.3,1604.7 L393.6,1604.7 L393.9,1604.8 L394.2,1604.8 L394.5,1604.9 L394.8,1604.9 L395.1,1605.0 L395.4,1605.0 L395.7,1605.0 L396.0,1605.1 L396.3,1605.1 L396.6,1605.2 L396.9,1605.2 L397.2,1605.2 L397.5,1605.3 L397.9,1605.3 L398.2,1605.4 L398.5,1605.4 L398.8,1605.5 L399.1,1605.5 L399.4,1605.5 L399.7,1605.6 L400.0,1605.6 L400.3,1605.7 L400.6,1605.7 L400.9,1605.7 L401.2,1605.8 L401.5,1605.8 L401.8,1605.9 L402.1,1605.9 L402.4,1605.9 L402.8,1606.0 L403.1,1606.0 L403.4,1606.0 L403.7,1606.1 L404.0,1606.1 L404.3,1606.2 L404.6,1606.2 L404.9,1606.2 L405.2,1606.3 L405.5,1606.3 L405.8,1606.4 L406.1,1606.4 L406.4,1606.4 L406.7,1606.5 L407.0,1606.5 L407.3,1606.5 L407.6,1606.6 L408.0,1606.6 L408.3,1606.6 L408.6,1606.7 L408.9,1606.7 L409.2,1606.8 L409.5,1606.8 L409.8,1606.8 L410.1,1606.9 L410.4,1606.9 L410.7,1606.9 L411.0,1607.0 L411.3,1607.0 L411.6,1607.0 L411.9,1607.1 L412.2,1607.1 L412.5,1607.1 L412.9,1607.2 L413.2,1607.2 L413.5,1607.3 L413.8,1607.3 L414.1,1607.3 L414.4,1607.4 L414.7,1607.4 L415.0,1607.4 L415.3,1607.5 L415.6,1607.5 L415.9,1607.5 L416.2,1607.6 L416.5,1607.6 L416.8,1607.6 L417.1,1607.7 L417.4,1607.7 L417.7,1607.7 L418.1,1607.8 L418.4,1607.8 L418.7,1607.8 L419.0,1607.9 L419.3,1607.9 L419.6,1607.9 L419.9,1608.0 L420.2,1608.0 L420.5,1608.0 L420.8,1608.1 L421.1,1608.1 L421.4,1608.1 L421.7,1608.1 L422.0,1608.2 L422.3,1608.2 L422.6,1608.2 L423.0,1608.3 L423.3,1608.3 L423.6,1608.3 L423.9,1608.4 L424.2,1608.4 L424.5,1608.4 L424.8,1608.5 L425.1,1608.5 L425.4,1608.5 L425.7,1608.6 L426.0,1608.6 L426.3,1608.6 L426.6,1608.6 L426.9,1608.7 L427.2,1608.7 L427.5,1608.7 L427.8,1608.8 L428.2,1608.8 L428.5,1608.8 L428.8,1608.8 L429.1,1608.9 L429.4,1608.9 L429.7,1608.9 L430.0,1609.0 L430.3,1609.0 L430.6,1609.0 L430.9,1609.1 L431.2,1609.1 L431.5,1609.1 L431.8,1609.1 L432.1,1609.2 L432.4,1609.2 L432.7,1609.2 L433.1,1609.2 L433.4,1609.3 L433.7,1609.3 L434.0,1609.3 L434.3,1609.4 L434.6,1609.4 L434.9,1609.4 L435.2,1609.4 L435.5,1609.5 L435.8,1609.5 L436.1,1609.5 L436.4,1609.5 L436.7,1609.6 L437.0,1609.6 L437.3,1609.6 L437.6,1609.7 L437.9,1609.7 L438.3,1609.7 L438.6,1609.7 L438.9,1609.8 L439.2,1609.8 L439.5,1609.8 L439.8,1609.8 L440.1,1609.9 L440.4,1609.9 L440.7,1609.9 L441.0,1609.9 L441.3,1610.0 L441.6,1610.0 L441.9,1610.0 L442.2,1610.0 L442.5,1610.1 L442.8,1610.1 L443.1,1610.1 L443.5,1610.1 L443.8,1610.2 L444.1,1610.2 L444.4,1610.2 L444.7,1610.2 L445.0,1610.3 L445.3,1610.3 L445.6,1610.3 L445.9,1610.3 L446.2,1610.4 L446.5,1610.4 L446.8,1610.4 L447.1,1610.4 L447.4,1610.5 L447.7,1610.5 L448.0,1610.5 L448.4,1610.5 L448.7,1610.5 L449.0,1610.6 L449.3,1610.6 L449.6,1610.6 L449.9,1610.6 L450.2,1610.7 L450.5,1610.7 L450.8,1610.7 L451.1,1610.7 L451.4,1610.8 L451.7,1610.8 L452.0,1610.8 L452.3,1610.8 L452.6,1610.8 L452.9,1610.9 L453.2,1610.9 L453.6,1610.9 L453.9,1610.9 L454.2,1611.0 L454.5,1611.0 L454.8,1611.0 L455.1,1611.0 L455.4,1611.0 L455.7,1611.1 L456.0,1611.1 L456.3,1611.1 L456.6,1611.1 L456.9,1611.2 L457.2,1611.2 L457.5,1611.2 L457.8,1611.2 L458.1,1611.2 L458.5,1611.3 L458.8,1611.3 L459.1,1611.3 L459.4,1611.3 L459.7,1611.4 L460.0,1611.4 L460.3,1611.4 L460.6,1611.4 L460.9,1611.4 L461.2,1611.5 L461.5,1611.5 L461.8,1611.5 L462.1,1611.5 L462.4,1611.5 L462.7,1611.6 L463.0,1611.6 L463.3,1611.6 L463.7,1611.6 L464.0,1611.7 L464.3,1611.7 L464.6,1611.7 L464.9,1611.7 L465.2,1611.7 L465.5,1611.8 L465.8,1611.8 L466.1,1611.8 L466.4,1611.8 L466.7,1611.8 L467.0,1611.9 L467.3,1611.9 L467.6,1611.9 L467.9,1611.9 L468.2,1611.9 L468.6,1612.0 L468.9,1612.0 L469.2,1612.0 L469.5,1612.0 L469.8,1612.0 L470.1,1612.1 L470.4,1612.1 L470.7,1612.1 L471.0,1612.1 L471.3,1612.1 L471.6,1612.2 L471.9,1612.2 L472.2,1612.2 L472.5,1612.2 L472.8,1612.3 L473.1,1612.3 L473.4,1612.3 L473.8,1612.3 L474.1,1612.3 L474.4,1612.4 L474.7,1612.4 L475.0,1612.4 L475.3,1612.4 L475.6,1612.4 L475.9,1612.4 L476.2,1612.5 L476.5,1612.5 L476.8,1612.5 L477.1,1612.5 L477.4,1612.5 L477.7,1612.6 L478.0,1612.6 L478.3,1612.6 L478.7,1612.6 L479.0,1612.6 L479.3,1612.7 L479.6,1612.7 L479.9,1612.7 L480.2,1612.7 L480.5,1612.7 L480.8,1612.8 L481.1,1612.8 L481.4,1612.8 L481.7,1612.8 L482.0,1612.8 L482.3,1612.9 L482.6,1612.9 L482.9,1612.9 L483.2,1612.9 L483.5,1612.9 L483.9,1612.9 L484.2,1613.0 L484.5,1613.0 L484.8,1613.0 L485.1,1613.0 L485.4,1613.0 L485.7,1613.1 L486.0,1613.1 L486.3,1613.1 L486.6,1613.1 L486.9,1613.1 L487.2,1613.1 L487.5,1613.2 L487.8,1613.2 L488.1,1613.2 L488.4,1613.2 L488.7,1613.2 L489.1,1613.3 L489.4,1613.3 L489.7,1613.3 L490.0,1613.3 L490.3,1613.3 L490.6,1613.3 L490.9,1613.4 L491.2,1613.4 L491.5,1613.4 L491.8,1613.4 L492.1,1613.4 L492.4,1613.4 L492.7,1613.5 L493.0,1613.5 L493.3,1613.5 L493.6,1613.5 L494.0,1613.5 L494.3,1613.5 L494.6,1613.6 L494.9,1613.6 L495.2,1613.6 L495.5,1613.6 L495.8,1613.6 L496.1,1613.6 L496.4,1613.7 L496.7,1613.7 L497.0,1613.7 L497.3,1613.7 L497.6,1613.7 L497.9,1613.7 L498.2,1613.8 L498.5,1613.8 L498.8,1613.8 L499.2,1613.8 L499.5,1613.8 L499.8,1613.8 L500.1,1613.9 L500.4,1613.9 L500.7,1613.9 L501.0,1613.9 L501.3,1613.9 L501.6,1613.9 L501.9,1614.0 L502.2,1614.0 L502.5,1614.0 L502.8,1614.0 L503.1,1614.0 L503.4,1614.0 L503.7,1614.0 L504.1,1614.1 L504.4,1614.1 L504.7,1614.1 L505.0,1614.1 L505.3,1614.1 L505.6,1614.1 L505.9,1614.1 L506.2,1614.2 L506.5,1614.2 L506.8,1614.2 L507.1,1614.2 L507.4,1614.2 L507.7,1614.2 L508.0,1614.3 L508.3,1614.3 L508.6,1614.3 L508.9,1614.3 L509.3,1614.3 L509.6,1614.3 L509.9,1614.3 L510.2,1614.4 L510.5,1614.4 L510.8,1614.4 L511.1,1614.4 L511.4,1614.4 L511.7,1614.4 L512.0,1614.4 L512.3,1614.4 L512.6,1614.5 L512.9,1614.5 L513.2,1614.5 L513.5,1614.5 L513.8,1614.5 L514.2,1614.5 L514.5,1614.5 L514.8,1614.6 L515.1,1614.6 L515.4,1614.6 L515.7,1614.6 L516.0,1614.6 L516.3,1614.6 L516.6,1614.6 L516.9,1614.6 L517.2,1614.7 L517.5,1614.7 L517.8,1614.7 L518.1,1614.7 L518.4,1614.7 L518.7,1614.7 L519.0,1614.7 L519.4,1614.7 L519.7,1614.8 L520.0,1614.8 L520.3,1614.8 L520.6,1614.8 L520.9,1614.8 L521.2,1614.8 L521.5,1614.8 L521.8,1614.8 L522.1,1614.9 L522.4,1614.9 L522.7,1614.9 L523.0,1614.9 L523.3,1614.9 L523.6,1614.9 L523.9,1614.9 L524.3,1614.9 L524.6,1615.0 L524.9,1615.0 L525.2,1615.0 L525.5,1615.0 L525.8,1615.0 L526.1,1615.0 L526.4,1615.0 L526.7,1615.0 L527.0,1615.0 L527.3,1615.1 L527.6,1615.1 L527.9,1615.1 L528.2,1615.1 L528.5,1615.1 L528.8,1615.1 L529.1,1615.1 L529.5,1615.1 L529.8,1615.1 L530.1,1615.2 L530.4,1615.2 L530.7,1615.2 L531.0,1615.2 L531.3,1615.2 L531.6,1615.2 L531.9,1615.2 L532.2,1615.2 L532.5,1615.2 L532.8,1615.2 L533.1,1615.3 L533.4,1615.3 L533.7,1615.3 L534.0,1615.3 L534.3,1615.3 L534.7,1615.3 L535.0,1615.3 L535.3,1615.3 L535.6,1615.3 L535.9,1615.4 L536.2,1615.4 L536.5,1615.4 L536.8,1615.4 L537.1,1615.4 L537.4,1615.4 L537.7,1615.4 L538.0,1615.4 L538.3,1615.4 L538.6,1615.5 L538.9,1615.5 L539.2,1615.5 L539.6,1615.5 L539.9,1615.5 L540.2,1615.5 L540.5,1615.5 L540.8,1615.5 L541.1,1615.5 L541.4,1615.5 L541.7,1615.6 L542.0,1615.6 L542.3,1615.6 L542.6,1615.6 L542.9,1615.6 L543.2,1615.6 L543.5,1615.6 L543.8,1615.6 L544.1,1615.6 L544.4,1615.6 L544.8,1615.7 L545.1,1615.7 L545.4,1615.7 L545.7,1615.7 L546.0,1615.7 L546.3,1615.7 L546.6,1615.7 L546.9,1615.7 L547.2,1615.7 L547.5,1615.7 L547.8,1615.8 L548.1,1615.8 L548.4,1615.8 L548.7,1615.8 L549.0,1615.8 L549.3,1615.8 L549.7,1615.8 L550.0,1615.8 L550.3,1615.8 L550.6,1615.8 L550.9,1615.8 L551.2,1615.9 L551.5,1615.9 L551.8,1615.9 L552.1,1615.9 L552.4,1615.9 L552.7,1615.9 L553.0,1615.9 L553.3,1615.9 L553.6,1615.9 L553.9,1615.9 L554.2,1615.9 L554.5,1615.9 L554.9,1616.0 L555.2,1616.0 L555.5,1616.0 L555.8,1616.0 L556.1,1616.0 L556.4,1616.0 L556.7,1616.0 L557.0,1616.0 L557.3,1616.0 L557.6,1616.0 L557.9,1616.0 L558.2,1616.0 L558.5,1616.0 L558.8,1616.1 L559.1,1616.1 L559.4,1616.1 L559.8,1616.1 L560.1,1616.1 L560.4,1616.1 L560.7,1616.1 L561.0,1616.1 L561.3,1616.1 L561.6,1616.1 L561.9,1616.1 L562.2,1616.1 L562.5,1616.1 L562.8,1616.1 L563.1,1616.1 L563.4,1616.1 L563.7,1616.2 L564.0,1616.2 L564.3,1616.2 L564.6,1616.2 L565.0,1616.2 L565.3,1616.2 L565.6,1616.2 L565.9,1616.2 L566.2,1616.2 L566.5,1616.2 L566.8,1616.2 L567.1,1616.2 L567.4,1616.2 L567.7,1616.2 L568.0,1616.2 L568.3,1616.2 L568.6,1616.2 L568.9,1616.2 L569.2,1616.2 L569.5,1616.2 L569.8,1616.3 L570.2,1616.3 L570.5,1616.3 L570.8,1616.3 L571.1,1616.3 L571.4,1616.3 L571.7,1616.3 L572.0,1616.3 L572.3,1616.3 L572.6,1616.3 L572.9,1616.3 L573.2,1616.3 L573.5,1616.3 L573.8,1616.3 L574.1,1616.3 L574.4,1616.3 L574.7,1616.3 L575.1,1616.3 L575.4,1616.3 L575.7,1616.3 L576.0,1616.3 L576.3,1616.3 L576.6,1616.3 L576.9,1616.3 L577.2,1616.3 L577.5,1616.3 L577.8,1616.3 L578.1,1616.3 L578.4,1616.3 L578.7,1616.3 L579.0,1616.3 L579.3,1616.4 L579.6,1616.4 L579.9,1616.4 L580.3,1616.4 L580.6,1616.4 L580.9,1616.4 L581.2,1616.4 L581.5,1616.4 L581.8,1616.4 L582.1,1616.4 L582.4,1616.4 L582.7,1616.4 L583.0,1616.4 L583.3,1616.4 L583.6,1616.4 L583.9,1616.4 L584.2,1616.4 L584.5,1616.4 L584.8,1616.4 L585.2,1616.4 L585.5,1616.4 L585.8,1616.4 L586.1,1616.4 L586.4,1616.4 L586.7,1616.4 L587.0,1616.4 L587.3,1616.4 L587.6,1616.4 L587.9,1616.4 L588.2,1616.4 L588.5,1616.4 L588.8,1616.4 L589.1,1616.4 L589.4,1616.4 L589.7,1616.4 L590.0,1616.4 L590.4,1616.5 L590.7,1616.5 L591.0,1616.5 L591.3,1616.5 L591.6,1616.5 L591.9,1616.5 L592.2,1616.5 L592.5,1616.5 L592.8,1616.5 L593.1,1616.5 L593.4,1616.5 L593.7,1616.5 L594.0,1616.5 L594.3,1616.5 L594.6,1616.5 L594.9,1616.5 L595.3,1616.5 L595.6,1616.5 L595.9,1616.5 L596.2,1616.5 L596.5,1616.5 L596.8,1616.5 L597.1,1616.5 L597.4,1616.5 L597.7,1616.5 L598.0,1616.5 L598.3,1616.5 L598.6,1616.5 L598.9,1616.5 L599.2,1616.5 L599.5,1616.5 L599.8,1616.5 L600.1,1616.5 L600.5,1616.5 L600.8,1616.5 L601.1,1616.5 L601.4,1616.5 L601.7,1616.5 L602.0,1616.5 L602.3,1616.5 L602.6,1616.5 L602.9,1616.5 L603.2,1616.6 L603.5,1616.6 L603.8,1616.6 L604.1,1616.6 L604.4,1616.6 L604.7,1616.6 L605.0,1616.6 L605.4,1616.6 L605.7,1616.6 L606.0,1616.6 L606.3,1616.6 L606.6,1616.6 L606.9,1616.6 L607.2,1616.6 L607.5,1616.6 L607.8,1616.6 L608.1,1616.6 L608.4,1616.6 L608.7,1616.6 L609.0,1616.6 L609.3,1616.6 L609.6,1616.6 L609.9,1616.6 L610.2,1616.6 L610.6,1616.6 L610.9,1616.6 L611.2,1616.6 L611.5,1616.6 L611.8,1616.6 L612.1,1616.6 L612.4,1616.6 L612.7,1616.6 L613.0,1616.6 L613.3,1616.6 L613.6,1616.6 L613.9,1616.6 L614.2,1616.6 L614.5,1616.6 L614.8,1616.6 L615.1,1616.6 L615.4,1616.6 L615.8,1616.6 L616.1,1616.6 L616.4,1616.6 L616.7,1616.6 L617.0,1616.6 L617.3,1616.6 L617.6,1616.6 L617.9,1616.6 L618.2,1616.6 L618.5,1616.6 L618.8,1616.6 L619.1,1616.6 L619.4,1616.6 L619.7,1616.6 L620.0,1616.6 L620.3,1616.6 L620.7,1616.6 L621.0,1616.6 L621.3,1616.6 L621.6,1616.6 L621.9,1616.6 L622.2,1616.6 L622.5,1616.6 L622.8,1616.6 L623.1,1616.6 L623.4,1616.6 L623.7,1616.6 L624.0,1616.6 L624.3,1616.6 L624.6,1616.6 L624.9,1616.6 L625.2,1616.6 L625.5,1616.6 L625.9,1616.6 L626.2,1616.7 L626.5,1616.7 L626.8,1616.7 L627.1,1616.7 L627.4,1616.7 L627.7,1616.7 L628.0,1616.7 L628.3,1616.7 L628.6,1616.7 L628.9,1616.7 L629.2,1616.7 L629.5,1616.7 L629.8,1616.7 L630.1,1616.7 L630.4,1616.7 L630.8,1616.7 L631.1,1616.7 L631.4,1616.7 L631.7,1616.7 L632.0,1616.7 L632.3,1616.7 L632.6,1616.7 L632.9,1616.7 L633.2,1616.7" fill="none" stroke="#ec3b3b" stroke-width="3" stroke-linejoin="round" stroke-linecap="butt" />
<path d="M122.8,1602.6 L123.4,1602.6 L124.0,1602.6 L124.6,1602.6 L125.2,1602.6 L125.9,1602.6 L126.5,1602.6 L127.1,1602.6 L127.7,1602.6 L128.3,1602.6 L128.9,1602.6 L129.5,1602.6 L130.1,1602.6 L130.7,1602.6 L131.4,1602.6 L132.0,1602.5 L132.6,1602.5 L133.2,1602.4 L133.8,1602.3 L134.4,1602.2 L135.0,1602.1 L135.6,1601.9 L136.3,1601.7 L136.9,1601.6 L137.5,1601.4 L138.1,1601.2 L138.7,1601.0 L139.3,1600.8 L139.9,1600.5 L140.5,1600.1 L141.2,1599.7 L141.8,1599.3 L142.4,1599.0 L143.0,1598.8 L143.6,1598.7 L144.2,1598.8 L144.8,1598.9 L145.4,1599.1 L146.0,1599.4 L146.7,1599.6 L147.3,1599.9 L147.9,1600.3 L148.5,1600.5 L149.1,1600.8 L149.7,1601.0 L150.3,1601.2 L150.9,1601.4 L151.6,1601.6 L152.2,1601.8 L152.8,1602.0 L153.4,1602.1 L154.0,1602.3 L154.6,1602.5 L155.2,1602.6 L155.8,1602.8 L156.5,1602.9 L157.1,1603.1 L157.7,1603.2 L158.3,1603.3 L158.9,1603.4 L159.5,1603.6 L160.1,1603.7 L160.7,1603.8 L161.3,1603.9 L162.0,1604.0 L162.6,1604.1 L163.2,1604.2 L163.8,1604.3 L164.4,1604.4 L165.0,1604.5 L165.6,1604.6 L166.2,1604.6 L166.9,1604.7 L167.5,1604.8 L168.1,1604.8 L168.1,1621.6 L122.8,1621.6 Z" fill="url(#gg_blue)" stroke="none" />
<path d="M122.8,1602.6 L123.4,1602.6 L124.0,1602.6 L124.6,1602.6 L125.2,1602.6 L125.9,1602.6 L126.5,1602.6 L127.1,1602.6 L127.7,1602.6 L128.3,1602.6 L128.9,1602.6 L129.5,1602.6 L130.1,1602.6 L130.7,1602.6 L131.4,1602.6 L132.0,1602.5 L132.6,1602.5 L133.2,1602.4 L133.8,1602.3 L134.4,1602.2 L135.0,1602.1 L135.6,1601.9 L136.3,1601.7 L136.9,1601.6 L137.5,1601.4 L138.1,1601.2 L138.7,1601.0 L139.3,1600.8 L139.9,1600.5 L140.5,1600.1 L141.2,1599.7 L141.8,1599.3 L142.4,1599.0 L143.0,1598.8 L143.6,1598.7 L144.2,1598.8 L144.8,1598.9 L145.4,1599.1 L146.0,1599.4 L146.7,1599.6 L147.3,1599.9 L147.9,1600.3 L148.5,1600.5 L149.1,1600.8 L149.7,1601.0 L150.3,1601.2 L150.9,1601.4 L151.6,1601.6 L152.2,1601.8 L152.8,1602.0 L153.4,1602.1 L154.0,1602.3 L154.6,1602.5 L155.2,1602.6 L155.8,1602.8 L156.5,1602.9 L157.1,1603.1 L157.7,1603.2 L158.3,1603.3 L158.9,1603.4 L159.5,1603.6 L160.1,1603.7 L160.7,1603.8 L161.3,1603.9 L162.0,1604.0 L162.6,1604.1 L163.2,1604.2 L163.8,1604.3 L164.4,1604.4 L165.0,1604.5 L165.6,1604.6 L166.2,1604.6 L166.9,1604.7 L167.5,1604.8 L168.1,1604.8" fill="none" stroke="#1c6ae0" stroke-width="3" stroke-linejoin="round" stroke-linecap="butt" />
<path d="M156.5,1486.7 L156.8,1496.9 L157.1,1506.9 L157.4,1516.7 L157.7,1526.3 L158.0,1536.3 L158.3,1546.9 L158.6,1557.6 L158.9,1567.6 L159.2,1576.5 L159.5,1583.5 L159.8,1588.0 L160.1,1591.5 L160.4,1594.5 L160.7,1596.5 L161.0,1597.3 L161.3,1597.6 L161.7,1597.9 L162.0,1598.2 L162.3,1598.5 L162.6,1598.7 L162.9,1598.9 L163.2,1599.1 L163.5,1599.3 L163.8,1599.4 L164.1,1599.6 L164.4,1599.7 L164.7,1599.8 L165.0,1599.9 L165.3,1600.0 L165.6,1600.1 L165.9,1600.2 L166.2,1600.3 L166.5,1600.3 L166.9,1600.4 L167.2,1600.5 L167.5,1600.5 L167.8,1600.6 L168.1,1600.7 L168.4,1600.7 L168.7,1600.8 L169.0,1600.8 L169.3,1600.9 L169.6,1601.0 L169.9,1601.0 L170.2,1601.1 L170.5,1601.1 L170.8,1601.2 L171.1,1601.2 L171.4,1601.3 L171.8,1601.3 L172.1,1601.4 L172.4,1601.4 L172.7,1601.5 L173.0,1601.5 L173.3,1601.6 L173.6,1601.6 L173.9,1601.7 L174.2,1601.7 L174.5,1601.7 L174.8,1601.8 L175.1,1601.8 L175.4,1601.9 L175.7,1601.9 L176.0,1601.9 L176.3,1602.0 L176.6,1602.0 L177.0,1602.1 L177.3,1602.1 L177.6,1602.1 L177.9,1602.2 L178.2,1602.2 L178.5,1602.2 L178.8,1602.3 L179.1,1602.3 L179.4,1602.3 L179.7,1602.3 L180.0,1602.4 L180.3,1602.4 L180.6,1602.4 L180.9,1602.5 L181.2,1602.5 L181.5,1602.5 L181.8,1602.5 L182.2,1602.6 L182.5,1602.6 L182.8,1602.6 L183.1,1602.7 L183.4,1602.7 L183.7,1602.7 L184.0,1602.7 L184.3,1602.8 L184.6,1602.8 L184.9,1602.8 L185.2,1602.8 L185.5,1602.9 L185.8,1602.9 L186.1,1602.9 L186.4,1602.9 L186.7,1603.0 L187.1,1603.0 L187.4,1603.0 L187.7,1603.0 L188.0,1603.1 L188.3,1603.1 L188.6,1603.1 L188.9,1603.2 L189.2,1603.2 L189.5,1603.2 L189.8,1603.2 L190.1,1603.3 L190.4,1603.3 L190.7,1603.3 L191.0,1603.3 L191.3,1603.4 L191.6,1603.4 L191.9,1603.4 L192.3,1603.5 L192.6,1603.5 L192.9,1603.5 L193.2,1603.6 L193.5,1603.6 L193.8,1603.6 L194.1,1603.6 L194.4,1603.7 L194.7,1603.7 L195.0,1603.7 L195.3,1603.8 L195.6,1603.8 L195.9,1603.8 L196.2,1603.8 L196.5,1603.9 L196.8,1603.9 L197.1,1603.9 L197.5,1604.0 L197.8,1604.0 L198.1,1604.0 L198.4,1604.1 L198.7,1604.1 L199.0,1604.1 L199.3,1604.1 L199.6,1604.2 L199.9,1604.2 L200.2,1604.2 L200.5,1604.3 L200.8,1604.3 L201.1,1604.3 L201.4,1604.3 L201.7,1604.4 L202.0,1604.4 L202.4,1604.4 L202.7,1604.5 L203.0,1604.5 L203.3,1604.5 L203.6,1604.5 L203.9,1604.6 L204.2,1604.6 L204.5,1604.6 L204.8,1604.7 L205.1,1604.7 L205.4,1604.7 L205.7,1604.7 L206.0,1604.8 L206.3,1604.8 L206.6,1604.8 L206.9,1604.8 L207.2,1604.9 L207.6,1604.9 L207.9,1604.9 L208.2,1604.9 L208.5,1605.0 L208.8,1605.0 L209.1,1605.0 L209.4,1605.0 L209.7,1605.1 L210.0,1605.1 L210.3,1605.1 L210.6,1605.1 L210.9,1605.2 L211.2,1605.2 L211.5,1605.2 L211.8,1605.2 L212.1,1605.3 L212.4,1605.3 L212.8,1605.3 L213.1,1605.3 L213.4,1605.4 L213.7,1605.4 L214.0,1605.4 L214.3,1605.4 L214.6,1605.4 L214.9,1605.5 L215.2,1605.5 L215.5,1605.5 L215.8,1605.5 L216.1,1605.5 L216.4,1605.6 L216.7,1605.6 L217.0,1605.6 L217.3,1605.6 L217.7,1605.6 L218.0,1605.7 L218.3,1605.7 L218.6,1605.7 L218.9,1605.7 L219.2,1605.7 L219.5,1605.7 L219.8,1605.8 L220.1,1605.8 L220.4,1605.8 L220.7,1605.8 L221.0,1605.8 L221.3,1605.8 L221.6,1605.8 L221.9,1605.9 L222.2,1605.9 L222.5,1605.9 L222.9,1605.9 L223.2,1605.9 L223.5,1605.9 L223.8,1605.9 L224.1,1605.9 L224.4,1606.0 L224.7,1606.0 L225.0,1606.0 L225.3,1606.0 L225.6,1606.0 L225.9,1606.0 L226.2,1606.0 L226.5,1606.0 L226.8,1606.0 L227.1,1606.0 L227.4,1606.0 L227.8,1606.1 L228.1,1606.1 L228.4,1606.1 L228.7,1606.1 L229.0,1606.1 L229.3,1606.1 L229.6,1606.1 L229.9,1606.1 L230.2,1606.1 L230.5,1606.1 L230.8,1606.1 L231.1,1606.1 L231.4,1606.1 L231.7,1606.1 L232.0,1606.1 L232.3,1606.2 L232.6,1606.2 L233.0,1606.2 L233.3,1606.2 L233.6,1606.2 L233.9,1606.2 L234.2,1606.2 L234.5,1606.2 L234.8,1606.2 L235.1,1606.2 L235.4,1606.2 L235.7,1606.2 L236.0,1606.2 L236.3,1606.2 L236.6,1606.2 L236.9,1606.2 L237.2,1606.2 L237.5,1606.2 L237.8,1606.2 L238.2,1606.3 L238.5,1606.3 L238.8,1606.3 L239.1,1606.3 L239.4,1606.3 L239.7,1606.3 L240.0,1606.3 L240.3,1606.3 L240.6,1606.3 L240.9,1606.3 L241.2,1606.3 L241.5,1606.3 L241.8,1606.3 L242.1,1606.3 L242.4,1606.3 L242.7,1606.3 L243.1,1606.3 L243.4,1606.3 L243.7,1606.3 L244.0,1606.3 L244.3,1606.3 L244.6,1606.3 L244.9,1606.3 L245.2,1606.4 L245.5,1606.4 L245.8,1606.4 L246.1,1606.4 L246.4,1606.4 L246.7,1606.4 L247.0,1606.4 L247.3,1606.4 L247.6,1606.4 L247.9,1606.4 L248.3,1606.4 L248.6,1606.4 L248.9,1606.4 L249.2,1606.4 L249.5,1606.4 L249.8,1606.4 L250.1,1606.4 L250.4,1606.4 L250.7,1606.4 L251.0,1606.4 L251.3,1606.4 L251.6,1606.4 L251.9,1606.4 L252.2,1606.5 L252.5,1606.5 L252.8,1606.5 L253.1,1606.5 L253.5,1606.5 L253.8,1606.5 L254.1,1606.5 L254.4,1606.5 L254.7,1606.5 L255.0,1606.5 L255.3,1606.5 L255.6,1606.5 L255.9,1606.5 L256.2,1606.5 L256.5,1606.5 L256.8,1606.5 L257.1,1606.5 L257.4,1606.5 L257.7,1606.6 L258.0,1606.6 L258.4,1606.6 L258.7,1606.6 L259.0,1606.6 L259.3,1606.6 L259.6,1606.6 L259.9,1606.6 L260.2,1606.6 L260.5,1606.6 L260.8,1606.6 L261.1,1606.6 L261.4,1606.6 L261.7,1606.6 L262.0,1606.6 L262.3,1606.6 L262.6,1606.7 L262.9,1606.7 L263.2,1606.7 L263.6,1606.7 L263.9,1606.7 L264.2,1606.7 L264.5,1606.7 L264.8,1606.7 L265.1,1606.7 L265.4,1606.7 L265.7,1606.7 L266.0,1606.7 L266.3,1606.7 L266.6,1606.7 L266.9,1606.8 L267.2,1606.8 L267.5,1606.8 L267.8,1606.8 L268.1,1606.8 L268.4,1606.8 L268.8,1606.8 L269.1,1606.8 L269.4,1606.8 L269.7,1606.8 L270.0,1606.8 L270.3,1606.8 L270.6,1606.9 L270.9,1606.9 L271.2,1606.9 L271.5,1606.9 L271.8,1606.9 L272.1,1606.9 L272.4,1606.9 L272.7,1606.9 L273.0,1606.9 L273.3,1606.9 L273.6,1606.9 L274.0,1607.0 L274.3,1607.0 L274.6,1607.0 L274.9,1607.0 L275.2,1607.0 L275.5,1607.0 L275.8,1607.0 L276.1,1607.0 L276.4,1607.0 L276.7,1607.1 L277.0,1607.1 L277.3,1607.1 L277.6,1607.1 L277.9,1607.1 L278.2,1607.1 L278.5,1607.1 L278.9,1607.2 L279.2,1607.2 L279.5,1607.2 L279.8,1607.2 L280.1,1607.2 L280.4,1607.3 L280.7,1607.3 L281.0,1607.3 L281.3,1607.3 L281.6,1607.4 L281.9,1607.4 L282.2,1607.4 L282.5,1607.5 L282.8,1607.5 L283.1,1607.5 L283.4,1607.5 L283.7,1607.6 L284.1,1607.6 L284.4,1607.6 L284.7,1607.7 L285.0,1607.7 L285.3,1607.8 L285.6,1607.8 L285.9,1607.8 L286.2,1607.9 L286.5,1607.9 L286.8,1607.9 L287.1,1608.0 L287.4,1608.0 L287.7,1608.1 L288.0,1608.1 L288.3,1608.1 L288.6,1608.2 L288.9,1608.2 L289.3,1608.2 L289.6,1608.3 L289.9,1608.3 L290.2,1608.4 L290.5,1608.4 L290.8,1608.4 L291.1,1608.5 L291.4,1608.5 L291.7,1608.6 L292.0,1608.6 L292.3,1608.6 L292.6,1608.7 L292.9,1608.7 L293.2,1608.7 L293.5,1608.8 L293.8,1608.8 L294.2,1608.8 L294.5,1608.9 L294.8,1608.9 L295.1,1608.9 L295.4,1609.0 L295.7,1609.0 L296.0,1609.0 L296.3,1609.1 L296.6,1609.1 L296.9,1609.1 L297.2,1609.1 L297.5,1609.2 L297.8,1609.2 L298.1,1609.2 L298.4,1609.3 L298.7,1609.3 L299.0,1609.3 L299.4,1609.4 L299.7,1609.4 L300.0,1609.4 L300.3,1609.5 L300.6,1609.5 L300.9,1609.5 L301.2,1609.6 L301.5,1609.6 L301.8,1609.6 L302.1,1609.7 L302.4,1609.7 L302.7,1609.7 L303.0,1609.7 L303.3,1609.8 L303.6,1609.8 L303.9,1609.8 L304.2,1609.9 L304.6,1609.9 L304.9,1609.9 L305.2,1610.0 L305.5,1610.0 L305.8,1610.0 L306.1,1610.1 L306.4,1610.1 L306.7,1610.1 L307.0,1610.2 L307.3,1610.2 L307.6,1610.2 L307.9,1610.3 L308.2,1610.3 L308.5,1610.3 L308.8,1610.4 L309.1,1610.4 L309.5,1610.4 L309.8,1610.4 L310.1,1610.5 L310.4,1610.5 L310.7,1610.5 L311.0,1610.6 L311.3,1610.6 L311.6,1610.6 L311.9,1610.7 L312.2,1610.7 L312.5,1610.7 L312.8,1610.8 L313.1,1610.8 L313.4,1610.8 L313.7,1610.8 L314.0,1610.9 L314.3,1610.9 L314.7,1610.9 L315.0,1611.0 L315.3,1611.0 L315.6,1611.0 L315.9,1611.1 L316.2,1611.1 L316.5,1611.1 L316.8,1611.1 L317.1,1611.2 L317.4,1611.2 L317.7,1611.2 L318.0,1611.3 L318.3,1611.3 L318.6,1611.3 L318.9,1611.3 L319.2,1611.4 L319.5,1611.4 L319.9,1611.4 L320.2,1611.5 L320.5,1611.5 L320.8,1611.5 L321.1,1611.5 L321.4,1611.6 L321.7,1611.6 L322.0,1611.6 L322.3,1611.7 L322.6,1611.7 L322.9,1611.7 L323.2,1611.7 L323.5,1611.8 L323.8,1611.8 L324.1,1611.8 L324.4,1611.8 L324.8,1611.9 L325.1,1611.9 L325.4,1611.9 L325.7,1611.9 L326.0,1612.0 L326.3,1612.0 L326.6,1612.0 L326.9,1612.0 L327.2,1612.1 L327.5,1612.1 L327.8,1612.1 L328.1,1612.1 L328.4,1612.2 L328.7,1612.2 L329.0,1612.2 L329.3,1612.2 L329.6,1612.3 L330.0,1612.3 L330.3,1612.3 L330.6,1612.3 L330.9,1612.3 L331.2,1612.4 L331.5,1612.4 L331.8,1612.4 L332.1,1612.4 L332.4,1612.4 L332.7,1612.5 L333.0,1612.5 L333.3,1612.5 L333.6,1612.5 L333.9,1612.5 L334.2,1612.6 L334.5,1612.6 L334.9,1612.6 L335.2,1612.6 L335.5,1612.6 L335.8,1612.7 L336.1,1612.7 L336.4,1612.7 L336.7,1612.7 L337.0,1612.7 L337.3,1612.8 L337.6,1612.8 L337.9,1612.8 L338.2,1612.8 L338.5,1612.8 L338.8,1612.9 L339.1,1612.9 L339.4,1612.9 L339.7,1612.9 L340.1,1612.9 L340.4,1613.0 L340.7,1613.0 L341.0,1613.0 L341.3,1613.0 L341.6,1613.0 L341.9,1613.0 L342.2,1613.1 L342.5,1613.1 L342.8,1613.1 L343.1,1613.1 L343.4,1613.1 L343.7,1613.2 L344.0,1613.2 L344.3,1613.2 L344.6,1613.2 L344.9,1613.2 L345.3,1613.3 L345.6,1613.3 L345.9,1613.3 L346.2,1613.3 L346.5,1613.3 L346.8,1613.3 L347.1,1613.4 L347.4,1613.4 L347.7,1613.4 L348.0,1613.4 L348.3,1613.4 L348.6,1613.4 L348.9,1613.5 L349.2,1613.5 L349.5,1613.5 L349.8,1613.5 L350.1,1613.5 L350.5,1613.6 L350.8,1613.6 L351.1,1613.6 L351.4,1613.6 L351.7,1613.6 L352.0,1613.6 L352.3,1613.7 L352.6,1613.7 L352.9,1613.7 L353.2,1613.7 L353.5,1613.7 L353.8,1613.7 L354.1,1613.8 L354.4,1613.8 L354.7,1613.8 L355.0,1613.8 L355.4,1613.8 L355.7,1613.8 L356.0,1613.9 L356.3,1613.9 L356.6,1613.9 L356.9,1613.9 L357.2,1613.9 L357.5,1613.9 L357.8,1613.9 L358.1,1614.0 L358.4,1614.0 L358.7,1614.0 L359.0,1614.0 L359.3,1614.0 L359.6,1614.0 L359.9,1614.1 L360.2,1614.1 L360.6,1614.1 L360.9,1614.1 L361.2,1614.1 L361.5,1614.1 L361.8,1614.1 L362.1,1614.2 L362.4,1614.2 L362.7,1614.2 L363.0,1614.2 L363.3,1614.2 L363.6,1614.2 L363.9,1614.2 L364.2,1614.3 L364.5,1614.3 L364.8,1614.3 L365.1,1614.3 L365.4,1614.3 L365.8,1614.3 L366.1,1614.3 L366.4,1614.4 L366.7,1614.4 L367.0,1614.4 L367.3,1614.4 L367.6,1614.4 L367.9,1614.4 L368.2,1614.4 L368.5,1614.5 L368.8,1614.5 L369.1,1614.5 L369.4,1614.5 L369.7,1614.5 L370.0,1614.5 L370.3,1614.5 L370.7,1614.5 L371.0,1614.6 L371.3,1614.6 L371.6,1614.6 L371.9,1614.6 L372.2,1614.6 L372.5,1614.6 L372.8,1614.6 L373.1,1614.6 L373.4,1614.7 L373.7,1614.7 L374.0,1614.7 L374.3,1614.7 L374.6,1614.7 L374.9,1614.7 L375.2,1614.7 L375.5,1614.7 L375.9,1614.7 L376.2,1614.8 L376.5,1614.8 L376.8,1614.8 L377.1,1614.8 L377.4,1614.8 L377.7,1614.8 L378.0,1614.8 L378.3,1614.8 L378.6,1614.8 L378.9,1614.9 L379.2,1614.9 L379.5,1614.9 L379.8,1614.9 L380.1,1614.9 L380.4,1614.9 L380.8,1614.9 L381.1,1614.9 L381.4,1614.9 L381.7,1614.9 L382.0,1615.0 L382.3,1615.0 L382.6,1615.0 L382.9,1615.0 L383.2,1615.0 L383.5,1615.0 L383.8,1615.0 L384.1,1615.0 L384.4,1615.0 L384.7,1615.0 L385.0,1615.0 L385.3,1615.1 L385.6,1615.1 L386.0,1615.1 L386.3,1615.1 L386.6,1615.1 L386.9,1615.1 L387.2,1615.1 L387.5,1615.1 L387.8,1615.1 L388.1,1615.1 L388.4,1615.1 L388.7,1615.1 L389.0,1615.2 L389.3,1615.2 L389.6,1615.2 L389.9,1615.2 L390.2,1615.2 L390.5,1615.2 L390.8,1615.2 L391.2,1615.2 L391.5,1615.2 L391.8,1615.2 L392.1,1615.2 L392.4,1615.2 L392.7,1615.3 L393.0,1615.3 L393.3,1615.3 L393.6,1615.3 L393.9,1615.3 L394.2,1615.3 L394.5,1615.3 L394.8,1615.3 L395.1,1615.3 L395.4,1615.3 L395.7,1615.3 L396.0,1615.3 L396.4,1615.3 L396.7,1615.3 L397.0,1615.4 L397.3,1615.4 L397.6,1615.4 L397.9,1615.4 L398.2,1615.4 L398.5,1615.4 L398.8,1615.4 L399.1,1615.4 L399.4,1615.4 L399.7,1615.4 L400.0,1615.4 L400.3,1615.4 L400.6,1615.4 L400.9,1615.4 L401.3,1615.5 L401.6,1615.5 L401.9,1615.5 L402.2,1615.5 L402.5,1615.5 L402.8,1615.5 L403.1,1615.5 L403.4,1615.5 L403.7,1615.5 L404.0,1615.5 L404.3,1615.5 L404.6,1615.5 L404.9,1615.5 L405.2,1615.5 L405.5,1615.5 L405.8,1615.6 L406.1,1615.6 L406.5,1615.6 L406.8,1615.6 L407.1,1615.6 L407.4,1615.6 L407.7,1615.6 L408.0,1615.6 L408.3,1615.6 L408.6,1615.6 L408.9,1615.6 L409.2,1615.6 L409.5,1615.6 L409.8,1615.6 L410.1,1615.6 L410.4,1615.7 L410.7,1615.7 L411.0,1615.7 L411.4,1615.7 L411.7,1615.7 L412.0,1615.7 L412.3,1615.7 L412.6,1615.7 L412.9,1615.7 L413.2,1615.7 L413.5,1615.7 L413.8,1615.7 L414.1,1615.7 L414.4,1615.7 L414.7,1615.7 L415.0,1615.7 L415.3,1615.7 L415.6,1615.8 L415.9,1615.8 L416.2,1615.8 L416.6,1615.8 L416.9,1615.8 L417.2,1615.8 L417.5,1615.8 L417.8,1615.8 L418.1,1615.8 L418.4,1615.8 L418.7,1615.8 L419.0,1615.8 L419.3,1615.8 L419.6,1615.8 L419.9,1615.8 L420.2,1615.8 L420.5,1615.8 L420.8,1615.8 L421.1,1615.9 L421.4,1615.9 L421.8,1615.9 L422.1,1615.9 L422.4,1615.9 L422.7,1615.9 L423.0,1615.9 L423.3,1615.9 L423.6,1615.9 L423.9,1615.9 L424.2,1615.9 L424.5,1615.9 L424.8,1615.9 L425.1,1615.9 L425.4,1615.9 L425.7,1615.9 L426.0,1615.9 L426.3,1615.9 L426.6,1615.9 L427.0,1615.9 L427.3,1616.0 L427.6,1616.0 L427.9,1616.0 L428.2,1616.0 L428.5,1616.0 L428.8,1616.0 L429.1,1616.0 L429.4,1616.0 L429.7,1616.0 L430.0,1616.0 L430.3,1616.0 L430.6,1616.0 L430.9,1616.0 L431.2,1616.0 L431.5,1616.0 L431.9,1616.0 L432.2,1616.0 L432.5,1616.0 L432.8,1616.0 L433.1,1616.0 L433.4,1616.0 L433.7,1616.1 L434.0,1616.1 L434.3,1616.1 L434.6,1616.1 L434.9,1616.1 L435.2,1616.1 L435.5,1616.1 L435.8,1616.1 L436.1,1616.1 L436.4,1616.1 L436.7,1616.1 L437.1,1616.1 L437.4,1616.1 L437.7,1616.1 L438.0,1616.1 L438.3,1616.1 L438.6,1616.1 L438.9,1616.1 L439.2,1616.1 L439.5,1616.1 L439.8,1616.1 L440.1,1616.1 L440.4,1616.2 L440.7,1616.2 L441.0,1616.2 L441.3,1616.2 L441.6,1616.2 L442.0,1616.2 L442.3,1616.2 L442.6,1616.2 L442.9,1616.2 L443.2,1616.2 L443.5,1616.2 L443.8,1616.2 L444.1,1616.2 L444.4,1616.2 L444.7,1616.2 L445.0,1616.2 L445.3,1616.2 L445.6,1616.2 L445.9,1616.2 L446.2,1616.2 L446.5,1616.2 L446.8,1616.2 L447.2,1616.2 L447.5,1616.2 L447.8,1616.3 L448.1,1616.3 L448.4,1616.3 L448.7,1616.3 L449.0,1616.3 L449.3,1616.3 L449.6,1616.3 L449.9,1616.3 L450.2,1616.3 L450.5,1616.3 L450.8,1616.3 L451.1,1616.3 L451.4,1616.3 L451.7,1616.3 L452.0,1616.3 L452.4,1616.3 L452.7,1616.3 L453.0,1616.3 L453.3,1616.3 L453.6,1616.3 L453.9,1616.3 L454.2,1616.3 L454.5,1616.3 L454.8,1616.3 L455.1,1616.3 L455.4,1616.3 L455.7,1616.4 L456.0,1616.4 L456.3,1616.4 L456.6,1616.4 L456.9,1616.4 L457.2,1616.4 L457.6,1616.4 L457.9,1616.4 L458.2,1616.4 L458.5,1616.4 L458.8,1616.4 L459.1,1616.4 L459.4,1616.4 L459.7,1616.4 L460.0,1616.4 L460.3,1616.4 L460.6,1616.4 L460.9,1616.4 L461.2,1616.4 L461.5,1616.4 L461.8,1616.4 L462.1,1616.4 L462.5,1616.4 L462.8,1616.4 L463.1,1616.4 L463.4,1616.4 L463.7,1616.4 L464.0,1616.4 L464.3,1616.4 L464.6,1616.5 L464.9,1616.5 L465.2,1616.5 L465.5,1616.5 L465.8,1616.5 L466.1,1616.5 L466.4,1616.5 L466.7,1616.5 L467.0,1616.5 L467.3,1616.5 L467.7,1616.5 L468.0,1616.5 L468.3,1616.5 L468.6,1616.5 L468.9,1616.5 L469.2,1616.5 L469.5,1616.5 L469.8,1616.5 L470.1,1616.5 L470.4,1616.5 L470.7,1616.5 L471.0,1616.5 L471.3,1616.5 L471.6,1616.5 L471.9,1616.5 L472.2,1616.5 L472.5,1616.5 L472.9,1616.5 L473.2,1616.5 L473.5,1616.5 L473.8,1616.5 L474.1,1616.6 L474.4,1616.6 L474.7,1616.6 L475.0,1616.6 L475.3,1616.6 L475.6,1616.6 L475.9,1616.6 L476.2,1616.6 L476.5,1616.6 L476.8,1616.6 L477.1,1616.6 L477.4,1616.6 L477.8,1616.6 L478.1,1616.6 L478.4,1616.6 L478.7,1616.6 L479.0,1616.6 L479.3,1616.6 L479.6,1616.6 L479.9,1616.6 L480.2,1616.6 L480.5,1616.6 L480.8,1616.6 L481.1,1616.6 L481.4,1616.6 L481.7,1616.6 L482.0,1616.6 L482.3,1616.6 L482.6,1616.6 L483.0,1616.6 L483.3,1616.6 L483.6,1616.6 L483.9,1616.6 L484.2,1616.6 L484.5,1616.6 L484.8,1616.7 L485.1,1616.7 L485.4,1616.7 L485.7,1616.7 L486.0,1616.7 L486.3,1616.7 L486.6,1616.7 L486.9,1616.7 L487.2,1616.7 L487.5,1616.7 L487.9,1616.7 L488.2,1616.7 L488.5,1616.7 L488.8,1616.7 L489.1,1616.7 L489.4,1616.7 L489.7,1616.7 L490.0,1616.7 L490.3,1616.7 L490.6,1616.7 L490.9,1616.7 L491.2,1616.7 L491.5,1616.7 L491.8,1616.7 L492.1,1616.7 L492.4,1616.7 L492.7,1616.7 L493.1,1616.7 L493.4,1616.7 L493.7,1616.7 L494.0,1616.7 L494.3,1616.7 L494.6,1616.7 L494.9,1616.7 L495.2,1616.7 L495.5,1616.7 L495.8,1616.8 L496.1,1616.8 L496.4,1616.8 L496.7,1616.8 L497.0,1616.8 L497.3,1616.8 L497.6,1616.8 L497.9,1616.8 L498.3,1616.8 L498.6,1616.8 L498.9,1616.8 L499.2,1616.8 L499.5,1616.8 L499.8,1616.8 L500.1,1616.8 L500.4,1616.8 L500.7,1616.8 L501.0,1616.8 L501.3,1616.8 L501.6,1616.8 L501.9,1616.8 L502.2,1616.8 L502.5,1616.8 L502.8,1616.8 L503.1,1616.8 L503.5,1616.8 L503.8,1616.8 L504.1,1616.8 L504.4,1616.8 L504.7,1616.8 L505.0,1616.8 L505.3,1616.8 L505.6,1616.8 L505.9,1616.8 L506.2,1616.8 L506.5,1616.8 L506.8,1616.8 L507.1,1616.9 L507.4,1616.9 L507.7,1616.9 L508.0,1616.9 L508.4,1616.9 L508.7,1616.9 L509.0,1616.9 L509.3,1616.9 L509.6,1616.9 L509.9,1616.9 L510.2,1616.9 L510.5,1616.9 L510.8,1616.9 L511.1,1616.9 L511.4,1616.9 L511.7,1616.9 L512.0,1616.9 L512.3,1616.9 L512.6,1616.9 L512.9,1616.9 L513.2,1616.9 L513.6,1616.9 L513.9,1616.9 L514.2,1616.9 L514.5,1616.9 L514.8,1616.9 L515.1,1616.9 L515.4,1616.9 L515.7,1616.9 L516.0,1616.9 L516.3,1616.9 L516.6,1616.9 L516.9,1616.9 L517.2,1616.9 L517.5,1616.9 L517.8,1617.0 L518.1,1617.0 L518.5,1617.0 L518.8,1617.0 L519.1,1617.0 L519.4,1617.0 L519.7,1617.0 L520.0,1617.0 L520.3,1617.0 L520.6,1617.0 L520.9,1617.0 L521.2,1617.0 L521.5,1617.0 L521.8,1617.0 L522.1,1617.0 L522.4,1617.0 L522.7,1617.0 L523.0,1617.0 L523.3,1617.0 L523.7,1617.0 L524.0,1617.0 L524.3,1617.0 L524.6,1617.0 L524.9,1617.0 L525.2,1617.0 L525.5,1617.0 L525.8,1617.0 L526.1,1617.0 L526.4,1617.0 L526.7,1617.0 L527.0,1617.0 L527.3,1617.0 L527.6,1617.0 L527.9,1617.0 L528.2,1617.0 L528.5,1617.1 L528.9,1617.1 L529.2,1617.1 L529.5,1617.1 L529.8,1617.1 L530.1,1617.1 L530.4,1617.1 L530.7,1617.1 L531.0,1617.1 L531.3,1617.1 L531.6,1617.1 L531.9,1617.1 L532.2,1617.1 L532.5,1617.1 L532.8,1617.1 L533.1,1617.1 L533.4,1617.1 L533.8,1617.1 L534.1,1617.1 L534.4,1617.1 L534.7,1617.1 L535.0,1617.1 L535.3,1617.1 L535.6,1617.1 L535.9,1617.1 L536.2,1617.1 L536.5,1617.1 L536.8,1617.1 L537.1,1617.1 L537.4,1617.1 L537.7,1617.1 L538.0,1617.1 L538.3,1617.1 L538.6,1617.1 L539.0,1617.1 L539.3,1617.1 L539.6,1617.2 L539.9,1617.2 L540.2,1617.2 L540.5,1617.2 L540.8,1617.2 L541.1,1617.2 L541.4,1617.2 L541.7,1617.2 L542.0,1617.2 L542.3,1617.2 L542.6,1617.2 L542.9,1617.2 L543.2,1617.2 L543.5,1617.2 L543.8,1617.2 L544.2,1617.2 L544.5,1617.2 L544.8,1617.2 L545.1,1617.2 L545.4,1617.2 L545.7,1617.2 L546.0,1617.2 L546.3,1617.2 L546.6,1617.2 L546.9,1617.2 L547.2,1617.2 L547.5,1617.2 L547.8,1617.2 L548.1,1617.2 L548.4,1617.2 L548.7,1617.2 L549.0,1617.2 L549.4,1617.2 L549.7,1617.2 L550.0,1617.2 L550.3,1617.2 L550.6,1617.2 L550.9,1617.3 L551.2,1617.3 L551.5,1617.3 L551.8,1617.3 L552.1,1617.3 L552.4,1617.3 L552.7,1617.3 L553.0,1617.3 L553.3,1617.3 L553.6,1617.3 L553.9,1617.3 L554.3,1617.3 L554.6,1617.3 L554.9,1617.3 L555.2,1617.3 L555.5,1617.3 L555.8,1617.3 L556.1,1617.3 L556.4,1617.3 L556.7,1617.3 L557.0,1617.3 L557.3,1617.3 L557.6,1617.3 L557.9,1617.3 L558.2,1617.3 L558.5,1617.3 L558.8,1617.3 L559.1,1617.3 L559.5,1617.3 L559.8,1617.3 L560.1,1617.3 L560.4,1617.3 L560.7,1617.3 L561.0,1617.3 L561.3,1617.3 L561.6,1617.3 L561.9,1617.3 L562.2,1617.3 L562.5,1617.3 L562.8,1617.3 L563.1,1617.4 L563.4,1617.4 L563.7,1617.4 L564.0,1617.4 L564.4,1617.4 L564.7,1617.4 L565.0,1617.4 L565.3,1617.4 L565.6,1617.4 L565.9,1617.4 L566.2,1617.4 L566.5,1617.4 L566.8,1617.4 L567.1,1617.4 L567.4,1617.4 L567.7,1617.4 L568.0,1617.4 L568.3,1617.4 L568.6,1617.4 L568.9,1617.4 L569.2,1617.4 L569.6,1617.4 L569.9,1617.4 L570.2,1617.4 L570.5,1617.4 L570.8,1617.4 L571.1,1617.4 L571.4,1617.4 L571.7,1617.4 L572.0,1617.4 L572.3,1617.4 L572.6,1617.4 L572.9,1617.4 L573.2,1617.4 L573.5,1617.4 L573.8,1617.4 L574.1,1617.4 L574.4,1617.4 L574.8,1617.4 L575.1,1617.4 L575.4,1617.4 L575.7,1617.4 L576.0,1617.4 L576.3,1617.4 L576.6,1617.5 L576.9,1617.5 L577.2,1617.5 L577.5,1617.5 L577.8,1617.5 L578.1,1617.5 L578.4,1617.5 L578.7,1617.5 L579.0,1617.5 L579.3,1617.5 L579.6,1617.5 L580.0,1617.5 L580.3,1617.5 L580.6,1617.5 L580.9,1617.5 L581.2,1617.5 L581.5,1617.5 L581.8,1617.5 L582.1,1617.5 L582.4,1617.5 L582.7,1617.5 L583.0,1617.5 L583.3,1617.5 L583.6,1617.5 L583.9,1617.5 L584.2,1617.5 L584.5,1617.5 L584.9,1617.5 L585.2,1617.5 L585.5,1617.5 L585.8,1617.5 L586.1,1617.5 L586.4,1617.5 L586.7,1617.5 L587.0,1617.5 L587.3,1617.5 L587.6,1617.5 L587.9,1617.5 L588.2,1617.5 L588.5,1617.5 L588.8,1617.5 L589.1,1617.5 L589.4,1617.5 L589.7,1617.5 L590.1,1617.5 L590.4,1617.5 L590.7,1617.5 L591.0,1617.6 L591.3,1617.6 L591.6,1617.6 L591.9,1617.6 L592.2,1617.6 L592.5,1617.6 L592.8,1617.6 L593.1,1617.6 L593.4,1617.6 L593.7,1617.6 L594.0,1617.6 L594.3,1617.6 L594.6,1617.6 L595.0,1617.6 L595.3,1617.6 L595.6,1617.6 L595.9,1617.6 L596.2,1617.6 L596.5,1617.6 L596.8,1617.6 L597.1,1617.6 L597.4,1617.6 L597.7,1617.6 L598.0,1617.6 L598.3,1617.6 L598.6,1617.6 L598.9,1617.6 L599.2,1617.6 L599.5,1617.6 L599.8,1617.6 L600.2,1617.6 L600.5,1617.6 L600.8,1617.6 L601.1,1617.6 L601.4,1617.6 L601.7,1617.6 L602.0,1617.6 L602.3,1617.6 L602.6,1617.6 L602.9,1617.6 L603.2,1617.6 L603.5,1617.6 L603.8,1617.6 L604.1,1617.6 L604.4,1617.6 L604.7,1617.6 L605.0,1617.6 L605.4,1617.6 L605.7,1617.6 L606.0,1617.6 L606.3,1617.6 L606.6,1617.7 L606.9,1617.7 L607.2,1617.7 L607.5,1617.7 L607.8,1617.7 L608.1,1617.7 L608.4,1617.7 L608.7,1617.7 L609.0,1617.7 L609.3,1617.7 L609.6,1617.7 L609.9,1617.7 L610.2,1617.7 L610.6,1617.7 L610.9,1617.7 L611.2,1617.7 L611.5,1617.7 L611.8,1617.7 L612.1,1617.7 L612.4,1617.7 L612.7,1617.7 L613.0,1617.7 L613.3,1617.7 L613.6,1617.7 L613.9,1617.7 L614.2,1617.7 L614.5,1617.7 L614.8,1617.7 L615.1,1617.7 L615.5,1617.7 L615.8,1617.7 L616.1,1617.7 L616.4,1617.7 L616.7,1617.7 L617.0,1617.7 L617.3,1617.7 L617.6,1617.7 L617.9,1617.7 L618.2,1617.7 L618.5,1617.7 L618.8,1617.7 L619.1,1617.7 L619.4,1617.7 L619.7,1617.7 L620.0,1617.7 L620.3,1617.7 L620.7,1617.7 L621.0,1617.7 L621.3,1617.7 L621.6,1617.7 L621.9,1617.7 L622.2,1617.7 L622.5,1617.7 L622.8,1617.7 L623.1,1617.7 L623.4,1617.7 L623.7,1617.8 L624.0,1617.8 L624.3,1617.8 L624.6,1617.8 L624.9,1617.8 L625.2,1617.8 L625.5,1617.8 L625.9,1617.8 L626.2,1617.8 L626.5,1617.8 L626.8,1617.8 L627.1,1617.8 L627.4,1617.8 L627.7,1617.8 L628.0,1617.8 L628.3,1617.8 L628.6,1617.8 L628.9,1617.8 L629.2,1617.8 L629.5,1617.8 L629.8,1617.8 L630.1,1617.8 L630.4,1617.8 L630.8,1617.8 L631.1,1617.8 L631.4,1617.8 L631.7,1617.8 L632.0,1617.8 L632.3,1617.8 L632.6,1617.8 L632.9,1617.8 L633.2,1617.8" fill="none" stroke="#1c6ae0" stroke-width="3" stroke-linejoin="round" stroke-linecap="butt" />
</g>
<path d="M510.8,1571.7V1650" stroke="#000" stroke-width="3" stroke-dasharray="14,9"/>
<path d="M539.5,1596.2L561,1505" stroke="#000" stroke-width="3"/>
<path d="M564.5,1492.5L553,1512L568,1514Z" fill="#000"/>
<rect x="115.5" y="1218.2" width="522.0" height="434.1" fill="none" stroke="#000" stroke-width="3"/>
<path d="M143.6,1652.3V1662.8 M266.0,1652.3V1662.8 M388.4,1652.3V1662.8 M510.8,1652.3V1662.8 M633.2,1652.3V1662.8 M204.8,1652.3V1657.8 M327.2,1652.3V1657.8 M449.6,1652.3V1657.8 M572.0,1652.3V1657.8" stroke="#000" stroke-width="3" fill="none"/>
<text x="143.6" y="1691.0" font-size="27" text-anchor="middle" >800</text>
<text x="266.0" y="1691.0" font-size="27" text-anchor="middle" >900</text>
<text x="388.4" y="1691.0" font-size="27" text-anchor="middle" >1000</text>
<text x="510.8" y="1691.0" font-size="27" text-anchor="middle" >1100</text>
<text x="633.2" y="1691.0" font-size="27" text-anchor="middle" >1200</text>
<path d="M115.5,1617.8H105.0 M115.5,1541.6H105.0 M115.5,1465.4H105.0 M115.5,1389.1H105.0 M115.5,1312.9H105.0 M115.5,1236.7H105.0 M115.5,1579.7H110.0 M115.5,1503.5H110.0 M115.5,1427.2H110.0 M115.5,1351.0H110.0 M115.5,1274.8H110.0 M115.5,1655.9H110.0" stroke="#000" stroke-width="3" fill="none"/>
<text x="97.0" y="1626.6" font-size="27" text-anchor="end" >0.0</text>
<text x="97.0" y="1550.4" font-size="27" text-anchor="end" >1.0</text>
<text x="97.0" y="1474.2" font-size="27" text-anchor="end" >2.0</text>
<text x="97.0" y="1397.9" font-size="27" text-anchor="end" >3.0</text>
<text x="97.0" y="1321.7" font-size="27" text-anchor="end" >4.0</text>
<text x="97.0" y="1245.5" font-size="27" text-anchor="end" >5.0</text>
<text x="376.5" y="1722.0" font-size="28.8" text-anchor="middle" >Wavelength (nm)</text>
<text transform="translate(49.5,1435) rotate(-90)" font-size="28.8" text-anchor="middle">Intensity (arb. units)</text>
<text x="622.5" y="1246.9" font-size="28.8" text-anchor="end" >NIR-II FL Image</text>
<text x="629.5" y="1282.6" font-size="28.8" text-anchor="end" >C5T-Pco NP</text>
<rect x="284.2" y="1380.5" width="62.3" height="30.6" rx="1.5" fill="url(#lg_gray_284_1380)" stroke="#555555" stroke-width="2.8"/>
<text x="355.6" y="1405.2" font-size="28.8" text-anchor="start" >Black</text>
<rect x="284.2" y="1416.3" width="62.3" height="30.6" rx="1.5" fill="url(#lg_red2_284_1416)" stroke="#f50d0d" stroke-width="2.8"/>
<text x="355.6" y="1441.3" font-size="28.8" text-anchor="start" >C5T-Pco NP</text>
<rect x="284.2" y="1452.1" width="62.3" height="30.6" rx="1.5" fill="url(#lg_blue_284_1452)" stroke="#1c6ae0" stroke-width="2.8"/>
<text x="355.6" y="1476.4" font-size="28.8" text-anchor="start" >ICG</text>
<rect x="526.9" y="1291.9" width="98.2" height="187.1" fill="#000"/>
<g filter="url(#tblur)"><path d="M539.6,1309 H602.3 V1315 H539.6 Z" fill="#3010b0"/><path d="M546,1313 H600 L597,1326 H552 Z" fill="#6a14d8"/><path d="M554.5,1322 H595 V1450 A20.25,20.25 0 0 1 554.5,1450 Z" fill="#7a10f0"/><path d="M557.2,1325 H592.3 V1450 A17.55,17.55 0 0 1 557.2,1450 Z" fill="url(#tubein)"/><path d="M557.2,1418 H592.3 V1450 A17.55,17.55 0 0 1 557.2,1450 Z" fill="url(#tubebot)"/><path d="M561.5,1400 H588 V1432 Q588,1451 574.7,1451 Q561.5,1451 561.5,1432 Z" fill="url(#tubein)"/><path d="M560,1330 V1430" stroke="#f05010" stroke-width="1.6" opacity="0.8"/><path d="M589.6,1388 V1430" stroke="#f05010" stroke-width="1.6" opacity="0.8"/><path d="M565,1461.5 Q574.7,1468.5 584.5,1461.5" fill="none" stroke="#ffffff" stroke-width="2.6"/></g>
<text x="1133.0" y="31.8" font-size="36" text-anchor="start" >c</text>
<path d="M1600.5,276.7L1600.5,45.0" stroke="#8c8c8c" stroke-width="1" fill="none" />
<path d="M1730.5,276.7L1730.5,45.0" stroke="#8c8c8c" stroke-width="1" fill="none" />
<path d="M1795.5,276.7L1795.5,45.0" stroke="#c8c8c8" stroke-width="1" fill="none" stroke-dasharray="2,2"/>
<path d="M1340.5,214.9L1860.5,214.9" stroke="#8c8c8c" stroke-width="1" fill="none" />
<path d="M1340.5,153.1L1860.5,153.1" stroke="#8c8c8c" stroke-width="1" fill="none" />
<path d="M1340.5,91.3L1860.5,91.3" stroke="#8c8c8c" stroke-width="1" fill="none" />
<path d="M1340.5,245.8L1860.5,245.8" stroke="#c8c8c8" stroke-width="1" fill="none" stroke-dasharray="2,2"/>
<path d="M1340.5,184.0L1860.5,184.0" stroke="#c8c8c8" stroke-width="1" fill="none" stroke-dasharray="2,2"/>
<path d="M1340.5,122.2L1860.5,122.2" stroke="#c8c8c8" stroke-width="1" fill="none" stroke-dasharray="2,2"/>
<path d="M1340.5,60.4L1860.5,60.4" stroke="#c8c8c8" stroke-width="1" fill="none" stroke-dasharray="2,2"/>
<path d="M1340.5,276.7L1340.5,45.0" stroke="#8c8c8c" stroke-width="1" fill="none" />
<path d="M1177.0,463.5L1177.0,231.7" stroke="#8c8c8c" stroke-width="1" fill="none" />
<path d="M1200.9,436.2L1200.9,204.4" stroke="#8c8c8c" stroke-width="1" fill="none" />
<path d="M1224.8,408.9L1224.8,177.1" stroke="#8c8c8c" stroke-width="1" fill="none" />
<path d="M1248.7,381.6L1248.7,149.8" stroke="#8c8c8c" stroke-width="1" fill="none" />
<path d="M1272.6,354.3L1272.6,122.5" stroke="#8c8c8c" stroke-width="1" fill="none" />
<path d="M1296.5,327.0L1296.5,95.2" stroke="#8c8c8c" stroke-width="1" fill="none" />
<path d="M1320.4,299.7L1320.4,67.9" stroke="#8c8c8c" stroke-width="1" fill="none" />
<path d="M1157.9,423.5L1340.5,214.9" stroke="#8c8c8c" stroke-width="1" fill="none" />
<path d="M1157.9,361.7L1340.5,153.1" stroke="#8c8c8c" stroke-width="1" fill="none" />
<path d="M1157.9,299.9L1340.5,91.3" stroke="#8c8c8c" stroke-width="1" fill="none" />
<path d="M1157.9,454.4L1340.5,245.8" stroke="#c8c8c8" stroke-width="1" fill="none" stroke-dasharray="2,2"/>
<path d="M1157.9,392.6L1340.5,184.0" stroke="#c8c8c8" stroke-width="1" fill="none" stroke-dasharray="2,2"/>
<path d="M1157.9,330.8L1340.5,122.2" stroke="#c8c8c8" stroke-width="1" fill="none" stroke-dasharray="2,2"/>
<path d="M1157.9,269.0L1340.5,60.4" stroke="#c8c8c8" stroke-width="1" fill="none" stroke-dasharray="2,2"/>
<path d="M1157.9,485.3L1340.5,276.7" stroke="#8c8c8c" stroke-width="1" fill="none" />
<path d="M1287.9,485.3L1470.5,276.7" stroke="#666" stroke-width="0.9" fill="none" />
<path d="M1417.9,485.3L1600.5,276.7" stroke="#666" stroke-width="0.9" fill="none" />
<path d="M1547.9,485.3L1730.5,276.7" stroke="#666" stroke-width="0.9" fill="none" />
<path d="M1222.9,485.3L1405.5,276.7" stroke="#c8c8c8" stroke-width="1" fill="none" stroke-dasharray="2,2"/>
<path d="M1352.9,485.3L1535.5,276.7" stroke="#c8c8c8" stroke-width="1" fill="none" stroke-dasharray="2,2"/>
<path d="M1482.9,485.3L1665.5,276.7" stroke="#c8c8c8" stroke-width="1" fill="none" stroke-dasharray="2,2"/>
<path d="M1612.9,485.3L1795.5,276.7" stroke="#c8c8c8" stroke-width="1" fill="none" stroke-dasharray="2,2"/>
<path d="M1177.0,463.5L1697.0,463.5" stroke="#d4d4d4" stroke-width="1" fill="none" />
<path d="M1200.9,436.2L1720.9,436.2" stroke="#d4d4d4" stroke-width="1" fill="none" />
<path d="M1224.8,408.9L1744.8,408.9" stroke="#d4d4d4" stroke-width="1" fill="none" />
<path d="M1248.7,381.6L1768.7,381.6" stroke="#d4d4d4" stroke-width="1" fill="none" />
<path d="M1272.6,354.3L1792.6,354.3" stroke="#d4d4d4" stroke-width="1" fill="none" />
<path d="M1296.5,327.0L1816.5,327.0" stroke="#d4d4d4" stroke-width="1" fill="none" />
<path d="M1320.4,299.7L1840.4,299.7" stroke="#d4d4d4" stroke-width="1" fill="none" />
<path d="M1346.4,299.7 L1347.7,299.7 L1349.0,299.7 L1350.3,299.7 L1351.6,299.7 L1352.9,299.7 L1354.2,299.7 L1355.5,299.7 L1356.8,299.7 L1358.1,299.7 L1359.4,299.7 L1360.7,299.7 L1362.0,299.7 L1363.3,299.7 L1364.6,299.7 L1365.9,299.7 L1367.2,299.7 L1368.5,299.7 L1369.8,299.7 L1371.1,299.7 L1372.4,299.7 L1373.7,299.7 L1375.0,299.7 L1376.3,299.7 L1377.6,299.7 L1378.9,299.7 L1380.2,299.7 L1381.5,299.7 L1382.8,299.7 L1384.1,299.7 L1385.4,299.7 L1386.7,299.7 L1388.0,299.7 L1389.3,299.7 L1390.6,299.7 L1391.9,299.7 L1393.2,299.7 L1394.5,299.7 L1395.8,299.7 L1397.1,299.7 L1398.4,299.7 L1399.7,299.7 L1401.0,299.7 L1402.3,299.7 L1403.6,299.7 L1404.9,299.7 L1406.2,299.7 L1407.5,299.7 L1408.8,299.7 L1410.1,299.7 L1411.4,299.7 L1412.7,299.7 L1414.0,299.7 L1415.3,299.7 L1416.6,299.7 L1417.9,299.7 L1419.2,299.7 L1420.5,299.7 L1421.8,299.7 L1423.1,299.7 L1424.4,299.7 L1425.7,299.7 L1427.0,299.7 L1428.3,299.7 L1429.6,299.7 L1430.9,299.7 L1432.2,299.7 L1433.5,299.7 L1434.8,299.7 L1436.1,299.7 L1437.4,299.7 L1438.7,299.7 L1440.0,299.7 L1441.3,299.7 L1442.6,299.7 L1443.9,299.7 L1445.2,299.7 L1446.5,299.7 L1447.8,299.7 L1449.1,299.7 L1450.4,299.7 L1451.7,299.7 L1453.0,299.7 L1454.3,299.7 L1455.6,299.7 L1456.9,299.7 L1458.2,299.7 L1459.5,299.7 L1460.8,299.7 L1462.1,299.7 L1463.4,299.7 L1464.7,299.7 L1466.0,299.7 L1467.3,299.7 L1468.6,299.7 L1469.9,299.7 L1471.2,299.7 L1472.5,299.7 L1473.8,299.7 L1475.1,299.7 L1476.4,299.7 L1477.7,299.7 L1479.0,299.7 L1480.3,299.7 L1481.6,299.7 L1482.9,299.7 L1484.2,299.7 L1485.5,299.7 L1486.8,299.7 L1488.1,299.7 L1489.4,299.7 L1490.7,299.7 L1492.0,299.7 L1493.3,299.7 L1494.6,299.7 L1495.9,299.7 L1497.2,299.7 L1498.5,299.7 L1499.8,299.7 L1501.1,299.7 L1502.4,299.7 L1503.7,299.7 L1505.0,299.7 L1506.3,299.7 L1507.6,299.7 L1508.9,299.7 L1510.2,299.7 L1511.5,299.7 L1512.8,299.7 L1514.1,299.7 L1515.4,299.7 L1516.7,299.7 L1518.0,299.7 L1519.3,299.7 L1520.6,299.7 L1521.9,299.7 L1523.2,299.7 L1524.5,299.7 L1525.8,299.7 L1527.1,299.7 L1528.4,299.7 L1529.7,299.7 L1531.0,299.7 L1532.3,299.7 L1533.6,299.7 L1534.9,299.7 L1536.2,299.7 L1537.5,299.7 L1538.8,299.7 L1540.1,299.7 L1541.4,299.7 L1542.7,299.7 L1544.0,299.7 L1545.3,299.7 L1546.6,299.7 L1547.9,299.7 L1549.2,299.7 L1550.5,299.7 L1551.8,299.7 L1553.1,299.7 L1554.4,299.7 L1555.7,299.7 L1557.0,299.7 L1558.3,299.7 L1559.6,299.7 L1560.9,299.7 L1562.2,299.7 L1563.5,299.7 L1564.8,299.7 L1566.1,299.7 L1567.4,299.7 L1568.7,299.7 L1570.0,299.7 L1571.3,299.7 L1572.6,299.7 L1573.9,299.7 L1575.2,299.7 L1576.5,299.7 L1577.8,299.7 L1579.1,299.7 L1580.4,299.7 L1581.7,299.7 L1583.0,299.7 L1584.3,299.7 L1585.6,299.7 L1586.9,299.7 L1588.2,299.7 L1589.5,299.7 L1590.8,299.7 L1592.1,299.7 L1593.4,299.7 L1594.7,299.7 L1596.0,299.7 L1597.3,299.7 L1598.6,299.7 L1599.9,299.7 L1601.2,299.7 L1602.5,299.7 L1603.8,299.7 L1605.1,299.7 L1606.4,299.7 L1607.7,299.7 L1609.0,299.7 L1610.3,299.7 L1611.6,299.7 L1612.9,299.7 L1614.2,299.7 L1615.5,299.7 L1616.8,299.7 L1618.1,299.7 L1619.4,299.7 L1620.7,299.7 L1622.0,299.7 L1623.3,299.7 L1624.6,299.7 L1625.9,299.7 L1627.2,299.7 L1628.5,299.7 L1629.8,299.7 L1631.1,299.7 L1632.4,299.7 L1633.7,299.7 L1635.0,299.7 L1636.3,299.7 L1637.6,299.7 L1638.9,299.7 L1640.2,299.7 L1641.5,299.7 L1642.8,299.7 L1644.1,299.7 L1645.4,299.7 L1646.7,299.7 L1648.0,299.7 L1649.3,299.7 L1650.6,299.7 L1651.9,299.7 L1653.2,299.7 L1654.5,299.7 L1655.8,299.7 L1657.1,299.7 L1658.4,299.7 L1659.7,299.7 L1661.0,299.7 L1662.3,299.7 L1663.6,299.7 L1664.9,299.7 L1666.2,299.7 L1667.5,299.7 L1668.8,299.7 L1670.1,299.7 L1671.4,299.7 L1672.7,299.7 L1674.0,299.7 L1675.3,299.7 L1676.6,299.7 L1677.9,299.7 L1679.2,299.7 L1680.5,299.7 L1681.8,299.7 L1683.1,299.7 L1684.4,299.7 L1685.7,299.7 L1687.0,299.7 L1688.3,299.7 L1689.6,299.7 L1690.9,299.7 L1692.2,299.7 L1693.5,299.7 L1694.8,299.7 L1696.1,299.7 L1697.4,299.7 L1698.7,299.7 L1700.0,299.7 L1701.3,299.7 L1702.6,299.7 L1703.9,299.7 L1705.2,299.7 L1706.5,299.7 L1707.8,299.7 L1709.1,299.7 L1710.4,299.7 L1711.7,299.7 L1713.0,299.7 L1714.3,299.7 L1715.6,299.7 L1716.9,299.7 L1718.2,299.7 L1719.5,299.7 L1720.8,299.7 L1722.1,299.7 L1723.4,299.7 L1724.7,299.7 L1726.0,299.7 L1727.3,299.7 L1728.6,299.7 L1729.9,299.7 L1731.2,299.7 L1732.5,299.7 L1733.8,299.7 L1735.1,299.7 L1736.4,299.7 L1737.7,299.7 L1739.0,299.7 L1740.3,299.7 L1741.6,299.7 L1742.9,299.7 L1744.2,299.7 L1745.5,299.7 L1746.8,299.7 L1748.1,299.7 L1749.4,299.7 L1750.7,299.7 L1752.0,299.7 L1753.3,299.7 L1754.6,299.7 L1755.9,299.7 L1757.2,299.7 L1758.5,299.7 L1759.8,299.7 L1761.1,299.7 L1762.4,299.7 L1763.7,299.7 L1765.0,299.7 L1766.3,299.7 L1767.6,299.7 L1768.9,299.7 L1770.2,299.7 L1771.5,299.7 L1772.8,299.7 L1774.1,299.7 L1775.4,299.7 L1776.7,299.7 L1778.0,299.7 L1779.3,299.7 L1780.6,299.7 L1781.9,299.7 L1783.2,299.7 L1784.5,299.7 L1785.8,299.7 L1787.1,299.7 L1788.4,299.7 L1789.7,299.7 L1791.0,299.7 L1792.3,299.7 L1793.6,299.7 L1794.9,299.7 L1796.2,299.7 L1797.5,299.7 L1798.8,299.7 L1800.1,299.7 L1801.4,299.7 L1802.7,299.7 L1804.0,299.7 L1805.3,299.7 L1806.6,299.7 L1807.9,299.7 L1809.2,299.7 L1810.5,299.7 L1811.8,299.7 L1813.1,299.7 L1814.4,299.7 L1815.7,299.7 L1817.0,299.7 L1818.3,299.7 L1819.6,299.7 L1820.9,299.7 L1822.2,299.7 L1823.5,299.7 L1824.8,299.7 L1826.1,299.7 L1827.4,299.7 L1828.7,299.7 L1830.0,299.7 L1831.3,299.7 L1832.6,299.7 L1833.9,299.7 L1835.2,299.7 L1836.5,299.7 L1837.8,299.7 L1839.1,299.7 L1840.4,299.7" fill="none" stroke="#10c0c8" stroke-width="2.2" stroke-linejoin="round"/>
<path d="M1322.5,327.0 L1323.8,327.0 L1325.1,327.0 L1326.4,327.0 L1327.7,327.0 L1329.0,327.0 L1330.3,327.0 L1331.6,327.0 L1332.9,327.0 L1334.2,327.0 L1335.5,327.0 L1336.8,327.0 L1338.1,327.0 L1339.4,327.0 L1340.7,327.0 L1342.0,327.0 L1343.3,327.0 L1344.6,327.0 L1345.9,327.0 L1347.2,327.0 L1348.5,327.0 L1349.8,327.0 L1351.1,327.0 L1352.4,327.0 L1353.7,327.0 L1355.0,327.0 L1356.3,327.0 L1357.6,327.0 L1358.9,327.0 L1360.2,327.0 L1361.5,327.0 L1362.8,327.0 L1364.1,327.0 L1365.4,327.0 L1366.7,327.0 L1368.0,327.0 L1369.3,327.0 L1370.6,327.0 L1371.9,327.0 L1373.2,327.0 L1374.5,327.0 L1375.8,327.0 L1377.1,327.0 L1378.4,327.0 L1379.7,327.0 L1381.0,327.0 L1382.3,327.0 L1383.6,327.0 L1384.9,327.0 L1386.2,327.0 L1387.5,327.0 L1388.8,327.0 L1390.1,327.0 L1391.4,327.0 L1392.7,327.0 L1394.0,327.0 L1395.3,327.0 L1396.6,327.0 L1397.9,327.0 L1399.2,327.0 L1400.5,327.0 L1401.8,327.0 L1403.1,327.0 L1404.4,327.0 L1405.7,327.0 L1407.0,327.0 L1408.3,327.0 L1409.6,327.0 L1410.9,327.0 L1412.2,327.0 L1413.5,327.0 L1414.8,327.0 L1416.1,327.0 L1417.4,327.0 L1418.7,327.0 L1420.0,327.0 L1421.3,327.0 L1422.6,327.0 L1423.9,327.0 L1425.2,327.0 L1426.5,327.0 L1427.8,327.0 L1429.1,327.0 L1430.4,327.0 L1431.7,327.0 L1433.0,327.0 L1434.3,327.0 L1435.6,327.0 L1436.9,327.0 L1438.2,327.0 L1439.5,327.0 L1440.8,327.0 L1442.1,327.0 L1443.4,327.0 L1444.7,327.0 L1446.0,327.0 L1447.3,327.0 L1448.6,327.0 L1449.9,327.0 L1451.2,327.0 L1452.5,327.0 L1453.8,327.0 L1455.1,327.0 L1456.4,327.0 L1457.7,327.0 L1459.0,327.0 L1460.3,327.0 L1461.6,326.9 L1462.9,326.9 L1464.2,326.9 L1465.5,326.9 L1466.8,326.9 L1468.1,326.9 L1469.4,326.9 L1470.7,326.9 L1472.0,326.9 L1473.3,326.9 L1474.6,326.9 L1475.9,326.9 L1477.2,326.9 L1478.5,326.9 L1479.8,326.9 L1481.1,326.9 L1482.4,326.9 L1483.7,326.8 L1485.0,326.8 L1486.3,326.8 L1487.6,326.8 L1488.9,326.8 L1490.2,326.8 L1491.5,326.8 L1492.8,326.8 L1494.1,326.8 L1495.4,326.7 L1496.7,326.7 L1498.0,326.7 L1499.3,326.7 L1500.6,326.7 L1501.9,326.7 L1503.2,326.7 L1504.5,326.6 L1505.8,326.6 L1507.1,326.6 L1508.4,326.6 L1509.7,326.5 L1511.0,326.5 L1512.3,326.5 L1513.6,326.4 L1514.9,326.4 L1516.2,326.3 L1517.5,326.2 L1518.8,326.2 L1520.1,326.1 L1521.4,326.0 L1522.7,325.9 L1524.0,325.9 L1525.3,325.8 L1526.6,325.7 L1527.9,325.6 L1529.2,325.4 L1530.5,325.3 L1531.8,325.2 L1533.1,325.0 L1534.4,324.8 L1535.7,324.6 L1537.0,324.3 L1538.3,324.0 L1539.6,323.7 L1540.9,323.3 L1542.2,322.9 L1543.5,322.4 L1544.8,321.9 L1546.1,321.4 L1547.4,320.9 L1548.7,320.3 L1550.0,319.7 L1551.3,319.0 L1552.6,318.4 L1553.9,317.7 L1555.2,317.0 L1556.5,316.2 L1557.8,315.5 L1559.1,314.7 L1560.4,313.8 L1561.7,312.9 L1563.0,312.0 L1564.3,311.0 L1565.6,309.9 L1566.9,308.8 L1568.2,307.6 L1569.5,306.4 L1570.8,305.2 L1572.1,304.0 L1573.4,302.8 L1574.7,301.6 L1576.0,300.4 L1577.3,299.3 L1578.6,298.1 L1579.9,297.0 L1581.2,295.9 L1582.5,294.9 L1583.8,293.8 L1585.1,292.7 L1586.4,291.7 L1587.7,290.6 L1589.0,289.6 L1590.3,288.5 L1591.6,287.4 L1592.9,286.4 L1594.2,285.3 L1595.5,284.2 L1596.8,283.1 L1598.1,281.9 L1599.4,280.8 L1600.7,279.7 L1602.0,278.7 L1603.3,277.6 L1604.6,276.6 L1605.9,275.7 L1607.2,274.9 L1608.5,274.1 L1609.8,273.4 L1611.1,272.7 L1612.4,272.1 L1613.7,271.6 L1615.0,271.1 L1616.3,270.7 L1617.6,270.4 L1618.9,270.2 L1620.2,270.0 L1621.5,270.0 L1622.8,270.1 L1624.1,270.2 L1625.4,270.4 L1626.7,270.8 L1628.0,271.1 L1629.3,271.6 L1630.6,272.1 L1631.9,272.7 L1633.2,273.3 L1634.5,274.0 L1635.8,274.7 L1637.1,275.4 L1638.4,276.1 L1639.7,276.9 L1641.0,277.7 L1642.3,278.4 L1643.6,279.2 L1644.9,280.0 L1646.2,280.8 L1647.5,281.6 L1648.8,282.4 L1650.1,283.2 L1651.4,284.0 L1652.7,284.8 L1654.0,285.6 L1655.3,286.4 L1656.6,287.2 L1657.9,288.0 L1659.2,288.8 L1660.5,289.6 L1661.8,290.4 L1663.1,291.2 L1664.4,292.0 L1665.7,292.8 L1667.0,293.6 L1668.3,294.4 L1669.6,295.2 L1670.9,296.0 L1672.2,296.7 L1673.5,297.5 L1674.8,298.3 L1676.1,299.1 L1677.4,299.8 L1678.7,300.6 L1680.0,301.3 L1681.3,302.1 L1682.6,302.8 L1683.9,303.6 L1685.2,304.3 L1686.5,305.0 L1687.8,305.8 L1689.1,306.5 L1690.4,307.2 L1691.7,308.0 L1693.0,308.7 L1694.3,309.4 L1695.6,310.1 L1696.9,310.9 L1698.2,311.6 L1699.5,312.2 L1700.8,312.9 L1702.1,313.6 L1703.4,314.2 L1704.7,314.8 L1706.0,315.4 L1707.3,315.9 L1708.6,316.5 L1709.9,317.0 L1711.2,317.4 L1712.5,317.9 L1713.8,318.3 L1715.1,318.7 L1716.4,319.1 L1717.7,319.5 L1719.0,319.9 L1720.3,320.2 L1721.6,320.5 L1722.9,320.9 L1724.2,321.2 L1725.5,321.4 L1726.8,321.7 L1728.1,322.0 L1729.4,322.2 L1730.7,322.4 L1732.0,322.6 L1733.3,322.8 L1734.6,323.0 L1735.9,323.2 L1737.2,323.4 L1738.5,323.5 L1739.8,323.7 L1741.1,323.8 L1742.4,324.0 L1743.7,324.1 L1745.0,324.2 L1746.3,324.3 L1747.6,324.4 L1748.9,324.5 L1750.2,324.6 L1751.5,324.7 L1752.8,324.8 L1754.1,324.9 L1755.4,325.0 L1756.7,325.1 L1758.0,325.1 L1759.3,325.2 L1760.6,325.3 L1761.9,325.3 L1763.2,325.4 L1764.5,325.4 L1765.8,325.4 L1767.1,325.5 L1768.4,325.5 L1769.7,325.5 L1771.0,325.5 L1772.3,325.6 L1773.6,325.6 L1774.9,325.6 L1776.2,325.6 L1777.5,325.6 L1778.8,325.6 L1780.1,325.7 L1781.4,325.7 L1782.7,325.7 L1784.0,325.7 L1785.3,325.7 L1786.6,325.7 L1787.9,325.7 L1789.2,325.7 L1790.5,325.7 L1791.8,325.7 L1793.1,325.7 L1794.4,325.7 L1795.7,325.7 L1797.0,325.7 L1798.3,325.7 L1799.6,325.7 L1800.9,325.7 L1802.2,325.7 L1803.5,325.7 L1804.8,325.7 L1806.1,325.7 L1807.4,325.7 L1808.7,325.7 L1810.0,325.7 L1811.3,325.7 L1812.6,325.7 L1813.9,325.7 L1815.2,325.7 L1816.5,325.7 L1816.5,327.0 L1322.5,327.0 Z" fill="url(#gc_orange)" stroke="none"/>
<path d="M1322.5,327.0 L1323.8,327.0 L1325.1,327.0 L1326.4,327.0 L1327.7,327.0 L1329.0,327.0 L1330.3,327.0 L1331.6,327.0 L1332.9,327.0 L1334.2,327.0 L1335.5,327.0 L1336.8,327.0 L1338.1,327.0 L1339.4,327.0 L1340.7,327.0 L1342.0,327.0 L1343.3,327.0 L1344.6,327.0 L1345.9,327.0 L1347.2,327.0 L1348.5,327.0 L1349.8,327.0 L1351.1,327.0 L1352.4,327.0 L1353.7,327.0 L1355.0,327.0 L1356.3,327.0 L1357.6,327.0 L1358.9,327.0 L1360.2,327.0 L1361.5,327.0 L1362.8,327.0 L1364.1,327.0 L1365.4,327.0 L1366.7,327.0 L1368.0,327.0 L1369.3,327.0 L1370.6,327.0 L1371.9,327.0 L1373.2,327.0 L1374.5,327.0 L1375.8,327.0 L1377.1,327.0 L1378.4,327.0 L1379.7,327.0 L1381.0,327.0 L1382.3,327.0 L1383.6,327.0 L1384.9,327.0 L1386.2,327.0 L1387.5,327.0 L1388.8,327.0 L1390.1,327.0 L1391.4,327.0 L1392.7,327.0 L1394.0,327.0 L1395.3,327.0 L1396.6,327.0 L1397.9,327.0 L1399.2,327.0 L1400.5,327.0 L1401.8,327.0 L1403.1,327.0 L1404.4,327.0 L1405.7,327.0 L1407.0,327.0 L1408.3,327.0 L1409.6,327.0 L1410.9,327.0 L1412.2,327.0 L1413.5,327.0 L1414.8,327.0 L1416.1,327.0 L1417.4,327.0 L1418.7,327.0 L1420.0,327.0 L1421.3,327.0 L1422.6,327.0 L1423.9,327.0 L1425.2,327.0 L1426.5,327.0 L1427.8,327.0 L1429.1,327.0 L1430.4,327.0 L1431.7,327.0 L1433.0,327.0 L1434.3,327.0 L1435.6,327.0 L1436.9,327.0 L1438.2,327.0 L1439.5,327.0 L1440.8,327.0 L1442.1,327.0 L1443.4,327.0 L1444.7,327.0 L1446.0,327.0 L1447.3,327.0 L1448.6,327.0 L1449.9,327.0 L1451.2,327.0 L1452.5,327.0 L1453.8,327.0 L1455.1,327.0 L1456.4,327.0 L1457.7,327.0 L1459.0,327.0 L1460.3,327.0 L1461.6,326.9 L1462.9,326.9 L1464.2,326.9 L1465.5,326.9 L1466.8,326.9 L1468.1,326.9 L1469.4,326.9 L1470.7,326.9 L1472.0,326.9 L1473.3,326.9 L1474.6,326.9 L1475.9,326.9 L1477.2,326.9 L1478.5,326.9 L1479.8,326.9 L1481.1,326.9 L1482.4,326.9 L1483.7,326.8 L1485.0,326.8 L1486.3,326.8 L1487.6,326.8 L1488.9,326.8 L1490.2,326.8 L1491.5,326.8 L1492.8,326.8 L1494.1,326.8 L1495.4,326.7 L1496.7,326.7 L1498.0,326.7 L1499.3,326.7 L1500.6,326.7 L1501.9,326.7 L1503.2,326.7 L1504.5,326.6 L1505.8,326.6 L1507.1,326.6 L1508.4,326.6 L1509.7,326.5 L1511.0,326.5 L1512.3,326.5 L1513.6,326.4 L1514.9,326.4 L1516.2,326.3 L1517.5,326.2 L1518.8,326.2 L1520.1,326.1 L1521.4,326.0 L1522.7,325.9 L1524.0,325.9 L1525.3,325.8 L1526.6,325.7 L1527.9,325.6 L1529.2,325.4 L1530.5,325.3 L1531.8,325.2 L1533.1,325.0 L1534.4,324.8 L1535.7,324.6 L1537.0,324.3 L1538.3,324.0 L1539.6,323.7 L1540.9,323.3 L1542.2,322.9 L1543.5,322.4 L1544.8,321.9 L1546.1,321.4 L1547.4,320.9 L1548.7,320.3 L1550.0,319.7 L1551.3,319.0 L1552.6,318.4 L1553.9,317.7 L1555.2,317.0 L1556.5,316.2 L1557.8,315.5 L1559.1,314.7 L1560.4,313.8 L1561.7,312.9 L1563.0,312.0 L1564.3,311.0 L1565.6,309.9 L1566.9,308.8 L1568.2,307.6 L1569.5,306.4 L1570.8,305.2 L1572.1,304.0 L1573.4,302.8 L1574.7,301.6 L1576.0,300.4 L1577.3,299.3 L1578.6,298.1 L1579.9,297.0 L1581.2,295.9 L1582.5,294.9 L1583.8,293.8 L1585.1,292.7 L1586.4,291.7 L1587.7,290.6 L1589.0,289.6 L1590.3,288.5 L1591.6,287.4 L1592.9,286.4 L1594.2,285.3 L1595.5,284.2 L1596.8,283.1 L1598.1,281.9 L1599.4,280.8 L1600.7,279.7 L1602.0,278.7 L1603.3,277.6 L1604.6,276.6 L1605.9,275.7 L1607.2,274.9 L1608.5,274.1 L1609.8,273.4 L1611.1,272.7 L1612.4,272.1 L1613.7,271.6 L1615.0,271.1 L1616.3,270.7 L1617.6,270.4 L1618.9,270.2 L1620.2,270.0 L1621.5,270.0 L1622.8,270.1 L1624.1,270.2 L1625.4,270.4 L1626.7,270.8 L1628.0,271.1 L1629.3,271.6 L1630.6,272.1 L1631.9,272.7 L1633.2,273.3 L1634.5,274.0 L1635.8,274.7 L1637.1,275.4 L1638.4,276.1 L1639.7,276.9 L1641.0,277.7 L1642.3,278.4 L1643.6,279.2 L1644.9,280.0 L1646.2,280.8 L1647.5,281.6 L1648.8,282.4 L1650.1,283.2 L1651.4,284.0 L1652.7,284.8 L1654.0,285.6 L1655.3,286.4 L1656.6,287.2 L1657.9,288.0 L1659.2,288.8 L1660.5,289.6 L1661.8,290.4 L1663.1,291.2 L1664.4,292.0 L1665.7,292.8 L1667.0,293.6 L1668.3,294.4 L1669.6,295.2 L1670.9,296.0 L1672.2,296.7 L1673.5,297.5 L1674.8,298.3 L1676.1,299.1 L1677.4,299.8 L1678.7,300.6 L1680.0,301.3 L1681.3,302.1 L1682.6,302.8 L1683.9,303.6 L1685.2,304.3 L1686.5,305.0 L1687.8,305.8 L1689.1,306.5 L1690.4,307.2 L1691.7,308.0 L1693.0,308.7 L1694.3,309.4 L1695.6,310.1 L1696.9,310.9 L1698.2,311.6 L1699.5,312.2 L1700.8,312.9 L1702.1,313.6 L1703.4,314.2 L1704.7,314.8 L1706.0,315.4 L1707.3,315.9 L1708.6,316.5 L1709.9,317.0 L1711.2,317.4 L1712.5,317.9 L1713.8,318.3 L1715.1,318.7 L1716.4,319.1 L1717.7,319.5 L1719.0,319.9 L1720.3,320.2 L1721.6,320.5 L1722.9,320.9 L1724.2,321.2 L1725.5,321.4 L1726.8,321.7 L1728.1,322.0 L1729.4,322.2 L1730.7,322.4 L1732.0,322.6 L1733.3,322.8 L1734.6,323.0 L1735.9,323.2 L1737.2,323.4 L1738.5,323.5 L1739.8,323.7 L1741.1,323.8 L1742.4,324.0 L1743.7,324.1 L1745.0,324.2 L1746.3,324.3 L1747.6,324.4 L1748.9,324.5 L1750.2,324.6 L1751.5,324.7 L1752.8,324.8 L1754.1,324.9 L1755.4,325.0 L1756.7,325.1 L1758.0,325.1 L1759.3,325.2 L1760.6,325.3 L1761.9,325.3 L1763.2,325.4 L1764.5,325.4 L1765.8,325.4 L1767.1,325.5 L1768.4,325.5 L1769.7,325.5 L1771.0,325.5 L1772.3,325.6 L1773.6,325.6 L1774.9,325.6 L1776.2,325.6 L1777.5,325.6 L1778.8,325.6 L1780.1,325.7 L1781.4,325.7 L1782.7,325.7 L1784.0,325.7 L1785.3,325.7 L1786.6,325.7 L1787.9,325.7 L1789.2,325.7 L1790.5,325.7 L1791.8,325.7 L1793.1,325.7 L1794.4,325.7 L1795.7,325.7 L1797.0,325.7 L1798.3,325.7 L1799.6,325.7 L1800.9,325.7 L1802.2,325.7 L1803.5,325.7 L1804.8,325.7 L1806.1,325.7 L1807.4,325.7 L1808.7,325.7 L1810.0,325.7 L1811.3,325.7 L1812.6,325.7 L1813.9,325.7 L1815.2,325.7 L1816.5,325.7" fill="none" stroke="#d0940c" stroke-width="2.2" stroke-linejoin="round"/>
<path d="M1298.6,354.3 L1299.9,354.3 L1301.2,354.3 L1302.5,354.3 L1303.8,354.3 L1305.1,354.3 L1306.4,354.3 L1307.7,354.3 L1309.0,354.3 L1310.3,354.3 L1311.6,354.3 L1312.9,354.3 L1314.2,354.3 L1315.5,354.3 L1316.8,354.3 L1318.1,354.3 L1319.4,354.3 L1320.7,354.3 L1322.0,354.3 L1323.3,354.3 L1324.6,354.3 L1325.9,354.3 L1327.2,354.3 L1328.5,354.3 L1329.8,354.3 L1331.1,354.3 L1332.4,354.3 L1333.7,354.3 L1335.0,354.3 L1336.3,354.3 L1337.6,354.3 L1338.9,354.3 L1340.2,354.3 L1341.5,354.3 L1342.8,354.3 L1344.1,354.3 L1345.4,354.3 L1346.7,354.3 L1348.0,354.3 L1349.3,354.3 L1350.6,354.3 L1351.9,354.3 L1353.2,354.3 L1354.5,354.3 L1355.8,354.3 L1357.1,354.3 L1358.4,354.3 L1359.7,354.3 L1361.0,354.3 L1362.3,354.3 L1363.6,354.3 L1364.9,354.3 L1366.2,354.3 L1367.5,354.3 L1368.8,354.3 L1370.1,354.3 L1371.4,354.3 L1372.7,354.3 L1374.0,354.3 L1375.3,354.3 L1376.6,354.3 L1377.9,354.3 L1379.2,354.3 L1380.5,354.3 L1381.8,354.3 L1383.1,354.3 L1384.4,354.3 L1385.7,354.3 L1387.0,354.3 L1388.3,354.3 L1389.6,354.3 L1390.9,354.3 L1392.2,354.3 L1393.5,354.3 L1394.8,354.3 L1396.1,354.3 L1397.4,354.3 L1398.7,354.3 L1400.0,354.3 L1401.3,354.3 L1402.6,354.3 L1403.9,354.3 L1405.2,354.3 L1406.5,354.3 L1407.8,354.3 L1409.1,354.3 L1410.4,354.3 L1411.7,354.3 L1413.0,354.3 L1414.3,354.3 L1415.6,354.3 L1416.9,354.3 L1418.2,354.3 L1419.5,354.3 L1420.8,354.3 L1422.1,354.3 L1423.4,354.3 L1424.7,354.3 L1426.0,354.3 L1427.3,354.3 L1428.6,354.3 L1429.9,354.3 L1431.2,354.3 L1432.5,354.3 L1433.8,354.3 L1435.1,354.3 L1436.4,354.3 L1437.7,354.2 L1439.0,354.2 L1440.3,354.2 L1441.6,354.2 L1442.9,354.2 L1444.2,354.2 L1445.5,354.2 L1446.8,354.2 L1448.1,354.2 L1449.4,354.2 L1450.7,354.2 L1452.0,354.2 L1453.3,354.2 L1454.6,354.2 L1455.9,354.2 L1457.2,354.2 L1458.5,354.1 L1459.8,354.1 L1461.1,354.1 L1462.4,354.1 L1463.7,354.1 L1465.0,354.1 L1466.3,354.1 L1467.6,354.1 L1468.9,354.1 L1470.2,354.1 L1471.5,354.0 L1472.8,354.0 L1474.1,354.0 L1475.4,354.0 L1476.7,354.0 L1478.0,354.0 L1479.3,354.0 L1480.6,353.9 L1481.9,353.9 L1483.2,353.9 L1484.5,353.9 L1485.8,353.9 L1487.1,353.8 L1488.4,353.8 L1489.7,353.8 L1491.0,353.7 L1492.3,353.7 L1493.6,353.7 L1494.9,353.6 L1496.2,353.6 L1497.5,353.5 L1498.8,353.4 L1500.1,353.4 L1501.4,353.3 L1502.7,353.2 L1504.0,353.1 L1505.3,352.9 L1506.6,352.8 L1507.9,352.6 L1509.2,352.4 L1510.5,352.1 L1511.8,351.8 L1513.1,351.4 L1514.4,350.9 L1515.7,350.2 L1517.0,349.4 L1518.3,348.4 L1519.6,347.2 L1520.9,345.8 L1522.2,344.1 L1523.5,342.2 L1524.8,340.1 L1526.1,337.7 L1527.4,335.0 L1528.7,332.0 L1530.0,328.7 L1531.3,325.0 L1532.6,320.9 L1533.9,316.5 L1535.2,311.8 L1536.5,306.9 L1537.8,302.0 L1539.1,297.1 L1540.4,292.3 L1541.7,287.6 L1543.0,283.0 L1544.3,278.7 L1545.6,274.5 L1546.9,270.4 L1548.2,266.5 L1549.5,262.8 L1550.8,259.2 L1552.1,255.7 L1553.4,252.3 L1554.7,248.9 L1556.0,245.5 L1557.3,242.1 L1558.6,238.6 L1559.9,235.0 L1561.2,231.4 L1562.5,227.7 L1563.8,224.1 L1565.1,220.7 L1566.4,217.5 L1567.7,214.7 L1569.0,212.2 L1570.3,210.1 L1571.6,208.3 L1572.9,206.9 L1574.2,205.8 L1575.5,205.0 L1576.8,204.4 L1578.1,204.1 L1579.4,204.0 L1580.7,204.1 L1582.0,204.4 L1583.3,204.9 L1584.6,205.5 L1585.9,206.3 L1587.2,207.1 L1588.5,208.1 L1589.8,209.2 L1591.1,210.4 L1592.4,211.8 L1593.7,213.3 L1595.0,214.9 L1596.3,216.8 L1597.6,218.8 L1598.9,220.9 L1600.2,223.2 L1601.5,225.5 L1602.8,227.9 L1604.1,230.3 L1605.4,232.6 L1606.7,234.9 L1608.0,237.2 L1609.3,239.4 L1610.6,241.6 L1611.9,243.8 L1613.2,245.9 L1614.5,248.0 L1615.8,250.0 L1617.1,252.1 L1618.4,254.1 L1619.7,256.2 L1621.0,258.2 L1622.3,260.2 L1623.6,262.2 L1624.9,264.2 L1626.2,266.1 L1627.5,268.1 L1628.8,270.0 L1630.1,272.0 L1631.4,273.9 L1632.7,275.8 L1634.0,277.7 L1635.3,279.7 L1636.6,281.6 L1637.9,283.4 L1639.2,285.3 L1640.5,287.2 L1641.8,289.0 L1643.1,290.8 L1644.4,292.6 L1645.7,294.4 L1647.0,296.1 L1648.3,297.9 L1649.6,299.6 L1650.9,301.2 L1652.2,302.9 L1653.5,304.5 L1654.8,306.1 L1656.1,307.7 L1657.4,309.3 L1658.7,310.9 L1660.0,312.4 L1661.3,313.9 L1662.6,315.4 L1663.9,316.9 L1665.2,318.4 L1666.5,319.8 L1667.8,321.1 L1669.1,322.4 L1670.4,323.7 L1671.7,324.9 L1673.0,326.1 L1674.3,327.2 L1675.6,328.3 L1676.9,329.4 L1678.2,330.4 L1679.5,331.3 L1680.8,332.3 L1682.1,333.2 L1683.4,334.1 L1684.7,335.0 L1686.0,335.8 L1687.3,336.6 L1688.6,337.4 L1689.9,338.1 L1691.2,338.9 L1692.5,339.6 L1693.8,340.2 L1695.1,340.9 L1696.4,341.5 L1697.7,342.1 L1699.0,342.7 L1700.3,343.2 L1701.6,343.7 L1702.9,344.3 L1704.2,344.8 L1705.5,345.3 L1706.8,345.7 L1708.1,346.2 L1709.4,346.6 L1710.7,347.0 L1712.0,347.4 L1713.3,347.8 L1714.6,348.1 L1715.9,348.4 L1717.2,348.7 L1718.5,349.0 L1719.8,349.2 L1721.1,349.4 L1722.4,349.6 L1723.7,349.8 L1725.0,350.0 L1726.3,350.2 L1727.6,350.3 L1728.9,350.5 L1730.2,350.6 L1731.5,350.7 L1732.8,350.8 L1734.1,351.0 L1735.4,351.1 L1736.7,351.2 L1738.0,351.3 L1739.3,351.4 L1740.6,351.5 L1741.9,351.6 L1743.2,351.7 L1744.5,351.8 L1745.8,351.9 L1747.1,352.0 L1748.4,352.1 L1749.7,352.1 L1751.0,352.2 L1752.3,352.3 L1753.6,352.4 L1754.9,352.5 L1756.2,352.5 L1757.5,352.6 L1758.8,352.7 L1760.1,352.7 L1761.4,352.8 L1762.7,352.9 L1764.0,352.9 L1765.3,353.0 L1766.6,353.0 L1767.9,353.1 L1769.2,353.1 L1770.5,353.1 L1771.8,353.2 L1773.1,353.2 L1774.4,353.3 L1775.7,353.3 L1777.0,353.3 L1778.3,353.4 L1779.6,353.4 L1780.9,353.4 L1782.2,353.5 L1783.5,353.5 L1784.8,353.5 L1786.1,353.6 L1787.4,353.6 L1788.7,353.6 L1790.0,353.6 L1791.3,353.6 L1792.6,353.6 L1792.6,354.3 L1298.6,354.3 Z" fill="url(#gc_purple)" stroke="none"/>
<path d="M1298.6,354.3 L1299.9,354.3 L1301.2,354.3 L1302.5,354.3 L1303.8,354.3 L1305.1,354.3 L1306.4,354.3 L1307.7,354.3 L1309.0,354.3 L1310.3,354.3 L1311.6,354.3 L1312.9,354.3 L1314.2,354.3 L1315.5,354.3 L1316.8,354.3 L1318.1,354.3 L1319.4,354.3 L1320.7,354.3 L1322.0,354.3 L1323.3,354.3 L1324.6,354.3 L1325.9,354.3 L1327.2,354.3 L1328.5,354.3 L1329.8,354.3 L1331.1,354.3 L1332.4,354.3 L1333.7,354.3 L1335.0,354.3 L1336.3,354.3 L1337.6,354.3 L1338.9,354.3 L1340.2,354.3 L1341.5,354.3 L1342.8,354.3 L1344.1,354.3 L1345.4,354.3 L1346.7,354.3 L1348.0,354.3 L1349.3,354.3 L1350.6,354.3 L1351.9,354.3 L1353.2,354.3 L1354.5,354.3 L1355.8,354.3 L1357.1,354.3 L1358.4,354.3 L1359.7,354.3 L1361.0,354.3 L1362.3,354.3 L1363.6,354.3 L1364.9,354.3 L1366.2,354.3 L1367.5,354.3 L1368.8,354.3 L1370.1,354.3 L1371.4,354.3 L1372.7,354.3 L1374.0,354.3 L1375.3,354.3 L1376.6,354.3 L1377.9,354.3 L1379.2,354.3 L1380.5,354.3 L1381.8,354.3 L1383.1,354.3 L1384.4,354.3 L1385.7,354.3 L1387.0,354.3 L1388.3,354.3 L1389.6,354.3 L1390.9,354.3 L1392.2,354.3 L1393.5,354.3 L1394.8,354.3 L1396.1,354.3 L1397.4,354.3 L1398.7,354.3 L1400.0,354.3 L1401.3,354.3 L1402.6,354.3 L1403.9,354.3 L1405.2,354.3 L1406.5,354.3 L1407.8,354.3 L1409.1,354.3 L1410.4,354.3 L1411.7,354.3 L1413.0,354.3 L1414.3,354.3 L1415.6,354.3 L1416.9,354.3 L1418.2,354.3 L1419.5,354.3 L1420.8,354.3 L1422.1,354.3 L1423.4,354.3 L1424.7,354.3 L1426.0,354.3 L1427.3,354.3 L1428.6,354.3 L1429.9,354.3 L1431.2,354.3 L1432.5,354.3 L1433.8,354.3 L1435.1,354.3 L1436.4,354.3 L1437.7,354.2 L1439.0,354.2 L1440.3,354.2 L1441.6,354.2 L1442.9,354.2 L1444.2,354.2 L1445.5,354.2 L1446.8,354.2 L1448.1,354.2 L1449.4,354.2 L1450.7,354.2 L1452.0,354.2 L1453.3,354.2 L1454.6,354.2 L1455.9,354.2 L1457.2,354.2 L1458.5,354.1 L1459.8,354.1 L1461.1,354.1 L1462.4,354.1 L1463.7,354.1 L1465.0,354.1 L1466.3,354.1 L1467.6,354.1 L1468.9,354.1 L1470.2,354.1 L1471.5,354.0 L1472.8,354.0 L1474.1,354.0 L1475.4,354.0 L1476.7,354.0 L1478.0,354.0 L1479.3,354.0 L1480.6,353.9 L1481.9,353.9 L1483.2,353.9 L1484.5,353.9 L1485.8,353.9 L1487.1,353.8 L1488.4,353.8 L1489.7,353.8 L1491.0,353.7 L1492.3,353.7 L1493.6,353.7 L1494.9,353.6 L1496.2,353.6 L1497.5,353.5 L1498.8,353.4 L1500.1,353.4 L1501.4,353.3 L1502.7,353.2 L1504.0,353.1 L1505.3,352.9 L1506.6,352.8 L1507.9,352.6 L1509.2,352.4 L1510.5,352.1 L1511.8,351.8 L1513.1,351.4 L1514.4,350.9 L1515.7,350.2 L1517.0,349.4 L1518.3,348.4 L1519.6,347.2 L1520.9,345.8 L1522.2,344.1 L1523.5,342.2 L1524.8,340.1 L1526.1,337.7 L1527.4,335.0 L1528.7,332.0 L1530.0,328.7 L1531.3,325.0 L1532.6,320.9 L1533.9,316.5 L1535.2,311.8 L1536.5,306.9 L1537.8,302.0 L1539.1,297.1 L1540.4,292.3 L1541.7,287.6 L1543.0,283.0 L1544.3,278.7 L1545.6,274.5 L1546.9,270.4 L1548.2,266.5 L1549.5,262.8 L1550.8,259.2 L1552.1,255.7 L1553.4,252.3 L1554.7,248.9 L1556.0,245.5 L1557.3,242.1 L1558.6,238.6 L1559.9,235.0 L1561.2,231.4 L1562.5,227.7 L1563.8,224.1 L1565.1,220.7 L1566.4,217.5 L1567.7,214.7 L1569.0,212.2 L1570.3,210.1 L1571.6,208.3 L1572.9,206.9 L1574.2,205.8 L1575.5,205.0 L1576.8,204.4 L1578.1,204.1 L1579.4,204.0 L1580.7,204.1 L1582.0,204.4 L1583.3,204.9 L1584.6,205.5 L1585.9,206.3 L1587.2,207.1 L1588.5,208.1 L1589.8,209.2 L1591.1,210.4 L1592.4,211.8 L1593.7,213.3 L1595.0,214.9 L1596.3,216.8 L1597.6,218.8 L1598.9,220.9 L1600.2,223.2 L1601.5,225.5 L1602.8,227.9 L1604.1,230.3 L1605.4,232.6 L1606.7,234.9 L1608.0,237.2 L1609.3,239.4 L1610.6,241.6 L1611.9,243.8 L1613.2,245.9 L1614.5,248.0 L1615.8,250.0 L1617.1,252.1 L1618.4,254.1 L1619.7,256.2 L1621.0,258.2 L1622.3,260.2 L1623.6,262.2 L1624.9,264.2 L1626.2,266.1 L1627.5,268.1 L1628.8,270.0 L1630.1,272.0 L1631.4,273.9 L1632.7,275.8 L1634.0,277.7 L1635.3,279.7 L1636.6,281.6 L1637.9,283.4 L1639.2,285.3 L1640.5,287.2 L1641.8,289.0 L1643.1,290.8 L1644.4,292.6 L1645.7,294.4 L1647.0,296.1 L1648.3,297.9 L1649.6,299.6 L1650.9,301.2 L1652.2,302.9 L1653.5,304.5 L1654.8,306.1 L1656.1,307.7 L1657.4,309.3 L1658.7,310.9 L1660.0,312.4 L1661.3,313.9 L1662.6,315.4 L1663.9,316.9 L1665.2,318.4 L1666.5,319.8 L1667.8,321.1 L1669.1,322.4 L1670.4,323.7 L1671.7,324.9 L1673.0,326.1 L1674.3,327.2 L1675.6,328.3 L1676.9,329.4 L1678.2,330.4 L1679.5,331.3 L1680.8,332.3 L1682.1,333.2 L1683.4,334.1 L1684.7,335.0 L1686.0,335.8 L1687.3,336.6 L1688.6,337.4 L1689.9,338.1 L1691.2,338.9 L1692.5,339.6 L1693.8,340.2 L1695.1,340.9 L1696.4,341.5 L1697.7,342.1 L1699.0,342.7 L1700.3,343.2 L1701.6,343.7 L1702.9,344.3 L1704.2,344.8 L1705.5,345.3 L1706.8,345.7 L1708.1,346.2 L1709.4,346.6 L1710.7,347.0 L1712.0,347.4 L1713.3,347.8 L1714.6,348.1 L1715.9,348.4 L1717.2,348.7 L1718.5,349.0 L1719.8,349.2 L1721.1,349.4 L1722.4,349.6 L1723.7,349.8 L1725.0,350.0 L1726.3,350.2 L1727.6,350.3 L1728.9,350.5 L1730.2,350.6 L1731.5,350.7 L1732.8,350.8 L1734.1,351.0 L1735.4,351.1 L1736.7,351.2 L1738.0,351.3 L1739.3,351.4 L1740.6,351.5 L1741.9,351.6 L1743.2,351.7 L1744.5,351.8 L1745.8,351.9 L1747.1,352.0 L1748.4,352.1 L1749.7,352.1 L1751.0,352.2 L1752.3,352.3 L1753.6,352.4 L1754.9,352.5 L1756.2,352.5 L1757.5,352.6 L1758.8,352.7 L1760.1,352.7 L1761.4,352.8 L1762.7,352.9 L1764.0,352.9 L1765.3,353.0 L1766.6,353.0 L1767.9,353.1 L1769.2,353.1 L1770.5,353.1 L1771.8,353.2 L1773.1,353.2 L1774.4,353.3 L1775.7,353.3 L1777.0,353.3 L1778.3,353.4 L1779.6,353.4 L1780.9,353.4 L1782.2,353.5 L1783.5,353.5 L1784.8,353.5 L1786.1,353.6 L1787.4,353.6 L1788.7,353.6 L1790.0,353.6 L1791.3,353.6 L1792.6,353.6" fill="none" stroke="#a468e4" stroke-width="2.2" stroke-linejoin="round"/>
<path d="M1274.7,381.6 L1276.0,381.6 L1277.3,381.6 L1278.6,381.6 L1279.9,381.6 L1281.2,381.6 L1282.5,381.6 L1283.8,381.6 L1285.1,381.6 L1286.4,381.6 L1287.7,381.6 L1289.0,381.6 L1290.3,381.6 L1291.6,381.6 L1292.9,381.6 L1294.2,381.6 L1295.5,381.6 L1296.8,381.6 L1298.1,381.6 L1299.4,381.6 L1300.7,381.6 L1302.0,381.6 L1303.3,381.6 L1304.6,381.6 L1305.9,381.6 L1307.2,381.6 L1308.5,381.6 L1309.8,381.6 L1311.1,381.6 L1312.4,381.6 L1313.7,381.6 L1315.0,381.6 L1316.3,381.6 L1317.6,381.6 L1318.9,381.6 L1320.2,381.6 L1321.5,381.6 L1322.8,381.6 L1324.1,381.6 L1325.4,381.6 L1326.7,381.6 L1328.0,381.6 L1329.3,381.6 L1330.6,381.6 L1331.9,381.6 L1333.2,381.6 L1334.5,381.6 L1335.8,381.6 L1337.1,381.6 L1338.4,381.6 L1339.7,381.6 L1341.0,381.6 L1342.3,381.6 L1343.6,381.6 L1344.9,381.6 L1346.2,381.6 L1347.5,381.6 L1348.8,381.6 L1350.1,381.6 L1351.4,381.6 L1352.7,381.6 L1354.0,381.6 L1355.3,381.6 L1356.6,381.6 L1357.9,381.6 L1359.2,381.6 L1360.5,381.6 L1361.8,381.6 L1363.1,381.6 L1364.4,381.6 L1365.7,381.6 L1367.0,381.6 L1368.3,381.6 L1369.6,381.6 L1370.9,381.6 L1372.2,381.6 L1373.5,381.6 L1374.8,381.6 L1376.1,381.6 L1377.4,381.6 L1378.7,381.6 L1380.0,381.6 L1381.3,381.6 L1382.6,381.6 L1383.9,381.6 L1385.2,381.6 L1386.5,381.6 L1387.8,381.6 L1389.1,381.6 L1390.4,381.6 L1391.7,381.6 L1393.0,381.6 L1394.3,381.6 L1395.6,381.6 L1396.9,381.6 L1398.2,381.6 L1399.5,381.6 L1400.8,381.6 L1402.1,381.6 L1403.4,381.6 L1404.7,381.6 L1406.0,381.6 L1407.3,381.6 L1408.6,381.6 L1409.9,381.6 L1411.2,381.5 L1412.5,381.5 L1413.8,381.5 L1415.1,381.5 L1416.4,381.5 L1417.7,381.5 L1419.0,381.5 L1420.3,381.5 L1421.6,381.5 L1422.9,381.5 L1424.2,381.5 L1425.5,381.5 L1426.8,381.5 L1428.1,381.4 L1429.4,381.4 L1430.7,381.4 L1432.0,381.4 L1433.3,381.4 L1434.6,381.4 L1435.9,381.4 L1437.2,381.3 L1438.5,381.3 L1439.8,381.3 L1441.1,381.3 L1442.4,381.3 L1443.7,381.2 L1445.0,381.2 L1446.3,381.2 L1447.6,381.1 L1448.9,381.1 L1450.2,381.1 L1451.5,381.0 L1452.8,380.9 L1454.1,380.9 L1455.4,380.8 L1456.7,380.7 L1458.0,380.6 L1459.3,380.5 L1460.6,380.4 L1461.9,380.3 L1463.2,380.2 L1464.5,380.0 L1465.8,379.8 L1467.1,379.6 L1468.4,379.3 L1469.7,379.0 L1471.0,378.6 L1472.3,378.1 L1473.6,377.5 L1474.9,376.8 L1476.2,376.0 L1477.5,375.1 L1478.8,374.2 L1480.1,373.1 L1481.4,371.9 L1482.7,370.6 L1484.0,369.1 L1485.3,367.4 L1486.6,365.4 L1487.9,363.2 L1489.2,360.7 L1490.5,357.9 L1491.8,354.7 L1493.1,351.3 L1494.4,347.6 L1495.7,343.6 L1497.0,339.2 L1498.3,334.5 L1499.6,329.4 L1500.9,324.1 L1502.2,318.5 L1503.5,312.7 L1504.8,306.9 L1506.1,301.1 L1507.4,295.4 L1508.7,289.9 L1510.0,284.5 L1511.3,279.3 L1512.6,274.2 L1513.9,269.3 L1515.2,264.4 L1516.5,259.5 L1517.8,254.7 L1519.1,249.8 L1520.4,245.0 L1521.7,240.1 L1523.0,235.2 L1524.3,230.3 L1525.6,225.3 L1526.9,220.2 L1528.2,215.2 L1529.5,210.2 L1530.8,205.3 L1532.1,200.7 L1533.4,196.5 L1534.7,192.6 L1536.0,189.2 L1537.3,186.2 L1538.6,183.7 L1539.9,181.6 L1541.2,179.8 L1542.5,178.5 L1543.8,177.5 L1545.1,176.9 L1546.4,176.7 L1547.7,176.7 L1549.0,177.1 L1550.3,177.7 L1551.6,178.6 L1552.9,179.6 L1554.2,180.9 L1555.5,182.4 L1556.8,184.1 L1558.1,186.0 L1559.4,188.2 L1560.7,190.6 L1562.0,193.2 L1563.3,196.0 L1564.6,199.0 L1565.9,202.3 L1567.2,205.8 L1568.5,209.4 L1569.8,213.1 L1571.1,217.0 L1572.4,220.9 L1573.7,224.9 L1575.0,228.9 L1576.3,232.8 L1577.6,236.7 L1578.9,240.5 L1580.2,244.2 L1581.5,247.8 L1582.8,251.2 L1584.1,254.6 L1585.4,257.9 L1586.7,261.1 L1588.0,264.2 L1589.3,267.3 L1590.6,270.4 L1591.9,273.4 L1593.2,276.4 L1594.5,279.3 L1595.8,282.2 L1597.1,285.0 L1598.4,287.7 L1599.7,290.4 L1601.0,293.0 L1602.3,295.6 L1603.6,298.0 L1604.9,300.4 L1606.2,302.8 L1607.5,305.0 L1608.8,307.2 L1610.1,309.3 L1611.4,311.4 L1612.7,313.4 L1614.0,315.4 L1615.3,317.3 L1616.6,319.2 L1617.9,321.1 L1619.2,322.9 L1620.5,324.6 L1621.8,326.4 L1623.1,328.0 L1624.4,329.7 L1625.7,331.3 L1627.0,332.9 L1628.3,334.5 L1629.6,336.0 L1630.9,337.5 L1632.2,339.0 L1633.5,340.5 L1634.8,341.9 L1636.1,343.3 L1637.4,344.7 L1638.7,346.1 L1640.0,347.4 L1641.3,348.8 L1642.6,350.0 L1643.9,351.3 L1645.2,352.5 L1646.5,353.6 L1647.8,354.8 L1649.1,355.9 L1650.4,356.9 L1651.7,358.0 L1653.0,359.0 L1654.3,359.9 L1655.6,360.9 L1656.9,361.8 L1658.2,362.7 L1659.5,363.5 L1660.8,364.4 L1662.1,365.2 L1663.4,366.0 L1664.7,366.8 L1666.0,367.6 L1667.3,368.3 L1668.6,369.0 L1669.9,369.7 L1671.2,370.3 L1672.5,370.9 L1673.8,371.5 L1675.1,372.1 L1676.4,372.6 L1677.7,373.2 L1679.0,373.7 L1680.3,374.2 L1681.6,374.6 L1682.9,375.1 L1684.2,375.5 L1685.5,375.9 L1686.8,376.2 L1688.1,376.5 L1689.4,376.8 L1690.7,377.1 L1692.0,377.4 L1693.3,377.6 L1694.6,377.8 L1695.9,378.0 L1697.2,378.2 L1698.5,378.3 L1699.8,378.5 L1701.1,378.6 L1702.4,378.8 L1703.7,378.9 L1705.0,379.0 L1706.3,379.1 L1707.6,379.2 L1708.9,379.3 L1710.2,379.4 L1711.5,379.5 L1712.8,379.5 L1714.1,379.6 L1715.4,379.6 L1716.7,379.7 L1718.0,379.7 L1719.3,379.8 L1720.6,379.9 L1721.9,379.9 L1723.2,379.9 L1724.5,380.0 L1725.8,380.0 L1727.1,380.1 L1728.4,380.1 L1729.7,380.1 L1731.0,380.2 L1732.3,380.2 L1733.6,380.2 L1734.9,380.2 L1736.2,380.3 L1737.5,380.3 L1738.8,380.3 L1740.1,380.3 L1741.4,380.3 L1742.7,380.3 L1744.0,380.3 L1745.3,380.3 L1746.6,380.3 L1747.9,380.3 L1749.2,380.3 L1750.5,380.3 L1751.8,380.3 L1753.1,380.3 L1754.4,380.3 L1755.7,380.3 L1757.0,380.3 L1758.3,380.3 L1759.6,380.3 L1760.9,380.3 L1762.2,380.3 L1763.5,380.3 L1764.8,380.3 L1766.1,380.3 L1767.4,380.3 L1768.7,380.3 L1768.7,381.6 L1274.7,381.6 Z" fill="url(#gc_green)" stroke="none"/>
<path d="M1274.7,381.6 L1276.0,381.6 L1277.3,381.6 L1278.6,381.6 L1279.9,381.6 L1281.2,381.6 L1282.5,381.6 L1283.8,381.6 L1285.1,381.6 L1286.4,381.6 L1287.7,381.6 L1289.0,381.6 L1290.3,381.6 L1291.6,381.6 L1292.9,381.6 L1294.2,381.6 L1295.5,381.6 L1296.8,381.6 L1298.1,381.6 L1299.4,381.6 L1300.7,381.6 L1302.0,381.6 L1303.3,381.6 L1304.6,381.6 L1305.9,381.6 L1307.2,381.6 L1308.5,381.6 L1309.8,381.6 L1311.1,381.6 L1312.4,381.6 L1313.7,381.6 L1315.0,381.6 L1316.3,381.6 L1317.6,381.6 L1318.9,381.6 L1320.2,381.6 L1321.5,381.6 L1322.8,381.6 L1324.1,381.6 L1325.4,381.6 L1326.7,381.6 L1328.0,381.6 L1329.3,381.6 L1330.6,381.6 L1331.9,381.6 L1333.2,381.6 L1334.5,381.6 L1335.8,381.6 L1337.1,381.6 L1338.4,381.6 L1339.7,381.6 L1341.0,381.6 L1342.3,381.6 L1343.6,381.6 L1344.9,381.6 L1346.2,381.6 L1347.5,381.6 L1348.8,381.6 L1350.1,381.6 L1351.4,381.6 L1352.7,381.6 L1354.0,381.6 L1355.3,381.6 L1356.6,381.6 L1357.9,381.6 L1359.2,381.6 L1360.5,381.6 L1361.8,381.6 L1363.1,381.6 L1364.4,381.6 L1365.7,381.6 L1367.0,381.6 L1368.3,381.6 L1369.6,381.6 L1370.9,381.6 L1372.2,381.6 L1373.5,381.6 L1374.8,381.6 L1376.1,381.6 L1377.4,381.6 L1378.7,381.6 L1380.0,381.6 L1381.3,381.6 L1382.6,381.6 L1383.9,381.6 L1385.2,381.6 L1386.5,381.6 L1387.8,381.6 L1389.1,381.6 L1390.4,381.6 L1391.7,381.6 L1393.0,381.6 L1394.3,381.6 L1395.6,381.6 L1396.9,381.6 L1398.2,381.6 L1399.5,381.6 L1400.8,381.6 L1402.1,381.6 L1403.4,381.6 L1404.7,381.6 L1406.0,381.6 L1407.3,381.6 L1408.6,381.6 L1409.9,381.6 L1411.2,381.5 L1412.5,381.5 L1413.8,381.5 L1415.1,381.5 L1416.4,381.5 L1417.7,381.5 L1419.0,381.5 L1420.3,381.5 L1421.6,381.5 L1422.9,381.5 L1424.2,381.5 L1425.5,381.5 L1426.8,381.5 L1428.1,381.4 L1429.4,381.4 L1430.7,381.4 L1432.0,381.4 L1433.3,381.4 L1434.6,381.4 L1435.9,381.4 L1437.2,381.3 L1438.5,381.3 L1439.8,381.3 L1441.1,381.3 L1442.4,381.3 L1443.7,381.2 L1445.0,381.2 L1446.3,381.2 L1447.6,381.1 L1448.9,381.1 L1450.2,381.1 L1451.5,381.0 L1452.8,380.9 L1454.1,380.9 L1455.4,380.8 L1456.7,380.7 L1458.0,380.6 L1459.3,380.5 L1460.6,380.4 L1461.9,380.3 L1463.2,380.2 L1464.5,380.0 L1465.8,379.8 L1467.1,379.6 L1468.4,379.3 L1469.7,379.0 L1471.0,378.6 L1472.3,378.1 L1473.6,377.5 L1474.9,376.8 L1476.2,376.0 L1477.5,375.1 L1478.8,374.2 L1480.1,373.1 L1481.4,371.9 L1482.7,370.6 L1484.0,369.1 L1485.3,367.4 L1486.6,365.4 L1487.9,363.2 L1489.2,360.7 L1490.5,357.9 L1491.8,354.7 L1493.1,351.3 L1494.4,347.6 L1495.7,343.6 L1497.0,339.2 L1498.3,334.5 L1499.6,329.4 L1500.9,324.1 L1502.2,318.5 L1503.5,312.7 L1504.8,306.9 L1506.1,301.1 L1507.4,295.4 L1508.7,289.9 L1510.0,284.5 L1511.3,279.3 L1512.6,274.2 L1513.9,269.3 L1515.2,264.4 L1516.5,259.5 L1517.8,254.7 L1519.1,249.8 L1520.4,245.0 L1521.7,240.1 L1523.0,235.2 L1524.3,230.3 L1525.6,225.3 L1526.9,220.2 L1528.2,215.2 L1529.5,210.2 L1530.8,205.3 L1532.1,200.7 L1533.4,196.5 L1534.7,192.6 L1536.0,189.2 L1537.3,186.2 L1538.6,183.7 L1539.9,181.6 L1541.2,179.8 L1542.5,178.5 L1543.8,177.5 L1545.1,176.9 L1546.4,176.7 L1547.7,176.7 L1549.0,177.1 L1550.3,177.7 L1551.6,178.6 L1552.9,179.6 L1554.2,180.9 L1555.5,182.4 L1556.8,184.1 L1558.1,186.0 L1559.4,188.2 L1560.7,190.6 L1562.0,193.2 L1563.3,196.0 L1564.6,199.0 L1565.9,202.3 L1567.2,205.8 L1568.5,209.4 L1569.8,213.1 L1571.1,217.0 L1572.4,220.9 L1573.7,224.9 L1575.0,228.9 L1576.3,232.8 L1577.6,236.7 L1578.9,240.5 L1580.2,244.2 L1581.5,247.8 L1582.8,251.2 L1584.1,254.6 L1585.4,257.9 L1586.7,261.1 L1588.0,264.2 L1589.3,267.3 L1590.6,270.4 L1591.9,273.4 L1593.2,276.4 L1594.5,279.3 L1595.8,282.2 L1597.1,285.0 L1598.4,287.7 L1599.7,290.4 L1601.0,293.0 L1602.3,295.6 L1603.6,298.0 L1604.9,300.4 L1606.2,302.8 L1607.5,305.0 L1608.8,307.2 L1610.1,309.3 L1611.4,311.4 L1612.7,313.4 L1614.0,315.4 L1615.3,317.3 L1616.6,319.2 L1617.9,321.1 L1619.2,322.9 L1620.5,324.6 L1621.8,326.4 L1623.1,328.0 L1624.4,329.7 L1625.7,331.3 L1627.0,332.9 L1628.3,334.5 L1629.6,336.0 L1630.9,337.5 L1632.2,339.0 L1633.5,340.5 L1634.8,341.9 L1636.1,343.3 L1637.4,344.7 L1638.7,346.1 L1640.0,347.4 L1641.3,348.8 L1642.6,350.0 L1643.9,351.3 L1645.2,352.5 L1646.5,353.6 L1647.8,354.8 L1649.1,355.9 L1650.4,356.9 L1651.7,358.0 L1653.0,359.0 L1654.3,359.9 L1655.6,360.9 L1656.9,361.8 L1658.2,362.7 L1659.5,363.5 L1660.8,364.4 L1662.1,365.2 L1663.4,366.0 L1664.7,366.8 L1666.0,367.6 L1667.3,368.3 L1668.6,369.0 L1669.9,369.7 L1671.2,370.3 L1672.5,370.9 L1673.8,371.5 L1675.1,372.1 L1676.4,372.6 L1677.7,373.2 L1679.0,373.7 L1680.3,374.2 L1681.6,374.6 L1682.9,375.1 L1684.2,375.5 L1685.5,375.9 L1686.8,376.2 L1688.1,376.5 L1689.4,376.8 L1690.7,377.1 L1692.0,377.4 L1693.3,377.6 L1694.6,377.8 L1695.9,378.0 L1697.2,378.2 L1698.5,378.3 L1699.8,378.5 L1701.1,378.6 L1702.4,378.8 L1703.7,378.9 L1705.0,379.0 L1706.3,379.1 L1707.6,379.2 L1708.9,379.3 L1710.2,379.4 L1711.5,379.5 L1712.8,379.5 L1714.1,379.6 L1715.4,379.6 L1716.7,379.7 L1718.0,379.7 L1719.3,379.8 L1720.6,379.9 L1721.9,379.9 L1723.2,379.9 L1724.5,380.0 L1725.8,380.0 L1727.1,380.1 L1728.4,380.1 L1729.7,380.1 L1731.0,380.2 L1732.3,380.2 L1733.6,380.2 L1734.9,380.2 L1736.2,380.3 L1737.5,380.3 L1738.8,380.3 L1740.1,380.3 L1741.4,380.3 L1742.7,380.3 L1744.0,380.3 L1745.3,380.3 L1746.6,380.3 L1747.9,380.3 L1749.2,380.3 L1750.5,380.3 L1751.8,380.3 L1753.1,380.3 L1754.4,380.3 L1755.7,380.3 L1757.0,380.3 L1758.3,380.3 L1759.6,380.3 L1760.9,380.3 L1762.2,380.3 L1763.5,380.3 L1764.8,380.3 L1766.1,380.3 L1767.4,380.3 L1768.7,380.3" fill="none" stroke="#22a060" stroke-width="2.2" stroke-linejoin="round"/>
<path d="M1250.8,408.2 L1252.1,408.3 L1253.4,408.3 L1254.7,408.3 L1256.0,408.3 L1257.3,408.3 L1258.6,408.3 L1259.9,408.3 L1261.2,408.3 L1262.5,408.4 L1263.8,408.4 L1265.1,408.4 L1266.4,408.4 L1267.7,408.4 L1269.0,408.4 L1270.3,408.4 L1271.6,408.4 L1272.9,408.4 L1274.2,408.4 L1275.5,408.5 L1276.8,408.5 L1278.1,408.5 L1279.4,408.5 L1280.7,408.5 L1282.0,408.5 L1283.3,408.5 L1284.6,408.5 L1285.9,408.5 L1287.2,408.5 L1288.5,408.5 L1289.8,408.5 L1291.1,408.5 L1292.4,408.5 L1293.7,408.5 L1295.0,408.5 L1296.3,408.5 L1297.6,408.5 L1298.9,408.5 L1300.2,408.5 L1301.5,408.5 L1302.8,408.5 L1304.1,408.5 L1305.4,408.5 L1306.7,408.5 L1308.0,408.5 L1309.3,408.5 L1310.6,408.5 L1311.9,408.5 L1313.2,408.5 L1314.5,408.5 L1315.8,408.5 L1317.1,408.5 L1318.4,408.5 L1319.7,408.6 L1321.0,408.6 L1322.3,408.6 L1323.6,408.6 L1324.9,408.6 L1326.2,408.6 L1327.5,408.6 L1328.8,408.6 L1330.1,408.5 L1331.4,408.5 L1332.7,408.5 L1334.0,408.5 L1335.3,408.5 L1336.6,408.5 L1337.9,408.5 L1339.2,408.5 L1340.5,408.5 L1341.8,408.5 L1343.1,408.5 L1344.4,408.5 L1345.7,408.5 L1347.0,408.5 L1348.3,408.5 L1349.6,408.5 L1350.9,408.5 L1352.2,408.5 L1353.5,408.5 L1354.8,408.5 L1356.1,408.4 L1357.4,408.4 L1358.7,408.4 L1360.0,408.4 L1361.3,408.4 L1362.6,408.4 L1363.9,408.4 L1365.2,408.4 L1366.5,408.4 L1367.8,408.3 L1369.1,408.3 L1370.4,408.3 L1371.7,408.3 L1373.0,408.3 L1374.3,408.3 L1375.6,408.2 L1376.9,408.2 L1378.2,408.2 L1379.5,408.2 L1380.8,408.2 L1382.1,408.1 L1383.4,408.1 L1384.7,408.1 L1386.0,408.1 L1387.3,408.1 L1388.6,408.0 L1389.9,408.0 L1391.2,408.0 L1392.5,408.0 L1393.8,407.9 L1395.1,407.9 L1396.4,407.9 L1397.7,407.8 L1399.0,407.8 L1400.3,407.8 L1401.6,407.7 L1402.9,407.7 L1404.2,407.7 L1405.5,407.6 L1406.8,407.6 L1408.1,407.5 L1409.4,407.5 L1410.7,407.4 L1412.0,407.3 L1413.3,407.1 L1414.6,407.0 L1415.9,406.9 L1417.2,406.7 L1418.5,406.5 L1419.8,406.3 L1421.1,406.1 L1422.4,405.8 L1423.7,405.5 L1425.0,405.3 L1426.3,404.9 L1427.6,404.6 L1428.9,404.2 L1430.2,403.8 L1431.5,403.4 L1432.8,402.8 L1434.1,402.2 L1435.4,401.4 L1436.7,400.5 L1438.0,399.4 L1439.3,398.1 L1440.6,396.5 L1441.9,394.8 L1443.2,392.8 L1444.5,390.6 L1445.8,388.2 L1447.1,385.4 L1448.4,382.3 L1449.7,378.8 L1451.0,374.7 L1452.3,370.1 L1453.6,364.8 L1454.9,359.0 L1456.2,352.8 L1457.5,346.3 L1458.8,339.7 L1460.1,333.1 L1461.4,326.6 L1462.7,320.4 L1464.0,314.4 L1465.3,308.7 L1466.6,303.2 L1467.9,298.0 L1469.2,292.9 L1470.5,287.9 L1471.8,283.0 L1473.1,278.2 L1474.4,273.3 L1475.7,268.3 L1477.0,263.2 L1478.3,257.8 L1479.6,252.4 L1480.9,246.8 L1482.2,241.1 L1483.5,235.5 L1484.8,230.0 L1486.1,224.7 L1487.4,219.6 L1488.7,214.8 L1490.0,210.2 L1491.3,206.0 L1492.6,202.1 L1493.9,198.5 L1495.2,195.3 L1496.5,192.5 L1497.8,190.1 L1499.1,188.0 L1500.4,186.3 L1501.7,184.9 L1503.0,183.8 L1504.3,183.1 L1505.6,182.6 L1506.9,182.5 L1508.2,182.8 L1509.5,183.3 L1510.8,184.2 L1512.1,185.3 L1513.4,186.7 L1514.7,188.2 L1516.0,189.9 L1517.3,191.8 L1518.6,193.8 L1519.9,195.9 L1521.2,198.2 L1522.5,200.7 L1523.8,203.2 L1525.1,205.9 L1526.4,208.6 L1527.7,211.4 L1529.0,214.2 L1530.3,217.1 L1531.6,220.0 L1532.9,223.0 L1534.2,226.0 L1535.5,229.1 L1536.8,232.2 L1538.1,235.5 L1539.4,238.8 L1540.7,242.2 L1542.0,245.7 L1543.3,249.4 L1544.6,253.1 L1545.9,256.9 L1547.2,260.7 L1548.5,264.6 L1549.8,268.5 L1551.1,272.4 L1552.4,276.1 L1553.7,279.8 L1555.0,283.4 L1556.3,286.9 L1557.6,290.1 L1558.9,293.3 L1560.2,296.3 L1561.5,299.1 L1562.8,301.8 L1564.1,304.4 L1565.4,306.9 L1566.7,309.3 L1568.0,311.7 L1569.3,314.0 L1570.6,316.2 L1571.9,318.3 L1573.2,320.5 L1574.5,322.5 L1575.8,324.5 L1577.1,326.5 L1578.4,328.5 L1579.7,330.4 L1581.0,332.2 L1582.3,334.1 L1583.6,335.9 L1584.9,337.6 L1586.2,339.4 L1587.5,341.1 L1588.8,342.7 L1590.1,344.4 L1591.4,346.0 L1592.7,347.5 L1594.0,349.1 L1595.3,350.6 L1596.6,352.1 L1597.9,353.6 L1599.2,355.1 L1600.5,356.6 L1601.8,358.1 L1603.1,359.6 L1604.4,361.1 L1605.7,362.6 L1607.0,364.1 L1608.3,365.6 L1609.6,367.2 L1610.9,368.7 L1612.2,370.3 L1613.5,371.8 L1614.8,373.4 L1616.1,374.9 L1617.4,376.4 L1618.7,377.9 L1620.0,379.4 L1621.3,380.8 L1622.6,382.2 L1623.9,383.5 L1625.2,384.8 L1626.5,386.0 L1627.8,387.1 L1629.1,388.3 L1630.4,389.3 L1631.7,390.3 L1633.0,391.3 L1634.3,392.3 L1635.6,393.2 L1636.9,394.1 L1638.2,395.0 L1639.5,395.8 L1640.8,396.6 L1642.1,397.4 L1643.4,398.1 L1644.7,398.8 L1646.0,399.5 L1647.3,400.1 L1648.6,400.7 L1649.9,401.3 L1651.2,401.8 L1652.5,402.3 L1653.8,402.7 L1655.1,403.1 L1656.4,403.5 L1657.7,403.9 L1659.0,404.2 L1660.3,404.5 L1661.6,404.8 L1662.9,405.1 L1664.2,405.3 L1665.5,405.5 L1666.8,405.7 L1668.1,405.8 L1669.4,406.0 L1670.7,406.1 L1672.0,406.2 L1673.3,406.3 L1674.6,406.4 L1675.9,406.5 L1677.2,406.5 L1678.5,406.6 L1679.8,406.7 L1681.1,406.7 L1682.4,406.8 L1683.7,406.9 L1685.0,406.9 L1686.3,407.0 L1687.6,407.0 L1688.9,407.1 L1690.2,407.1 L1691.5,407.2 L1692.8,407.2 L1694.1,407.3 L1695.4,407.3 L1696.7,407.4 L1698.0,407.4 L1699.3,407.5 L1700.6,407.5 L1701.9,407.5 L1703.2,407.6 L1704.5,407.6 L1705.8,407.6 L1707.1,407.7 L1708.4,407.7 L1709.7,407.7 L1711.0,407.8 L1712.3,407.8 L1713.6,407.8 L1714.9,407.9 L1716.2,407.9 L1717.5,407.9 L1718.8,407.9 L1720.1,408.0 L1721.4,408.0 L1722.7,408.0 L1724.0,408.0 L1725.3,408.0 L1726.6,408.1 L1727.9,408.1 L1729.2,408.1 L1730.5,408.1 L1731.8,408.1 L1733.1,408.1 L1734.4,408.2 L1735.7,408.2 L1737.0,408.2 L1738.3,408.2 L1739.6,408.2 L1740.9,408.2 L1742.2,408.2 L1743.5,408.2 L1744.8,408.2 L1744.8,408.9 L1250.8,408.9 Z" fill="url(#gc_blue)" stroke="none"/>
<path d="M1250.8,408.2 L1252.1,408.3 L1253.4,408.3 L1254.7,408.3 L1256.0,408.3 L1257.3,408.3 L1258.6,408.3 L1259.9,408.3 L1261.2,408.3 L1262.5,408.4 L1263.8,408.4 L1265.1,408.4 L1266.4,408.4 L1267.7,408.4 L1269.0,408.4 L1270.3,408.4 L1271.6,408.4 L1272.9,408.4 L1274.2,408.4 L1275.5,408.5 L1276.8,408.5 L1278.1,408.5 L1279.4,408.5 L1280.7,408.5 L1282.0,408.5 L1283.3,408.5 L1284.6,408.5 L1285.9,408.5 L1287.2,408.5 L1288.5,408.5 L1289.8,408.5 L1291.1,408.5 L1292.4,408.5 L1293.7,408.5 L1295.0,408.5 L1296.3,408.5 L1297.6,408.5 L1298.9,408.5 L1300.2,408.5 L1301.5,408.5 L1302.8,408.5 L1304.1,408.5 L1305.4,408.5 L1306.7,408.5 L1308.0,408.5 L1309.3,408.5 L1310.6,408.5 L1311.9,408.5 L1313.2,408.5 L1314.5,408.5 L1315.8,408.5 L1317.1,408.5 L1318.4,408.5 L1319.7,408.6 L1321.0,408.6 L1322.3,408.6 L1323.6,408.6 L1324.9,408.6 L1326.2,408.6 L1327.5,408.6 L1328.8,408.6 L1330.1,408.5 L1331.4,408.5 L1332.7,408.5 L1334.0,408.5 L1335.3,408.5 L1336.6,408.5 L1337.9,408.5 L1339.2,408.5 L1340.5,408.5 L1341.8,408.5 L1343.1,408.5 L1344.4,408.5 L1345.7,408.5 L1347.0,408.5 L1348.3,408.5 L1349.6,408.5 L1350.9,408.5 L1352.2,408.5 L1353.5,408.5 L1354.8,408.5 L1356.1,408.4 L1357.4,408.4 L1358.7,408.4 L1360.0,408.4 L1361.3,408.4 L1362.6,408.4 L1363.9,408.4 L1365.2,408.4 L1366.5,408.4 L1367.8,408.3 L1369.1,408.3 L1370.4,408.3 L1371.7,408.3 L1373.0,408.3 L1374.3,408.3 L1375.6,408.2 L1376.9,408.2 L1378.2,408.2 L1379.5,408.2 L1380.8,408.2 L1382.1,408.1 L1383.4,408.1 L1384.7,408.1 L1386.0,408.1 L1387.3,408.1 L1388.6,408.0 L1389.9,408.0 L1391.2,408.0 L1392.5,408.0 L1393.8,407.9 L1395.1,407.9 L1396.4,407.9 L1397.7,407.8 L1399.0,407.8 L1400.3,407.8 L1401.6,407.7 L1402.9,407.7 L1404.2,407.7 L1405.5,407.6 L1406.8,407.6 L1408.1,407.5 L1409.4,407.5 L1410.7,407.4 L1412.0,407.3 L1413.3,407.1 L1414.6,407.0 L1415.9,406.9 L1417.2,406.7 L1418.5,406.5 L1419.8,406.3 L1421.1,406.1 L1422.4,405.8 L1423.7,405.5 L1425.0,405.3 L1426.3,404.9 L1427.6,404.6 L1428.9,404.2 L1430.2,403.8 L1431.5,403.4 L1432.8,402.8 L1434.1,402.2 L1435.4,401.4 L1436.7,400.5 L1438.0,399.4 L1439.3,398.1 L1440.6,396.5 L1441.9,394.8 L1443.2,392.8 L1444.5,390.6 L1445.8,388.2 L1447.1,385.4 L1448.4,382.3 L1449.7,378.8 L1451.0,374.7 L1452.3,370.1 L1453.6,364.8 L1454.9,359.0 L1456.2,352.8 L1457.5,346.3 L1458.8,339.7 L1460.1,333.1 L1461.4,326.6 L1462.7,320.4 L1464.0,314.4 L1465.3,308.7 L1466.6,303.2 L1467.9,298.0 L1469.2,292.9 L1470.5,287.9 L1471.8,283.0 L1473.1,278.2 L1474.4,273.3 L1475.7,268.3 L1477.0,263.2 L1478.3,257.8 L1479.6,252.4 L1480.9,246.8 L1482.2,241.1 L1483.5,235.5 L1484.8,230.0 L1486.1,224.7 L1487.4,219.6 L1488.7,214.8 L1490.0,210.2 L1491.3,206.0 L1492.6,202.1 L1493.9,198.5 L1495.2,195.3 L1496.5,192.5 L1497.8,190.1 L1499.1,188.0 L1500.4,186.3 L1501.7,184.9 L1503.0,183.8 L1504.3,183.1 L1505.6,182.6 L1506.9,182.5 L1508.2,182.8 L1509.5,183.3 L1510.8,184.2 L1512.1,185.3 L1513.4,186.7 L1514.7,188.2 L1516.0,189.9 L1517.3,191.8 L1518.6,193.8 L1519.9,195.9 L1521.2,198.2 L1522.5,200.7 L1523.8,203.2 L1525.1,205.9 L1526.4,208.6 L1527.7,211.4 L1529.0,214.2 L1530.3,217.1 L1531.6,220.0 L1532.9,223.0 L1534.2,226.0 L1535.5,229.1 L1536.8,232.2 L1538.1,235.5 L1539.4,238.8 L1540.7,242.2 L1542.0,245.7 L1543.3,249.4 L1544.6,253.1 L1545.9,256.9 L1547.2,260.7 L1548.5,264.6 L1549.8,268.5 L1551.1,272.4 L1552.4,276.1 L1553.7,279.8 L1555.0,283.4 L1556.3,286.9 L1557.6,290.1 L1558.9,293.3 L1560.2,296.3 L1561.5,299.1 L1562.8,301.8 L1564.1,304.4 L1565.4,306.9 L1566.7,309.3 L1568.0,311.7 L1569.3,314.0 L1570.6,316.2 L1571.9,318.3 L1573.2,320.5 L1574.5,322.5 L1575.8,324.5 L1577.1,326.5 L1578.4,328.5 L1579.7,330.4 L1581.0,332.2 L1582.3,334.1 L1583.6,335.9 L1584.9,337.6 L1586.2,339.4 L1587.5,341.1 L1588.8,342.7 L1590.1,344.4 L1591.4,346.0 L1592.7,347.5 L1594.0,349.1 L1595.3,350.6 L1596.6,352.1 L1597.9,353.6 L1599.2,355.1 L1600.5,356.6 L1601.8,358.1 L1603.1,359.6 L1604.4,361.1 L1605.7,362.6 L1607.0,364.1 L1608.3,365.6 L1609.6,367.2 L1610.9,368.7 L1612.2,370.3 L1613.5,371.8 L1614.8,373.4 L1616.1,374.9 L1617.4,376.4 L1618.7,377.9 L1620.0,379.4 L1621.3,380.8 L1622.6,382.2 L1623.9,383.5 L1625.2,384.8 L1626.5,386.0 L1627.8,387.1 L1629.1,388.3 L1630.4,389.3 L1631.7,390.3 L1633.0,391.3 L1634.3,392.3 L1635.6,393.2 L1636.9,394.1 L1638.2,395.0 L1639.5,395.8 L1640.8,396.6 L1642.1,397.4 L1643.4,398.1 L1644.7,398.8 L1646.0,399.5 L1647.3,400.1 L1648.6,400.7 L1649.9,401.3 L1651.2,401.8 L1652.5,402.3 L1653.8,402.7 L1655.1,403.1 L1656.4,403.5 L1657.7,403.9 L1659.0,404.2 L1660.3,404.5 L1661.6,404.8 L1662.9,405.1 L1664.2,405.3 L1665.5,405.5 L1666.8,405.7 L1668.1,405.8 L1669.4,406.0 L1670.7,406.1 L1672.0,406.2 L1673.3,406.3 L1674.6,406.4 L1675.9,406.5 L1677.2,406.5 L1678.5,406.6 L1679.8,406.7 L1681.1,406.7 L1682.4,406.8 L1683.7,406.9 L1685.0,406.9 L1686.3,407.0 L1687.6,407.0 L1688.9,407.1 L1690.2,407.1 L1691.5,407.2 L1692.8,407.2 L1694.1,407.3 L1695.4,407.3 L1696.7,407.4 L1698.0,407.4 L1699.3,407.5 L1700.6,407.5 L1701.9,407.5 L1703.2,407.6 L1704.5,407.6 L1705.8,407.6 L1707.1,407.7 L1708.4,407.7 L1709.7,407.7 L1711.0,407.8 L1712.3,407.8 L1713.6,407.8 L1714.9,407.9 L1716.2,407.9 L1717.5,407.9 L1718.8,407.9 L1720.1,408.0 L1721.4,408.0 L1722.7,408.0 L1724.0,408.0 L1725.3,408.0 L1726.6,408.1 L1727.9,408.1 L1729.2,408.1 L1730.5,408.1 L1731.8,408.1 L1733.1,408.1 L1734.4,408.2 L1735.7,408.2 L1737.0,408.2 L1738.3,408.2 L1739.6,408.2 L1740.9,408.2 L1742.2,408.2 L1743.5,408.2 L1744.8,408.2" fill="none" stroke="#1462e0" stroke-width="2.2" stroke-linejoin="round"/>
<path d="M1225.9,434.9 L1227.2,434.9 L1228.5,434.9 L1229.8,434.9 L1231.1,434.9 L1232.4,434.9 L1233.7,434.9 L1235.0,434.8 L1236.3,434.8 L1237.6,434.8 L1238.9,434.8 L1240.2,434.8 L1241.5,434.8 L1242.8,434.8 L1244.1,434.7 L1245.4,434.7 L1246.7,434.7 L1248.0,434.7 L1249.3,434.7 L1250.6,434.7 L1251.9,434.7 L1253.2,434.6 L1254.5,434.6 L1255.8,434.6 L1257.1,434.6 L1258.4,434.6 L1259.8,434.6 L1261.1,434.5 L1262.4,434.5 L1263.7,434.5 L1265.0,434.5 L1266.3,434.5 L1267.6,434.5 L1268.9,434.4 L1270.2,434.4 L1271.5,434.4 L1272.8,434.4 L1274.1,434.4 L1275.4,434.4 L1276.7,434.3 L1278.0,434.3 L1279.3,434.3 L1280.6,434.3 L1281.9,434.3 L1283.2,434.2 L1284.5,434.2 L1285.8,434.2 L1287.1,434.2 L1288.4,434.2 L1289.7,434.2 L1291.0,434.1 L1292.3,434.1 L1293.6,434.1 L1294.9,434.1 L1296.2,434.1 L1297.5,434.1 L1298.8,434.0 L1300.1,434.0 L1301.4,434.0 L1302.7,434.0 L1304.0,434.0 L1305.3,433.9 L1306.6,433.9 L1308.0,433.9 L1309.3,433.9 L1310.6,433.8 L1311.9,433.8 L1313.2,433.8 L1314.5,433.8 L1315.8,433.7 L1317.1,433.7 L1318.4,433.7 L1319.7,433.6 L1321.0,433.6 L1322.3,433.6 L1323.6,433.5 L1324.9,433.5 L1326.2,433.5 L1327.5,433.4 L1328.8,433.4 L1330.1,433.3 L1331.4,433.3 L1332.7,433.2 L1334.0,433.1 L1335.3,433.1 L1336.6,433.0 L1337.9,432.9 L1339.2,432.8 L1340.5,432.7 L1341.8,432.6 L1343.1,432.5 L1344.4,432.3 L1345.7,432.2 L1347.0,432.1 L1348.3,431.9 L1349.6,431.8 L1350.9,431.6 L1352.2,431.4 L1353.5,431.2 L1354.9,431.1 L1356.2,430.9 L1357.5,430.7 L1358.8,430.4 L1360.1,430.2 L1361.4,430.0 L1362.7,429.8 L1364.0,429.5 L1365.3,429.3 L1366.6,429.0 L1367.9,428.8 L1369.2,428.5 L1370.5,428.2 L1371.8,427.8 L1373.1,427.4 L1374.4,427.0 L1375.7,426.6 L1377.0,426.0 L1378.3,425.5 L1379.6,424.9 L1380.9,424.3 L1382.2,423.6 L1383.5,422.9 L1384.8,422.1 L1386.1,421.4 L1387.4,420.6 L1388.7,419.8 L1390.0,419.0 L1391.3,418.1 L1392.6,417.3 L1393.9,416.4 L1395.2,415.5 L1396.5,414.5 L1397.8,413.5 L1399.1,412.4 L1400.4,411.3 L1401.7,410.1 L1403.1,408.7 L1404.4,407.3 L1405.7,405.8 L1407.0,404.2 L1408.3,402.4 L1409.6,400.5 L1410.9,398.5 L1412.2,396.3 L1413.5,394.0 L1414.8,391.5 L1416.1,388.8 L1417.4,386.0 L1418.7,382.9 L1420.0,379.7 L1421.3,376.2 L1422.6,372.5 L1423.9,368.7 L1425.2,364.7 L1426.5,360.5 L1427.8,356.2 L1429.1,351.9 L1430.4,347.4 L1431.7,342.9 L1433.0,338.3 L1434.3,333.6 L1435.6,328.8 L1436.9,324.1 L1438.2,319.3 L1439.5,314.6 L1440.8,310.0 L1442.1,305.4 L1443.4,301.0 L1444.7,296.7 L1446.0,292.5 L1447.3,288.6 L1448.6,284.9 L1450.0,281.5 L1451.3,278.3 L1452.6,275.5 L1453.9,273.0 L1455.2,270.9 L1456.5,269.0 L1457.8,267.4 L1459.1,266.2 L1460.4,265.2 L1461.7,264.4 L1463.0,263.9 L1464.3,263.6 L1465.6,263.6 L1466.9,263.8 L1468.2,264.1 L1469.5,264.7 L1470.8,265.5 L1472.1,266.5 L1473.4,267.7 L1474.7,269.0 L1476.0,270.6 L1477.3,272.3 L1478.6,274.2 L1479.9,276.2 L1481.2,278.3 L1482.5,280.6 L1483.8,282.9 L1485.1,285.4 L1486.4,288.0 L1487.7,290.6 L1489.0,293.4 L1490.3,296.2 L1491.6,299.0 L1492.9,302.0 L1494.2,304.9 L1495.5,307.9 L1496.8,310.9 L1498.2,313.8 L1499.5,316.6 L1500.8,319.3 L1502.1,322.0 L1503.4,324.6 L1504.7,327.1 L1506.0,329.5 L1507.3,331.8 L1508.6,334.1 L1509.9,336.4 L1511.2,338.6 L1512.5,340.8 L1513.8,343.0 L1515.1,345.1 L1516.4,347.2 L1517.7,349.3 L1519.0,351.4 L1520.3,353.5 L1521.6,355.6 L1522.9,357.7 L1524.2,359.8 L1525.5,361.9 L1526.8,363.9 L1528.1,366.0 L1529.4,368.0 L1530.7,369.9 L1532.0,371.9 L1533.3,373.7 L1534.6,375.6 L1535.9,377.3 L1537.2,379.1 L1538.5,380.7 L1539.8,382.3 L1541.1,383.9 L1542.4,385.4 L1543.7,386.9 L1545.1,388.3 L1546.4,389.7 L1547.7,391.1 L1549.0,392.4 L1550.3,393.7 L1551.6,395.0 L1552.9,396.2 L1554.2,397.4 L1555.5,398.6 L1556.8,399.7 L1558.1,400.7 L1559.4,401.8 L1560.7,402.8 L1562.0,403.7 L1563.3,404.7 L1564.6,405.6 L1565.9,406.5 L1567.2,407.3 L1568.5,408.2 L1569.8,409.0 L1571.1,409.8 L1572.4,410.5 L1573.7,411.3 L1575.0,412.0 L1576.3,412.7 L1577.6,413.4 L1578.9,414.1 L1580.2,414.8 L1581.5,415.4 L1582.8,416.1 L1584.1,416.7 L1585.4,417.3 L1586.7,417.9 L1588.0,418.5 L1589.3,419.0 L1590.6,419.6 L1591.9,420.1 L1593.3,420.7 L1594.6,421.2 L1595.9,421.7 L1597.2,422.2 L1598.5,422.7 L1599.8,423.2 L1601.1,423.7 L1602.4,424.2 L1603.7,424.6 L1605.0,425.1 L1606.3,425.6 L1607.6,426.0 L1608.9,426.5 L1610.2,426.9 L1611.5,427.4 L1612.8,427.8 L1614.1,428.3 L1615.4,428.7 L1616.7,429.1 L1618.0,429.5 L1619.3,429.8 L1620.6,430.1 L1621.9,430.4 L1623.2,430.7 L1624.5,431.0 L1625.8,431.2 L1627.1,431.5 L1628.4,431.7 L1629.7,431.9 L1631.0,432.1 L1632.3,432.3 L1633.6,432.5 L1634.9,432.7 L1636.2,432.8 L1637.5,433.0 L1638.8,433.2 L1640.2,433.3 L1641.5,433.5 L1642.8,433.6 L1644.1,433.8 L1645.4,434.0 L1646.7,434.1 L1648.0,434.3 L1649.3,434.4 L1650.6,434.5 L1651.9,434.7 L1653.2,434.8 L1654.5,434.9 L1655.8,435.0 L1657.1,435.1 L1658.4,435.2 L1659.7,435.3 L1661.0,435.3 L1662.3,435.4 L1663.6,435.4 L1664.9,435.5 L1666.2,435.5 L1667.5,435.6 L1668.8,435.6 L1670.1,435.7 L1671.4,435.7 L1672.7,435.7 L1674.0,435.7 L1675.3,435.8 L1676.6,435.8 L1677.9,435.8 L1679.2,435.8 L1680.5,435.9 L1681.8,435.9 L1683.1,435.9 L1684.4,435.9 L1685.7,435.9 L1687.0,435.9 L1688.4,436.0 L1689.7,436.0 L1691.0,436.0 L1692.3,436.0 L1693.6,436.0 L1694.9,436.0 L1696.2,436.0 L1697.5,436.0 L1698.8,436.1 L1700.1,436.1 L1701.4,436.1 L1702.7,436.1 L1704.0,436.1 L1705.3,436.1 L1706.6,436.1 L1707.9,436.1 L1709.2,436.1 L1710.5,436.1 L1711.8,436.1 L1713.1,436.1 L1714.4,436.1 L1715.7,436.2 L1717.0,436.2 L1718.3,436.2 L1719.6,436.2 L1720.9,436.2 L1720.9,436.2 L1225.9,436.2 Z" fill="url(#gc_red)" stroke="none"/>
<path d="M1225.9,434.9 L1227.2,434.9 L1228.5,434.9 L1229.8,434.9 L1231.1,434.9 L1232.4,434.9 L1233.7,434.9 L1235.0,434.8 L1236.3,434.8 L1237.6,434.8 L1238.9,434.8 L1240.2,434.8 L1241.5,434.8 L1242.8,434.8 L1244.1,434.7 L1245.4,434.7 L1246.7,434.7 L1248.0,434.7 L1249.3,434.7 L1250.6,434.7 L1251.9,434.7 L1253.2,434.6 L1254.5,434.6 L1255.8,434.6 L1257.1,434.6 L1258.4,434.6 L1259.8,434.6 L1261.1,434.5 L1262.4,434.5 L1263.7,434.5 L1265.0,434.5 L1266.3,434.5 L1267.6,434.5 L1268.9,434.4 L1270.2,434.4 L1271.5,434.4 L1272.8,434.4 L1274.1,434.4 L1275.4,434.4 L1276.7,434.3 L1278.0,434.3 L1279.3,434.3 L1280.6,434.3 L1281.9,434.3 L1283.2,434.2 L1284.5,434.2 L1285.8,434.2 L1287.1,434.2 L1288.4,434.2 L1289.7,434.2 L1291.0,434.1 L1292.3,434.1 L1293.6,434.1 L1294.9,434.1 L1296.2,434.1 L1297.5,434.1 L1298.8,434.0 L1300.1,434.0 L1301.4,434.0 L1302.7,434.0 L1304.0,434.0 L1305.3,433.9 L1306.6,433.9 L1308.0,433.9 L1309.3,433.9 L1310.6,433.8 L1311.9,433.8 L1313.2,433.8 L1314.5,433.8 L1315.8,433.7 L1317.1,433.7 L1318.4,433.7 L1319.7,433.6 L1321.0,433.6 L1322.3,433.6 L1323.6,433.5 L1324.9,433.5 L1326.2,433.5 L1327.5,433.4 L1328.8,433.4 L1330.1,433.3 L1331.4,433.3 L1332.7,433.2 L1334.0,433.1 L1335.3,433.1 L1336.6,433.0 L1337.9,432.9 L1339.2,432.8 L1340.5,432.7 L1341.8,432.6 L1343.1,432.5 L1344.4,432.3 L1345.7,432.2 L1347.0,432.1 L1348.3,431.9 L1349.6,431.8 L1350.9,431.6 L1352.2,431.4 L1353.5,431.2 L1354.9,431.1 L1356.2,430.9 L1357.5,430.7 L1358.8,430.4 L1360.1,430.2 L1361.4,430.0 L1362.7,429.8 L1364.0,429.5 L1365.3,429.3 L1366.6,429.0 L1367.9,428.8 L1369.2,428.5 L1370.5,428.2 L1371.8,427.8 L1373.1,427.4 L1374.4,427.0 L1375.7,426.6 L1377.0,426.0 L1378.3,425.5 L1379.6,424.9 L1380.9,424.3 L1382.2,423.6 L1383.5,422.9 L1384.8,422.1 L1386.1,421.4 L1387.4,420.6 L1388.7,419.8 L1390.0,419.0 L1391.3,418.1 L1392.6,417.3 L1393.9,416.4 L1395.2,415.5 L1396.5,414.5 L1397.8,413.5 L1399.1,412.4 L1400.4,411.3 L1401.7,410.1 L1403.1,408.7 L1404.4,407.3 L1405.7,405.8 L1407.0,404.2 L1408.3,402.4 L1409.6,400.5 L1410.9,398.5 L1412.2,396.3 L1413.5,394.0 L1414.8,391.5 L1416.1,388.8 L1417.4,386.0 L1418.7,382.9 L1420.0,379.7 L1421.3,376.2 L1422.6,372.5 L1423.9,368.7 L1425.2,364.7 L1426.5,360.5 L1427.8,356.2 L1429.1,351.9 L1430.4,347.4 L1431.7,342.9 L1433.0,338.3 L1434.3,333.6 L1435.6,328.8 L1436.9,324.1 L1438.2,319.3 L1439.5,314.6 L1440.8,310.0 L1442.1,305.4 L1443.4,301.0 L1444.7,296.7 L1446.0,292.5 L1447.3,288.6 L1448.6,284.9 L1450.0,281.5 L1451.3,278.3 L1452.6,275.5 L1453.9,273.0 L1455.2,270.9 L1456.5,269.0 L1457.8,267.4 L1459.1,266.2 L1460.4,265.2 L1461.7,264.4 L1463.0,263.9 L1464.3,263.6 L1465.6,263.6 L1466.9,263.8 L1468.2,264.1 L1469.5,264.7 L1470.8,265.5 L1472.1,266.5 L1473.4,267.7 L1474.7,269.0 L1476.0,270.6 L1477.3,272.3 L1478.6,274.2 L1479.9,276.2 L1481.2,278.3 L1482.5,280.6 L1483.8,282.9 L1485.1,285.4 L1486.4,288.0 L1487.7,290.6 L1489.0,293.4 L1490.3,296.2 L1491.6,299.0 L1492.9,302.0 L1494.2,304.9 L1495.5,307.9 L1496.8,310.9 L1498.2,313.8 L1499.5,316.6 L1500.8,319.3 L1502.1,322.0 L1503.4,324.6 L1504.7,327.1 L1506.0,329.5 L1507.3,331.8 L1508.6,334.1 L1509.9,336.4 L1511.2,338.6 L1512.5,340.8 L1513.8,343.0 L1515.1,345.1 L1516.4,347.2 L1517.7,349.3 L1519.0,351.4 L1520.3,353.5 L1521.6,355.6 L1522.9,357.7 L1524.2,359.8 L1525.5,361.9 L1526.8,363.9 L1528.1,366.0 L1529.4,368.0 L1530.7,369.9 L1532.0,371.9 L1533.3,373.7 L1534.6,375.6 L1535.9,377.3 L1537.2,379.1 L1538.5,380.7 L1539.8,382.3 L1541.1,383.9 L1542.4,385.4 L1543.7,386.9 L1545.1,388.3 L1546.4,389.7 L1547.7,391.1 L1549.0,392.4 L1550.3,393.7 L1551.6,395.0 L1552.9,396.2 L1554.2,397.4 L1555.5,398.6 L1556.8,399.7 L1558.1,400.7 L1559.4,401.8 L1560.7,402.8 L1562.0,403.7 L1563.3,404.7 L1564.6,405.6 L1565.9,406.5 L1567.2,407.3 L1568.5,408.2 L1569.8,409.0 L1571.1,409.8 L1572.4,410.5 L1573.7,411.3 L1575.0,412.0 L1576.3,412.7 L1577.6,413.4 L1578.9,414.1 L1580.2,414.8 L1581.5,415.4 L1582.8,416.1 L1584.1,416.7 L1585.4,417.3 L1586.7,417.9 L1588.0,418.5 L1589.3,419.0 L1590.6,419.6 L1591.9,420.1 L1593.3,420.7 L1594.6,421.2 L1595.9,421.7 L1597.2,422.2 L1598.5,422.7 L1599.8,423.2 L1601.1,423.7 L1602.4,424.2 L1603.7,424.6 L1605.0,425.1 L1606.3,425.6 L1607.6,426.0 L1608.9,426.5 L1610.2,426.9 L1611.5,427.4 L1612.8,427.8 L1614.1,428.3 L1615.4,428.7 L1616.7,429.1 L1618.0,429.5 L1619.3,429.8 L1620.6,430.1 L1621.9,430.4 L1623.2,430.7 L1624.5,431.0 L1625.8,431.2 L1627.1,431.5 L1628.4,431.7 L1629.7,431.9 L1631.0,432.1 L1632.3,432.3 L1633.6,432.5 L1634.9,432.7 L1636.2,432.8 L1637.5,433.0 L1638.8,433.2 L1640.2,433.3 L1641.5,433.5 L1642.8,433.6 L1644.1,433.8 L1645.4,434.0 L1646.7,434.1 L1648.0,434.3 L1649.3,434.4 L1650.6,434.5 L1651.9,434.7 L1653.2,434.8 L1654.5,434.9 L1655.8,435.0 L1657.1,435.1 L1658.4,435.2 L1659.7,435.3 L1661.0,435.3 L1662.3,435.4 L1663.6,435.4 L1664.9,435.5 L1666.2,435.5 L1667.5,435.6 L1668.8,435.6 L1670.1,435.7 L1671.4,435.7 L1672.7,435.7 L1674.0,435.7 L1675.3,435.8 L1676.6,435.8 L1677.9,435.8 L1679.2,435.8 L1680.5,435.9 L1681.8,435.9 L1683.1,435.9 L1684.4,435.9 L1685.7,435.9 L1687.0,435.9 L1688.4,436.0 L1689.7,436.0 L1691.0,436.0 L1692.3,436.0 L1693.6,436.0 L1694.9,436.0 L1696.2,436.0 L1697.5,436.0 L1698.8,436.1 L1700.1,436.1 L1701.4,436.1 L1702.7,436.1 L1704.0,436.1 L1705.3,436.1 L1706.6,436.1 L1707.9,436.1 L1709.2,436.1 L1710.5,436.1 L1711.8,436.1 L1713.1,436.1 L1714.4,436.1 L1715.7,436.2 L1717.0,436.2 L1718.3,436.2 L1719.6,436.2 L1720.9,436.2" fill="none" stroke="#e83434" stroke-width="2.2" stroke-linejoin="round"/>
<path d="M1202.0,462.8 L1203.3,462.8 L1204.6,462.8 L1205.9,462.8 L1207.2,462.8 L1208.5,462.8 L1209.8,462.8 L1211.1,462.8 L1212.4,462.7 L1213.7,462.7 L1215.0,462.7 L1216.3,462.7 L1217.6,462.7 L1218.9,462.7 L1220.2,462.7 L1221.5,462.6 L1222.8,462.6 L1224.1,462.6 L1225.4,462.6 L1226.7,462.6 L1228.0,462.5 L1229.3,462.5 L1230.6,462.5 L1231.9,462.5 L1233.2,462.5 L1234.5,462.5 L1235.9,462.4 L1237.2,462.4 L1238.5,462.4 L1239.8,462.4 L1241.1,462.4 L1242.4,462.3 L1243.7,462.3 L1245.0,462.3 L1246.3,462.3 L1247.6,462.2 L1248.9,462.2 L1250.2,462.2 L1251.5,462.2 L1252.8,462.1 L1254.1,462.1 L1255.4,462.1 L1256.7,462.1 L1258.0,462.0 L1259.3,462.0 L1260.6,462.0 L1261.9,461.9 L1263.2,461.9 L1264.5,461.8 L1265.8,461.8 L1267.1,461.7 L1268.4,461.7 L1269.7,461.6 L1271.0,461.5 L1272.3,461.5 L1273.6,461.4 L1274.9,461.3 L1276.2,461.2 L1277.5,461.1 L1278.8,461.0 L1280.1,460.9 L1281.4,460.8 L1282.7,460.7 L1284.1,460.6 L1285.4,460.4 L1286.7,460.3 L1288.0,460.2 L1289.3,460.1 L1290.6,459.9 L1291.9,459.8 L1293.2,459.6 L1294.5,459.5 L1295.8,459.3 L1297.1,459.2 L1298.4,459.0 L1299.7,458.8 L1301.0,458.6 L1302.3,458.5 L1303.6,458.3 L1304.9,458.1 L1306.2,457.9 L1307.5,457.7 L1308.8,457.5 L1310.1,457.3 L1311.4,457.0 L1312.7,456.8 L1314.0,456.5 L1315.3,456.3 L1316.6,456.0 L1317.9,455.7 L1319.2,455.5 L1320.5,455.2 L1321.8,454.9 L1323.1,454.6 L1324.4,454.3 L1325.7,454.0 L1327.0,453.7 L1328.3,453.4 L1329.6,453.1 L1331.0,452.9 L1332.3,452.5 L1333.6,452.2 L1334.9,451.9 L1336.2,451.6 L1337.5,451.3 L1338.8,451.0 L1340.1,450.7 L1341.4,450.4 L1342.7,450.0 L1344.0,449.7 L1345.3,449.4 L1346.6,449.0 L1347.9,448.7 L1349.2,448.4 L1350.5,448.0 L1351.8,447.7 L1353.1,447.3 L1354.4,447.0 L1355.7,446.6 L1357.0,446.2 L1358.3,445.9 L1359.6,445.5 L1360.9,445.2 L1362.2,444.8 L1363.5,444.5 L1364.8,444.2 L1366.1,443.9 L1367.4,443.6 L1368.7,443.2 L1370.0,442.9 L1371.3,442.7 L1372.6,442.4 L1373.9,442.1 L1375.2,441.9 L1376.5,441.6 L1377.8,441.4 L1379.2,441.2 L1380.5,441.1 L1381.8,440.9 L1383.1,440.8 L1384.4,440.6 L1385.7,440.5 L1387.0,440.4 L1388.3,440.3 L1389.6,440.3 L1390.9,440.2 L1392.2,440.1 L1393.5,440.0 L1394.8,440.0 L1396.1,439.9 L1397.4,439.9 L1398.7,439.8 L1400.0,439.8 L1401.3,439.8 L1402.6,439.8 L1403.9,439.8 L1405.2,439.9 L1406.5,439.9 L1407.8,440.0 L1409.1,440.1 L1410.4,440.2 L1411.7,440.3 L1413.0,440.4 L1414.3,440.6 L1415.6,440.7 L1416.9,440.9 L1418.2,441.1 L1419.5,441.3 L1420.8,441.5 L1422.1,441.7 L1423.4,441.9 L1424.7,442.2 L1426.1,442.4 L1427.4,442.7 L1428.7,443.0 L1430.0,443.3 L1431.3,443.6 L1432.6,443.9 L1433.9,444.2 L1435.2,444.5 L1436.5,444.9 L1437.8,445.2 L1439.1,445.6 L1440.4,445.9 L1441.7,446.2 L1443.0,446.6 L1444.3,446.9 L1445.6,447.3 L1446.9,447.6 L1448.2,448.0 L1449.5,448.3 L1450.8,448.6 L1452.1,449.0 L1453.4,449.3 L1454.7,449.7 L1456.0,450.0 L1457.3,450.3 L1458.6,450.6 L1459.9,451.0 L1461.2,451.3 L1462.5,451.6 L1463.8,451.9 L1465.1,452.1 L1466.4,452.4 L1467.7,452.7 L1469.0,452.9 L1470.3,453.2 L1471.6,453.5 L1472.9,453.7 L1474.3,453.9 L1475.6,454.2 L1476.9,454.4 L1478.2,454.7 L1479.5,454.9 L1480.8,455.1 L1482.1,455.3 L1483.4,455.5 L1484.7,455.8 L1486.0,456.0 L1487.3,456.2 L1488.6,456.4 L1489.9,456.6 L1491.2,456.7 L1492.5,456.9 L1493.8,457.1 L1495.1,457.3 L1496.4,457.5 L1497.7,457.6 L1499.0,457.8 L1500.3,457.9 L1501.6,458.1 L1502.9,458.3 L1504.2,458.4 L1505.5,458.6 L1506.8,458.7 L1508.1,458.9 L1509.4,459.0 L1510.7,459.1 L1512.0,459.3 L1513.3,459.4 L1514.6,459.5 L1515.9,459.7 L1517.2,459.8 L1518.5,459.9 L1519.8,460.0 L1521.2,460.1 L1522.5,460.3 L1523.8,460.4 L1525.1,460.5 L1526.4,460.5 L1527.7,460.6 L1529.0,460.7 L1530.3,460.8 L1531.6,460.9 L1532.9,461.0 L1534.2,461.1 L1535.5,461.1 L1536.8,461.2 L1538.1,461.3 L1539.4,461.4 L1540.7,461.5 L1542.0,461.5 L1543.3,461.6 L1544.6,461.7 L1545.9,461.7 L1547.2,461.8 L1548.5,461.8 L1549.8,461.9 L1551.1,461.9 L1552.4,462.0 L1553.7,462.0 L1555.0,462.1 L1556.3,462.1 L1557.6,462.2 L1558.9,462.2 L1560.2,462.2 L1561.5,462.2 L1562.8,462.3 L1564.1,462.3 L1565.4,462.3 L1566.7,462.3 L1568.0,462.4 L1569.4,462.4 L1570.7,462.4 L1572.0,462.4 L1573.3,462.4 L1574.6,462.5 L1575.9,462.5 L1577.2,462.5 L1578.5,462.5 L1579.8,462.5 L1581.1,462.5 L1582.4,462.5 L1583.7,462.6 L1585.0,462.6 L1586.3,462.6 L1587.6,462.6 L1588.9,462.6 L1590.2,462.6 L1591.5,462.6 L1592.8,462.7 L1594.1,462.7 L1595.4,462.7 L1596.7,462.7 L1598.0,462.7 L1599.3,462.7 L1600.6,462.7 L1601.9,462.7 L1603.2,462.7 L1604.5,462.7 L1605.8,462.8 L1607.1,462.8 L1608.4,462.8 L1609.7,462.8 L1611.0,462.8 L1612.3,462.8 L1613.6,462.8 L1614.9,462.8 L1616.3,462.8 L1617.6,462.8 L1618.9,462.8 L1620.2,462.8 L1621.5,462.9 L1622.8,462.9 L1624.1,462.9 L1625.4,462.9 L1626.7,462.9 L1628.0,462.9 L1629.3,462.9 L1630.6,462.9 L1631.9,462.9 L1633.2,462.9 L1634.5,462.9 L1635.8,462.9 L1637.1,462.9 L1638.4,463.0 L1639.7,463.0 L1641.0,463.0 L1642.3,463.0 L1643.6,463.0 L1644.9,463.0 L1646.2,463.0 L1647.5,463.0 L1648.8,463.0 L1650.1,463.0 L1651.4,463.0 L1652.7,463.0 L1654.0,463.0 L1655.3,463.0 L1656.6,463.0 L1657.9,463.1 L1659.2,463.1 L1660.5,463.1 L1661.8,463.1 L1663.1,463.1 L1664.5,463.1 L1665.8,463.1 L1667.1,463.1 L1668.4,463.1 L1669.7,463.1 L1671.0,463.1 L1672.3,463.1 L1673.6,463.1 L1674.9,463.1 L1676.2,463.1 L1677.5,463.1 L1678.8,463.1 L1680.1,463.1 L1681.4,463.1 L1682.7,463.1 L1684.0,463.1 L1685.3,463.1 L1686.6,463.1 L1687.9,463.1 L1689.2,463.1 L1690.5,463.1 L1691.8,463.1 L1693.1,463.1 L1694.4,463.1 L1695.7,463.1 L1697.0,463.2 L1697.0,463.5 L1202.0,463.5 Z" fill="url(#gc_black)" stroke="none"/>
<path d="M1202.0,462.8 L1203.3,462.8 L1204.6,462.8 L1205.9,462.8 L1207.2,462.8 L1208.5,462.8 L1209.8,462.8 L1211.1,462.8 L1212.4,462.7 L1213.7,462.7 L1215.0,462.7 L1216.3,462.7 L1217.6,462.7 L1218.9,462.7 L1220.2,462.7 L1221.5,462.6 L1222.8,462.6 L1224.1,462.6 L1225.4,462.6 L1226.7,462.6 L1228.0,462.5 L1229.3,462.5 L1230.6,462.5 L1231.9,462.5 L1233.2,462.5 L1234.5,462.5 L1235.9,462.4 L1237.2,462.4 L1238.5,462.4 L1239.8,462.4 L1241.1,462.4 L1242.4,462.3 L1243.7,462.3 L1245.0,462.3 L1246.3,462.3 L1247.6,462.2 L1248.9,462.2 L1250.2,462.2 L1251.5,462.2 L1252.8,462.1 L1254.1,462.1 L1255.4,462.1 L1256.7,462.1 L1258.0,462.0 L1259.3,462.0 L1260.6,462.0 L1261.9,461.9 L1263.2,461.9 L1264.5,461.8 L1265.8,461.8 L1267.1,461.7 L1268.4,461.7 L1269.7,461.6 L1271.0,461.5 L1272.3,461.5 L1273.6,461.4 L1274.9,461.3 L1276.2,461.2 L1277.5,461.1 L1278.8,461.0 L1280.1,460.9 L1281.4,460.8 L1282.7,460.7 L1284.1,460.6 L1285.4,460.4 L1286.7,460.3 L1288.0,460.2 L1289.3,460.1 L1290.6,459.9 L1291.9,459.8 L1293.2,459.6 L1294.5,459.5 L1295.8,459.3 L1297.1,459.2 L1298.4,459.0 L1299.7,458.8 L1301.0,458.6 L1302.3,458.5 L1303.6,458.3 L1304.9,458.1 L1306.2,457.9 L1307.5,457.7 L1308.8,457.5 L1310.1,457.3 L1311.4,457.0 L1312.7,456.8 L1314.0,456.5 L1315.3,456.3 L1316.6,456.0 L1317.9,455.7 L1319.2,455.5 L1320.5,455.2 L1321.8,454.9 L1323.1,454.6 L1324.4,454.3 L1325.7,454.0 L1327.0,453.7 L1328.3,453.4 L1329.6,453.1 L1331.0,452.9 L1332.3,452.5 L1333.6,452.2 L1334.9,451.9 L1336.2,451.6 L1337.5,451.3 L1338.8,451.0 L1340.1,450.7 L1341.4,450.4 L1342.7,450.0 L1344.0,449.7 L1345.3,449.4 L1346.6,449.0 L1347.9,448.7 L1349.2,448.4 L1350.5,448.0 L1351.8,447.7 L1353.1,447.3 L1354.4,447.0 L1355.7,446.6 L1357.0,446.2 L1358.3,445.9 L1359.6,445.5 L1360.9,445.2 L1362.2,444.8 L1363.5,444.5 L1364.8,444.2 L1366.1,443.9 L1367.4,443.6 L1368.7,443.2 L1370.0,442.9 L1371.3,442.7 L1372.6,442.4 L1373.9,442.1 L1375.2,441.9 L1376.5,441.6 L1377.8,441.4 L1379.2,441.2 L1380.5,441.1 L1381.8,440.9 L1383.1,440.8 L1384.4,440.6 L1385.7,440.5 L1387.0,440.4 L1388.3,440.3 L1389.6,440.3 L1390.9,440.2 L1392.2,440.1 L1393.5,440.0 L1394.8,440.0 L1396.1,439.9 L1397.4,439.9 L1398.7,439.8 L1400.0,439.8 L1401.3,439.8 L1402.6,439.8 L1403.9,439.8 L1405.2,439.9 L1406.5,439.9 L1407.8,440.0 L1409.1,440.1 L1410.4,440.2 L1411.7,440.3 L1413.0,440.4 L1414.3,440.6 L1415.6,440.7 L1416.9,440.9 L1418.2,441.1 L1419.5,441.3 L1420.8,441.5 L1422.1,441.7 L1423.4,441.9 L1424.7,442.2 L1426.1,442.4 L1427.4,442.7 L1428.7,443.0 L1430.0,443.3 L1431.3,443.6 L1432.6,443.9 L1433.9,444.2 L1435.2,444.5 L1436.5,444.9 L1437.8,445.2 L1439.1,445.6 L1440.4,445.9 L1441.7,446.2 L1443.0,446.6 L1444.3,446.9 L1445.6,447.3 L1446.9,447.6 L1448.2,448.0 L1449.5,448.3 L1450.8,448.6 L1452.1,449.0 L1453.4,449.3 L1454.7,449.7 L1456.0,450.0 L1457.3,450.3 L1458.6,450.6 L1459.9,451.0 L1461.2,451.3 L1462.5,451.6 L1463.8,451.9 L1465.1,452.1 L1466.4,452.4 L1467.7,452.7 L1469.0,452.9 L1470.3,453.2 L1471.6,453.5 L1472.9,453.7 L1474.3,453.9 L1475.6,454.2 L1476.9,454.4 L1478.2,454.7 L1479.5,454.9 L1480.8,455.1 L1482.1,455.3 L1483.4,455.5 L1484.7,455.8 L1486.0,456.0 L1487.3,456.2 L1488.6,456.4 L1489.9,456.6 L1491.2,456.7 L1492.5,456.9 L1493.8,457.1 L1495.1,457.3 L1496.4,457.5 L1497.7,457.6 L1499.0,457.8 L1500.3,457.9 L1501.6,458.1 L1502.9,458.3 L1504.2,458.4 L1505.5,458.6 L1506.8,458.7 L1508.1,458.9 L1509.4,459.0 L1510.7,459.1 L1512.0,459.3 L1513.3,459.4 L1514.6,459.5 L1515.9,459.7 L1517.2,459.8 L1518.5,459.9 L1519.8,460.0 L1521.2,460.1 L1522.5,460.3 L1523.8,460.4 L1525.1,460.5 L1526.4,460.5 L1527.7,460.6 L1529.0,460.7 L1530.3,460.8 L1531.6,460.9 L1532.9,461.0 L1534.2,461.1 L1535.5,461.1 L1536.8,461.2 L1538.1,461.3 L1539.4,461.4 L1540.7,461.5 L1542.0,461.5 L1543.3,461.6 L1544.6,461.7 L1545.9,461.7 L1547.2,461.8 L1548.5,461.8 L1549.8,461.9 L1551.1,461.9 L1552.4,462.0 L1553.7,462.0 L1555.0,462.1 L1556.3,462.1 L1557.6,462.2 L1558.9,462.2 L1560.2,462.2 L1561.5,462.2 L1562.8,462.3 L1564.1,462.3 L1565.4,462.3 L1566.7,462.3 L1568.0,462.4 L1569.4,462.4 L1570.7,462.4 L1572.0,462.4 L1573.3,462.4 L1574.6,462.5 L1575.9,462.5 L1577.2,462.5 L1578.5,462.5 L1579.8,462.5 L1581.1,462.5 L1582.4,462.5 L1583.7,462.6 L1585.0,462.6 L1586.3,462.6 L1587.6,462.6 L1588.9,462.6 L1590.2,462.6 L1591.5,462.6 L1592.8,462.7 L1594.1,462.7 L1595.4,462.7 L1596.7,462.7 L1598.0,462.7 L1599.3,462.7 L1600.6,462.7 L1601.9,462.7 L1603.2,462.7 L1604.5,462.7 L1605.8,462.8 L1607.1,462.8 L1608.4,462.8 L1609.7,462.8 L1611.0,462.8 L1612.3,462.8 L1613.6,462.8 L1614.9,462.8 L1616.3,462.8 L1617.6,462.8 L1618.9,462.8 L1620.2,462.8 L1621.5,462.9 L1622.8,462.9 L1624.1,462.9 L1625.4,462.9 L1626.7,462.9 L1628.0,462.9 L1629.3,462.9 L1630.6,462.9 L1631.9,462.9 L1633.2,462.9 L1634.5,462.9 L1635.8,462.9 L1637.1,462.9 L1638.4,463.0 L1639.7,463.0 L1641.0,463.0 L1642.3,463.0 L1643.6,463.0 L1644.9,463.0 L1646.2,463.0 L1647.5,463.0 L1648.8,463.0 L1650.1,463.0 L1651.4,463.0 L1652.7,463.0 L1654.0,463.0 L1655.3,463.0 L1656.6,463.0 L1657.9,463.1 L1659.2,463.1 L1660.5,463.1 L1661.8,463.1 L1663.1,463.1 L1664.5,463.1 L1665.8,463.1 L1667.1,463.1 L1668.4,463.1 L1669.7,463.1 L1671.0,463.1 L1672.3,463.1 L1673.6,463.1 L1674.9,463.1 L1676.2,463.1 L1677.5,463.1 L1678.8,463.1 L1680.1,463.1 L1681.4,463.1 L1682.7,463.1 L1684.0,463.1 L1685.3,463.1 L1686.6,463.1 L1687.9,463.1 L1689.2,463.1 L1690.5,463.1 L1691.8,463.1 L1693.1,463.1 L1694.4,463.1 L1695.7,463.1 L1697.0,463.2" fill="none" stroke="#444444" stroke-width="2.2" stroke-linejoin="round"/>
<path d="M1157.9,253.6L1157.9,485.3L1677.9,485.3L1860.5,276.7L1860.5,45.0L1340.5,45.0Z" stroke="#000" stroke-width="3.5" fill="none" stroke-linejoin="miter" stroke-linecap="square"/>
<path d="M1157.9,485.3V495.3 M1287.9,485.3V495.3 M1417.9,485.3V495.3 M1547.9,485.3V495.3 M1677.9,485.3V495.3 M1222.9,485.3V490.3 M1352.9,485.3V490.3 M1482.9,485.3V490.3 M1612.9,485.3V490.3 M1860.5,276.7H1866.0 M1860.5,214.9H1866.0 M1860.5,153.1H1866.0 M1860.5,91.3H1866.0 M1860.5,245.8H1864.0 M1860.5,184.0H1864.0 M1860.5,122.2H1864.0 M1860.5,60.4H1864.0 M1697.0,463.5H1707.0 M1720.9,436.2H1730.9 M1744.8,408.9H1754.8 M1768.7,381.6H1778.7 M1792.6,354.3H1802.6 M1816.5,327.0H1826.5 M1840.4,299.7H1850.4" stroke="#000" stroke-width="3" fill="none"/>
<text x="1157.9" y="518.2" font-size="27" text-anchor="middle" >700</text>
<text x="1287.9" y="518.2" font-size="27" text-anchor="middle" >750</text>
<text x="1417.9" y="518.2" font-size="27" text-anchor="middle" >800</text>
<text x="1547.9" y="518.2" font-size="27" text-anchor="middle" >850</text>
<text x="1677.9" y="518.2" font-size="27" text-anchor="middle" >900</text>
<text x="1869.5" y="285.7" font-size="26.5" text-anchor="start" >0.0</text>
<text x="1869.5" y="223.9" font-size="26.5" text-anchor="start" >1.0</text>
<text x="1869.5" y="162.1" font-size="26.5" text-anchor="start" >2.0</text>
<text x="1869.5" y="100.3" font-size="26.5" text-anchor="start" >3.0</text>
<text x="1720.0" y="476.5" font-size="26.5" text-anchor="start" >1</text>
<text x="1743.9" y="449.2" font-size="26.5" text-anchor="start" >10</text>
<text x="1767.8" y="421.9" font-size="26.5" text-anchor="start" >25</text>
<text x="1791.7" y="394.6" font-size="26.5" text-anchor="start" >50</text>
<text x="1815.6" y="367.3" font-size="26.5" text-anchor="start" >75</text>
<text x="1839.5" y="340.0" font-size="26.5" text-anchor="start" >100</text>
<text x="1863.4" y="312.7" font-size="26.5" text-anchor="start" >150</text>
<text x="1417.5" y="548.3" font-size="29.2" text-anchor="middle" >Wavelength (nm)</text>
<text x="1362.0" y="134.0" font-size="29.3" text-anchor="start" >C5T-Pco</text>
<text x="1809.5" y="40.0" font-size="27" text-anchor="start" >&#215;10<tspan dy="-12.5" font-size="19">6</tspan></text>
<text transform="translate(1943,156) rotate(-90)" font-size="28.3" text-anchor="middle">PL Intensity (arb. units)</text>
<text transform="translate(1881,428) rotate(-48.8)" font-size="28.3" text-anchor="middle">Concentration (&#956;g mL<tspan dy="-11" font-size="19">-1</tspan><tspan dy="11">)</tspan></text>
<text x="728.0" y="1203.7" font-size="35" text-anchor="start" >h</text>
<text x="1009.5" y="1207.2" font-size="36" text-anchor="middle" >BF</text>
<text x="1110.7" y="1206.0" font-size="36" text-anchor="middle" >0</text>
<text x="1808.5" y="1206.3" font-size="36" text-anchor="middle" >7 mm</text>
<path d="M1160,1193.6H1706" stroke="#000" stroke-width="8"/>
<path d="M1729,1193.7L1705.4,1181.8V1205.6Z" fill="#000"/>
<rect x="960.1" y="1225.6" width="97.4" height="163.4" fill="#6e6e6e"/>
<path d="M960.1,1302.0 L1057.5,1302.0 L1057.5,1311.0 L960.1,1311.0Z" fill="url(#hline)" opacity="0.62"/>
<rect x="1061.3" y="1225.6" width="97.4" height="163.4" fill="#030303"/>
<path d="M1061.3,1302.0 L1158.7,1304.5 L1158.7,1313.5 L1061.3,1311.0Z" fill="url(#hline)" opacity="0.60"/>
<rect x="1162.5" y="1225.6" width="97.4" height="163.4" fill="#050505"/>
<path d="M1162.5,1302.0 L1259.9,1304.5 L1259.9,1313.5 L1162.5,1311.0Z" fill="url(#hline)" opacity="0.55"/>
<rect x="1263.7" y="1225.6" width="97.4" height="163.4" fill="#040404"/>
<path d="M1263.7,1302.0 L1361.1,1304.5 L1361.1,1313.5 L1263.7,1311.0Z" fill="url(#hline)" opacity="0.12"/>
<rect x="1364.9" y="1225.6" width="97.4" height="163.4" fill="#040404"/>
<path d="M1364.9,1302.0 L1462.3,1304.5 L1462.3,1313.5 L1364.9,1311.0Z" fill="url(#hline)" opacity="0.03"/>
<rect x="1466.1" y="1225.6" width="97.4" height="163.4" fill="#040404"/>
<path d="M1466.1,1302.0 L1563.5,1304.5 L1563.5,1313.5 L1466.1,1311.0Z" fill="url(#hline)" opacity="0.02"/>
<rect x="1567.3" y="1225.6" width="97.4" height="163.4" fill="#040404"/>
<path d="M1567.3,1302.0 L1664.7,1304.5 L1664.7,1313.5 L1567.3,1311.0Z" fill="url(#hline)" opacity="0.02"/>
<rect x="1668.5" y="1225.6" width="97.4" height="163.4" fill="#040404"/>
<path d="M1668.5,1302.0 L1765.9,1304.5 L1765.9,1313.5 L1668.5,1311.0Z" fill="url(#hline)" opacity="0.02"/>
<rect x="1769.7" y="1225.6" width="97.4" height="163.4" fill="#050505"/>
<rect x="960.1" y="1393.0" width="97.4" height="164.8" fill="#262626"/>
<path d="M960.1,1469.0 L1057.5,1469.0 L1057.5,1478.0 L960.1,1478.0Z" fill="url(#hline)" opacity="0.22"/>
<rect x="1061.3" y="1393.0" width="97.4" height="164.8" fill="#040404"/>
<path d="M1061.3,1469.0 L1158.7,1469.0 L1158.7,1478.0 L1061.3,1478.0Z" fill="url(#hline)" opacity="0.10"/>
<rect x="1162.5" y="1393.0" width="97.4" height="164.8" fill="#040404"/>
<path d="M1162.5,1469.0 L1259.9,1469.0 L1259.9,1478.0 L1162.5,1478.0Z" fill="url(#hline)" opacity="0.10"/>
<rect x="1263.7" y="1393.0" width="97.4" height="164.8" fill="#040404"/>
<path d="M1263.7,1469.0 L1361.1,1469.0 L1361.1,1478.0 L1263.7,1478.0Z" fill="url(#hline)" opacity="0.10"/>
<rect x="1364.9" y="1393.0" width="97.4" height="164.8" fill="#040404"/>
<path d="M1364.9,1469.0 L1462.3,1469.0 L1462.3,1478.0 L1364.9,1478.0Z" fill="url(#hline)" opacity="0.12"/>
<rect x="1466.1" y="1393.0" width="97.4" height="164.8" fill="#040404"/>
<path d="M1466.1,1469.0 L1563.5,1469.0 L1563.5,1478.0 L1466.1,1478.0Z" fill="url(#hline)" opacity="0.10"/>
<rect x="1567.3" y="1393.0" width="97.4" height="164.8" fill="#040404"/>
<path d="M1567.3,1469.0 L1664.7,1469.0 L1664.7,1478.0 L1567.3,1478.0Z" fill="url(#hline)" opacity="0.10"/>
<rect x="1668.5" y="1393.0" width="97.4" height="164.8" fill="#040404"/>
<path d="M1668.5,1469.0 L1765.9,1469.0 L1765.9,1478.0 L1668.5,1478.0Z" fill="url(#hline)" opacity="0.10"/>
<rect x="1769.7" y="1393.0" width="97.4" height="164.8" fill="#040404"/>
<path d="M1769.7,1469.0 L1867.1,1469.0 L1867.1,1478.0 L1769.7,1478.0Z" fill="url(#hline)" opacity="0.07"/>
<rect x="960.1" y="1564.0" width="97.4" height="164.5" fill="#5d5d5d"/>
<path d="M960.1,1640.0 L1057.5,1640.0 L1057.5,1649.0 L960.1,1649.0Z" fill="url(#hline)" opacity="0.62"/>
<rect x="1061.3" y="1564.0" width="97.4" height="164.5" fill="#151515"/>
<path d="M1061.3,1640.0 L1158.7,1642.5 L1158.7,1651.5 L1061.3,1649.0Z" fill="url(#hline)" opacity="0.92"/>
<rect x="1162.5" y="1564.0" width="97.4" height="164.5" fill="#141414"/>
<path d="M1162.5,1640.0 L1259.9,1642.5 L1259.9,1651.5 L1162.5,1649.0Z" fill="url(#hline)" opacity="0.85"/>
<rect x="1263.7" y="1564.0" width="97.4" height="164.5" fill="#141414"/>
<path d="M1263.7,1640.0 L1361.1,1642.5 L1361.1,1651.5 L1263.7,1649.0Z" fill="url(#hline)" opacity="0.75"/>
<rect x="1364.9" y="1564.0" width="97.4" height="164.5" fill="#0f0f0f"/>
<path d="M1364.9,1640.0 L1462.3,1642.5 L1462.3,1651.5 L1364.9,1649.0Z" fill="url(#hline)" opacity="0.62"/>
<rect x="1466.1" y="1564.0" width="97.4" height="164.5" fill="#030303"/>
<path d="M1466.1,1640.0 L1563.5,1642.5 L1563.5,1651.5 L1466.1,1649.0Z" fill="url(#hline)" opacity="0.45"/>
<rect x="1567.3" y="1564.0" width="97.4" height="164.5" fill="#030303"/>
<path d="M1567.3,1640.0 L1664.7,1642.5 L1664.7,1651.5 L1567.3,1649.0Z" fill="url(#hline)" opacity="0.32"/>
<rect x="1668.5" y="1564.0" width="97.4" height="164.5" fill="#050505"/>
<path d="M1668.5,1640.0 L1765.9,1642.5 L1765.9,1651.5 L1668.5,1649.0Z" fill="url(#hline)" opacity="0.30"/>
<rect x="1769.7" y="1564.0" width="97.4" height="164.5" fill="#050505"/>
<path d="M1769.7,1640.0 L1867.1,1642.5 L1867.1,1651.5 L1769.7,1649.0Z" fill="url(#hline)" opacity="0.12"/>
<rect x="1887.5" y="1225.8" width="45" height="501.5" fill="url(#cbar)" stroke="#777" stroke-width="1.5"/>
<text transform="translate(1965,1281) rotate(-90)" font-size="32" text-anchor="middle">15000</text>
<text transform="translate(1965,1713.5) rotate(-90)" font-size="32" text-anchor="middle">0</text>
<text transform="translate(849,1327) rotate(-21)" font-size="35" text-anchor="middle">ICG</text>
<text transform="translate(848,1495) rotate(-20)" font-size="35" text-anchor="middle">C5T-Pc NP</text>
<text transform="translate(849,1664) rotate(-20)" font-size="35" text-anchor="middle">C5T-Pco NP</text>
</svg>
</body></html>
